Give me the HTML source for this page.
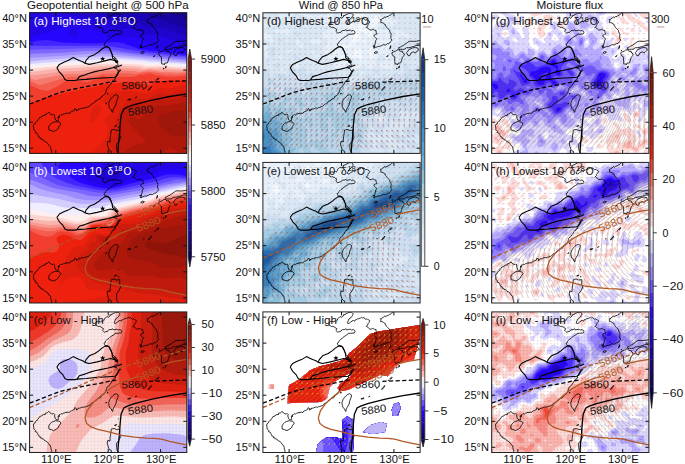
<!DOCTYPE html><html><head><meta charset="utf-8"><style>html,body{margin:0;padding:0;background:#fff;overflow:hidden}svg{display:block}text{font-family:"Liberation Sans",sans-serif}</style></head><body>
<svg width="685" height="464" viewBox="0 0 685 464">
<defs><clipPath id="cp"><rect x="0" y="0" width="157.2" height="140.6"/></clipPath>
<g id="geo" fill="none" stroke="#000" stroke-width="0.8" stroke-linejoin="round"><path d="M22.3 141.1 L22.2 139.9 L22 139.5 L22 138 L21.4 137.2 L21.2 135.4 L20.9 133.7 L20.4 133.3 L19.4 132.8 L18.9 131.7 L18.3 130.7 L17.3 129.9 L16.2 129.1 L15.5 129.1 L14.7 128.1 L13.8 127.1 L12.3 126.9 L12.1 126 L10.4 125.8 L10.5 124.5 L8.9 123.9 L8.5 122.9 L8.4 122.4 L7.9 121.4 L7.3 120.3 L5.5 119.7 L5.9 118.5 L5.2 117.7 L4 116.9 L4.2 115.6 L3.9 114 L3.7 113.1 L4.5 111.4 L5.6 111 L5.8 109.9 L6.8 108.7 L7.9 108.3 L8.2 107.3 L9.2 106.2 L10 104.7 L11.1 104.4 L12.1 104.1 L12.5 103.3 L14.1 102.6 L15.6 102.7 L15.7 101.3 L17.2 101 L17.8 100.8 L18.9 99.7 L19.3 99.4 L20.4 101 L22 101.8 L23.4 102.2 L24.1 101.5 L25.2 102.6 L24.9 104.1 L25.3 105.2 L25.7 106.8 L26.4 107.1 L27.2 108.1 L28.8 107.8 L28.7 106.4 L28.6 105.7 L29.6 104.7 L29.3 103.1 L30.5 102.7 L31.4 101.8 L32.7 102.1 L33.6 101.4 L35.1 101 L36.6 100.2 L36.6 100.9 L38.3 100.2 L39.9 100.7 L40.9 99.2 L41.7 98.9 L43 98.4 L44.5 97.7 L44.8 97.6 L45.1 95.8 L46.1 96.3 L47 97 L48.2 97.4 L48.9 96.1 L49.8 96.3 L50.9 96 L52.4 95.3 L53.6 95.2 L54.4 95.5 L55.5 94.8 L56.8 94.7 L58.5 93.9 L59.2 94 L60 93 L60.8 92.7 L61.7 91.4 L62.9 91.1 L63.9 90.1 L65 89.6 L65.4 88.6 L67.1 88 L67.1 88.2 L68.6 86.4 L69.8 86.3 L71.3 85.4 L72.1 83.3 L72.8 83.3 L73.5 82.8 L74.9 81.8 L75.6 80.7 L76 80.2 L76.2 79.2 L76.5 78.1 L77.1 76.8 L77 76 L77.3 75.3 L78.6 74.5 L79.4 73.9 L80.2 72.4 L80.8 71.9 L81.7 70.6 L81.7 69.8 L82.6 69 L83.3 67.7 L84.1 68.1 L84.5 66.5 L85.9 66.1 L85.5 64.4 L87 63.5 L86.7 61.9 L88 60.9 L88.2 59.3 L89.1 58.3 L88.4 58.3 L87.5 56.8 L87 55.6 L85.4 55.7 L84.6 55.1 L83.8 54.2 L84.8 54 L85.9 52.9 L87.8 53 L88.6 52.6 L88.3 51.9 L88 50.5 L86.9 50.2 L86.9 48.8 L85.4 47.9 L86.9 48.1 L87.2 48.4 L88.6 48.4 L87.6 47.6 L87 46.8 L86.5 45.8 L84.9 45.5 L85.5 44.8 L83.8 43.7 L82.8 42.5 L82.8 41.7 L82.9 41.3 L81.6 39.9 L81.2 38.5 L80 37.1 L80.5 36.4 L80.2 35.4 L78.8 34.4 L78.1 33.8 L76.8 33.6 L75.5 33.7 L74.9 32.8 L74.4 31.2 L75.8 30.4 L76 29.2 L76.8 28.5 L77.2 28 L78.1 27.1 L79.4 26.4 L80.2 25.5 L81.1 24.7 L82.3 24 L83.7 23.1 L84.2 23.2 L84.9 22.4 L85.5 21.4 L87.5 21.4 L89.2 21.4 L90.2 21 L91.2 21.4 L92.1 20.1 L92.2 19.8 L91.7 18.5 L90.4 17.7 L89 17.9 L88.6 18.2 L87.7 17.6 L87.3 17.2 L85.4 17.7 L83.6 18 L82.8 16.7 L81.9 17.7 L80.2 17.7 L79.3 17.8 L77.7 19.7 L77.6 19.3 L76.4 19.8 L74.9 20.3 L73.9 19.5 L73.1 18.7 L73.1 18.4 L73.9 16.7 L72.8 16.3 L71.8 15.1 L70.1 14.6 L69.9 14.4 L68.6 14.6 L68.1 14.1 L66.6 13.7 L66 12.5 L66.4 11.6 L66.5 9.9 L67.8 9.5 L68.6 9.4 L70.9 10 L71.3 9.4 L72.7 9.1 L73.4 9.4 L74.4 8.3 L74.7 6.9 L75.5 6.2 L76.3 5.8 L77.1 4.8 L78.1 4.9 L78.9 5.5 L79.5 5 L80.7 3.6 L80 3.2 L83.1 2.2 L83.3 1.6 L84.1 1.5 L85.9 0.5 L87.8 0.3 L88.6 0.3 L89.4 0.9 L90.1 1.6 L90.1 3.1 L89.4 3.8 L88.6 5.2 L88.1 5.8 L86.7 6.4 L86.5 7.3 L85.6 7.6 L85.4 8.9 L84.6 10.2 L84.9 11.5 L86.2 11.6 L87.5 10.4 L89.4 9.1 L89.4 8.8 L90.7 8.6 L91.7 9.4 L92.6 7.8 L93.4 7.9 L94.3 7 L95.2 6.9 L97 6.4 L97.5 6.2 L98.7 5.4 L99.6 6.1 L101.1 5.7 L101.1 5.8 L102.7 7.3 L104.2 7 L104.8 7.6 L106.2 8.2 L106.9 8.9 L106.5 10 L105.8 10.9 L105.2 11.7 L104.8 12.5 L105 13 L103.7 14.3 L103.2 14.8 L103.8 14.5 L105.2 15.7 L105.8 16.1 L107 17.2 L108.5 17.2 L109.5 16.6 L110.6 16.9 L111.7 17.4 L113.2 17.7 L113.2 19.3 L113.6 20.1 L114.2 21.1 L112.4 21.6 L112.1 21.9 L111.2 22.2 L111.1 23.4 L111.5 23.9 L112.7 25 L113.9 25.9 L113.7 26.6 L112.9 27.5 L112.7 28.6 L112.4 30.4 L112.1 31.2 L112.1 31.3 L111.6 33.3 L112.7 34.6 L113.6 34.3 L114.8 33.8 L115.3 33.6 L116.9 33.6 L118.4 32.8 L118.9 32.8 L120.5 31.8 L122.4 32.3 L123.1 32 L124.7 30.8 L125.2 31 L126.8 30.2 L127.5 29.2 L127.9 28.6 L129 27.4 L128.4 26 L127.9 25.6 L128.1 23.3 L127.9 22.9 L128.3 22.1 L127.9 20.3 L126.9 19.2 L126.8 17.7 L126.2 17.1 L125.5 16.2 L124.7 15.6 L123.9 14.8 L123.4 13.9 L122.6 13 L122.2 11.3 L121.5 11.3 L120.5 10.4 L118.9 9.7 L117.9 10 L117.9 8.9 L118 7.5 L117.4 6.8 L118.4 7.1 L119.5 5.7 L120.3 5.7 L121.9 3.9 L122.7 4.9 L123.7 4.2 L124 3.7 L125.3 3.7 L126.3 2.6 L127.4 2.5 L128.9 0.9 L129.4 0.8 L130 -0.5"/><path d="M135.7 37 L134.1 37 L132.6 38.5 L130.5 39.1 L128.9 40.1 L129.4 41.7 L130.2 43.2 L132 44.3 L131.8 46.3 L132 48.9 L132 51 L134.1 51.3 L134.7 52.1 L135.2 50.3 L136.5 50.3 L137.8 50 L138.6 47.9 L139.4 44.8 L141 42.7 L141.5 41.1 L139.9 40.1 L139.4 38.5 L137.3 38.5 L135.7 37"/><path d="M158.2 33.1 L155.1 32.5 L153 32.8 L150.9 33.6 L148.3 34.4 L145.7 34.9 L143.6 34.9 L141.5 36.5 L139.9 36.5 L137.8 36.5 L136.2 36.7 L135.7 34.9 L137.3 34.4 L138.9 33.3 L140.4 32.8 L142.5 31.2 L144.6 29.7 L146.2 28.6 L148.3 28.4 L150.9 28.6 L153.5 28.4 L156.2 27.9 L158.2 27.3"/><path d="M143.6 39.8 L145.1 42.7 L146.7 43 L148.3 40.1 L150.4 39.1 L152.7 40.1 L153.5 38.8 L155.6 37.5 L155.1 35.4 L152.5 34.6 L149.9 35.1 L147.2 36.2 L145.7 37 L145.1 38.3 L143.6 39.8"/><path d="M86.7 81.8 L88.6 83.1 L88.3 85.4 L87 88.5 L86.2 92.2 L84.4 95.3 L83.3 97.4 L83.1 99.5 L82.3 98.9 L81.7 96.9 L80.2 95.8 L79.4 93.7 L79.1 90.6 L80.2 87.5 L81.7 85.4 L83.3 83.8 L84.4 82.8 L86.7 81.8"/><path d="M27.8 109.1 L29.9 109.4 L31.4 111.2 L29.3 114 L28.8 115.6 L26.7 117.2 L24.1 118.7 L21.5 117.7 L19.4 117.2 L19.1 114 L20.4 112 L22 110.4 L23.6 109.6 L26.2 108.8 L27.8 109.1"/><path d="M81.7 141.1 L81.7 138.5 L80.2 138 L79.1 136.4 L78.3 133.8 L77.6 131.2 L78.1 128.6 L80.4 129.1 L80.4 126.5 L81 122.4 L81.7 117.2 L84.4 116.6 L87 117.7 L90.1 117.2 L90.1 122.4 L91.2 124.5 L89.1 128.6 L87 131.2 L87 135.4 L87.5 138.5 L89.1 140.1 L90.1 141.1"/><path d="M118.7 77.6 L120 75.5 L122.1 73.7 L121 75.5 L119.5 77.3 L118.7 77.6Z"/><path d="M126.8 67.2 L128.4 65.4 L129.4 65.6 L127.9 67.2 L126.8 67.2Z"/><path d="M133.4 56 L134.4 55.2 L134.1 56 L133.4 56Z"/><path d="M135.7 55.2 L136.5 53.1 L136.2 55.2 L135.7 55.2Z"/><path d="M111.1 40.1 L112.7 38.8 L114.8 39.3 L113.2 40.6 L111.1 40.1Z"/><path d="M126.8 35.9 L127.9 32.8 L127.6 35.4 L126.8 35.9Z"/><path d="M105.8 84.9 L107.2 84.1 L106.4 84.9 L105.8 84.9Z"/><path d="M98 87 L101.1 85.9 L100.6 87 L98 87Z"/><path d="M88.6 107.3 L89.1 106.8 L88.8 107.3 L88.6 107.3Z"/><path d="M89.1 57.8 L90.7 56.8 L91.2 57.8 L89.6 58.3 L89.1 57.8Z"/><path d="M85.4 48.9 L88.6 49.2 L88.3 49.7 L85.4 49.2 L85.4 48.9Z"/><path d="M110 33.3 L111.6 32.8 L111.1 33.8 L110 33.3Z"/><path d="M110.6 34.9 L112.1 34.6 L111.6 35.4 L110.6 34.9Z"/><path d="M123.7 43.7 L125.2 42.7 L124.7 43.7 L123.7 43.7Z"/><path d="M76 91.1 L77 90.1 L76.8 91.1 L76 91.1Z"/><path d="M84.9 113.5 L87 112.5 L86.5 113.5 L84.9 113.5Z"/><path d="M88.6 114.6 L89.1 114 L88.8 114.8 L88.6 114.6Z"/><path d="M46.4 97.9 L47.4 97.4 L47.2 97.9 L46.4 97.9Z"/><path d="M28.3 104.7 L29.3 103.6 L29.1 104.9 L28.3 104.7Z"/><path d="M77.6 81.2 L78.1 80.2 L78.3 81.2 L77.6 81.2Z"/><path d="M125.2 68.7 L125.8 68.2 L125.5 69 L125.2 68.7Z"/><path d="M113.7 76.5 L114.2 76 L114 76.8 L113.7 76.5Z"/><path d="M129.4 38 L130 37.2 L129.7 38 L129.4 38Z"/><path stroke-width="1.1" d="M27.3 55 L29.8 51.6 L34.2 49.4 L38.6 47.7 L43.6 44.7 L46.4 46.1 L49.7 47.7 L53.1 48.9 L55.3 50.5"/><path stroke-width="1.1" d="M55.3 50.5 L56.4 47.7 L59.7 43.9 L65.3 41.6 L69.5 38.7 L72.4 36.2 L74.7 34.7 L76.2 34 L79.2 34.7 L81.5 38.5 L82.6 42.3 L83 45.3 L85.3 46.8 L87.5 49.1"/><path stroke-width="1.1" d="M55.3 50.5 L59.7 51.6 L67.5 50 L74.1 48.3 L80.8 46.6 L85.2 47.7 L87.4 49.4"/><path stroke-width="1.1" d="M27.3 55 L29.8 59.4 L33.1 62.7 L35.3 66.6 L37.5 67.7 L45.3 67.7 L47.5 67.2 L56.4 66.6 L67.5 65.5 L78.6 64.9 L85.2 64.4 L87.5 62.7 L89.7 58.3"/><path stroke-width="1.1" d="M47.5 67.2 L49.7 63.8 L55.3 62.2 L59.7 60.5 L65.3 58.8 L70.8 57.7 L78.6 56.1 L83 55 L88.6 53.8 L92.4 52.2"/><path d="M73 43.6l0.8 1.7 1.8 0.1-1.4 1.1 0.5 1.8-1.7-1-1.6 1 0.5-1.8-1.4-1.1 1.8-0.1z" fill="#000" stroke="none"/></g>
<pattern id="grid" width="3.4" height="3.4" patternUnits="userSpaceOnUse"><path d="M0 0.5H3.4M0.5 0V3.4" stroke="#604040" stroke-width="0.7" stroke-opacity="0.08" fill="none"/></pattern><pattern id="dots" width="3.4" height="3.4" patternUnits="userSpaceOnUse"><rect x="1" y="1" width="0.9" height="0.9" fill="#503030" fill-opacity="0.35"/></pattern><clipPath id="fall"><path d="M24.6 91.4 L26.1 73.3 L36.7 67.3 L47.3 58.3 L56.3 54.5 L66.9 52.2 L77.4 49.2 L83.5 46.2 L86.3 41.4 L93.6 35.5 L100.9 28.3 L106.7 22.4 L115.5 19.5 L125.7 18 L134.5 16.6 L144.7 15.1 L157.3 13 L157.3 25 L155.6 30.6 L151 47.5 L137 50.5 L129.5 58.2 L125 64.3 L117.1 62.8 L107.6 67.3 L95.5 73.3 L85 77.9 L77.4 79.4 L74.4 76.4 L77.4 71.8 L88 64.3 L88 60.5 L80.4 64.3 L72.9 68.8 L66.9 74.9 L63.9 86.9 L57.8 90 L35.2 90.7ZM6 72.5 L11 72.5 L11 77 L6 77ZM52.8 141 L55 132 L62 126 L72 125 L79 127 L80 118 L79 108.7 L84 104 L90 108 L91 125 L90 141ZM100 120 L108 113 L118 110 L124 112 L122 120 L110 122ZM128.8 98 L131 92 L136 90.6 L137.8 96 L135 104 L130 104Z"/></clipPath>
</defs>
<g transform="translate(29.6,12.8)"><g clip-path="url(#cp)">
<rect x="-2" y="-2" width="161.2" height="144.6" fill="#0b024c"/>
<path fill="#0d0258" d="M-1 -1 158.2 -1 158.2 141.6 -1 141.6 -1 -1Z"/>
<path fill="#11026e" d="M-1 -1 158.2 -1 158.2 141.6 -1 141.6 -1 -1Z"/>
<path fill="#140387" d="M-1 -1 158.2 -1 158.2 141.6 -1 141.6 -1 -1Z"/>
<path fill="#18039e" d="M-1 -1 135.5 -1 136.8 0.3 139.5 0.3 140.8 1.6 146.2 1.6 147.1 2.9 152.8 2.9 154.2 4.2 156.9 4.2 158.2 5.5 158.2 141.6 -1 141.6 -1 -1Z"/>
<path fill="#1b04b7" d="M-1 -1 115.4 -1 115.6 0.3 124.8 4.5 142.1 10.3 156.9 15.9 158.2 16 158.2 141.6 -1 141.6 -1 -1Z"/>
<path fill="#1f04cd" d="M-1 -1 75.3 -1 76.1 0.3 100.7 7.6 118.1 13.4 126.1 15.1 130.1 14.5 131.4 14.8 158.2 23.9 158.2 141.6 -1 141.6 -1 -1Z"/>
<path fill="#2305e6" d="M-1 -1 15.1 -1 15.1 0.3 25.8 0.3 27.1 -1 33.8 -1 34.1 0.3 75.3 9.2 80.6 12.4 84.6 16.6 96.7 15.8 106 16.6 116.7 21.3 122.1 22.1 126.1 21.1 145.1 27.8 158.2 30.4 158.2 141.6 -1 141.6 -1 -1Z"/>
<path fill="#2706ff" d="M35.3 14.7 39.1 14.7 41.6 16 39.8 18.6 39.3 19.9 39.3 21.2 40.2 22.5 41.8 23.1 44.5 23.2 47.2 22.6 48.9 21.2 48.5 19.7 45.3 17.3 45.8 16.9 52.5 16.5 63.2 17.2 69.9 18.5 75.3 20.2 76.3 23.9 77.9 24.8 88.6 23.6 95.3 23.4 102 24.1 110 25.9 118.5 29.1 120.5 30.4 121.3 33 122.8 34.3 127.4 35.6 138.1 36.3 154.2 35.9 156.9 36.2 158.2 36.9 158.2 141.6 -1 141.6 -1 16 -0.2 17.3 0.3 25.2 15.1 20.2 35.3 14.7Z"/>
<path fill="#4225ff" d="M9.1 27.8 17.7 27.2 33.8 29.8 56.5 30.5 68.6 30.5 81.9 29.4 88.6 29.5 94.2 30.4 95.9 31.7 99.3 32.5 108 35.6 113.6 36.9 122.1 38.2 134.1 39.1 158.2 42.2 158.2 141.6 -1 141.6 -1 30.4 0.3 29.6 9.1 27.8Z"/>
<path fill="#6149ff" d="M-1 33 73.9 32.9 83.3 33.9 115.4 39.3 158.2 43.5 158.2 141.6 -1 141.6 -1 33Z"/>
<path fill="#7c68ff" d="M49.5 35.6 65.9 35.5 77.9 36 101.8 39.6 132.8 42.8 156.9 45 158.2 44.8 158.2 141.6 -1 141.6 -1 38.2 0.3 37 49.5 35.6Z"/>
<path fill="#9b8bff" d="M56.5 38.2 67.2 38.1 76.6 38.5 119.4 43.2 156.9 46.6 158.2 46.1 158.2 141.6 -1 141.6 -1 42.2 0.3 41 32.4 39.9 56.5 38.2Z"/>
<path fill="#b6abff" d="M44.2 42.2 63.2 41 77.9 41.1 156.9 48.1 158.2 48.7 158.2 141.6 -1 141.6 -1 46.1 0.3 45 44.2 42.2Z"/>
<path fill="#d4ceff" d="M49 44.8 67.2 43.6 81.9 43.7 158.2 50 158.2 141.6 -1 141.6 -1 48.7 16.4 47 49 44.8Z"/>
<path fill="#f0edff" d="M73.5 46.1 79.3 45.9 88.6 46.3 115.4 48.3 119.4 49 131.4 49.4 158.2 51.3 158.2 141.6 -1 141.6 -1 51.3 29.8 48.6 73.5 46.1Z"/>
<path fill="#feefee" d="M70.5 48.7 79.3 48.3 87.3 48.4 114.1 50.1 118.1 51.4 126.1 51 154.2 52.8 158.2 52.6 158.2 141.6 -1 141.6 -1 53.9 0.3 53.5 21.7 51.5 70.5 48.7Z"/>
<path fill="#fcd4d0" d="M62.5 51.3 87.3 50.7 111.4 51.9 112.7 52.1 115.4 53.4 116.7 53.5 123.4 53.5 127.4 52.9 152.8 54.4 156.9 54.3 158.2 53.9 158.2 141.6 -1 141.6 -1 56.6 0.3 56 15.1 54.5 62.5 51.3Z"/>
<path fill="#fab4ae" d="M64.1 53.9 76.6 52.9 88.6 53 110 53.9 114.1 55.5 120.7 55 126.1 55.3 128.8 54.8 152.8 56.1 156.9 55.8 158.2 55.3 158.2 141.6 -1 141.6 -1 59.2 5.7 58.7 15.1 57.2 24.4 56.2 64.1 53.9Z"/>
<path fill="#f89890" d="M77.9 55.3 107.4 56 108.7 56.1 111.4 57.4 120.7 56.3 127.4 57.1 134.1 56.8 150.2 57.8 156.9 57.3 158.2 57.9 158.2 141.6 -1 141.6 -1 63.1 0.3 62.1 3 62.5 7 62.1 32.4 58.6 47.2 58.2 77.9 55.3Z"/>
<path fill="#f6796e" d="M80 57.9 84.6 57.6 106 58.4 108.7 59.4 119.4 57.5 123.4 57.7 131.4 59.1 135.5 58.9 148.8 59.6 156.9 58.8 158.2 59.2 158.2 141.6 -1 141.6 -1 65.7 0.3 65.1 5.7 67.2 25.6 63.1 37.8 61.3 41.8 60.9 49.8 61.4 73.9 58.1 80 57.9Z"/>
<path fill="#f45d50" d="M114.8 59.2 120.7 59.1 124.8 59.7 126.1 59.6 127.4 60.1 128.8 60 132.8 61 146.2 61.6 158.2 60.5 158.2 141.6 -1 141.6 -1 68.3 0.3 68.2 7 71.1 11 72.4 25.8 67.7 39.1 64.1 44.5 64 51.2 64.9 53.9 64.9 67.2 62.6 73.9 60.5 77.9 61.1 90 60.5 103.3 61 106 61.5 114.8 59.2Z"/>
<path fill="#f23e2e" d="M109.8 61.8 111.4 62.2 120.7 60.5 124.8 62 136.8 63.6 144.8 63.9 156.9 62.6 158.2 63.1 158.2 141.6 -1 141.6 -1 72.3 0.3 72.2 9.7 76.5 16.4 77.9 19.1 77.4 23.1 75.9 27.1 73.9 33.8 69.4 36.5 68.3 39.1 67.7 44.5 67.5 53.9 69 57.9 69.1 63.2 67.7 71.2 63.5 73.9 62.9 75.3 63.1 79.3 64.8 94 64 102 64.2 104.7 63.9 106.6 63.1 108.7 62.8 109.8 61.8Z"/>
<path fill="#ee210f" d="M116.4 64.4 116.7 64.2 116.9 64.4 116.7 64.6 116.4 64.4ZM114.7 65.7 115.4 65.2 115.7 65.7 115.4 66 114.7 65.7ZM134.9 68.3 139.5 67.3 156.9 68 158.2 68.3 158.2 141.6 -1 141.6 -1 91.9 0.3 90.9 10.9 86.7 16.4 84.8 36.5 79.8 53.1 76.2 64.6 74.2 76.6 71.3 99.3 69.2 110 69.9 116.7 72.4 119.4 72.6 120.7 72.2 124.8 69.6 126.1 69.2 128.8 68.7 132.8 69 134.9 68.3Z"/>
<path fill="#df1f0e" d="M155.2 72.3 158.2 72.3 158.2 141.6 71.2 141.6 72.6 140.4 75.4 140.3 71.2 139.6 64 140.3 63.2 141.6 61.9 141.6 61.1 140.3 68.6 133.8 73.8 128.5 76.8 124.6 78.7 120.7 79.2 116.7 78.5 114.1 76.6 111.3 73.8 108.9 73.2 107.6 78.7 103.7 80.9 101 82.1 94.5 82 91.9 80.6 90 79.3 89.6 73.9 89.9 72.8 89.3 73 88 74.6 85.3 79.3 80.4 84.6 78.8 95.3 78 102 78.2 111.4 80 115.4 80.3 120.7 79.3 126.1 76.3 128.8 75.2 132.8 74.9 139.5 75.7 155.2 72.3ZM64.8 93.2 67.2 92.1 69.9 92.1 71.2 93.6 71.5 95.8 70.2 99.7 64.6 108.8 63.2 109.8 61.9 110 60.5 107.6 60.3 105 60.7 101 61.9 96.9 63.2 94.7 64.8 93.2Z"/>
<path fill="#ce1d0d" d="M148.8 78.8 152.8 78.3 158.2 78.8 158.2 141.6 84.6 141.6 83.9 140.3 83.6 137.7 82.6 135.1 81.7 133.8 79.3 131.6 79.1 129.8 83.3 123.3 85.1 119.4 85.8 116.7 87 106.3 89.1 99.7 91.4 95.8 96.4 90.6 99.3 86.6 102 85.9 111.4 86.3 116.7 85.9 120.7 84.7 127.4 80.8 131.4 80.3 136.8 81.7 139.5 81.7 143.5 80.8 148.8 78.8Z"/>
<path fill="#bf1a0c" d="M153.3 82.7 156.9 81.8 158.2 82.7 158.2 141.6 88.6 141.6 88.4 140.3 89 135.1 89.2 127.2 90.6 118.1 90.5 111.5 90.9 107.6 92.7 101 93.9 98.4 95.3 96.7 100.7 93.4 104.7 92.2 108.7 91.9 114.1 92.7 115.4 92.5 119.4 90.7 124.8 87.3 127.4 86.3 131.4 86 132.8 86.1 135.5 87.1 139.5 87.1 147.5 85.2 153.3 82.7Z"/>
<path fill="#ae180b" d="M156.7 88 158.2 88 158.2 141.6 148.8 141.6 147.5 140.3 147.5 139 144.8 136.4 143.5 136.4 142.1 135.1 139.5 135.1 136.8 137.7 135.5 137.7 132.8 140.3 131.4 140.3 130.1 141.6 106 141.6 104.7 140.8 94.4 140.3 96.7 137.4 99.3 135.4 103.3 133.3 111.4 130.8 116.8 129.8 108.3 119.4 100.7 111.9 99.1 108.9 98.9 107.6 99.3 106 100.7 105.2 102 104.9 106 105.2 108.7 105.9 110 105.7 124 94.5 127.4 92.6 132.8 92.5 135.5 93.1 138.1 92.8 150.2 90.3 156.7 88Z"/>
<path fill="#9f160a" d="M154.9 97.1 156.9 96.8 158.2 97.1 158.2 122 156.9 123.2 155.5 123.3 155.5 124.6 154.2 123.4 147.5 123.4 142.1 122.5 139.5 121.4 136.8 119.6 132.8 115.6 130.1 111.5 128.7 107.6 128.7 105 129.4 103.7 131.4 101.9 134.1 101 146.2 98.4 154.9 97.1Z"/>
<use href="#geo"/>
<path d="M0 91.2 L10 87.5 L20 83.5 L30.4 79.6 L40 77.2 L50 75.2 L60.8 73 L70 71.5 L80.4 69.2 L87 68.2" fill="none" stroke="#000" stroke-width="1.3" stroke-dasharray="4.2 2.4"/>
<path d="M119.5 69.4 L130 69 L145 68.5 L157.2 68" fill="none" stroke="#000" stroke-width="1.3" stroke-dasharray="4.2 2.4"/>
<path d="M88.2 141 L88.8 132 L89.7 124 L90.6 111 L91.5 102.3 L94.2 96.1 L97.7 94.3 L104.8 91.7 L122.5 87.3 L140.1 83.7 L157.2 81.1" fill="none" stroke="#000" stroke-width="1.3"/>
<text x="92.1" y="76.6" font-size="10.4" fill="#111" textLength="25.3" lengthAdjust="spacingAndGlyphs" transform="rotate(-2 92.1 76.6)">5860</text>
<text x="98.8" y="103.2" font-size="10.4" fill="#111" textLength="25.3" lengthAdjust="spacingAndGlyphs" transform="rotate(-8.5 98.8 103.2)">5880</text>
</g>
<rect x="0" y="0" width="157.2" height="140.6" fill="none" stroke="#222" stroke-width="1"/>
<path d="M0 5.2 h3.5 M157.2 5.2 h-3.5 M0 31.2 h3.5 M157.2 31.2 h-3.5 M0 57.3 h3.5 M157.2 57.3 h-3.5 M0 83.3 h3.5 M157.2 83.3 h-3.5 M0 109.4 h3.5 M157.2 109.4 h-3.5 M0 135.4 h3.5 M157.2 135.4 h-3.5 M26.2 0 v3.5 M26.2 140.6 v-3.5 M78.6 0 v3.5 M78.6 140.6 v-3.5 M131 0 v3.5 M131 140.6 v-3.5" stroke="#111" stroke-width="1" fill="none"/>
<text x="4.1" y="12.4" font-size="10.2" fill="#fff" textLength="73.3" lengthAdjust="spacingAndGlyphs">(a) Highest 10</text><text x="82.1" y="12.4" font-size="10.2" fill="#fff">δ</text><text x="88.6" y="9.1" font-size="7.6" fill="#fff">18</text><text x="98.1" y="12.4" font-size="10.2" fill="#fff">O</text>
</g>
<text x="26.9" y="21.7" font-size="10.2" text-anchor="end" fill="#111" textLength="24.7" lengthAdjust="spacingAndGlyphs">40°N</text>
<text x="26.9" y="47.7" font-size="10.2" text-anchor="end" fill="#111" textLength="24.7" lengthAdjust="spacingAndGlyphs">35°N</text>
<text x="26.9" y="73.8" font-size="10.2" text-anchor="end" fill="#111" textLength="24.7" lengthAdjust="spacingAndGlyphs">30°N</text>
<text x="26.9" y="99.8" font-size="10.2" text-anchor="end" fill="#111" textLength="24.7" lengthAdjust="spacingAndGlyphs">25°N</text>
<text x="26.9" y="125.9" font-size="10.2" text-anchor="end" fill="#111" textLength="24.7" lengthAdjust="spacingAndGlyphs">20°N</text>
<text x="26.9" y="151.9" font-size="10.2" text-anchor="end" fill="#111" textLength="24.7" lengthAdjust="spacingAndGlyphs">15°N</text>
<g transform="translate(262.9,12.8)"><g clip-path="url(#cp)">
<rect x="-2" y="-2" width="161.2" height="144.6" fill="#f8fbff"/>
<path fill="#f2f7fd" d="M-1 -1 158.2 -1 158.2 141.6 -1 141.6 -1 -1ZM92.3 21.2 91.3 23 91.4 24.6 92.3 25.5 93.9 25.4 94.6 24.6 94.9 23 93.9 21 92.3 21.2Z"/>
<path fill="#e5eff9" d="M-1 -1 77.7 -1 78.2 0.6 79.4 2.7 81.1 2.2 80.4 -1 90 -1 92.2 5.4 95.5 5.9 97.1 6.5 97.4 7 97 8.6 93.9 14.5 92.3 15.6 91.3 15 91.1 8.6 90.7 7.2 90.2 7 89.1 6.9 87.4 8.3 84.9 13.4 84.6 15 85.8 15.8 90.7 16.6 88.1 23 88.1 27.8 87.8 29.4 85.8 32 84.2 32.8 82.6 32.8 81 31.4 79.4 26.7 77.8 26.7 77.6 29.4 78 31 79.4 33.1 82.6 35.7 84.2 35.6 85.8 34.6 90.7 33.1 91.5 31 92.9 29.4 97.6 27.8 96.9 19.8 97.1 18.8 97.7 18.2 98.7 18 100.3 18.6 103.5 22 106.7 23.6 110 23.9 111.6 23.7 113.2 23 112.2 21.4 110 20.3 108.3 17.9 106.7 16.9 103.5 16.5 101.9 15.7 101.3 13.4 101.4 11.8 101.9 10.1 103.5 8.8 105.1 9.3 108.3 13.4 110 14.4 111.6 13.6 115.7 8.6 115.6 7 114.8 5.1 113.2 2.9 111.6 3.9 110 5.9 108.3 6.6 105.1 7 103.5 6.7 101.2 5.4 99.5 3.8 103.1 0.6 103.6 -1 158.2 -1 158.2 141.6 -1 141.6 -1 -1ZM3.8 22.9 3.8 24 5.4 24.6 5 23 3.8 22.9ZM74.6 51.8 74.5 51.9 74.6 52 74.8 51.9 74.6 51.8ZM77.8 40.6 77.2 42.3 77.8 44.1 79.4 45 81 44.3 81.4 42.3 81 41.6 79.4 40.6 77.8 40.6ZM93.9 34.8 92.7 35.9 91.5 39.1 90.7 40 87 42.3 86.8 43.9 89.1 44.7 93.9 44.3 95.5 44.9 97.1 46.5 98.7 47 99.5 43.9 99.1 40.7 98.1 37.5 97.1 35.4 95.5 34.7 93.9 34.8ZM101.9 27.5 100.6 27.8 99.2 29.4 100.3 29.7 102.4 29.4 103.6 27.8 101.9 27.5ZM108.3 33.7 106.7 35.7 106.2 39.1 106.7 41.7 108.3 45.1 110 44.5 110.5 43.9 111.6 42.3 111.7 40.7 110 35 108.3 33.7Z"/>
<path fill="#d9e6f4" d="M4.6 -1 14.9 -1 16.7 4.4 18.3 5.1 21.5 5.8 23.1 6.8 24.7 9.2 26 10.2 27.9 10.6 29 10.2 29.9 8.6 29.6 5.6 28.6 3.8 31.5 0.6 32 -1 34.5 -1 35.2 0.6 37.6 1.6 40.9 2.2 42.5 3.8 45.6 5.5 48.9 9.6 50.5 9.5 53.7 8.4 55.3 10 56.9 12.5 65.3 13.4 65.9 15 64.9 16.9 63.3 18.3 59.9 19.8 60.4 24.6 61.4 26.2 64.1 27.8 64.7 29.4 64.4 31 61.2 34.2 61.1 37.5 61.7 40.7 64.8 45.5 66.5 46.2 69.8 46.2 71.2 45.5 73 43.5 74.6 44.7 74.8 45.5 74.4 47.1 73 47.8 71.2 50.3 70.7 51.9 70.8 53.5 71.4 54.1 79.4 58.5 82.5 55.1 84.2 54.8 87.4 59.7 89.1 59.5 92.3 56.5 93.9 55.7 97.1 55 100.3 53.2 101.9 52.9 104.1 55.1 106.7 55.8 108.3 55.6 112.2 53.5 113.4 51.9 112.4 48.7 112.8 47.1 116.4 42.4 118 41.7 119.9 42.3 121.3 43.9 122.8 46.7 124.4 46.8 126 46.1 127.6 44.8 128.2 43.9 128.2 42.3 125.8 35.9 126 35 129.3 33.2 131.5 31 135.7 28.5 136.3 27.8 135.9 24.6 136.4 23 138.9 22.7 145.3 25.5 146.9 25.3 147.5 24.6 146.6 23 142.1 19.6 137.3 18 134.1 17.6 132.5 17.6 130.6 18.2 133.4 23 130.9 24.3 129.3 24.3 127.9 23 127.2 18.2 126 17.7 118.8 16.6 116.5 15 116.6 13.4 118 12.1 119.6 11.5 122.8 11.4 127.1 11.8 128.7 13.4 129.3 15.2 129.5 13.4 131.2 11.8 134 10.2 134.4 8.6 134.1 8 132.5 7.1 129.3 7.5 129 7 128.3 3.8 129.3 -0.1 129.7 0.6 132.5 1.2 134.1 0.7 134.9 -1 140.9 -1 141.5 0.6 143.7 1.4 145.3 1.2 146.4 0.6 147.2 -1 156.9 -1 158.2 -0 158.2 138.6 156.6 139.6 155.6 141.6 -1 141.6 -1 36.1 2.2 37.4 3.8 36.2 4.4 34.2 4.3 32.6 3.8 32.3 -1 31.4 -1 14.3 3.8 14 7 14.3 8.6 13.9 13.5 11.3 14.7 10.2 15.5 8.6 15.5 7 15.1 6.4 13.5 5.8 10.3 6 8.3 7 7 10.7 5.4 12.4 3.8 12.9 2.2 11.3 1.5 8.6 0.6 7.1 -1 6.5 -1 1.1 0.6 1.4 3.8 3 4.6 2.2 4.6 -1ZM19.9 16.6 18.3 18 15.1 17 13.5 16.8 11.9 17.5 11.3 18.2 12.4 19.8 13.5 20.2 18.3 20.4 19.9 21.5 26.3 22.7 27.9 22.5 28.3 21.4 28 19.8 27.3 18.2 25.9 16.6 24.7 15.8 23.1 15.4 21.5 15.6 19.9 16.6ZM29.6 35.6 27.9 35.9 24.7 38.2 23.9 39.1 24.7 40.2 27 39.1 28.8 37.5 29.6 35.6ZM32.8 27.5 32.5 29.4 33.3 31 35.6 32.6 37.6 35.2 39.2 35.4 40.2 34.2 40.4 32.6 39.6 31 36 27.3 34.4 26.8 32.8 27.5ZM39.2 18.2 39.1 18.2 39.2 18.3 39.3 18.2 39.2 18.2ZM42.4 12.5 41.8 13.4 42 15 42.4 15.4 44.5 15 45.3 13.4 44 12.1 42.4 12.5ZM48.9 26.1 47.1 27.8 47.5 29.4 48.9 31.1 50.5 31.6 56.2 31 56.9 30.9 58.3 29.4 57.7 27.8 55.3 26.8 52.1 26.1 48.9 26.1ZM55.3 15.8 54.9 16.6 55.3 17.3 56.9 16.6 55.3 15.8ZM60.1 49.7 58.5 50.4 57.5 51.9 57.3 53.5 58.5 54.4 60.1 54.4 61.7 53.5 62.1 51.9 61.7 50.3 60.1 49.7ZM98.7 58 97.2 61.5 97.7 63.1 98.7 63.4 100.3 61.6 100.6 59.9 100.3 58.2 98.7 58ZM132.5 45.4 130.9 45.7 127.6 48.8 124.7 48.7 122.8 47.7 118 49.7 115.2 51.9 116.2 53.5 118 54.5 127.6 57 129.3 55.9 130.9 51.4 134.1 49.6 135 48.7 135.4 47.1 134.4 45.5 132.5 45.4ZM3.8 38.7 2.2 39.3 1.7 42.3 2.2 44 3.8 44.5 5.1 43.9 5.6 42.3 3.8 38.7ZM0.6 20.4 -0.2 21.4 -0.2 23 0.5 24.6 2.2 26.9 8.6 29.5 10.3 28.3 10.4 27.8 8.9 23 8 21.4 7 20.7 3.8 19.8 2.2 19.8 0.6 20.4ZM16.7 43.5 15.9 43.9 15.7 45.5 16.7 46 18.3 46.1 19.2 45.5 18.3 43.9 16.7 43.5ZM23.1 26.4 22.5 27.8 23.1 29.5 24.7 28.8 25.1 27.8 24.7 26.6 23.1 26.4ZM32.8 50.2 31.7 51.9 32.1 53.5 32.8 54.3 34.4 54.9 36 54 36.4 53.5 36 51.5 34.4 50.3 32.8 50.2ZM48.9 37.1 48.4 39.1 50.9 42.3 52.8 43.9 53.7 44.1 55.8 43.9 55.8 42.3 52.1 39.6 50.5 37.8 48.9 37.1ZM116.4 104.7 115.8 106.4 116.8 108 118 108.4 119.8 108 120.1 106.4 119.6 105.6 118 104.6 116.4 104.7ZM18.3 56.4 18 56.7 18.2 58.3 19.9 58.5 20.9 58.3 21.7 56.7 19.9 55.6 18.3 56.4ZM42.7 -1 64.2 -1 64.2 0.6 63.8 2.2 63.3 2.7 61.7 3 58.5 2.2 50.5 3 48.9 2.8 47.2 1.9 44 1.4 43 0.6 42.7 -1ZM71.1 -1 75.5 -1 76 3.8 75.4 5.4 74.6 6.2 73 6.4 70.9 5.4 70.1 3.8 71.1 -1ZM116.2 -1 119.6 -1 120.9 3.8 119.6 4.6 118 4.2 117 2.2 116.2 -1ZM80.2 8.6 82.6 7.3 84.2 8.1 84.5 8.6 83.8 10.2 82.6 11.2 81 11.6 79.8 10.2 80.2 8.6ZM110.6 29.4 111.6 28.1 113.2 27.9 115 29.4 114.1 31 113.2 31.6 110.6 29.4ZM72.8 31 73 30.3 73 31.5 72.8 31ZM67.6 37.5 68.1 36.2 69.1 37.5 68.1 38 67.6 37.5ZM87.4 48.7 89.1 47.9 90.7 47.8 92.1 48.7 91 50.3 89.1 51.2 87.4 50.6 87.4 48.7Z"/>
<path fill="#ccdef0" d="M19.6 10.2 19.9 9.9 20.1 10.2 19.9 10.4 19.6 10.2ZM141.9 13.4 142.1 13.3 142.5 13.4 142.1 13.6 141.9 13.4ZM156.8 15 158.2 13.5 158.2 23.9 156.6 23.8 155.1 23 156 19.8 156.8 15ZM31.7 19.8 32.8 18.3 34.4 19.1 37 23 36 23.8 34.4 23.8 32.8 23 31.7 19.8ZM45.4 19.8 45.6 19.8 45.7 19.8 45.6 19.9 45.4 19.8ZM15.1 26.2 16.7 25.7 18.3 26.6 18.9 27.8 18.3 29.1 16.7 29 15.1 26.2ZM9.7 34.2 11.3 34.2 11.9 34.9 11.7 40.7 11.4 42.3 10.3 44.4 8.6 44.6 6.9 39.1 6.9 37.5 8.6 34.7 9.7 34.2ZM137.3 35.9 138.9 36.2 141.1 37.5 141.9 39.1 140.5 39.7 137.3 39.2 136.4 37.5 137.3 35.9ZM29.9 43.9 31.2 42.5 32.8 42.4 34.4 43.6 36 45.6 38.1 47.1 39.2 48.9 37.6 48.8 36 47.4 31.3 45.5 29.9 43.9ZM153.3 45.5 153.7 47.1 153.4 48.4 152 47.1 153.3 45.5ZM2.8 48.7 3.8 47.5 5.4 47.2 6.1 48.7 3.8 50.4 2.8 48.7ZM13.1 50.3 15.1 49.9 16.7 50.6 17.7 51.9 17.4 53.5 16.7 54.2 15.1 55.4 13.5 56 11.9 55.7 11.4 53.5 11.9 51.7 13.1 50.3ZM140 50.3 140.5 49.8 143.7 50.3 145.4 51.9 146 55.1 146.9 56.6 150.2 56.2 153.2 55.1 156.4 51.9 158.2 51.7 158.2 55.9 157.3 56.7 158.2 57.3 158.2 102.2 156.6 101.2 155 99.1 153.4 97.9 151.8 97.9 150.7 98.3 148.6 101 146.9 100.9 144.9 98.3 143.7 97.9 140.5 97.7 138.9 97.9 137.3 98.8 136.3 99.9 135.6 101.5 135.7 103.1 136.5 104.7 138.4 106.4 139.6 108 137.3 108.9 132.5 108.3 129.3 107.2 127.6 107.6 126.5 111.2 119.2 117.6 119.4 119.2 120.1 120.8 120.1 122.4 119.6 123 118 123.4 111.4 120.8 110.3 119.2 110.9 112.8 110 110.8 108.3 110.7 107 112.8 106.7 119.2 103.8 124 103.8 125.6 105.1 126.8 108.3 127 110 128.7 110.6 130.4 110.2 132 107.6 135.2 106.9 136.8 107.5 138.4 108.3 138.9 113.2 138.4 114.8 138.7 118 140.7 119.6 140.9 121.6 138.4 121.9 136.8 119.8 135.2 116.4 133.9 114.9 132 115.3 130.4 116.4 129.4 118 128.5 119.6 128.4 121.2 129 123 130.4 123.8 132 123.9 136.8 126.3 140 127 141.6 -1 141.6 -1 68.3 -0.3 67.9 -1 66.7 -1 59.3 3.8 58 6.6 58.3 6.5 61.5 6.8 63.1 8.6 64.5 10.3 64.7 11.9 63.2 12.5 61.5 13.5 60.5 15.1 60.2 19.9 61 23.1 63.3 24.7 63.8 25.4 63.1 26 61.5 25.9 53.5 26.3 52.7 27.9 51.9 31.2 56 32.8 57.2 34.4 57.5 37.6 56.1 40.8 53.5 41.7 55.1 42.1 59.9 42.4 60.8 44 62.1 45.6 61.6 47.2 60.1 48.9 59.4 50.5 60.5 53.7 63.6 55.3 63.9 61.7 62.6 63.3 62.7 68.1 63.7 73 66 74.6 65.3 76.2 64 77.8 63.6 79.4 63.7 84.2 65.2 86 66.3 87.4 68.6 89.1 69.6 90.7 69.4 93.1 67.9 93.9 67 97.1 66.9 99.7 66.3 103.5 62.9 105.1 62.5 110 64.6 113.2 65.2 116.4 65 122.8 63.4 127.6 64.4 130 61.5 134.1 58.8 135.6 61.5 137.1 63.1 137.8 63.1 138.9 62.7 140.5 60.4 142.1 59.1 143.8 58.3 141 55.1 140.3 53.5 140 50.3ZM32.8 60.8 31.2 63.1 31.7 64.7 32.8 65.6 34.4 66 36 65.7 36.9 64.7 36.9 63.1 36 61.7 34.4 60.6 32.8 60.8ZM113.2 101.2 111.8 103.1 112 104.7 113.2 108 114.7 109.6 116.4 110.3 119.6 110.8 121.2 110.5 122.8 109.6 123.9 108 123.7 106.4 121.2 103.4 119.6 102.3 116.4 101.1 113.2 101.2ZM130.9 91.9 129.8 93.5 130.9 94.6 132.5 94.4 133.8 93.5 133.1 91.9 132.5 91.7 130.9 91.9ZM134 53.5 134.9 55.1 134.1 57.8 133.1 55.1 134 53.5ZM113 56.7 114.8 56.9 116.3 58.3 115.6 59.9 114.8 60.4 113.2 60.7 111.6 59.9 111.1 58.3 113 56.7ZM70.3 58.3 71.4 57.5 73 57.5 74.5 58.3 74.8 59.9 74.6 60.4 73 61.1 71.4 60.6 70.6 59.9 70.3 58.3ZM92.1 61.5 92.5 61.5 92.9 63.1 92.3 64.1 90.8 63.1 92.1 61.5ZM147.7 104.7 148.6 104.3 151.9 106.4 153.6 108 154.6 111.2 156.6 115.5 158.2 117.6 158.2 123.7 156.6 123.2 155 121.9 153.4 121.4 151.8 121.9 148.6 125.5 146.9 125.8 143.7 125.3 143.5 125.6 143.4 127.2 143.7 128.5 144.2 128.8 145.3 129 148.6 128.5 151.8 128.9 154 130.4 154.9 132 154.4 133.6 153.4 134.9 150.3 136.8 149.5 138.4 150.1 140 150.1 141.6 135.3 141.6 134.9 140 133 136.8 133.4 135.2 134.1 134.7 137.3 134 140.5 134.4 141.4 135.2 143.7 139.4 145.3 139.6 147.3 138.4 148.6 137 149.4 136.8 148.6 136.7 144.3 133.6 142.1 131.2 137.3 129.8 134.1 127.4 130.9 125.6 129.3 124 129.1 122.4 132.5 117.7 134.1 117 135.8 117.6 136.5 122.4 137.3 123.4 138.9 124.1 142.1 124.6 142.7 124 142.6 122.4 140.4 117.6 140.6 116 142.1 114.7 145.3 113.7 146.4 112.8 146.7 111.2 146.3 108 146.5 106.4 146.9 105.3 147.7 104.7Z"/>
<path fill="#bad5ea" d="M154.5 61.5 158.2 62.2 158.2 65.3 155.9 64.7 153.7 63.1 154.5 61.5ZM15.7 63.1 16.7 62.7 18.3 62.9 18.7 63.1 19.5 64.7 18.3 65.5 16.7 64.9 15.7 63.1ZM143.6 63.1 150.2 68.5 158.2 70.2 158.2 74.5 156.6 75.6 153.4 80.2 150.2 81.3 148.6 81.4 146.9 80.8 145.3 79.3 143.7 75.3 142.1 75.4 141.5 75.9 140.7 77.5 141.8 80.7 141.9 82.3 139.6 87.1 139.3 88.7 140.1 90.3 144 91.9 143 93.5 142.1 93.9 140.1 93.5 138.1 90.3 130.9 87.2 129.3 87.2 126 89.7 124.4 90.4 122.8 90.3 121.2 86.9 119.9 85.5 118 85.2 116.4 85.5 115 87.1 114.9 88.7 115.4 90.3 116.4 91.2 118.8 91.9 119.6 92.7 119.9 93.5 118.9 95.1 115.8 96.7 111.6 97.9 110 98.7 109 99.9 107.9 103.1 106.7 105 100.3 104.2 98.7 104.2 97.8 104.7 97.2 106.4 97.7 108 98.7 109 101.9 110 103.5 110.9 104.1 112.8 103.8 116 101.6 119.2 100.9 127.2 101.1 128.8 101.9 129.9 105.1 132 103.5 134.2 100.3 131.8 98.7 131.1 97.1 130.8 96.1 132 97.6 138.4 100.3 141.6 -1 141.6 -1 74.1 2.2 74.1 3.8 74.6 7.7 77.5 16 80.7 18.3 82.9 19.9 82.9 20.8 82.3 21.1 80.7 20.3 79.1 20.2 77.5 21.5 76.3 24.7 75.5 34.4 75 37.2 75.9 38.1 77.5 38.2 79.1 39 80.7 40.8 81.8 42.4 82.2 44 80.5 44.6 77.5 44 76.3 40.5 74.3 40.3 72.7 42.4 69.6 45.6 67.7 47.2 67.3 48.9 67.7 50.5 69 52.1 69.2 53.7 68.9 58.5 66.6 61.7 66.5 68.1 67.6 73 71.1 74.6 71.4 77.8 66.9 79.4 66.2 80.8 66.3 83.8 67.9 84.4 69.5 84 71.1 81.7 72.7 81.1 74.3 82.5 80.7 82.6 81 84.2 81.1 85.1 79.1 85.8 74.2 86.6 72.7 87.4 72.4 90.7 72.3 93.9 72.7 95.5 72.4 103.5 67.8 105.1 67.1 106.7 66.9 110 67.6 114.8 69.2 116.4 69.2 121.2 67.1 122.8 67.1 127.6 70.1 129.3 70.5 130.9 70.1 131.5 69.5 132.5 67 134.1 66.1 137.3 68.4 138.9 68.9 140.5 68.7 141.7 67.9 142.2 64.7 143.6 63.1ZM37.6 101.3 37.6 101.8 39.2 103.2 40.7 101.5 39.2 100 37.6 101.3ZM53.7 77 53.2 77.5 53.7 79.2 54.7 77.5 53.7 77ZM103.5 82.1 103.3 82.3 103.5 82.8 104.3 82.3 103.5 82.1ZM4.9 67.9 5.4 66.6 7 66.5 8.6 67 10.3 67.9 11.8 71.1 7 70.9 5.4 69.9 4.9 67.9ZM11.6 72.7 11.9 71.2 15.1 71.8 16.8 72.7 16.8 74.3 15.1 75.3 13.5 75 11.6 72.7ZM146.2 85.5 146.9 84.6 148.6 84.3 150 85.5 150.7 87.1 150.9 90.3 150.2 90.9 148.6 91 145.7 90.3 145.4 88.7 146.2 85.5Z"/>
<path fill="#a5cce2" d="M105.8 71.1 108.3 70.4 110.2 71.1 111.4 72.7 110 74.1 106.7 75 103.5 77.6 101.9 77.9 100.3 77.5 100.7 75.9 101.9 74.3 105.8 71.1ZM151.4 74.3 153.4 72.9 153.4 74.6 150.4 77.5 149.3 77.5 149.8 75.9 151.4 74.3ZM75.6 77.5 76.2 76.7 77.8 76 79.1 77.5 79.5 80.7 78.8 82.3 77.8 83.3 76.1 83.9 75.5 87.1 74.6 88.6 73 88.9 69.8 88 68.8 88.7 69.8 89.3 70.3 90.3 70.4 95.1 70.9 96.7 76.2 99.8 79.4 100.3 81 100.1 83 96.7 88 93.5 88.2 91.9 87.4 90.3 84.5 88.7 83.4 87.1 86.4 83.9 87.5 79.1 89.1 76 90.7 77.6 92.3 79.9 93.9 80.9 97.1 81.1 98 82.3 98 83.9 97.2 85.5 94.4 87.1 93.9 88.7 94.7 91.9 94 93.5 90.7 96.6 90.3 98.3 90.7 101.5 91.6 103.1 94.4 106.4 95.2 109.6 95.1 111.2 93.9 111.4 89.1 108.9 87.4 108.8 85.8 110.1 84.2 112.8 81 114.6 75 119.2 74 120.8 73.9 124 73 125.6 71.5 124 68 122.4 68.8 120.8 71.9 119.2 72.5 117.6 72.2 116 70.2 112.8 69.8 111.2 70.8 108 70.4 106.4 68.1 104.8 64.9 104.4 63.3 105 62.4 106.4 62.3 108 62.9 109.6 65.3 112.8 65.5 114.4 64.9 118.9 63.3 119.8 61.7 119.5 58.8 117.6 57 114.4 56.6 111.2 57.1 106.4 54.5 101.5 55.3 99.9 61.7 98.6 65.5 96.7 65.7 95.1 64.8 91.9 62.6 88.7 60.1 83.1 58.9 82.3 60.1 81.8 63.3 82 68.1 79.8 69.8 79.9 74.6 82.7 75.6 77.5ZM79.4 106.3 78 108 79.4 109.6 81.1 108 81.1 106.4 79.4 106.3ZM117.9 79.1 119.6 79.5 120.7 80.7 120.7 82.3 119.6 83 118 83.1 116 82.3 115.9 80.7 116.4 79.9 117.9 79.1ZM3.9 80.7 5.4 80.2 7 80.5 10.7 82.3 13.5 84.2 14.1 85.5 14.2 87.1 13.5 87.7 10.3 84.5 8.6 84.4 3.8 85.7 3.1 83.9 3.2 82.3 3.9 80.7ZM49.7 83.9 50.5 83.7 52.1 84.1 54.1 85.5 54.3 87.1 53.8 88.7 52.1 89.9 50.5 90 48.7 88.7 48.5 85.5 48.9 84.5 49.7 83.9ZM21.9 85.5 23.1 84.6 24.7 84.1 26.3 84.4 27 85.5 26.9 87.1 26.1 88.7 24.7 89.6 21.8 90.3 20.7 91.9 20.8 93.5 21.6 95.1 23.1 96 24.7 95.7 27.9 93.5 29.6 92.9 31.2 94.6 32.8 99.2 34.9 103.1 37.6 105.7 39.2 106.3 40.8 106.2 44 103.3 45.6 103.2 49 106.4 50.6 111.2 50.4 112.8 48.9 115 47.2 115 46.5 114.4 45.2 111.2 44 109.7 42.4 109.3 40.8 110.2 40.2 111.2 40.3 112.8 43.9 116 44.8 117.6 44.5 122.4 42.8 127.2 43 128.8 44 130.4 45.6 130.7 46.8 128.8 48.9 127.6 50.5 127.5 55.3 128.3 58.5 128.2 59.9 127.2 61.7 124.2 63.3 123.2 64.9 123.2 65.5 124 65.4 127.2 64.1 128.8 61.7 129.9 61.2 132 61.7 133.8 65.4 136.8 68.3 141.6 58.7 141.6 58.4 140 56.9 138.4 53.7 136.6 50.5 132.7 47.2 131.9 46.4 133.6 46.7 136.8 49.7 141.6 41.5 141.6 40.8 138.4 39.2 135.4 37.6 135.5 35 140 34.5 141.6 -1 141.6 -1 88.3 3.8 87.5 10.3 91.3 11.9 93 13.5 93.4 15.1 92.4 16.7 90.2 19.9 88.6 21.9 85.5ZM26.3 103 26.3 103.3 28 103.1 27.9 103.1 26.3 103ZM27.9 107.3 27.1 109.6 27 111.2 27.6 112.8 29.6 113.9 31.2 113.9 31.9 112.8 31.2 109.7 29.6 107.5 27.9 107.3ZM31.8 85.5 32.8 84.6 36 84.7 37.8 85.5 39.1 87.1 41.4 91.9 41.2 93.5 39.2 95.6 37.6 94.8 36 91.9 32.8 90.1 31.9 88.7 31.8 85.5ZM101.8 98.3 103.5 97.1 104.5 98.3 103.5 100.2 101.8 99.9 101.8 98.3ZM82.7 119.2 84.2 118.5 85.8 118.4 95.5 119.6 97.1 120.1 98.7 121.4 99.1 122.4 98.9 124 98.7 124.6 97.1 125.6 90.7 123.5 89.9 124 89 125.6 88.7 127.2 89.1 127.6 89.5 130.4 89.2 132 88.5 132 87.4 131.7 87 130.4 87 127.2 82.3 124 81.7 122.4 81.7 120.8 82.7 119.2ZM52.4 120.8 53.7 119.8 55.3 120 55.9 120.8 55.7 122.4 53.7 124 52.1 122.9 52.4 120.8ZM67.7 132 68.1 131.3 69.8 131 70.7 132 69.8 133.4 68.1 132.9 67.7 132ZM91.5 135.2 92.3 134.3 93.9 134.9 94.4 136.8 93.9 137.6 92.3 137.4 91.8 136.8 91.5 135.2ZM74.4 136.8 81 135.4 82.6 136.2 82.8 136.8 81 137.6 76.2 138.7 74.6 138.5 74.4 136.8Z"/>
<path fill="#8cbedc" d="M1.5 93.5 3.8 92.5 5.4 92.8 6.4 93.5 7.6 98.3 8.6 100.7 10.3 102.5 11.9 102.8 13.3 101.5 13 98.3 13.5 97.6 15.1 96.8 16.7 97.3 19.9 100.9 21.3 104.7 23.7 108 24.9 112.8 25.7 114.4 28 116 29.5 117.6 29.2 119.2 27.2 120.8 26.2 122.4 27.3 124 29.6 125.6 29.8 127.2 26.3 130 25.9 132 27.9 134.4 32.8 136.2 33.1 136.8 29.5 140 28.9 141.6 -1 141.6 -1 95.2 0.6 94.4 1.5 93.5ZM56.6 132 57.2 132 57.5 133.6 56.9 133.8 56.5 133.6 56.6 132Z"/>
<path fill="#70aed6" d="M1.9 99.9 3.8 98.4 5.4 99.4 8.6 105.8 10.3 106.7 15.1 107.9 17 109.6 17.9 111.2 16.8 116 16.9 117.6 18.9 122.4 19.4 125.6 21.9 130.4 22.2 135.2 23 138.4 23 141.6 -1 141.6 -1 103.5 0.6 102.5 1.9 99.9Z"/>
<path fill="#5ba0cd" d="M-1 108 -1 107.2 2.2 107.8 3.8 108.6 6.1 111.2 7.2 114.4 8.6 117 10.3 117 11.9 116 13.5 115.6 15.1 119.1 15.8 122.4 15.3 125.6 13 130.4 13.1 133.6 13.8 135.2 15.3 136.8 19.5 140 20.2 141.6 -1 141.6 -1 108Z"/>
<path fill="#4790c5" d="M1.8 116 2.2 115.2 3.8 116.1 8 124 9.7 128.8 10.8 135.2 11.6 136.8 16 140 17.2 141.6 -1 141.6 -1 116.6 0.6 116.5 1.8 116Z"/>
<path fill="#377fbc" d="M-1 120.8 -1 120.1 0.6 120.5 2.3 122.4 1.8 125.6 0.6 128.4 -1 130.5 -1 120.8ZM2.3 133.6 5.4 133.1 7 133.8 9.4 141.6 -1 141.6 -1 134.8 2.3 133.6Z"/>
<path d="M5.2 5.2L6.2 5M10.5 5.2L11.5 5M15.7 5.2L16.7 5M21 5.2L21.9 5M26.2 5.2L27.2 5M31.4 5.2L32.4 5M36.7 5.2L37.7 5M41.9 5.2L42.9 5M47.2 5.2L48.1 5M52.4 5.2L53.4 5M57.6 5.2L58.6 5M62.9 5.2L63.9 5M68.1 5.2L69.1 5M73.4 5.2L74.3 5M78.6 5.2L79.6 5M83.8 5.2L84.8 5M89.1 5.2L90.1 5M94.3 5.2L95.3 5M99.6 5.2L100.5 5M104.8 5.2L105.8 5M110 5.2L111 5M115.3 5.2L116.3 5M120.5 5.2L121.5 5M125.8 5.2L126.7 5M131 5.2L132 5M136.2 5.2L137.2 5M141.5 5.2L142.5 5M146.7 5.2L147.7 5M152 5.2L152.9 5M5.2 10.4L6.2 10.2M10.5 10.4L11.5 10.2M15.7 10.4L16.7 10.2M21 10.4L21.9 10.2M26.2 10.4L27.2 10.2M31.4 10.4L32.4 10.2M36.7 10.4L37.7 10.2M41.9 10.4L42.9 10.2M47.2 10.4L48.1 10.2M52.4 10.4L53.4 10.2M57.6 10.4L58.6 10.2M62.9 10.4L63.9 10.2M68.1 10.4L69.1 10.2M73.4 10.4L74.3 10.2M78.6 10.4L79.6 10.2M83.8 10.4L84.8 10.2M89.1 10.4L90.1 10.2M94.3 10.4L95.3 10.2M99.6 10.4L100.5 10.2M104.8 10.4L105.8 10.2M110 10.4L111 10.2M115.3 10.4L116.3 10.2M120.5 10.4L121.5 10.2M125.8 10.4L126.7 10.2M131 10.4L132 10.2M136.2 10.4L137.2 10.2M141.5 10.4L142.5 10.2M146.7 10.4L147.7 10.2M152 10.4L152.9 10.2M5.2 15.6L6.2 15.4M10.5 15.6L11.5 15.4M15.7 15.6L16.7 15.4M21 15.6L21.9 15.4M26.2 15.6L27.2 15.4M31.4 15.6L32.4 15.4M36.7 15.6L37.7 15.4M41.9 15.6L42.9 15.4M47.2 15.6L48.1 15.4M52.4 15.6L53.4 15.4M57.6 15.6L58.6 15.4M62.9 15.6L63.9 15.4M68.1 15.6L69.1 15.4M73.4 15.6L74.3 15.4M78.6 15.6L79.6 15.4M83.8 15.6L84.8 15.4M89.1 15.6L90.1 15.4M94.3 15.6L95.3 15.4M99.6 15.6L100.5 15.4M104.8 15.6L105.8 15.4M110 15.6L111 15.4M115.3 15.6L116.3 15.4M120.5 15.6L121.5 15.4M125.8 15.6L126.7 15.4M131 15.6L132 15.4M136.2 15.6L137.2 15.4M141.5 15.6L142.5 15.4M146.7 15.6L147.7 15.4M152 15.6L152.9 15.4M5.2 20.8L6.2 20.6M10.5 20.8L11.5 20.6M15.7 20.8L16.7 20.6M21 20.8L21.9 20.6M26.2 20.8L27.2 20.6M31.4 20.8L32.4 20.6M36.7 20.8L37.7 20.6M41.9 20.8L42.9 20.6M47.2 20.8L48.1 20.6M52.4 20.8L53.4 20.6M57.6 20.8L58.6 20.6M62.9 20.8L63.9 20.6M68.1 20.8L69.1 20.6M73.4 20.8L74.3 20.6M78.6 20.8L79.6 20.6M83.8 20.8L84.8 20.6M89.1 20.8L90.1 20.6M94.3 20.8L95.3 20.6M99.6 20.8L100.5 20.6M104.8 20.8L105.8 20.6M110 20.8L111 20.6M115.3 20.8L116.3 20.6M120.5 20.8L121.5 20.6M125.8 20.8L126.7 20.6M131 20.8L132 20.6M136.2 20.8L137.2 20.6M141.5 20.8L142.5 20.6M146.7 20.8L147.7 20.6M152 20.8L152.9 20.6M5.2 26L6.2 25.8M10.5 26L11.5 25.8M15.7 26L16.7 25.8M21 26L21.9 25.8M26.2 26L27.2 25.8M31.4 26L32.4 25.8M36.7 26L37.7 25.8M41.9 26L42.9 25.8M47.2 26L48.1 25.8M52.4 26L53.4 25.8M57.6 26L58.6 25.8M62.9 26L63.9 25.8M68.1 26L69.1 25.8M73.4 26L74.3 25.8M78.6 26L79.6 25.8M83.8 26L84.8 25.8M89.1 26L90.1 25.8M94.3 26L95.3 25.8M99.6 26L100.5 25.8M104.8 26L105.8 25.8M110 26L111 25.8M115.3 26L116.3 25.8M120.5 26L121.5 25.8M125.8 26L126.7 25.8M131 26L132 25.8M136.2 26L137.2 25.8M141.5 26L142.5 25.8M146.7 26L147.7 25.8M152 26L152.9 25.8M5.2 31.2L6.2 31M10.5 31.2L11.5 31M15.7 31.2L16.7 31M21 31.2L21.9 31M26.2 31.2L27.2 31M31.4 31.2L32.4 31M36.7 31.2L37.7 31M41.9 31.2L42.9 31M47.2 31.2L48.1 31M52.4 31.2L53.4 31M57.6 31.2L58.6 31M62.9 31.2L63.9 31M68.1 31.2L69.1 31M73.4 31.2L74.3 31M78.6 31.2L79.6 31M83.8 31.2L84.8 31M89.1 31.2L90.1 31M94.3 31.2L95.3 31M99.6 31.2L100.5 31M104.8 31.2L105.8 31M110 31.2L111 31M115.3 31.2L116.3 31M120.5 31.2L121.5 31M125.8 31.2L126.7 31M131 31.2L132 31M136.2 31.2L137.2 31M141.5 31.2L142.5 31M146.7 31.2L147.7 31M152 31.2L152.9 31M5.2 36.5L6.2 36.2M10.5 36.5L11.5 36.2M15.7 36.5L16.7 36.2M21 36.5L21.9 36.2M26.2 36.5L27.2 36.2M31.4 36.5L32.4 36.2M36.7 36.5L37.7 36.2M41.9 36.5L42.9 36.2M47.2 36.5L48.1 36.2M52.4 36.5L53.4 36.2M57.6 36.5L58.6 36.2M62.9 36.5L63.9 36.2M68.1 36.5L69.1 36.2M73.4 36.5L74.3 36.2M78.6 36.5L79.6 36.2M83.8 36.5L84.8 36.2M89.1 36.5L90.1 36.2M94.3 36.5L95.3 36.2M99.6 36.5L100.5 36.2M104.8 36.5L105.8 36.2M110 36.5L111 36.2M115.3 36.5L116.3 36.2M120.5 36.5L121.5 36.2M125.8 36.5L126.7 36.2M131 36.5L132 36.2M136.2 36.5L137.2 36.2M141.5 36.5L142.5 36.2M146.7 36.5L147.7 36.2M152 36.5L152.9 36.2M5.2 41.7L6.2 41.4M10.5 41.7L11.5 41.4M15.7 41.7L16.7 41.4M21 41.7L21.9 41.4M26.2 41.7L27.2 41.4M31.4 41.7L32.4 41.4M36.7 41.7L37.7 41.4M41.9 41.7L42.9 41.4M47.2 41.7L48.1 41.4M52.4 41.7L53.4 41.4M57.6 41.7L58.6 41.4M62.9 41.7L63.9 41.4M68.1 41.7L69.1 41.4M73.4 41.7L74.3 41.4M78.6 41.7L79.6 41.4M83.8 41.7L84.8 41.4M89.1 41.7L90.1 41.4M94.3 41.7L95.3 41.4M99.6 41.7L100.5 41.4M104.8 41.7L105.8 41.4M110 41.7L111 41.4M115.3 41.7L116.3 41.4M120.5 41.7L121.5 41.4M125.8 41.7L126.7 41.4M131 41.7L132 41.4M136.2 41.7L137.2 41.4M141.5 41.7L142.5 41.4M146.7 41.7L147.7 41.4M152 41.7L152.9 41.4M5.2 46.9L6.2 46.6M10.5 46.9L11.5 46.6M15.7 46.9L16.7 46.6M21 46.9L21.9 46.6M26.2 46.9L27.2 46.6M31.4 46.9L32.4 46.6M36.7 46.9L37.7 46.6M41.9 46.9L42.9 46.6M47.2 46.9L48.1 46.6M52.4 46.9L53.4 46.6M57.6 46.9L58.6 46.6M62.9 46.9L63.9 46.6M68.1 46.9L69.1 46.6M73.4 46.9L74.3 46.6M78.6 46.9L79.6 46.6M83.8 46.9L84.8 46.6M89.1 46.9L90.1 46.6M94.3 46.9L95.3 46.6M99.6 46.9L100.5 46.6M104.8 46.9L105.8 46.6M110 46.9L111 46.6M115.3 46.9L116.3 46.6M120.5 46.9L121.5 46.6M125.8 46.9L126.7 46.6M131 46.9L132 46.6M136.2 46.9L137.2 46.6M141.5 46.9L142.5 46.6M146.7 46.9L147.7 46.6M152 46.9L152.9 46.6M5.2 52.1L6.2 51.8M10.5 52.1L11.5 51.8M15.7 52.1L16.7 51.8M21 52.1L21.9 51.8M26.2 52.1L27.2 51.8M31.4 52.1L32.4 51.8M36.7 52.1L37.7 51.8M41.9 52.1L42.9 51.8M47.2 52.1L48.1 51.8M52.4 52.1L53.4 51.8M57.6 52.1L58.6 51.8M62.9 52.1L63.9 51.8M68.1 52.1L69.1 51.8M73.4 52.1L74.3 51.8M78.6 52.1L79.6 51.8M83.8 52.1L84.8 51.8M89.1 52.1L90.1 51.8M94.3 52.1L95.3 51.8M99.6 52.1L100.5 51.8M104.8 52.1L105.8 51.8M110 52.1L111 51.8M115.3 52.1L116.3 51.8M120.5 52.1L121.5 51.8M125.8 52.1L126.7 51.8M131 52.1L132 51.8M136.2 52.1L137.2 51.8M141.5 52.1L142.5 51.8M146.7 52.1L147.7 51.8M152 52.1L152.9 51.8M5.2 57.3L6.2 57.1M10.5 57.3L11.5 57.1M15.7 57.3L16.7 57.1M21 57.3L21.9 57.1M26.2 57.3L27.2 57.1M31.4 57.3L32.4 57.1M36.7 57.3L37.7 57.1M41.9 57.3L42.9 57.1M47.2 57.3L48.1 57.1M52.4 57.3L53.4 57.1M57.6 57.3L58.6 57.1M62.9 57.3L63.9 57.1M68.1 57.3L69.1 57.1M73.4 57.3L74.3 57.1M78.6 57.3L79.6 57.1M83.8 57.3L84.8 57.1M89.1 57.3L90.1 57.1M94.3 57.3L95.3 57.1M99.6 57.3L100.5 57.1M104.8 57.3L105.8 57.1M110 57.3L111 57.1M115.3 57.3L116.3 57.1M120.5 57.3L121.5 57.1M125.8 57.3L126.7 57.1M131 57.3L132 57.1M136.2 57.3L137.2 57.1M141.5 57.3L142.5 57.1M146.7 57.3L147.7 57.1M152 57.3L152.9 57.1M5.2 62.5L6.4 61.6M10.5 62.5L11.6 61.6M15.7 62.5L16.9 61.6M21 62.5L22.1 61.6M26.2 62.5L27.3 61.6M31.4 62.5L32.6 61.6M36.7 62.5L37.8 61.6M41.9 62.5L43.1 61.6M47.2 62.5L48.3 61.6M52.4 62.5L53.5 61.6M57.6 62.5L58.8 61.6M62.9 62.5L64 61.6M68.1 62.5L69.3 61.6M73.4 62.5L74.5 61.6M78.6 62.5L79.7 61.6M83.8 62.5L85 61.6M89.1 62.5L90.2 61.6M94.3 62.5L95.5 61.6M99.6 62.5L100.7 61.6M104.8 62.5L105.9 61.6M110 62.5L111.2 61.6M115.3 62.5L116.4 61.6M120.5 62.5L121.7 61.6M125.8 62.5L126.9 61.6M131 62.5L132.1 61.6M136.2 62.5L137.4 61.6M141.5 62.5L142.6 61.6M146.7 62.5L147.9 61.6M152 62.5L153.1 61.6M5.2 67.7L6.6 66.1M6.6 66.1L6.5 66.8M6.6 66.1L5.9 66.3M10.5 67.7L11.8 66.1M11.8 66.1L11.7 66.8M11.8 66.1L11.1 66.3M15.7 67.7L17.1 66.1M17.1 66.1L17 66.8M17.1 66.1L16.4 66.3M21 67.7L22.3 66.1M22.3 66.1L22.2 66.8M22.3 66.1L21.6 66.3M26.2 67.7L27.5 66.1M27.5 66.1L27.4 66.8M27.5 66.1L26.8 66.3M31.4 67.7L32.8 66.1M32.8 66.1L32.7 66.8M32.8 66.1L32.1 66.3M36.7 67.7L38 66.1M38 66.1L37.9 66.8M38 66.1L37.3 66.3M41.9 67.7L43.3 66.1M43.3 66.1L43.2 66.8M43.3 66.1L42.6 66.3M47.2 67.7L48.5 66.1M48.5 66.1L48.4 66.8M48.5 66.1L47.8 66.3M52.4 67.7L53.7 66.1M53.7 66.1L53.6 66.8M53.7 66.1L53 66.3M57.6 67.7L59 66.1M59 66.1L58.9 66.8M59 66.1L58.3 66.3M62.9 67.7L64.2 66.1M64.2 66.1L64.1 66.8M64.2 66.1L63.5 66.3M68.1 67.7L69.5 66.1M69.5 66.1L69.4 66.8M69.5 66.1L68.8 66.3M73.4 67.7L74.7 66.1M74.7 66.1L74.6 66.8M74.7 66.1L74 66.3M78.6 67.7L79.9 66.1M79.9 66.1L79.8 66.8M79.9 66.1L79.2 66.3M83.8 67.7L85.2 66.1M85.2 66.1L85.1 66.8M85.2 66.1L84.5 66.3M89.1 67.7L90.4 66.1M90.4 66.1L90.3 66.8M90.4 66.1L89.7 66.3M94.3 67.7L95.7 66.1M95.7 66.1L95.6 66.8M95.7 66.1L95 66.3M99.6 67.7L100.9 66.1M100.9 66.1L100.8 66.8M100.9 66.1L100.2 66.3M104.8 67.7L106.1 66.1M106.1 66.1L106 66.8M106.1 66.1L105.4 66.3M110 67.7L111.4 66.1M111.4 66.1L111.3 66.8M111.4 66.1L110.7 66.3M115.3 67.7L116.6 66.1M116.6 66.1L116.5 66.8M116.6 66.1L115.9 66.3M120.5 67.7L121.9 66.1M121.9 66.1L121.8 66.8M121.9 66.1L121.2 66.3M125.8 67.7L127.1 66.1M127.1 66.1L127 66.8M127.1 66.1L126.4 66.3M131 67.7L132.3 66.1M132.3 66.1L132.2 66.8M132.3 66.1L131.6 66.3M136.2 67.7L137.6 66.1M137.6 66.1L137.5 66.8M137.6 66.1L136.9 66.3M141.5 67.7L142.8 66.1M142.8 66.1L142.7 66.8M142.8 66.1L142.1 66.3M146.7 67.7L148.1 66.1M148.1 66.1L148 66.8M148.1 66.1L147.4 66.3M152 67.7L153.3 66.1M153.3 66.1L153.2 66.8M153.3 66.1L152.6 66.3M5.2 72.9L6.8 70.5M6.8 70.5L6.7 71.5M6.8 70.5L5.9 70.9M10.5 72.9L12 70.5M12 70.5L12 71.5M12 70.5L11.1 70.9M15.7 72.9L17.3 70.5M17.3 70.5L17.2 71.5M17.3 70.5L16.4 70.9M21 72.9L22.5 70.5M22.5 70.5L22.5 71.5M22.5 70.5L21.6 70.9M26.2 72.9L27.7 70.5M27.7 70.5L27.7 71.5M27.7 70.5L26.8 70.9M31.4 72.9L33 70.5M33 70.5L32.9 71.5M33 70.5L32.1 70.9M36.7 72.9L38.2 70.5M38.2 70.5L38.2 71.5M38.2 70.5L37.3 70.9M41.9 72.9L43.5 70.5M43.5 70.5L43.4 71.5M43.5 70.5L42.6 70.9M47.2 72.9L48.7 70.5M48.7 70.5L48.7 71.5M48.7 70.5L47.8 70.9M52.4 72.9L53.9 70.5M53.9 70.5L53.9 71.5M53.9 70.5L53 70.9M57.6 72.9L59.2 70.5M59.2 70.5L59.1 71.5M59.2 70.5L58.3 70.9M62.9 72.9L64.4 70.5M64.4 70.5L64.4 71.5M64.4 70.5L63.5 70.9M68.1 72.9L69.7 70.5M69.7 70.5L69.6 71.5M69.7 70.5L68.8 70.9M73.4 72.9L74.9 70.5M74.9 70.5L74.9 71.5M74.9 70.5L74 70.9M78.6 72.9L80.1 70.5M80.1 70.5L80.1 71.5M80.1 70.5L79.2 70.9M83.8 72.9L85.4 70.5M85.4 70.5L85.3 71.5M85.4 70.5L84.5 70.9M89.1 72.9L90.6 70.5M90.6 70.5L90.6 71.5M90.6 70.5L89.7 70.9M94.3 72.9L95.9 70.5M95.9 70.5L95.8 71.5M95.9 70.5L95 70.9M99.6 72.9L101.1 70.5M101.1 70.5L101.1 71.5M101.1 70.5L100.2 70.9M104.8 72.9L106.3 70.5M106.3 70.5L106.3 71.5M106.3 70.5L105.4 70.9M110 72.9L111.6 70.5M111.6 70.5L111.5 71.5M111.6 70.5L110.7 70.9M115.3 72.9L116.8 70.5M116.8 70.5L116.8 71.5M116.8 70.5L115.9 70.9M120.5 72.9L122.1 70.5M122.1 70.5L122 71.5M122.1 70.5L121.2 70.9M125.8 72.9L127.3 70.5M127.3 70.5L127.3 71.5M127.3 70.5L126.4 70.9M131 72.9L132.5 70.5M132.5 70.5L132.5 71.5M132.5 70.5L131.6 70.9M136.2 72.9L137.8 70.5M137.8 70.5L137.7 71.5M137.8 70.5L136.9 70.9M141.5 72.9L143 70.5M143 70.5L143 71.5M143 70.5L142.1 70.9M146.7 72.9L148.3 70.5M148.3 70.5L148.2 71.5M148.3 70.5L147.4 70.9M152 72.9L153.5 70.5M153.5 70.5L153.5 71.5M153.5 70.5L152.6 70.9M5.2 78.1L7 75M7 75L7 76.2M7 75L5.9 75.6M10.5 78.1L12.2 75M12.2 75L12.3 76.2M12.2 75L11.1 75.6M15.7 78.1L17.4 75M17.4 75L17.5 76.2M17.4 75L16.4 75.6M21 78.1L22.7 75M22.7 75L22.7 76.2M22.7 75L21.6 75.6M26.2 78.1L27.9 75M27.9 75L28 76.2M27.9 75L26.8 75.6M31.4 78.1L33.2 75M33.2 75L33.2 76.2M33.2 75L32.1 75.6M36.7 78.1L38.4 75M38.4 75L38.5 76.2M38.4 75L37.3 75.6M41.9 78.1L43.6 75M43.6 75L43.7 76.2M43.6 75L42.6 75.6M47.2 78.1L48.9 75M48.9 75L48.9 76.2M48.9 75L47.8 75.6M52.4 78.1L54.1 75M54.1 75L54.2 76.2M54.1 75L53 75.6M57.6 78.1L59.4 75M59.4 75L59.4 76.2M59.4 75L58.3 75.6M62.9 78.1L64.6 75M64.6 75L64.7 76.2M64.6 75L63.5 75.6M68.1 78.1L69.8 75M69.8 75L69.9 76.2M69.8 75L68.8 75.6M73.4 78.1L75.1 75M75.1 75L75.1 76.2M75.1 75L74 75.6M78.6 78.1L80.3 75M80.3 75L80.4 76.2M80.3 75L79.2 75.6M83.8 78.1L85.6 75M85.6 75L85.6 76.2M85.6 75L84.5 75.6M89.1 78.1L90.8 75M90.8 75L90.9 76.2M90.8 75L89.7 75.6M94.3 78.1L96 75M96 75L96.1 76.2M96 75L95 75.6M99.6 78.1L101.3 75M101.3 75L101.3 76.2M101.3 75L100.2 75.6M104.8 78.1L106.5 75M106.5 75L106.6 76.2M106.5 75L105.4 75.6M110 78.1L111.8 75M111.8 75L111.8 76.2M111.8 75L110.7 75.6M115.3 78.1L117 75M117 75L117.1 76.2M117 75L115.9 75.6M120.5 78.1L122.2 75M122.2 75L122.3 76.2M122.2 75L121.2 75.6M125.8 78.1L127.5 75M127.5 75L127.5 76.2M127.5 75L126.4 75.6M131 78.1L132.7 75M132.7 75L132.8 76.2M132.7 75L131.6 75.6M136.2 78.1L138 75M138 75L138 76.2M138 75L136.9 75.6M141.5 78.1L143.2 75M143.2 75L143.3 76.2M143.2 75L142.1 75.6M146.7 78.1L148.4 75M148.4 75L148.5 76.2M148.4 75L147.4 75.6M152 78.1L153.7 75M153.7 75L153.7 76.2M153.7 75L152.6 75.6M5.2 83.3L7 80.2M7 80.2L7 81.4M7 80.2L5.9 80.8M10.5 83.3L12.2 80.2M12.2 80.2L12.3 81.4M12.2 80.2L11.1 80.8M15.7 83.3L17.4 80.2M17.4 80.2L17.5 81.4M17.4 80.2L16.4 80.8M21 83.3L22.7 80.2M22.7 80.2L22.7 81.4M22.7 80.2L21.6 80.8M26.2 83.3L27.9 80.2M27.9 80.2L28 81.4M27.9 80.2L26.8 80.8M31.4 83.3L33.2 80.2M33.2 80.2L33.2 81.4M33.2 80.2L32.1 80.8M36.7 83.3L38.4 80.2M38.4 80.2L38.5 81.4M38.4 80.2L37.3 80.8M41.9 83.3L43.6 80.2M43.6 80.2L43.7 81.4M43.6 80.2L42.6 80.8M47.2 83.3L48.9 80.2M48.9 80.2L48.9 81.4M48.9 80.2L47.8 80.8M52.4 83.3L54.1 80.2M54.1 80.2L54.2 81.4M54.1 80.2L53 80.8M57.6 83.3L59.4 80.2M59.4 80.2L59.4 81.4M59.4 80.2L58.3 80.8M62.9 83.3L64.6 80.2M64.6 80.2L64.7 81.4M64.6 80.2L63.5 80.8M68.1 83.3L69.8 80.2M69.8 80.2L69.9 81.4M69.8 80.2L68.8 80.8M73.4 83.3L75.1 80.2M75.1 80.2L75.1 81.4M75.1 80.2L74 80.8M78.6 83.3L80.3 80.2M80.3 80.2L80.4 81.4M80.3 80.2L79.2 80.8M83.8 83.3L85.6 80.2M85.6 80.2L85.6 81.4M85.6 80.2L84.5 80.8M89.1 83.3L90.8 80.2M90.8 80.2L90.9 81.4M90.8 80.2L89.7 80.8M94.3 83.3L96 80.2M96 80.2L96.1 81.4M96 80.2L95 80.8M99.6 83.3L101.3 80.2M101.3 80.2L101.3 81.4M101.3 80.2L100.2 80.8M104.8 83.3L106.5 80.2M106.5 80.2L106.6 81.4M106.5 80.2L105.4 80.8M110 83.3L111.8 80.2M111.8 80.2L111.8 81.4M111.8 80.2L110.7 80.8M115.3 83.3L117 80.2M117 80.2L117.1 81.4M117 80.2L115.9 80.8M120.5 83.3L122.2 80.2M122.2 80.2L122.3 81.4M122.2 80.2L121.2 80.8M125.8 83.3L127.5 80.2M127.5 80.2L127.5 81.4M127.5 80.2L126.4 80.8M131 83.3L132.7 80.2M132.7 80.2L132.8 81.4M132.7 80.2L131.6 80.8M136.2 83.3L138 80.2M138 80.2L138 81.4M138 80.2L136.9 80.8M141.5 83.3L143.2 80.2M143.2 80.2L143.3 81.4M143.2 80.2L142.1 80.8M146.7 83.3L148.4 80.2M148.4 80.2L148.5 81.4M148.4 80.2L147.4 80.8M152 83.3L153.7 80.2M153.7 80.2L153.7 81.4M153.7 80.2L152.6 80.8M5.2 88.5L7 85.4M7 85.4L7 86.6M7 85.4L5.9 86M10.5 88.5L12.2 85.4M12.2 85.4L12.3 86.6M12.2 85.4L11.1 86M15.7 88.5L17.4 85.4M17.4 85.4L17.5 86.6M17.4 85.4L16.4 86M21 88.5L22.7 85.4M22.7 85.4L22.7 86.6M22.7 85.4L21.6 86M26.2 88.5L27.9 85.4M27.9 85.4L28 86.6M27.9 85.4L26.8 86M31.4 88.5L33.2 85.4M33.2 85.4L33.2 86.6M33.2 85.4L32.1 86M36.7 88.5L38.4 85.4M38.4 85.4L38.5 86.6M38.4 85.4L37.3 86M41.9 88.5L43.6 85.4M43.6 85.4L43.7 86.6M43.6 85.4L42.6 86M47.2 88.5L48.9 85.4M48.9 85.4L48.9 86.6M48.9 85.4L47.8 86M52.4 88.5L54.1 85.4M54.1 85.4L54.2 86.6M54.1 85.4L53 86M57.6 88.5L59.4 85.4M59.4 85.4L59.4 86.6M59.4 85.4L58.3 86M62.9 88.5L64.6 85.4M64.6 85.4L64.7 86.6M64.6 85.4L63.5 86M68.1 88.5L69.8 85.4M69.8 85.4L69.9 86.6M69.8 85.4L68.8 86M73.4 88.5L75.1 85.4M75.1 85.4L75.1 86.6M75.1 85.4L74 86M78.6 88.5L80.3 85.4M80.3 85.4L80.4 86.6M80.3 85.4L79.2 86M83.8 88.5L85.6 85.4M85.6 85.4L85.6 86.6M85.6 85.4L84.5 86M89.1 88.5L90.8 85.4M90.8 85.4L90.9 86.6M90.8 85.4L89.7 86M94.3 88.5L96 85.4M96 85.4L96.1 86.6M96 85.4L95 86M99.6 88.5L100.9 85.7M100.9 85.7L101 86.8M100.9 85.7L100 86.3M104.8 88.5L106.1 85.7M106.1 85.7L106.3 86.8M106.1 85.7L105.2 86.3M110 88.5L111.4 85.7M111.4 85.7L111.5 86.8M111.4 85.7L110.5 86.3M115.3 88.5L116.6 85.7M116.6 85.7L116.7 86.8M116.6 85.7L115.7 86.3M120.5 88.5L121.9 85.7M121.9 85.7L122 86.8M121.9 85.7L121 86.3M125.8 88.5L127.1 85.7M127.1 85.7L127.2 86.8M127.1 85.7L126.2 86.3M131 88.5L132.3 85.7M132.3 85.7L132.5 86.8M132.3 85.7L131.4 86.3M136.2 88.5L137.6 85.7M137.6 85.7L137.7 86.8M137.6 85.7L136.7 86.3M141.5 88.5L142.8 85.7M142.8 85.7L142.9 86.8M142.8 85.7L141.9 86.3M146.7 88.5L148.1 85.7M148.1 85.7L148.2 86.8M148.1 85.7L147.2 86.3M152 88.5L153.3 85.7M153.3 85.7L153.4 86.8M153.3 85.7L152.4 86.3M5.2 93.7L7 90.6M7 90.6L7 91.8M7 90.6L5.9 91.2M10.5 93.7L12.2 90.6M12.2 90.6L12.3 91.8M12.2 90.6L11.1 91.2M15.7 93.7L17.4 90.6M17.4 90.6L17.5 91.8M17.4 90.6L16.4 91.2M21 93.7L22.7 90.6M22.7 90.6L22.7 91.8M22.7 90.6L21.6 91.2M26.2 93.7L27.9 90.6M27.9 90.6L28 91.8M27.9 90.6L26.8 91.2M31.4 93.7L33.2 90.6M33.2 90.6L33.2 91.8M33.2 90.6L32.1 91.2M36.7 93.7L38.4 90.6M38.4 90.6L38.5 91.8M38.4 90.6L37.3 91.2M41.9 93.7L43.6 90.6M43.6 90.6L43.7 91.8M43.6 90.6L42.6 91.2M47.2 93.7L48.9 90.6M48.9 90.6L48.9 91.8M48.9 90.6L47.8 91.2M52.4 93.7L54.1 90.6M54.1 90.6L54.2 91.8M54.1 90.6L53 91.2M57.6 93.7L59.4 90.6M59.4 90.6L59.4 91.8M59.4 90.6L58.3 91.2M62.9 93.7L64.6 90.6M64.6 90.6L64.7 91.8M64.6 90.6L63.5 91.2M68.1 93.7L69.8 90.6M69.8 90.6L69.9 91.8M69.8 90.6L68.8 91.2M73.4 93.7L75.1 90.6M75.1 90.6L75.1 91.8M75.1 90.6L74 91.2M78.6 93.7L80.3 90.6M80.3 90.6L80.4 91.8M80.3 90.6L79.2 91.2M83.8 93.7L85.6 90.6M85.6 90.6L85.6 91.8M85.6 90.6L84.5 91.2M89.1 93.7L90.8 90.6M90.8 90.6L90.9 91.8M90.8 90.6L89.7 91.2M94.3 93.7L96 90.6M96 90.6L96.1 91.8M96 90.6L95 91.2M99.6 93.7L100.9 90.9M100.9 90.9L101 92M100.9 90.9L100 91.5M104.8 93.7L106.1 90.9M106.1 90.9L106.3 92M106.1 90.9L105.2 91.5M110 93.7L111.4 90.9M111.4 90.9L111.5 92M111.4 90.9L110.5 91.5M115.3 93.7L116.6 90.9M116.6 90.9L116.7 92M116.6 90.9L115.7 91.5M120.5 93.7L121.9 90.9M121.9 90.9L122 92M121.9 90.9L121 91.5M125.8 93.7L127.1 90.9M127.1 90.9L127.2 92M127.1 90.9L126.2 91.5M131 93.7L132.3 90.9M132.3 90.9L132.5 92M132.3 90.9L131.4 91.5M136.2 93.7L137.6 90.9M137.6 90.9L137.7 92M137.6 90.9L136.7 91.5M141.5 93.7L142.8 90.9M142.8 90.9L142.9 92M142.8 90.9L141.9 91.5M146.7 93.7L148.1 90.9M148.1 90.9L148.2 92M148.1 90.9L147.2 91.5M152 93.7L153.3 90.9M153.3 90.9L153.4 92M153.3 90.9L152.4 91.5M5.2 98.9L7 95.8M7 95.8L7 97M7 95.8L5.9 96.4M10.5 98.9L12.2 95.8M12.2 95.8L12.3 97M12.2 95.8L11.1 96.4M15.7 98.9L17.4 95.8M17.4 95.8L17.5 97M17.4 95.8L16.4 96.4M21 98.9L22.7 95.8M22.7 95.8L22.7 97M22.7 95.8L21.6 96.4M26.2 98.9L27.9 95.8M27.9 95.8L28 97M27.9 95.8L26.8 96.4M31.4 98.9L33.2 95.8M33.2 95.8L33.2 97M33.2 95.8L32.1 96.4M36.7 98.9L38.4 95.8M38.4 95.8L38.5 97M38.4 95.8L37.3 96.4M41.9 98.9L43.6 95.8M43.6 95.8L43.7 97M43.6 95.8L42.6 96.4M47.2 98.9L48.9 95.8M48.9 95.8L48.9 97M48.9 95.8L47.8 96.4M52.4 98.9L54.1 95.8M54.1 95.8L54.2 97M54.1 95.8L53 96.4M57.6 98.9L59.4 95.8M59.4 95.8L59.4 97M59.4 95.8L58.3 96.4M62.9 98.9L64.6 95.8M64.6 95.8L64.7 97M64.6 95.8L63.5 96.4M68.1 98.9L69.8 95.8M69.8 95.8L69.9 97M69.8 95.8L68.8 96.4M73.4 98.9L75.1 95.8M75.1 95.8L75.1 97M75.1 95.8L74 96.4M78.6 98.9L80.3 95.8M80.3 95.8L80.4 97M80.3 95.8L79.2 96.4M83.8 98.9L85.6 95.8M85.6 95.8L85.6 97M85.6 95.8L84.5 96.4M89.1 98.9L90.8 95.8M90.8 95.8L90.9 97M90.8 95.8L89.7 96.4M94.3 98.9L96 95.8M96 95.8L96.1 97M96 95.8L95 96.4M99.6 98.9L100.9 96.1M100.9 96.1L101 97.2M100.9 96.1L100 96.7M104.8 98.9L106.1 96.1M106.1 96.1L106.3 97.2M106.1 96.1L105.2 96.7M110 98.9L111.4 96.1M111.4 96.1L111.5 97.2M111.4 96.1L110.5 96.7M115.3 98.9L116.6 96.1M116.6 96.1L116.7 97.2M116.6 96.1L115.7 96.7M120.5 98.9L121.9 96.1M121.9 96.1L122 97.2M121.9 96.1L121 96.7M125.8 98.9L127.1 96.1M127.1 96.1L127.2 97.2M127.1 96.1L126.2 96.7M131 98.9L132.3 96.1M132.3 96.1L132.5 97.2M132.3 96.1L131.4 96.7M136.2 98.9L137.6 96.1M137.6 96.1L137.7 97.2M137.6 96.1L136.7 96.7M141.5 98.9L142.8 96.1M142.8 96.1L142.9 97.2M142.8 96.1L141.9 96.7M146.7 98.9L148.1 96.1M148.1 96.1L148.2 97.2M148.1 96.1L147.2 96.7M152 98.9L153.3 96.1M153.3 96.1L153.4 97.2M153.3 96.1L152.4 96.7M5.2 104.1L8.2 100M8.2 100L8.1 101.6M8.2 100L6.8 100.6M10.5 104.1L13.5 100M13.5 100L13.3 101.6M13.5 100L12 100.6M15.7 104.1L18.7 100M18.7 100L18.6 101.6M18.7 100L17.2 100.6M21 104.1L24 100M24 100L23.8 101.6M24 100L22.5 100.6M26.2 104.1L29.2 100M29.2 100L29.1 101.6M29.2 100L27.7 100.6M31.4 104.1L34.4 100M34.4 100L34.3 101.6M34.4 100L33 100.6M36.7 104.1L38.4 101M38.4 101L38.5 102.3M38.4 101L37.3 101.6M41.9 104.1L43.6 101M43.6 101L43.7 102.3M43.6 101L42.6 101.6M47.2 104.1L48.9 101M48.9 101L48.9 102.3M48.9 101L47.8 101.6M52.4 104.1L54.1 101M54.1 101L54.2 102.3M54.1 101L53 101.6M57.6 104.1L59.4 101M59.4 101L59.4 102.3M59.4 101L58.3 101.6M62.9 104.1L64.6 101M64.6 101L64.7 102.3M64.6 101L63.5 101.6M68.1 104.1L69.8 101M69.8 101L69.9 102.3M69.8 101L68.8 101.6M73.4 104.1L75.1 101M75.1 101L75.1 102.3M75.1 101L74 101.6M78.6 104.1L80.3 101M80.3 101L80.4 102.3M80.3 101L79.2 101.6M83.8 104.1L85.6 101M85.6 101L85.6 102.3M85.6 101L84.5 101.6M89.1 104.1L90.8 101M90.8 101L90.9 102.3M90.8 101L89.7 101.6M94.3 104.1L96 101M96 101L96.1 102.3M96 101L95 101.6M99.6 104.1L100.9 101.3M100.9 101.3L101 102.4M100.9 101.3L100 101.9M104.8 104.1L106.1 101.3M106.1 101.3L106.3 102.4M106.1 101.3L105.2 101.9M110 104.1L111.4 101.3M111.4 101.3L111.5 102.4M111.4 101.3L110.5 101.9M115.3 104.1L116.6 101.3M116.6 101.3L116.7 102.4M116.6 101.3L115.7 101.9M120.5 104.1L121.9 101.3M121.9 101.3L122 102.4M121.9 101.3L121 101.9M125.8 104.1L127.1 101.3M127.1 101.3L127.2 102.4M127.1 101.3L126.2 101.9M131 104.1L132.3 101.3M132.3 101.3L132.5 102.4M132.3 101.3L131.4 101.9M136.2 104.1L137.6 101.3M137.6 101.3L137.7 102.4M137.6 101.3L136.7 101.9M141.5 104.1L142.8 101.3M142.8 101.3L142.9 102.4M142.8 101.3L141.9 101.9M146.7 104.1L148.1 101.3M148.1 101.3L148.2 102.4M148.1 101.3L147.2 101.9M152 104.1L153.3 101.3M153.3 101.3L153.4 102.4M153.3 101.3L152.4 101.9M5.2 109.4L8.2 105.2M8.2 105.2L8.1 106.8M8.2 105.2L6.8 105.9M10.5 109.4L13.5 105.2M13.5 105.2L13.3 106.8M13.5 105.2L12 105.9M15.7 109.4L18.7 105.2M18.7 105.2L18.6 106.8M18.7 105.2L17.2 105.9M21 109.4L24 105.2M24 105.2L23.8 106.8M24 105.2L22.5 105.9M26.2 109.4L29.2 105.2M29.2 105.2L29.1 106.8M29.2 105.2L27.7 105.9M31.4 109.4L34.4 105.2M34.4 105.2L34.3 106.8M34.4 105.2L33 105.9M36.7 109.4L38.4 106.2M38.4 106.2L38.5 107.5M38.4 106.2L37.3 106.8M41.9 109.4L43.6 106.2M43.6 106.2L43.7 107.5M43.6 106.2L42.6 106.8M47.2 109.4L48.9 106.2M48.9 106.2L48.9 107.5M48.9 106.2L47.8 106.8M52.4 109.4L54.1 106.2M54.1 106.2L54.2 107.5M54.1 106.2L53 106.8M57.6 109.4L59.4 106.2M59.4 106.2L59.4 107.5M59.4 106.2L58.3 106.8M62.9 109.4L64.6 106.2M64.6 106.2L64.7 107.5M64.6 106.2L63.5 106.8M68.1 109.4L69.8 106.2M69.8 106.2L69.9 107.5M69.8 106.2L68.8 106.8M73.4 109.4L75.1 106.2M75.1 106.2L75.1 107.5M75.1 106.2L74 106.8M78.6 109.4L80.3 106.2M80.3 106.2L80.4 107.5M80.3 106.2L79.2 106.8M83.8 109.4L85.6 106.2M85.6 106.2L85.6 107.5M85.6 106.2L84.5 106.8M89.1 109.4L90.8 106.2M90.8 106.2L90.9 107.5M90.8 106.2L89.7 106.8M94.3 109.4L96 106.2M96 106.2L96.1 107.5M96 106.2L95 106.8M99.6 109.4L99.3 106.5M99.3 106.5L99.9 107.3M99.3 106.5L98.9 107.4M104.8 109.4L104.6 106.5M104.6 106.5L105.2 107.3M104.6 106.5L104.1 107.4M110 109.4L109.8 106.5M109.8 106.5L110.4 107.3M109.8 106.5L109.4 107.4M115.3 109.4L115.1 106.5M115.1 106.5L115.6 107.3M115.1 106.5L114.6 107.4M120.5 109.4L120.3 106.5M120.3 106.5L120.9 107.3M120.3 106.5L119.8 107.4M125.8 109.4L125.5 106.5M125.5 106.5L126.1 107.3M125.5 106.5L125.1 107.4M131 109.4L130.8 106.5M130.8 106.5L131.4 107.3M130.8 106.5L130.3 107.4M136.2 109.4L136 106.5M136 106.5L136.6 107.3M136 106.5L135.6 107.4M141.5 109.4L141.3 106.5M141.3 106.5L141.8 107.3M141.3 106.5L140.8 107.4M146.7 109.4L146.5 106.5M146.5 106.5L147.1 107.3M146.5 106.5L146 107.4M152 109.4L151.7 106.5M151.7 106.5L152.3 107.3M151.7 106.5L151.3 107.4M5.2 114.6L8.2 110.4M8.2 110.4L8.1 112M8.2 110.4L6.8 111.1M10.5 114.6L13.5 110.4M13.5 110.4L13.3 112M13.5 110.4L12 111.1M15.7 114.6L18.7 110.4M18.7 110.4L18.6 112M18.7 110.4L17.2 111.1M21 114.6L24 110.4M24 110.4L23.8 112M24 110.4L22.5 111.1M26.2 114.6L29.2 110.4M29.2 110.4L29.1 112M29.2 110.4L27.7 111.1M31.4 114.6L34.4 110.4M34.4 110.4L34.3 112M34.4 110.4L33 111.1M36.7 114.6L38.4 111.4M38.4 111.4L38.5 112.7M38.4 111.4L37.3 112M41.9 114.6L43.6 111.4M43.6 111.4L43.7 112.7M43.6 111.4L42.6 112M47.2 114.6L48.9 111.4M48.9 111.4L48.9 112.7M48.9 111.4L47.8 112M52.4 114.6L54.1 111.4M54.1 111.4L54.2 112.7M54.1 111.4L53 112M57.6 114.6L59.4 111.4M59.4 111.4L59.4 112.7M59.4 111.4L58.3 112M62.9 114.6L64.6 111.4M64.6 111.4L64.7 112.7M64.6 111.4L63.5 112M68.1 114.6L69.8 111.4M69.8 111.4L69.9 112.7M69.8 111.4L68.8 112M73.4 114.6L75.1 111.4M75.1 111.4L75.1 112.7M75.1 111.4L74 112M78.6 114.6L80.3 111.4M80.3 111.4L80.4 112.7M80.3 111.4L79.2 112M83.8 114.6L85.6 111.4M85.6 111.4L85.6 112.7M85.6 111.4L84.5 112M89.1 114.6L90.8 111.4M90.8 111.4L90.9 112.7M90.8 111.4L89.7 112M94.3 114.6L96 111.4M96 111.4L96.1 112.7M96 111.4L95 112M99.6 114.6L99.3 111.7M99.3 111.7L99.9 112.5M99.3 111.7L98.9 112.6M104.8 114.6L104.6 111.7M104.6 111.7L105.2 112.5M104.6 111.7L104.1 112.6M110 114.6L109.8 111.7M109.8 111.7L110.4 112.5M109.8 111.7L109.4 112.6M115.3 114.6L115.1 111.7M115.1 111.7L115.6 112.5M115.1 111.7L114.6 112.6M120.5 114.6L120.3 111.7M120.3 111.7L120.9 112.5M120.3 111.7L119.8 112.6M125.8 114.6L125.5 111.7M125.5 111.7L126.1 112.5M125.5 111.7L125.1 112.6M131 114.6L130.8 111.7M130.8 111.7L131.4 112.5M130.8 111.7L130.3 112.6M136.2 114.6L136 111.7M136 111.7L136.6 112.5M136 111.7L135.6 112.6M141.5 114.6L141.3 111.7M141.3 111.7L141.8 112.5M141.3 111.7L140.8 112.6M146.7 114.6L146.5 111.7M146.5 111.7L147.1 112.5M146.5 111.7L146 112.6M152 114.6L151.7 111.7M151.7 111.7L152.3 112.5M151.7 111.7L151.3 112.6M5.2 119.8L8.2 115.6M8.2 115.6L8.1 117.2M8.2 115.6L6.8 116.3M10.5 119.8L13.5 115.6M13.5 115.6L13.3 117.2M13.5 115.6L12 116.3M15.7 119.8L18.7 115.6M18.7 115.6L18.6 117.2M18.7 115.6L17.2 116.3M21 119.8L24 115.6M24 115.6L23.8 117.2M24 115.6L22.5 116.3M26.2 119.8L29.2 115.6M29.2 115.6L29.1 117.2M29.2 115.6L27.7 116.3M31.4 119.8L34.4 115.6M34.4 115.6L34.3 117.2M34.4 115.6L33 116.3M36.7 119.8L38.4 116.6M38.4 116.6L38.5 117.9M38.4 116.6L37.3 117.3M41.9 119.8L43.6 116.6M43.6 116.6L43.7 117.9M43.6 116.6L42.6 117.3M47.2 119.8L48.9 116.6M48.9 116.6L48.9 117.9M48.9 116.6L47.8 117.3M52.4 119.8L54.1 116.6M54.1 116.6L54.2 117.9M54.1 116.6L53 117.3M57.6 119.8L59.4 116.6M59.4 116.6L59.4 117.9M59.4 116.6L58.3 117.3M62.9 119.8L64.6 116.6M64.6 116.6L64.7 117.9M64.6 116.6L63.5 117.3M68.1 119.8L69.8 116.6M69.8 116.6L69.9 117.9M69.8 116.6L68.8 117.3M73.4 119.8L75.1 116.6M75.1 116.6L75.1 117.9M75.1 116.6L74 117.3M78.6 119.8L80.3 116.6M80.3 116.6L80.4 117.9M80.3 116.6L79.2 117.3M83.8 119.8L85.6 116.6M85.6 116.6L85.6 117.9M85.6 116.6L84.5 117.3M89.1 119.8L90.8 116.6M90.8 116.6L90.9 117.9M90.8 116.6L89.7 117.3M94.3 119.8L96 116.6M96 116.6L96.1 117.9M96 116.6L95 117.3M99.6 119.8L97.6 117.5M97.6 117.5L98.6 117.8M97.6 117.5L97.8 118.5M104.8 119.8L102.8 117.5M102.8 117.5L103.8 117.8M102.8 117.5L103 118.5M110 119.8L108.1 117.5M108.1 117.5L109.1 117.8M108.1 117.5L108.3 118.5M115.3 119.8L113.3 117.5M113.3 117.5L114.3 117.8M113.3 117.5L113.5 118.5M120.5 119.8L118.6 117.5M118.6 117.5L119.6 117.8M118.6 117.5L118.7 118.5M125.8 119.8L123.8 117.5M123.8 117.5L124.8 117.8M123.8 117.5L124 118.5M131 119.8L129 117.5M129 117.5L130 117.8M129 117.5L129.2 118.5M136.2 119.8L134.3 117.5M134.3 117.5L135.3 117.8M134.3 117.5L134.5 118.5M141.5 119.8L139.5 117.5M139.5 117.5L140.5 117.8M139.5 117.5L139.7 118.5M146.7 119.8L144.8 117.5M144.8 117.5L145.8 117.8M144.8 117.5L144.9 118.5M152 119.8L150 117.5M150 117.5L151 117.8M150 117.5L150.2 118.5M5.2 125L8.2 120.9M8.2 120.9L8.1 122.4M8.2 120.9L6.8 121.5M10.5 125L13.5 120.9M13.5 120.9L13.3 122.4M13.5 120.9L12 121.5M15.7 125L18.7 120.9M18.7 120.9L18.6 122.4M18.7 120.9L17.2 121.5M21 125L24 120.9M24 120.9L23.8 122.4M24 120.9L22.5 121.5M26.2 125L29.2 120.9M29.2 120.9L29.1 122.4M29.2 120.9L27.7 121.5M31.4 125L34.4 120.9M34.4 120.9L34.3 122.4M34.4 120.9L33 121.5M36.7 125L38.4 121.8M38.4 121.8L38.5 123.1M38.4 121.8L37.3 122.5M41.9 125L43.6 121.8M43.6 121.8L43.7 123.1M43.6 121.8L42.6 122.5M47.2 125L48.9 121.8M48.9 121.8L48.9 123.1M48.9 121.8L47.8 122.5M52.4 125L54.1 121.8M54.1 121.8L54.2 123.1M54.1 121.8L53 122.5M57.6 125L59.4 121.8M59.4 121.8L59.4 123.1M59.4 121.8L58.3 122.5M62.9 125L64.6 121.8M64.6 121.8L64.7 123.1M64.6 121.8L63.5 122.5M68.1 125L69.8 121.8M69.8 121.8L69.9 123.1M69.8 121.8L68.8 122.5M73.4 125L75.1 121.8M75.1 121.8L75.1 123.1M75.1 121.8L74 122.5M78.6 125L80.3 121.8M80.3 121.8L80.4 123.1M80.3 121.8L79.2 122.5M83.8 125L85.6 121.8M85.6 121.8L85.6 123.1M85.6 121.8L84.5 122.5M89.1 125L90.8 121.8M90.8 121.8L90.9 123.1M90.8 121.8L89.7 122.5M94.3 125L96 121.8M96 121.8L96.1 123.1M96 121.8L95 122.5M99.6 125L97.6 122.7M97.6 122.7L98.6 123.1M97.6 122.7L97.8 123.8M104.8 125L102.8 122.7M102.8 122.7L103.8 123.1M102.8 122.7L103 123.8M110 125L108.1 122.7M108.1 122.7L109.1 123.1M108.1 122.7L108.3 123.8M115.3 125L113.3 122.7M113.3 122.7L114.3 123.1M113.3 122.7L113.5 123.8M120.5 125L118.6 122.7M118.6 122.7L119.6 123.1M118.6 122.7L118.7 123.8M125.8 125L123.8 122.7M123.8 122.7L124.8 123.1M123.8 122.7L124 123.8M131 125L129 122.7M129 122.7L130 123.1M129 122.7L129.2 123.8M136.2 125L134.3 122.7M134.3 122.7L135.3 123.1M134.3 122.7L134.5 123.8M141.5 125L139.5 122.7M139.5 122.7L140.5 123.1M139.5 122.7L139.7 123.8M146.7 125L144.8 122.7M144.8 122.7L145.8 123.1M144.8 122.7L144.9 123.8M152 125L150 122.7M150 122.7L151 123.1M150 122.7L150.2 123.8M5.2 130.2L8.2 126.1M8.2 126.1L8.1 127.7M8.2 126.1L6.8 126.7M10.5 130.2L13.5 126.1M13.5 126.1L13.3 127.7M13.5 126.1L12 126.7M15.7 130.2L18.7 126.1M18.7 126.1L18.6 127.7M18.7 126.1L17.2 126.7M21 130.2L24 126.1M24 126.1L23.8 127.7M24 126.1L22.5 126.7M26.2 130.2L29.2 126.1M29.2 126.1L29.1 127.7M29.2 126.1L27.7 126.7M31.4 130.2L34.4 126.1M34.4 126.1L34.3 127.7M34.4 126.1L33 126.7M36.7 130.2L38.4 127M38.4 127L38.5 128.3M38.4 127L37.3 127.7M41.9 130.2L43.6 127M43.6 127L43.7 128.3M43.6 127L42.6 127.7M47.2 130.2L48.9 127M48.9 127L48.9 128.3M48.9 127L47.8 127.7M52.4 130.2L54.1 127M54.1 127L54.2 128.3M54.1 127L53 127.7M57.6 130.2L59.4 127M59.4 127L59.4 128.3M59.4 127L58.3 127.7M62.9 130.2L64.6 127M64.6 127L64.7 128.3M64.6 127L63.5 127.7M68.1 130.2L69.8 127M69.8 127L69.9 128.3M69.8 127L68.8 127.7M73.4 130.2L75.1 127M75.1 127L75.1 128.3M75.1 127L74 127.7M78.6 130.2L80.3 127M80.3 127L80.4 128.3M80.3 127L79.2 127.7M83.8 130.2L85.6 127M85.6 127L85.6 128.3M85.6 127L84.5 127.7M89.1 130.2L90.8 127M90.8 127L90.9 128.3M90.8 127L89.7 127.7M94.3 130.2L96 127M96 127L96.1 128.3M96 127L95 127.7M99.6 130.2L97.6 127.9M97.6 127.9L98.6 128.3M97.6 127.9L97.8 129M104.8 130.2L102.8 127.9M102.8 127.9L103.8 128.3M102.8 127.9L103 129M110 130.2L108.1 127.9M108.1 127.9L109.1 128.3M108.1 127.9L108.3 129M115.3 130.2L113.3 127.9M113.3 127.9L114.3 128.3M113.3 127.9L113.5 129M120.5 130.2L118.6 127.9M118.6 127.9L119.6 128.3M118.6 127.9L118.7 129M125.8 130.2L123.8 127.9M123.8 127.9L124.8 128.3M123.8 127.9L124 129M131 130.2L129 127.9M129 127.9L130 128.3M129 127.9L129.2 129M136.2 130.2L134.3 127.9M134.3 127.9L135.3 128.3M134.3 127.9L134.5 129M141.5 130.2L139.5 127.9M139.5 127.9L140.5 128.3M139.5 127.9L139.7 129M146.7 130.2L144.8 127.9M144.8 127.9L145.8 128.3M144.8 127.9L144.9 129M152 130.2L150 127.9M150 127.9L151 128.3M150 127.9L150.2 129M5.2 135.4L8.2 131.3M8.2 131.3L8.1 132.9M8.2 131.3L6.8 131.9M10.5 135.4L13.5 131.3M13.5 131.3L13.3 132.9M13.5 131.3L12 131.9M15.7 135.4L18.7 131.3M18.7 131.3L18.6 132.9M18.7 131.3L17.2 131.9M21 135.4L24 131.3M24 131.3L23.8 132.9M24 131.3L22.5 131.9M26.2 135.4L29.2 131.3M29.2 131.3L29.1 132.9M29.2 131.3L27.7 131.9M31.4 135.4L34.4 131.3M34.4 131.3L34.3 132.9M34.4 131.3L33 131.9M36.7 135.4L38.4 132.2M38.4 132.2L38.5 133.5M38.4 132.2L37.3 132.9M41.9 135.4L43.6 132.2M43.6 132.2L43.7 133.5M43.6 132.2L42.6 132.9M47.2 135.4L48.9 132.2M48.9 132.2L48.9 133.5M48.9 132.2L47.8 132.9M52.4 135.4L54.1 132.2M54.1 132.2L54.2 133.5M54.1 132.2L53 132.9M57.6 135.4L59.4 132.2M59.4 132.2L59.4 133.5M59.4 132.2L58.3 132.9M62.9 135.4L64.6 132.2M64.6 132.2L64.7 133.5M64.6 132.2L63.5 132.9M68.1 135.4L69.8 132.2M69.8 132.2L69.9 133.5M69.8 132.2L68.8 132.9M73.4 135.4L75.1 132.2M75.1 132.2L75.1 133.5M75.1 132.2L74 132.9M78.6 135.4L80.3 132.2M80.3 132.2L80.4 133.5M80.3 132.2L79.2 132.9M83.8 135.4L85.6 132.2M85.6 132.2L85.6 133.5M85.6 132.2L84.5 132.9M89.1 135.4L90.8 132.2M90.8 132.2L90.9 133.5M90.8 132.2L89.7 132.9M94.3 135.4L96 132.2M96 132.2L96.1 133.5M96 132.2L95 132.9M99.6 135.4L97.6 133.1M97.6 133.1L98.6 133.5M97.6 133.1L97.8 134.2M104.8 135.4L102.8 133.1M102.8 133.1L103.8 133.5M102.8 133.1L103 134.2M110 135.4L108.1 133.1M108.1 133.1L109.1 133.5M108.1 133.1L108.3 134.2M115.3 135.4L113.3 133.1M113.3 133.1L114.3 133.5M113.3 133.1L113.5 134.2M120.5 135.4L118.6 133.1M118.6 133.1L119.6 133.5M118.6 133.1L118.7 134.2M125.8 135.4L123.8 133.1M123.8 133.1L124.8 133.5M123.8 133.1L124 134.2M131 135.4L129 133.1M129 133.1L130 133.5M129 133.1L129.2 134.2M136.2 135.4L134.3 133.1M134.3 133.1L135.3 133.5M134.3 133.1L134.5 134.2M141.5 135.4L139.5 133.1M139.5 133.1L140.5 133.5M139.5 133.1L139.7 134.2M146.7 135.4L144.8 133.1M144.8 133.1L145.8 133.5M144.8 133.1L144.9 134.2M152 135.4L150 133.1M150 133.1L151 133.5M150 133.1L150.2 134.2" stroke="#964c44" stroke-width="0.5" stroke-opacity="0.6" fill="none" stroke-linecap="round"/>
<use href="#geo"/>
<path d="M0 91.2 L10 87.5 L20 83.5 L30.4 79.6 L40 77.2 L50 75.2 L60.8 73 L70 71.5 L80.4 69.2 L87 68.2" fill="none" stroke="#000" stroke-width="1.3" stroke-dasharray="4.2 2.4"/>
<path d="M119.5 69.4 L130 69 L145 68.5 L157.2 68" fill="none" stroke="#000" stroke-width="1.3" stroke-dasharray="4.2 2.4"/>
<path d="M88.2 141 L88.8 132 L89.7 124 L90.6 111 L91.5 102.3 L94.2 96.1 L97.7 94.3 L104.8 91.7 L122.5 87.3 L140.1 83.7 L157.2 81.1" fill="none" stroke="#000" stroke-width="1.3"/>
<text x="92.1" y="76.6" font-size="10.4" fill="#111" textLength="25.3" lengthAdjust="spacingAndGlyphs" transform="rotate(-2 92.1 76.6)">5860</text>
<text x="98.8" y="103.2" font-size="10.4" fill="#111" textLength="25.3" lengthAdjust="spacingAndGlyphs" transform="rotate(-8.5 98.8 103.2)">5880</text>
</g>
<rect x="0" y="0" width="157.2" height="140.6" fill="none" stroke="#222" stroke-width="1"/>
<path d="M0 5.2 h3.5 M157.2 5.2 h-3.5 M0 31.2 h3.5 M157.2 31.2 h-3.5 M0 57.3 h3.5 M157.2 57.3 h-3.5 M0 83.3 h3.5 M157.2 83.3 h-3.5 M0 109.4 h3.5 M157.2 109.4 h-3.5 M0 135.4 h3.5 M157.2 135.4 h-3.5 M26.2 0 v3.5 M26.2 140.6 v-3.5 M78.6 0 v3.5 M78.6 140.6 v-3.5 M131 0 v3.5 M131 140.6 v-3.5" stroke="#111" stroke-width="1" fill="none"/>
<text x="4.1" y="12.4" font-size="10.2" fill="#111" textLength="73.3" lengthAdjust="spacingAndGlyphs">(d) Highest 10</text><text x="82.1" y="12.4" font-size="10.2" fill="#111">δ</text><text x="88.6" y="9.1" font-size="7.6" fill="#111">18</text><text x="98.1" y="12.4" font-size="10.2" fill="#111">O</text>
</g>
<text x="260.2" y="21.7" font-size="10.2" text-anchor="end" fill="#111" textLength="24.7" lengthAdjust="spacingAndGlyphs">40°N</text>
<text x="260.2" y="47.7" font-size="10.2" text-anchor="end" fill="#111" textLength="24.7" lengthAdjust="spacingAndGlyphs">35°N</text>
<text x="260.2" y="73.8" font-size="10.2" text-anchor="end" fill="#111" textLength="24.7" lengthAdjust="spacingAndGlyphs">30°N</text>
<text x="260.2" y="99.8" font-size="10.2" text-anchor="end" fill="#111" textLength="24.7" lengthAdjust="spacingAndGlyphs">25°N</text>
<text x="260.2" y="125.9" font-size="10.2" text-anchor="end" fill="#111" textLength="24.7" lengthAdjust="spacingAndGlyphs">20°N</text>
<text x="260.2" y="151.9" font-size="10.2" text-anchor="end" fill="#111" textLength="24.7" lengthAdjust="spacingAndGlyphs">15°N</text>
<g transform="translate(491.7,12.8)"><g clip-path="url(#cp)">
<rect x="-2" y="-2" width="161.2" height="144.6" fill="#0b024c"/>
<path fill="#100268" d="M-1 -1 158.2 -1 158.2 141.6 -1 141.6 -1 -1Z"/>
<path fill="#140387" d="M-1 -1 158.2 -1 158.2 141.6 -1 141.6 -1 -1Z"/>
<path fill="#1903a6" d="M-1 -1 158.2 -1 158.2 141.6 -1 141.6 -1 -1Z"/>
<path fill="#1d04c2" d="M-1 -1 158.2 -1 158.2 141.6 -1 141.6 -1 -1Z"/>
<path fill="#2204e1" d="M-1 -1 158.2 -1 158.2 141.6 -1 141.6 -1 -1Z"/>
<path fill="#2706ff" d="M-1 -1 158.2 -1 158.2 141.6 -1 141.6 -1 -1ZM108.5 62.3 108.5 65.3 107.8 66.7 107.1 67 105.2 69.6 105.2 71 105.6 71.4 107.1 71.3 108.8 69.6 109 68.1 108.7 65.3 110 64 110.5 62.4 110 62 108.5 62.3Z"/>
<path fill="#492dff" d="M-1 -1 158.2 -1 158.2 141.6 -1 141.6 -1 -1ZM0.5 70.6 -1 71 0.5 72.2 2.1 75.3 3.4 76.2 4.8 76.1 6.3 75.3 6.6 73.9 6.3 73 4.8 71.3 3.4 70.8 0.5 70.6ZM16.5 75.8 15.3 76.8 14.4 78.2 15.1 79.1 16.5 79.3 18 78.9 18.6 78.2 18 76.1 16.5 75.8ZM22.4 80.8 20.9 81.4 20.6 82.5 20.9 84.2 22.4 85.2 24.2 84 24.4 82.5 23.8 81.5 22.4 80.8ZM28.2 61.9 27.7 62.4 30.3 65.3 31.3 68.1 32.2 69.6 34.1 70.1 35.6 69.6 35.5 68.1 34.1 66.7 31.7 65.3 29.7 62.1 28.2 61.9ZM48.7 55.1 44.3 58.5 39.9 58.5 38.9 59.5 38.5 60.9 39 62.4 42.7 65.3 45.6 71 47.2 71.9 48.7 72.1 51.6 71.6 52.1 71 53 68.6 54.5 67.5 59.5 68.1 60.9 71 61.8 72 63.3 72.2 64.7 71.1 64.7 69.4 63.3 68.4 60.3 67.4 60 66.7 58.9 61.3 58 60.9 59.5 58.1 59.6 56.6 59 55.2 57.4 54.4 54.5 54 48.7 55.1ZM60.3 47.6 58.8 49.4 58.9 50.9 60.3 53.3 64.2 55.2 65.1 56.6 64.7 56.7 63.7 59.5 64.1 60.9 66.2 62.3 67.7 62.4 69 60.9 67.6 58.1 66.3 56.6 66.4 53.7 64.7 51.7 63.3 47.9 61.8 47.2 60.3 47.6ZM108.5 60.2 107.1 61.2 105.7 65.3 102.7 69.6 102.6 71 103.3 72.5 104.2 73.5 105.6 74 108.5 73.4 110 72.3 111.2 69.6 111.5 66.7 114 62.4 113.5 60.9 111.5 59.9 108.5 60.2ZM64.7 95.4 64.1 96.9 64.8 98.4 66.2 98.6 67.3 98.4 69.1 96.9 69.1 95 67.6 94.4 66.2 94.6 64.7 95.4ZM51.2 60.9 54.5 59.7 56 60.1 57.2 60.9 54.5 63.8 53 66.1 51.6 66.6 48.7 65.6 48.3 65.3 48.1 63.8 49 62.4 51.2 60.9Z"/>
<path fill="#6e58ff" d="M-1 -1 158.2 -1 158.2 141.6 -1 141.6 -1 82.9 0.5 82.4 3.4 78.8 4.8 78.6 6.5 79.7 6.8 84 7.8 85.7 9.2 86.1 12.1 84.4 15.1 81.8 16.5 81.4 18 81.7 18.7 82.5 19.4 86.2 19.9 86.9 22.4 87.1 23.8 86.7 25.6 85.4 27 81.1 28.2 79.6 29.7 79.1 31.1 79.1 31.9 79.7 35.5 80.6 37.6 79.7 37 78.4 32.6 77.7 29.7 75.4 28.2 75.3 25.3 77.5 23.8 77.9 22.4 77.5 21.8 76.8 21.6 75.3 24.7 72.5 25 71 24.5 69.6 22.5 68.1 18 66.5 17.5 66.7 17.1 68.1 17.3 69.6 16.5 71.2 15.1 71.2 13.2 69.6 10.7 68.3 9.6 66.7 9.2 65.3 7.8 64.9 7.3 66.7 6.3 68.1 4.8 68.7 -1 68 -1 -1ZM22.4 56.5 21.5 58.1 23.2 59.5 24.5 62.4 27.4 66.7 29.7 72.5 31.1 72.9 37.8 71 38.6 69.6 37.6 66.7 36.5 65.3 34 63.8 31.1 59.9 29.7 59.4 25.3 59.1 23.8 58.2 22.4 56.5ZM60.3 46.1 57.4 48 56 50.4 54.5 51.5 45.7 54.1 44.3 54.3 41.4 51.4 38.4 50 37 48.6 35.5 48.3 34.1 52 27.9 52.3 28.6 53.7 32.6 55.6 35.5 58.1 36.5 59.5 37.6 63.8 41.2 66.7 42.8 72.5 44.3 73.8 51.6 74.3 53 73.9 54.6 71 56 69.7 57.4 69.5 58.9 70.4 60.3 72.5 61.8 73.6 63.3 73.5 66.3 71 66.9 69.6 65.7 68.1 63 66.7 61.8 65.3 62 63.8 63.3 63.1 67.6 64 69.1 63.7 70.8 62.4 71 60.9 69.1 56.6 69.3 55.2 70.6 52.9 73.9 49.4 73.9 48 72 47.4 70.7 48 69.1 50.3 67.6 50.7 66.2 50 64.7 46.5 63.3 45.2 60.3 46.1ZM76.4 56 75.4 56.6 75.1 58.1 78.6 62.4 79.3 63 80.8 63.2 81.9 62.4 82.2 60.9 81.2 59.5 78.1 56.6 76.4 56ZM107.1 59.4 105.5 60.9 104.2 64.9 101.6 68.1 101 69.6 101.1 71 102.7 74.2 104.2 75.3 108.5 75.9 111.5 78.6 112.6 78.2 112.9 77.6 113 76.8 112.3 73.9 113.3 68.1 114 66.7 115.8 65 116.5 63.8 116.7 62.4 116.1 60.9 114.6 59.5 112.9 58.7 110 58.6 107.1 59.4ZM48.7 77.4 48.3 78.2 48.7 79.4 50.2 78.2 50.1 77.9 48.7 77.4ZM61.8 83.3 60.7 84 59.7 88.3 58.6 89.7 56.4 91.2 55.8 92.6 57.4 94.4 60.3 95.8 63.3 100.4 64.7 100.6 67.6 99.9 70 98.4 72 95 75.6 92.6 76.2 91.2 74.9 89.1 73.5 89.2 68 91.2 64.7 91.4 64.4 91.2 66.1 89.7 66.5 88.3 66.1 85.4 65.4 84 64.7 83.5 61.8 83.3ZM69.1 79.2 68.3 79.7 67.7 81.1 69.1 82.4 70.8 82.5 72 82.1 72.9 81.1 73.2 79.7 72 78.7 69.1 79.2ZM79.3 83.8 79.3 84.2 80.8 84.8 82.8 84 82.3 83.4 80.8 83 79.3 83.8ZM11.2 73.9 12.1 73.6 12.4 73.9 12.1 74.3 11.2 73.9ZM63.1 92.6 63.3 92.4 63.5 92.6 63.3 92.7 63.1 92.6Z"/>
<path fill="#9484ff" d="M-1 -1 158.2 -1 158.2 65.6 156.9 66.7 158.2 68.3 158.2 141.6 -1 141.6 -1 85.9 3.4 83.6 4.8 84.6 5.4 85.4 6.6 88.3 6.6 89.7 7.8 89.9 11.6 86.9 16.5 83.8 16.7 85.4 15.7 86.9 15.6 88.3 16.5 90.8 18 91.5 19.4 91.1 22.4 89.3 25.3 88.8 26.8 89.3 29.4 91.2 31.1 91.6 32 91.2 32.1 89.7 31.7 88.3 28.6 85.4 28.4 84 29.7 82 31.1 81.7 35.5 82.6 37 82.2 39.9 80.4 41.9 76.8 44.3 76.3 45.7 77.1 47.2 80.9 48.7 81.4 50.1 81.4 51.6 80.6 53 77.7 54.5 77.1 55.2 78.2 54.5 82.6 55.1 84 57.2 85.4 57.5 86.9 57 88.3 54 91.2 53.8 92.6 54.7 94.1 59.6 98.4 61.8 102.2 63.3 102.8 70.6 100.5 73.5 95.7 76.6 94.1 77.8 92.6 77.3 88.3 77.9 86.9 79.3 86.3 83.7 86 84.7 85.4 85.1 84 84.6 82.5 83.7 82 80.8 81.8 77.4 82.5 76.4 83.7 74.9 84.5 74.6 84 75.4 81.1 75.3 79.7 74.9 78.2 73.5 77.2 70.6 77.4 67.7 78.2 64.7 80.3 63.3 80.8 61.8 80.2 59.8 76.8 58.9 76.2 57.4 76.1 56.1 75.3 56 73.9 56.6 72.5 57.4 71.8 58.9 73 60.3 75.1 61.8 75.4 63.3 75 67.6 71.4 69.1 70.9 73.5 72 76.4 74 77.9 74.6 79.3 74.5 80.8 73.8 82.9 71 83.4 69.6 80.5 66.7 83.2 63.8 83.8 62.4 83.8 60.9 83.3 59.5 79.3 54.9 77.9 54.2 74.6 53.7 74.4 52.3 76.4 50.1 77.9 50.2 83.7 54.1 91 57.2 92.5 58.3 93.9 61.9 95.4 63 98.3 62.9 101.2 60.5 102.7 60.2 103 60.9 102.7 63.3 100.3 66.7 99.4 69.6 101.2 74.5 102.7 76.6 105.6 77.2 107.5 78.2 107.6 79.7 105.3 82.5 105.1 84 105.6 84.6 107.1 85.1 108.5 84.5 110.6 81.1 113.8 79.7 114.4 78.9 115 75.3 114.5 72.5 114.6 69.6 115.4 68.1 117.8 65.3 118.8 62.4 118.7 60.9 117.4 59.5 114.4 57.6 111.5 57.1 105.6 57.5 104.5 56.6 103.8 55.2 102.4 53.7 99.8 52.7 96.9 52.4 93.9 54.5 89.6 53.3 85.2 50.7 83.8 49.4 82.3 46.1 80.8 44.5 76.4 46.3 69.4 45.1 68.5 43.7 64.7 40.8 63.3 38.9 62.7 39.3 62.4 42.2 61.8 43.7 59.8 45.1 56.5 46.5 53 49.5 50.2 49.4 50.4 48 52.7 45.1 52.6 43.7 51.6 42.7 50.1 42.3 48.7 43.3 47.2 47.9 45.7 49.1 41.4 49.3 39.9 48.8 37 46.4 35.5 46.1 34.1 47.1 32.6 50.1 31.1 50.7 28.2 50.1 25.3 47.9 23.8 48.2 22.9 49.4 23.1 52.3 18.4 56.6 18 58.1 19.2 60.9 13.6 65.1 12.1 64.8 10.7 59.8 9.2 59.6 7.8 60.2 7.1 60.9 5.3 65.3 3.9 66.7 1.9 66.8 -1 65.6 -1 63.7 0.5 60.9 0 59.5 -1 58.9 -1 -1ZM12.1 53 11.3 53.7 11.1 55.2 11.5 58.1 12.1 58.6 13.8 58.1 14.7 56.6 13.6 53.6 12.1 53ZM18 46.2 16.5 46.7 16.1 48 16.5 49.2 18 49.7 19.4 49.3 20.5 48 18 46.2ZM80.8 40.4 80.8 41 82.3 40.8 82.3 40.2 80.8 40.4ZM89.6 27.3 88.3 29.2 88.8 30.7 89.6 31.1 90.4 29.2 90.1 27.8 89.6 27.3ZM3.4 90.9 2.8 91.2 2.4 92.6 3.4 93.1 5.3 92.6 6.4 91.2 6.3 90.3 3.4 90.9ZM20.9 93.9 19.4 94.2 18.7 95.5 19.3 96.9 20.9 97.4 21.9 96.9 22.4 95.5 20.9 93.9ZM44.3 95.4 43.3 96.9 43.6 98.4 45.7 98.9 48.3 98.4 48.7 96.8 46.3 95.5 44.3 95.4ZM89.6 66.4 88.6 66.7 89.6 67.1 89.8 66.7 89.6 66.4ZM98.3 78.2 97.8 79.7 98.3 80.3 99.8 80.3 100.3 79.7 100.2 78.2 98.3 78.2ZM89.6 73.6 89.6 74.1 91 75.4 92.3 73.9 91 72.8 89.6 73.6ZM71.8 56.6 72 55.9 72 57.2 71.8 56.6ZM19.9 62.4 20.9 62.4 21.3 63.8 20.8 63.8 19.9 62.4ZM74.5 63.8 74.9 63.3 75.4 63.8 74.9 64.3 74.5 63.8ZM34.8 73.9 37 73.5 38.4 73.8 38.7 75.3 37 75.9 35.5 75.9 34.2 75.3 34.8 73.9Z"/>
<path fill="#b6abff" d="M-1 -1 158.2 -1 158.2 54.5 155.3 53.9 153.8 54.1 152.8 55.2 152.7 56.6 153.8 58.5 155.3 58.7 158.2 57.8 158.2 63.6 156.5 63.8 154.2 65.3 154.7 66.7 156.5 69.6 156.6 71 156.1 72.5 155.3 73.3 152.4 73.6 150.3 72.5 148 68.3 146.5 67.6 145.1 67.6 141.6 69.6 140.9 71 145.1 75.3 146.5 75.9 149.4 76.1 152.4 78.3 153.8 78.4 156.7 75.8 158.2 75.5 158.2 141.6 -1 141.6 -1 93.5 1.9 94.7 3.4 94.7 10.7 92.2 12.1 93.6 13.6 98.7 16.5 98.2 20.9 99.1 22.4 98.9 23.2 98.4 25.3 93.7 26.8 93.2 29.3 94.1 30.6 95.5 31 96.9 28.2 101.3 28.4 102.7 29.9 105.6 30.1 107 29.8 109.9 31.1 111.4 32.6 110.9 33.9 109.9 35.5 107.8 37 107.1 39.9 106.7 41.4 105.8 42.2 102.7 43.7 101.3 48.7 100.4 50.1 101.2 51.6 104 54.5 104.7 55.7 105.6 55.2 109.9 56 110.6 57.4 110.8 58.9 110.5 62.4 105.6 66.2 103.7 67.6 103.6 68.5 104.1 69.1 105.4 70.4 109.9 72 110.7 73.5 109.9 75.8 105.6 75.6 104.1 73.4 99.8 73.5 98.4 74.3 96.9 76.4 95.8 77.9 96.1 80.8 98.4 82.3 98.2 83.7 94.7 86.6 93.1 87.4 91.2 87.6 88.3 88.4 85.4 88.3 84 87.3 82.5 86.3 81.1 85.2 80.3 79.3 80.7 77.9 80.4 77.2 79.7 77.1 78.2 77.9 76.8 81.1 75.3 83.7 72.7 85.2 71.7 86.6 72 88.2 75.3 89.6 76.6 93.9 76.9 95.2 78.2 96.9 81.8 98.3 82.8 101.2 83.1 102.2 84 102.2 86.9 101.2 89.7 101.6 92.6 102.7 94.4 105.6 95.5 107.1 95.5 107.4 94.1 106.9 92.6 104.3 88.3 105.6 86.9 108.5 86.1 109.4 85.4 111.5 82 112.9 81.4 115.8 80.8 117.5 73.9 116.3 71 116.6 69.6 118.6 66.7 120.2 63.3 121.7 61.6 123.1 60.9 123.1 59.5 121.7 57.9 120.2 57.3 110 54.9 109.4 53.7 109.2 50.9 108.2 48 110.2 45.1 109.4 43.7 108.5 42.9 107.9 43.7 108.1 46.5 104.2 47.9 101.2 49.8 99.8 50 98.3 49.5 96.9 47.3 95.9 46.5 93.9 46.1 92.5 46.1 91.1 46.5 89.6 49.6 88.1 49.6 86.6 49.1 85.3 48 84.7 46.5 84.7 43.7 85.2 42.8 86.6 42.1 88.1 43.5 89.6 44.2 89.9 42.2 89.6 40.9 88.1 40.3 86.6 37.9 85.2 36.5 79.3 38 78.3 39.3 77.9 42.8 76.4 44.1 74.9 44.3 72.4 43.7 72.1 42.2 74.1 39.3 74.4 37.9 73.6 36.5 72 36.5 70.6 37.2 69.1 40.1 67.6 40.5 66.2 39.7 64.7 37 63.3 36.4 61.8 36.9 61.1 37.9 60.6 42.2 59.7 43.7 57.4 44.6 56 44.5 53 41.5 51.6 40.7 50.1 40.5 48.7 41.1 47.6 42.2 46.4 45.1 45.1 46.5 42.8 47.5 41.4 47.4 39.9 46.7 38.4 45.3 34.1 43.8 32.6 41.8 31.1 40.7 29.7 40.9 28.3 42.2 26.9 45.1 22.4 45.6 20.9 45 18.6 43.7 17.7 42.2 18.1 40.8 18 39.1 16.5 38.4 12.1 39.2 10.7 38.5 9.2 36 7.8 34.6 3.4 36 1.9 35.3 0.5 33.9 -1 33.5 -1 -1ZM39.9 39.3 39.9 39.3 39.9 39.4 39.9 39.3 39.9 39.3ZM74.9 24.9 74.2 26.4 76.4 29.9 77.9 31.1 79.7 30.7 80.5 29.2 77.9 25.4 76.4 24.4 74.9 24.9ZM88.1 25.3 87 27.8 86.7 30.7 86.8 32.1 88.1 33.7 89.6 33.4 91 31.8 91.8 27.8 91.6 26.4 91 25.7 89.6 25.1 88.1 25.3ZM101.2 27.5 100.4 29.2 101.2 30.2 102.1 29.2 102.2 27.8 101.2 27.5ZM104.2 7.6 104.1 7.6 104.2 7.7 104.2 7.6 104.2 7.6ZM129 64.5 128.4 65.3 129.1 66.7 130.4 67.1 133 66.7 133.2 65.3 131.9 64.4 130.4 64.1 129 64.5ZM130.4 55.3 129.6 56.6 130.2 58.1 132 58.1 132.9 56.6 131.9 55.3 130.4 55.3ZM143.6 54.7 140.9 58.1 138.9 59.5 138 60.9 139.2 62.2 140.7 62.3 142.1 61.5 145 58.1 145.2 55.2 143.6 54.7ZM42.8 108.4 42.8 110.6 44.3 111.8 44.9 111.4 45.6 109.9 44.9 108.5 44.3 108 42.8 108.4ZM48.7 125.9 48.3 127.2 48.7 129.7 50.1 130.4 50.8 130.1 51.6 128.6 50.1 126.8 48.7 125.9ZM61.8 113.4 61.3 114.2 62.2 115.7 63.3 116.1 64.5 115.7 64.2 114.2 63.3 113.6 61.8 113.4ZM85.2 101 84.9 101.3 85.2 102.8 85.6 101.3 85.2 101ZM93.9 89.7 92.7 91.2 92.5 92.6 93.9 93.8 95.4 93.6 96.5 92.6 96.8 91.2 95.4 89.5 93.9 89.7ZM117.3 81.8 116.3 82.5 116.8 84 117.3 84.4 118 84 118 82.5 117.3 81.8ZM93.9 100.3 93.3 101.3 93.9 101.9 95.4 102.2 97 101.3 95.4 99.9 93.9 100.3ZM-1 42.2 -1 40.9 0.5 41.6 3.6 42.2 5.1 43.7 4.8 45.3 3.4 47.1 1.9 47.1 0.5 45.3 -1 44.2 -1 42.2ZM11.6 46.5 12.1 45.5 13.6 45.9 13.6 48 12.1 49 11.4 48 11.6 46.5ZM27.8 46.5 28.2 45.6 31.1 45.6 32.3 46.5 32.3 48 31.1 49.4 29.7 49.3 28.1 48 27.8 46.5ZM-1 49.4 -1 48.7 1.9 49.1 3.2 52.3 3.1 53.7 2.3 55.2 0.5 56.1 -1 56.2 -1 49.4ZM85.4 59.5 86.6 58.3 89.6 58.8 91 59.7 91.7 60.9 91.7 62.4 91 63.3 89.6 63.8 86.6 64.1 85.4 62.4 85.4 59.5ZM3 60.9 3.4 59.6 4.2 60.9 3.4 64 2.8 62.4 3 60.9ZM93.4 66.7 93.9 66.1 95.4 65.7 97.2 66.7 97.7 71 99.3 73.9 99.1 75.3 96.9 76.1 95.4 75.3 94 72.5 92.5 71 91.8 69.6 93.4 66.7ZM68.8 72.5 70.6 72.6 72.7 73.9 72.6 75.3 67.6 76.9 64.8 76.8 65.1 75.3 66.1 73.9 67.6 72.8 68.8 72.5ZM37 84 39.9 83 41.4 83.3 42.8 84.9 44.3 85.5 45.7 85.3 47.2 83.9 48.7 83.3 50.1 83.5 50.9 84 51.2 85.4 49.7 86.9 50 88.3 51.6 88.5 52.5 94.1 55.7 96.9 58.9 100.9 58.9 102.8 57.4 103.2 56 99.8 52.4 98.4 49.9 95.5 44.3 93.4 42.8 93.9 41.5 95.5 38.8 101.3 37 103.9 35.5 104.7 34.7 104.1 33.7 102.7 33.7 99.8 36.9 96.9 37.4 94.1 36.5 91.2 34.3 88.3 33.6 85.4 37 84ZM3.1 86.9 3.5 86.9 3.4 88.4 2.9 88.3 3.1 86.9ZM79.1 88.3 80.8 87.4 82.3 87.6 83.5 88.3 83.8 89.7 83.4 91.2 82.3 93.3 80.8 93.3 79.3 91.7 78.9 89.7 79.1 88.3Z"/>
<path fill="#dbd6ff" d="M-1 -1 106.4 -1 107.1 0.8 108.5 1.4 111.5 0.5 112.4 -1 158.2 -1 158.2 40.5 156.7 41.3 154.8 43.7 157.3 49.4 156.6 50.9 155.3 51.6 151.1 52.3 150.6 53.7 152.2 59.5 154 60.9 153.4 62.4 149.4 64.5 148 64.6 144.8 63.8 148 53.2 149.4 52.3 148 50.8 143.6 51.2 142.1 52.3 139.7 56.6 137.8 57.7 136.3 58 133.4 54.4 131.9 53.4 130.4 53.3 129 54.4 127.5 56.9 126.1 58.1 124.6 57.5 120.1 53.7 119.5 52.3 119.3 49.4 117.3 45.1 116 43.7 112.9 42.9 110.5 40.8 109.7 39.3 109.9 37.9 112.3 35 111.5 33.9 110 33.5 108.5 33.7 105.6 36.4 104.2 36.8 102.7 36.8 101.2 35.8 100.9 35 101.3 33.6 104.2 30.7 105.1 29.2 105.5 26.4 104.9 24.9 102.7 23.1 101.2 20.8 99.8 20.1 98.3 20.2 96.9 21.8 96.4 23.5 96.6 24.9 97.7 26.4 98.1 27.8 97.7 32.1 96.9 33.4 95.4 34.6 93.9 35.1 92.5 34.9 92.1 33.6 92.3 30.7 93.5 26.4 92.9 24.9 89.6 23.4 88.3 22 86.6 18.1 83.9 16.3 82.6 12 80.8 10.6 79.3 10.3 77.9 10.5 76.4 11.6 76.1 14.8 76.4 15.8 77.9 17.3 81.2 19.2 83 23.5 85.1 26.4 85.1 27.8 83.7 28.9 77.9 22.4 76.4 22.2 74.9 22.8 72.3 24.9 71.8 26.4 74.1 30.7 73.5 32.8 72 33.9 70.6 33.8 67.6 31.4 66.2 31.5 63.7 33.6 60.3 35.4 59.5 37.9 58.9 42.2 57.4 42.9 56 42.2 51.6 37.5 51.4 37.9 50.1 38.1 47.2 39.8 46.3 40.8 45.5 43.7 44.4 45.1 42.8 45.5 41.8 45.1 41.2 43.7 43 40.8 43.3 39.3 41.4 37.5 37 35.8 35.9 36.5 36.3 40.8 35.5 41.8 32.6 39 31.1 38.4 29.7 38.4 28.2 39.2 25.3 42.5 23.8 42.8 22.4 42.2 21.9 39.3 21.2 37.9 18 34.1 16.5 34.2 16.2 35 13.6 36.4 12.1 36.1 10.6 33.6 9.2 32.4 6.3 31.3 4.8 28.5 3.4 27.5 1.9 28.4 0.9 30.7 -1 31.2 -1 -1ZM6.3 20.4 6 22 6.3 23.5 7.8 24.4 8.2 23.5 7.9 20.6 7.8 20.2 6.3 20.4ZM12.1 27.6 11.8 29.2 12.4 30.7 16.5 33.1 18 32.6 18.6 30.7 18.2 29.2 16.5 27.1 15.1 26.8 12.1 27.6ZM18 4.1 17.4 4.8 18 6.2 19.4 8.1 20.9 8.6 22.8 7.6 22.5 6.2 21 4.8 19.4 4.2 18 4.1ZM35.5 33.8 35 35 35.5 35.8 35.9 35 35.5 33.8ZM44.3 28.3 44 29.2 45.4 30.7 47.2 30.7 46.6 29.2 45.7 28.6 44.3 28.3ZM58.9 20.5 57.4 20.8 57 22 57.4 23.1 58.9 22.9 59.4 22 58.9 20.5ZM60.3 11.9 60.6 13.4 61.8 15.6 63.3 17 64 16.3 64.1 14.8 63.3 12.2 61.8 11.4 60.3 11.9ZM67.6 20.2 66.5 20.6 67 22 67.6 22.5 68.1 22 68 20.6 67.6 20.2ZM85.2 1.8 84.5 3.3 84.8 4.8 85.2 5.4 86.6 5.3 87 3.3 86.6 2.5 85.2 1.8ZM92.5 7.5 89.1 9.1 88.2 10.5 87.9 12 88.1 13.4 89 14.8 91 15.7 92.5 15.9 93.9 15.4 95.4 14.1 97 13.4 99 12 95.8 10.5 93.9 7.4 92.5 7.5ZM96.9 2 95.7 3.3 96.4 4.8 99.8 5.4 100.6 6.2 101.6 9.1 102.7 10.3 105.6 10.1 106.5 9.1 106.6 7.6 106 6.2 104.4 4.8 99.8 2.5 96.9 2ZM115.8 30.6 115.7 30.7 115.8 32.2 117.1 30.7 115.8 30.6ZM120.2 37.7 119.2 39.3 120.2 40.5 121.7 40.2 122.5 39.3 122.7 37.9 121.7 37.3 120.2 37.7ZM140.7 47.7 140.2 48 140.7 49.8 141.6 49.4 141.3 48 140.7 47.7ZM20.9 16.2 19.4 17.7 19.6 19.2 20.3 20.6 22.4 21.5 23.8 21.3 24.1 20.6 23 17.7 22.4 16.8 20.9 16.2ZM57.4 30.7 57.4 32.6 58.9 32.7 59.3 32.1 59.3 30.7 58.9 30.3 57.4 30.7ZM79.7 33.6 82.3 32.6 83.2 33.6 82.5 35 80.8 35.6 79.2 35 79.7 33.6ZM93.5 42.2 93.9 41.4 95.4 41.5 95.7 42.2 95.4 43.1 93.9 43.7 93.5 42.2ZM112.9 50.9 113.7 52.3 112.9 52.8 112.4 52.3 112.9 50.9ZM-1 52.3 -1 52 -0.5 52.3 -1 53.1 -1 52.3ZM88.1 60.9 88.1 60.9 88.3 60.9 88.1 61 88.1 60.9ZM129.3 60.9 130.4 60.4 133.4 59.9 134.8 60.6 134.8 62.4 133.4 62.7 131 62.4 129.3 60.9ZM122.6 63.8 124.6 64 125.8 65.3 126.1 66.7 125.9 68.1 123.1 68.8 121.7 68.8 120.5 68.1 120.5 66.7 121 65.3 121.7 64.2 122.6 63.8ZM135.9 65.3 136.3 64.3 137.8 64 142.1 64.5 143.2 65.3 142.1 66.7 140.7 67.7 139.2 68.1 137.8 67.8 136.3 66.8 135.9 65.3ZM150.9 68.1 152.4 67.3 153.8 67.9 155.1 69.6 155.1 71 153.8 72.2 152.4 72 151.2 71 150.7 69.6 150.9 68.1ZM126.5 69.6 127.5 68.7 130.4 68.6 131.9 68.7 133.9 69.6 134.4 71 134.3 72.5 132.5 75.3 133.1 79.7 132.9 82.5 131.9 87.1 130.4 88 129 87 127.5 86.6 124.6 86.9 122.3 88.3 122.7 89.7 126.1 93 127.5 93.6 130.4 93.5 134.8 96 136.3 96.3 137 95.5 137.3 91.2 138.2 88.3 138.4 86.9 137.7 84 138.5 79.7 137 75.3 137.8 74.2 139.2 73.6 140.7 73.9 142 75.3 142.2 76.8 140.7 82.5 141 84 143.6 85.3 146.5 85.2 147.8 84 147.5 79.7 148 78.8 149.4 78.6 152.4 81.4 153.8 81.7 156.1 78.2 158.2 77 158.2 141.6 81 141.6 80.8 141 79.3 140.7 78.6 141.6 47.1 141.6 46.8 140.2 45.7 138.8 44.3 138.5 42.8 139.6 42.1 141.6 36.1 141.6 36.2 137.3 34.9 134.4 35 133 35.5 131.5 37.9 128.6 38.4 127.2 37 126.1 34.9 125.8 34.1 124.3 35.5 122.3 37 122.6 38.4 124 39.9 124.2 41.5 122.9 42.2 121.4 42.1 118.6 41.4 116.5 39.9 115.6 38.4 115.8 35.5 116.9 31.1 116.7 30.6 117.1 29.1 121.4 28.2 122.5 26.8 123.4 25.3 123.6 20.9 123.7 20.7 124.3 23.8 127.8 28.3 128.6 29.7 129.5 31.1 133.9 33.4 135.8 33.1 137.3 28.2 139.9 27.4 141.6 -1 141.6 -1 98.5 1.1 96.9 6.3 95.1 7.8 94.8 9.2 95 10.5 96.9 10.7 101.3 12.1 102.1 13.6 102.2 15.1 101.8 16.5 100.8 18 100.3 25.3 100.4 27.8 105.6 27.9 108.5 27.2 109.9 26.8 110.3 25.3 110.2 22.4 108.7 20.9 109 20.4 109.9 20.7 111.4 21.8 112.8 23.8 114.7 25.3 115.6 28.2 116 29.6 115.7 30.8 114.2 34.1 112.6 37 109.9 38.4 109.3 39.9 109.5 41.5 112.8 42.8 114 45.7 113.7 46.5 112.8 48 108.5 48.7 107.8 50.1 107.5 51.6 107.8 52 108.5 53 112 54.5 113.2 57.4 114.1 61.8 118.4 63.3 119.2 66.2 120 68.8 121.4 70.6 121.9 72 121.4 72.4 120 72.2 118.6 70.8 117.1 69.1 116.3 66.6 112.8 64.3 111.4 63.1 109.9 63.2 108.5 64.3 107 66.2 106.2 67.6 107.4 69.1 111.8 73.5 113.5 74.9 114.6 76.4 114.8 77.9 114.4 82.3 111.9 83.2 109.9 83.1 107 83.7 105.9 88.1 106.4 89.6 105.6 89.1 101.3 89.6 99.6 91.4 102.7 92.5 103.3 95.4 103.6 98.7 102.7 99.7 101.3 100.7 98.4 101.2 97.9 102.7 97.6 107.1 98.7 110.1 98.4 112.2 96.9 111.5 96.4 107.2 89.7 107.2 88.3 111 86.9 111.4 84 112.9 82.6 114.4 83.4 115.8 86.3 117.3 86.5 118.8 86.2 119.6 85.4 120 84 119.8 81.1 119.1 79.7 120.2 78.7 122.1 79.7 124.6 80.2 126.1 80.3 127.4 79.7 128.1 78.2 127.9 76.8 126.1 75.3 125.3 73.9 126.5 69.6ZM152.4 87.8 152.1 88.3 152.5 92.6 153 94.1 153.8 94.8 155.3 94.2 156.6 92.6 157.4 91.2 157.5 89.7 156.4 88.3 155.3 87.6 153.8 87.3 152.4 87.8ZM48.7 121 47.2 121.6 46.2 122.9 45.9 124.3 46.3 128.6 44.9 133 45.7 133.9 47.2 134.2 51.6 133.8 53 132.6 54.3 130.1 54.3 128.6 51.4 125.8 48.7 121ZM60.3 122.5 58.9 123.1 58.9 124.6 60.3 125 61.4 124.3 61.1 122.9 60.3 122.5ZM61.8 130 59.7 133 59.1 135.8 61.8 138.5 63.3 139.2 66.1 135.8 66.6 134.4 66.6 133 65.9 131.5 64.7 130.4 63.3 129.6 61.8 130ZM72 125.4 70.6 126 69.5 127.2 69.1 128.6 69.6 130.1 70.6 130.9 72 131 72.9 130.1 73.2 127.2 72.7 125.8 72 125.4ZM80.8 126.3 80 127.2 80.3 128.6 80.8 129.3 82.3 129.2 82.7 128.6 82.4 127.2 80.8 126.3ZM105.6 107 102.8 109.9 103.3 111.4 105.6 111.4 107.3 109.9 108.3 107 107.1 105.7 105.6 107ZM117.3 91.9 115.8 93.2 114.6 96.9 115.3 98.4 117.3 99.9 119.8 96.9 119.8 95.5 118.8 92.6 117.3 91.9ZM107.1 117.1 106 118.6 106.1 120 108.5 120.1 110.3 118.6 110.6 117.1 110 116.1 108.5 116.2 107.1 117.1ZM85.1 73.9 86.4 75.3 86.4 76.8 84.3 78.2 80.9 79.7 79.3 78.6 79.3 78.1 82.3 76.4 85.1 73.9ZM88.4 79.7 89.6 78.4 91 78.4 92.5 78.8 93.5 79.7 94.8 84 94.1 85.4 93.6 84 89.6 81.5 88.4 79.7ZM43.9 88.3 44.4 88.3 46.5 89.7 49.8 91.2 50.3 92.6 50.1 93 48.7 93.4 47.2 92.8 45.7 91.5 42.8 89.9 42.8 89.4 43.9 88.3ZM96.2 95.5 98.3 95.5 98.7 96.9 95.4 97.8 93.9 97.8 92.3 96.9 93.9 96 96.2 95.5ZM26.6 96.9 27.2 96.9 26.8 98.1 26.6 96.9ZM76.6 99.8 77.9 99.4 80.8 100.5 81.7 101.3 83.2 105.6 82.3 105.9 79.3 105.3 77.9 103.4 76.6 99.8Z"/>
<path fill="#fffdfd" d="M-1 -1 9.7 -1 9.8 0.4 10.7 1.6 12.9 3.3 15.4 7.6 15.3 9.1 13.6 10.7 12.1 10.8 9.2 8.5 7.8 8.5 3.4 11.8 0.1 17.7 0.7 19.2 2 20.6 1.9 21 0.5 21.6 -1 21.4 -1 9.1 0.5 8.6 1.9 7.2 3.4 6.5 6.3 5.8 7.2 4.8 7.2 3.3 5.8 1.9 3.4 1.4 1.5 1.9 -1 3.5 -1 -1ZM14.9 -1 25.2 -1 25.3 -0.6 25.4 -1 74.5 -1 74.3 3.3 74.9 6.1 76.4 6.4 79.3 2.7 80.8 2.4 82.3 4.2 82.6 6.2 82.3 7.7 80.8 8.2 76.4 8.1 75.4 9.1 73.6 16.3 73.6 17.7 74.3 19.2 74.4 20.6 73.5 21.7 72 22.5 71.2 22 70.2 19.2 66.6 16.3 65.4 10.5 64.7 8.9 63.3 8.3 58.9 10.2 57.7 12 58 13.4 60.2 16.3 60.3 17.7 58.9 18.6 56 19.5 55 23.5 52.2 26.4 52.2 27.8 53.6 29.2 53.7 30.7 53 31.1 51.8 30.7 50.7 29.2 47.2 27.1 44.3 24.5 42.2 24.9 40.6 26.4 40.9 27.8 42.2 30.7 46.6 33.6 47.4 35 47.2 36.5 45.7 37.5 44.3 37.4 40.1 35 38.7 33.6 37.9 32.1 36.8 27.8 37.3 24.9 37.4 19.2 37.2 17.7 36.3 16.3 35.5 14 34.1 13.1 31.1 14.8 30.4 16.3 30.5 17.7 32.1 20.6 32.8 23.5 32.9 24.9 31.1 25.9 29.7 24.8 28 20.6 25.3 17.9 23.8 15 20.7 13.4 20.3 12 22.4 11.1 23.8 11.2 25.3 12 27.1 12 27.5 10.5 24.9 4.8 23.8 3.2 22.4 2.2 16.5 1.2 15.5 0.4 14.9 -1ZM29.7 2.7 28.4 3.3 28.1 4.8 28.4 6.2 29.7 7.7 31.1 7.2 32.5 4.8 32.2 3.3 29.7 2.7ZM44.3 7.5 43.8 9.1 44.3 10.2 45.7 10.7 47.4 9.1 48.1 7.6 47.2 6.5 44.3 7.5ZM66.2 2.7 65.6 3.3 65.5 4.8 66.2 6.2 67.6 6.2 68.7 4.8 68.3 3.3 67.6 2.8 66.2 2.7ZM97.5 -1 104.6 -1 104.2 1.7 102.7 1.7 99.1 0.4 97.5 -1ZM114.9 -1 140.5 -1 142.7 1.9 143.3 3.3 145.1 4.4 146.6 3.3 145.1 1.7 143 0.4 142.7 -1 158.2 -1 158.2 5.3 154.7 7.6 154 9.1 155.3 10.4 158.2 10.4 158.2 20.8 156.6 22 158.2 23.1 158.2 30.2 155.2 32.1 149.4 34 148 34 146.5 33.1 146 33.6 146.6 37.9 146.4 39.3 145.7 40.8 145.1 41.4 142.8 42.2 141.7 43.7 136.8 46.5 136.6 48 136.9 49.4 138.4 52.3 138.5 53.7 137.8 54.7 136.3 54.5 133.8 52.3 132.9 50.9 133 49.4 134.5 46.5 134.7 45.1 134.3 43.7 131.9 41.3 130.4 41.1 129 42 124.6 46.2 123.1 46.7 121.7 46.2 120.6 45.1 120.4 43.7 123.9 40.8 125.5 37.9 128.4 35 128.5 33.6 127.5 32.8 126.1 32.8 121.7 35.1 119.1 35 118.8 33.6 120.1 29.2 121.8 27.8 122.7 26.4 122.1 24.9 119.8 24.9 118.8 26.6 117.3 27.6 114.4 27.6 113.1 26.4 112.9 24.6 111.5 21.1 112.1 17.7 111.9 16.3 110.6 12 107.4 4.8 108.2 3.3 112.8 1.9 114.4 0.7 114.9 -1ZM118.8 2.9 117.3 3.5 115.8 4.7 114.1 7.6 114.4 9.1 115.8 10 117.3 10.2 118.2 9.1 119.1 6.2 120.7 3.3 120.2 2.9 118.8 2.9ZM133.4 24.7 132.8 24.9 131.9 26.4 132.5 27.8 133.4 28.4 134.8 28 136.1 26.4 135.3 24.9 133.4 24.7ZM134.8 15.1 133.9 16.3 134.8 17.5 136.4 16.3 134.8 15.1ZM139.2 38.7 138.8 39.3 139.2 40.3 140.7 41.2 141.3 40.8 141.2 39.3 139.2 38.7ZM140.7 11.9 142.1 13.5 143.6 14.1 144.6 13.4 143.6 11.9 142.1 11.6 140.7 11.9ZM145.1 30.3 144.8 30.7 145.1 32.7 145.6 32.1 145.1 30.3ZM148 16.5 146.7 17.7 148 19.2 149.4 19.1 149.8 17.7 148 16.5ZM114.4 18.6 113.7 19.2 113.7 22 114.4 22.7 115.8 23.1 117.3 22.9 117.9 22 118 20.6 117.3 18.7 115.8 18.2 114.4 18.6ZM134.8 31.9 133.4 32.4 132.6 33.6 132.6 35 133.7 36.5 134.8 37 136.3 37 137.1 36.5 137.2 35 136.8 33.6 136.3 32.7 134.8 31.9ZM90.3 3.3 91 2.7 91.7 3.3 91 4.3 90.3 3.3ZM97.9 7.6 98.7 7.6 98.3 8.4 97.9 7.6ZM99.7 14.8 102.1 14.8 102.2 16.3 101.6 17.7 98.3 18.3 96.4 17.7 96.9 16.3 99.7 14.8ZM11.1 17.7 13.6 16.9 15.1 16.9 16.5 17.5 17.6 20.6 17.7 22 17 23.5 13.6 24.8 12.1 24.7 10.7 23.6 9.9 20.6 10.1 19.2 11.1 17.7ZM89.8 19.2 91 18.4 92.5 18.4 95.3 19.2 95.3 20.6 94.8 22 93.9 22.9 92.5 22.9 91 22.4 89.6 20.6 89.8 19.2ZM61.7 20.6 63.3 20.2 66.2 25.4 67.4 26.4 66.2 27.6 63.3 28 59.6 26.4 61 23.5 61.7 20.6ZM20.1 24.9 20.9 24.4 23.2 24.9 26.8 29.2 25.3 29.5 22.4 28.5 20.9 27.5 20.1 26.4 20.1 24.9ZM94.9 27.8 95.4 27.5 95.8 27.8 96.8 29.2 96.7 30.7 95.4 32.6 93.9 32.6 93.4 30.7 93.6 29.2 93.9 28.5 94.9 27.8ZM108.1 27.8 108.5 27 110 26.7 111.5 27.1 112.7 27.8 112.5 29.2 111.5 30.7 108.5 30.8 107.7 29.2 108.1 27.8ZM152.9 37.9 153.8 37.2 155.3 37.3 155.8 37.9 155.3 39.3 153.8 40.5 152.4 39.3 152.9 37.9ZM151.7 48 152.4 46.7 153.8 47.4 154.1 48 153.8 49 152.4 48.9 151.7 48ZM124.2 49.4 126.1 49.5 127.8 50.9 128.1 52.3 126.1 55.2 124.6 55 122.9 53.7 122.1 52.3 122.4 50.9 123.1 49.8 124.2 49.4ZM149.2 58.1 149.4 57.5 149.4 58.5 149.2 58.1ZM129.2 71 130.4 70.3 132 71 130.4 72.5 129.2 71ZM157 79.7 158.2 78.8 158.2 82.6 156.7 81.2 157 79.7ZM122 82.5 123.1 81.9 126.7 82.5 127.3 84 124.6 85.1 123.1 85.3 121.7 84.2 122 82.5ZM142.3 88.3 145.1 88.1 149.4 90.1 150.2 91.2 150.6 92.6 150.2 94.1 149.4 94.8 148 94.9 147.3 94.1 146.3 91.2 145.1 89.8 143.6 89.8 142.1 90.4 140.7 93.5 139.7 92.6 140.1 91.2 142.3 88.3ZM5.2 96.9 7.8 96.9 8.3 98.4 7.8 100.6 6.3 101.2 4.1 99.8 3.6 98.4 5.2 96.9ZM130.1 96.9 131.9 97.1 134.8 98.5 139.2 102.5 140.7 100.6 141.3 98.4 142.1 97 143.6 96.2 146.5 96.3 148.4 98.4 149.4 101.3 149.1 102.7 145.6 107 145.9 108.5 148 109.3 149.4 109 150 108.5 150.8 107 151.5 104.1 152.4 102.9 154.3 101.3 155.3 98.2 156.2 96.9 158.2 95.8 158.2 105.6 157 108.5 157.5 109.9 158.2 110.1 158.2 120.3 156.9 121.4 156.3 122.9 156.5 124.3 158.2 125.4 158.2 141.6 142.1 141.6 140.7 139.8 139.2 140 138.6 141.6 94.6 141.6 94.5 140.2 93.9 139.7 92.5 139.4 89.6 139.8 88.6 141.6 82.8 141.6 82.3 139.3 80.8 138.4 77 137.3 78.4 133 79.3 131.7 82.3 131.9 83.7 132.8 85.2 135.6 86.6 135.2 89.6 133.4 92.3 133 91 132.2 90.6 131.5 86.6 130.1 85.4 128.6 83.7 125.2 80.8 122.6 76.4 121.9 74.9 121.1 74.3 120 74.2 118.6 74.9 117.3 79.3 116.3 83.7 113.9 84.7 112.8 85.5 109.9 86.6 109.3 87.7 109.9 88.1 111.4 85.7 114.2 85.2 117.1 85.5 118.6 88.1 121.4 89.6 122.3 95.4 122.2 96.9 122.9 98.6 125.8 99.8 126.6 101.2 126.4 102.7 125.8 104.2 124.5 105.6 122.2 110 120.9 111.4 120 113.9 115.7 113.7 114.2 112.9 113.6 109.9 112.8 109.1 111.4 110.3 105.6 109.2 102.7 109.3 101.3 111.5 100.7 112.9 100.9 116.6 104.1 117.5 107 117.3 110.3 118.9 108.5 120.2 107.7 124.6 106.7 126.1 106.9 129 109 130.4 108.7 131 107 130.8 105.6 130.4 104.9 127.9 102.7 127.5 101.3 128.3 98.4 130.1 96.9ZM145.1 117.5 143.8 118.6 144 120 147.2 122.9 148 124.8 149.4 125.1 149.9 124.3 149.7 122.9 148 119.5 146.5 117.8 145.1 117.5ZM95.4 134.3 94.8 135.8 95 138.7 95.4 139.1 96.9 139.4 99.8 138.9 101.5 137.3 102.1 135.8 102.3 134.4 101.2 134.1 95.4 134.3ZM108.5 128.4 108.3 128.6 110 129.1 111 128.6 110 128.1 108.5 128.4ZM-1 102.7 -1 102.1 0.5 102.1 6.3 103.5 7.8 104.2 12.1 103.7 15.1 104.4 17.7 107 20 112.8 22.4 115.7 23.8 116.6 26.8 117.2 28.2 118.4 28.3 120 26.8 121.8 25.3 122.1 23.8 121.7 20.9 120.3 19.4 120.7 18 121.8 17.2 122.9 17 124.3 20.4 127.2 21.1 128.6 20.9 131.5 21.4 133 22.4 133.2 23.4 131.5 25.3 130.3 26.8 130.2 28.2 131.3 29 134.4 28.8 135.8 28.2 136.4 25.3 137.5 22.4 139.2 21.3 140.2 20.7 141.6 14.1 141.6 13.6 140.1 12.7 141.6 3.3 141.6 1.9 140.4 -1 141 -1 102.7ZM19.3 102.7 22.4 102.3 23.8 102.9 25.6 105.6 25.4 107 22.4 106.8 19.7 105.6 19 104.1 19.3 102.7ZM101.4 104.1 102.7 103.5 104.2 104.1 103.7 105.6 101.2 108.3 99.8 110.9 98.3 111.3 95.4 108.6 92.9 107 92.8 105.6 93.9 105 99.8 105.1 101.4 104.1ZM93.7 112.8 95.5 112.8 96.7 114.2 96.2 117.1 95.4 118 93.9 118.2 92.5 117.6 91.3 115.7 91.3 114.2 92.5 113.2 93.7 112.8ZM102.7 114.2 104.2 113.6 105.6 113.5 107.1 114.2 104.2 118 102.7 118.7 101.9 117.1 102.7 114.2ZM53 120 56 118.7 56.8 120 56.4 124.3 55.9 125.8 54.5 126.2 53 125.6 51.9 124.3 51.5 122.9 51.7 121.4 53 120ZM76 127.2 76.8 127.2 77.9 128.4 77.9 130.3 76.4 130.6 75.8 130.1 75.1 128.6 76 127.2ZM70.2 135.8 70.6 135.3 72 135.3 74.4 137.3 75.3 138.7 75.1 141.6 65.8 141.6 66.2 140.2 70.2 135.8ZM55.7 140.2 57.4 139 58.9 139.2 59.9 140.2 60.4 141.6 55.1 141.6 55.7 140.2Z"/>
<path fill="#fcdad8" d="M3.1 -1 3.4 -1 5.5 -1 4.8 -0.9 3.1 -1ZM31.1 -1 42.3 -1 42.8 -0.4 44.3 -0.6 44.5 -1 50.8 -1 50.8 0.4 50.1 1.7 47.2 2.2 44.3 3.6 42.8 3.8 40.6 3.3 37 -0.3 35.5 -0.9 32.6 -0.5 31.1 -1ZM124.4 -1 138.4 -1 139.2 1.4 142.3 4.8 143.6 5.8 148 7 149.4 7.9 150.9 9.5 153.8 14 158.2 13.3 158.2 18.4 153.8 19 152.4 15.4 148 13.9 144.9 10.5 139.2 8.7 137.8 7.7 136.1 4.8 134.5 3.3 132.3 1.9 130.4 0.1 129 0.1 128.5 3.3 129 4.2 131.9 5.2 133.4 6.2 136.3 10.2 136.3 11.4 134.8 12 133.4 11 130.4 9.9 129 8.8 127.5 5.2 126.1 4.5 125.3 3.3 124.4 -1ZM145.5 -1 158.2 -1 158.2 0.9 156.7 1.4 155.8 3.3 154.6 4.8 152.4 5.6 150.9 5.4 150.2 4.8 146.2 0.4 145.5 -1ZM54.6 1.9 57.4 1.5 60.3 2.2 61.8 3.3 61.9 4.8 61.1 6.2 57.4 9.2 56.5 10.5 55.6 13.4 52.8 14.8 51.6 16.3 51.7 17.7 54.1 20.6 54 22 53 23.3 50.1 25.1 48.7 25.3 47.5 23.5 45.6 19.2 45.2 16.3 46.6 13.4 51.6 7.6 51.9 6.2 51.6 3.2 53 2.1 54.6 1.9ZM35.1 6.2 37 4.8 38.4 4.8 39.5 6.2 41.2 10.5 41.4 12.4 39.8 13.4 35.1 9.1 34.5 7.6 35.1 6.2ZM121.5 7.6 121.7 7.4 123.3 7.6 121.7 8.8 121.5 7.6ZM68.5 10.5 69.1 10 70.6 9.7 72 10 72.6 10.5 73.1 12 72.9 13.4 72 14.7 70.6 15.5 69.1 15.3 68.6 14.8 68 13.4 68 12 68.5 10.5ZM-1 12 -1 11.5 -0 12 -0.3 13.4 -1 14 -1 12ZM126.9 14.8 127.5 14.6 130.4 15.9 132.6 19.2 136.9 20.6 136.8 22 134.8 22.5 132.8 22 130.6 19.2 126.6 16.3 126.9 14.8ZM138.7 16.3 139.2 15.4 140.7 15.2 142.6 16.3 143.2 17.7 142.2 19.2 140.2 19.2 139.2 18.8 138.7 17.7 138.7 16.3ZM120.2 17.7 121.7 17.1 123.1 17.2 124.1 17.7 124.6 19.2 124.8 22 126.1 23.2 129 24.1 129.7 24.9 129.8 27.8 129 29.4 123.1 32.2 121.7 32.3 121.6 30.7 123.7 27.8 124.3 24.9 123.5 23.5 121.7 23.1 119.9 22 119.6 19.2 120.2 17.7ZM13.1 19.2 13.6 19 15.1 19.7 15.6 20.6 15.3 22 13.6 23.1 12.1 22.7 11.7 22 11.6 20.6 12.1 19.6 13.1 19.2ZM139.1 24.9 140.7 24.4 141.9 24.9 142.2 26.4 140.1 29.2 140.2 30.7 142.4 33.6 142.6 35 142.1 36 140.7 36.1 139.1 35 138.4 30.7 139.1 24.9ZM149.3 26.4 151.2 27.8 151.8 29.2 150.9 29.9 149.3 29.2 149 27.8 149.3 26.4ZM143.3 98.4 145.1 97.9 146.5 98.6 147.5 99.8 147.9 101.3 147.4 102.7 146.5 103.8 145.1 105 143.6 105.3 142.2 104.1 141.8 102.7 142.2 99.8 143.3 98.4ZM131.6 101.3 131.9 100.8 133.4 100.3 134.8 100.8 136.3 102 138.7 105.6 139.9 108.5 139.7 109.9 136.3 109.3 134.7 108.5 133.4 106.8 131.6 101.3ZM-0.4 105.6 1.9 105.4 3.4 105.8 4.8 107.1 6.6 109.9 9.2 111.9 10.7 115.7 12.1 117.1 13.6 117.4 15.1 116.9 16.1 115.7 16.2 114.2 14.8 112.8 10.7 111.1 10 109.9 9.9 108.5 10.1 107 11.2 105.6 12.1 105.3 13.6 105.5 16.5 108.6 18.7 114.2 19.7 115.7 19.9 117.1 16.5 120.8 14.8 124.3 13.6 125.8 10.7 126.8 10.1 130.1 9.2 132.4 7.8 132.5 3.4 130.4 1.9 130.5 -1 131.5 -1 123.4 3.8 120 3.4 118.1 1.9 117.4 -1 117.3 -1 113.1 0.5 112.2 1.3 109.9 1 108.5 -0.4 105.6ZM112.4 105.6 112.9 104.6 114.4 105.3 114.9 107 114.4 109.3 112.9 110.9 111.3 109.9 111.5 108.2 112.4 105.6ZM153.3 105.6 153.8 105 154.7 105.6 154.7 107 153.8 108.5 152.9 107 153.3 105.6ZM121.3 109.9 123.1 109.4 124.2 109.9 127.5 113.5 128.4 115.7 130.4 116.8 133.4 116.5 134.8 114.9 136.3 114 141.3 117.1 142.5 121.4 145.5 124.3 145.6 125.8 145.1 127.1 143.2 130.1 143.1 131.5 143.6 132 145.1 131.9 146.5 130 150.9 126.4 152.2 124.3 151.8 122.9 149.9 120 149.3 117.1 148 115.8 145.1 115.2 143.6 114.4 143.2 112.8 143.6 112.2 145.1 111.7 148 112.2 148.7 112.8 149.6 115.7 150.9 116 154.2 115.7 156.7 113.1 158.2 112.7 158.2 118.2 156.7 119.1 154.7 122.9 154.6 124.3 156.7 126.6 158.2 127.2 158.2 131 156.7 131.4 153.9 133 152.4 134.9 149.4 136.4 148 138 146.4 141.6 144 141.6 142.1 139.3 140.7 138.3 139.2 138 137.8 138.8 137.3 141.6 133.2 141.6 132.9 138.7 131.9 137.8 130.4 137.7 129.5 138.7 129 141.6 118.8 141.6 117.9 140.2 115.8 138.3 114.4 128.6 115.2 125.8 117.2 122.9 121.7 119.1 124.6 118.2 125 117.1 124.3 114.2 123.4 112.8 121.1 111.4 121.3 109.9ZM130.4 122.5 129.1 124.3 127.8 128.6 129 130.1 130.4 130.2 133.1 128.6 134.4 127.2 135 125.8 135.1 124.3 134.6 122.9 133.4 122.1 130.4 122.5ZM121.7 129.6 120.8 131.5 120.7 133 121.7 135.3 123.1 135.6 124.9 134.4 125.3 131.5 124.6 129.9 123.1 129.2 121.7 129.6ZM24.6 118.6 25.8 118.6 26.6 120 25.3 120.4 24.5 120 24.6 118.6ZM107.1 122.9 108.5 122.5 110 122.6 110.5 122.9 110.8 124.3 109.2 125.8 107.1 126 106.6 125.8 106.1 124.3 107.1 122.9ZM91.1 125.8 93.9 125 95.4 125.7 96.4 128.6 95.4 129.9 90.8 128.6 89.7 127.2 91.1 125.8ZM16.1 127.2 18 127.4 19.2 128.6 19.3 130.1 18.6 137.3 18.2 138.7 18.2 141.6 17.2 141.6 17.7 138.7 17.5 137.3 13.6 135.9 12.1 136.3 11.3 138.7 11 141.6 4.9 141.6 4.5 140.2 3.4 138.4 1.9 138.1 -1 138.4 -1 131.5 -0.6 133 3.4 134.9 6.3 134.4 7.8 133.5 9.2 133.3 10.7 133.5 12.1 133 13.6 131.2 15.1 128 16.1 127.2ZM106.5 131.5 108.5 131.3 110.1 133 109.6 134.4 108.5 135.5 107.1 136 106.5 135.8 105.7 134.4 105.8 133 106.5 131.5ZM26.2 133 26.8 132.9 26.8 133 26.8 133.1 26.2 133ZM155.3 135.8 158.2 135.2 158.2 141.6 150.5 141.6 150.7 140.2 152.4 137.4 153.8 136.2 155.3 135.8ZM88.9 137.3 89.6 136.4 91 136.1 91.4 137.3 89.6 137.6 88.9 137.3ZM85 140.2 85.2 139.8 86.2 140.2 86.7 141.6 84.7 141.6 85 140.2ZM101.1 140.2 104.2 138.8 104.6 141.6 99.1 141.6 101.1 140.2Z"/>
<path fill="#fab4ae" d="M133.1 -1 136.7 -1 136.5 0.4 134.8 0.9 134 0.4 133.1 -1ZM147.9 -1 148 -1 150.7 -1 149.4 0.5 147.9 -1ZM52.2 10.5 53 10 54 10.5 53.9 12 51.6 13.1 50.9 12 52.2 10.5ZM48.6 14.8 49.3 16.3 49.2 17.7 48.7 18.6 48.1 17.7 47.9 16.3 48.6 14.8ZM121.4 20.6 121.7 19.8 122.5 20.6 121.7 21.1 121.4 20.6ZM125.8 26.4 126.1 25.8 127.5 25.7 128 26.4 127.6 27.8 126.1 28.2 125.8 26.4ZM143.8 99.8 145.1 99.4 146.5 101 145.9 102.7 145.1 103.4 143.6 103.2 143.3 102.7 143.1 101.3 143.8 99.8ZM4.3 112.8 4.8 112.5 7.8 114 10.7 118.2 13.9 120 13.6 122.2 12.1 123.2 9.2 120.7 7.8 119.9 6.3 118.3 4 114.2 4.3 112.8ZM151.5 118.6 152.4 117.8 153.8 117.6 155 118.6 154.7 120 153.8 121.4 152.4 121.2 151.5 120 151.5 118.6ZM123.7 122.9 124.6 122.3 126.1 122.2 126.9 122.9 127 124.3 126.1 125.8 124.6 125.7 123.5 124.3 123.7 122.9ZM2.8 124.3 3.4 124 3.9 124.3 6.6 127.2 6.5 128.6 3.3 127.2 2.3 125.8 2.8 124.3ZM152.5 127.2 153.8 126.6 154.8 127.2 155.7 128.6 154.2 130.1 152.4 131.1 150.6 133 149.4 133.7 148 133.8 147.7 133 148.4 131.5 150.9 129.2 152.5 127.2ZM136.8 128.6 137.8 128.2 139.2 128.2 139.9 128.6 140.3 133 141 134.4 142.1 134.8 145.1 134.8 146.5 135.6 146.2 137.3 145.1 139 143.6 138.8 140.7 136 139.2 135.4 134.8 135.5 132.5 134.4 132 133 132.7 131.5 134.8 129.7 136.8 128.6ZM7 137.3 7.8 137 9.2 138 9.7 141.6 6.1 141.6 6 138.7 6.3 137.8 7 137.3ZM123.1 138.7 124.6 138.1 126.1 138.1 127.5 139.5 127.8 141.6 121.9 141.6 122 140.2 123.1 138.7ZM152.8 140.2 153.8 139.2 155.3 139.7 155.7 141.6 152.2 141.6 152.8 140.2Z"/>
<path fill="#f78e85" d="M124.2 141.6 124.6 140.9 126.1 141 126.3 141.6 124.2 141.6Z"/>
<path d="M5.2 5.2L6.2 5M10.5 5.2L11.4 5M15.7 5.2L16.7 5M21 5.2L21.9 5M26.2 5.2L27.1 5M31.4 5.2L32.4 5M36.7 5.2L37.6 5M41.9 5.2L42.9 5M47.2 5.2L48.1 5M52.4 5.2L53.4 5M57.6 5.2L58.6 5M62.9 5.2L63.8 5M68.1 5.2L69.1 5M73.4 5.2L74.3 5M78.6 5.2L79.5 5M83.8 5.2L84.8 5M89.1 5.2L90 5M94.3 5.2L95.3 5M99.6 5.2L100.5 5M104.8 5.2L105.8 5M110 5.2L111 5M115.3 5.2L116.2 5M120.5 5.2L121.5 5M125.8 5.2L126.7 5M131 5.2L131.9 5M136.2 5.2L137.2 5M141.5 5.2L142.4 5M146.7 5.2L147.7 5M152 5.2L152.9 5M5.2 10.4L6.2 10.2M10.5 10.4L11.4 10.2M15.7 10.4L16.7 10.2M21 10.4L21.9 10.2M26.2 10.4L27.1 10.2M31.4 10.4L32.4 10.2M36.7 10.4L37.6 10.2M41.9 10.4L42.9 10.2M47.2 10.4L48.1 10.2M52.4 10.4L53.4 10.2M57.6 10.4L58.6 10.2M62.9 10.4L63.8 10.2M68.1 10.4L69.1 10.2M73.4 10.4L74.3 10.2M78.6 10.4L79.5 10.2M83.8 10.4L84.8 10.2M89.1 10.4L90 10.2M94.3 10.4L95.3 10.2M99.6 10.4L100.5 10.2M104.8 10.4L105.8 10.2M110 10.4L111 10.2M115.3 10.4L116.2 10.2M120.5 10.4L121.5 10.2M125.8 10.4L126.7 10.2M131 10.4L131.9 10.2M136.2 10.4L137.2 10.2M141.5 10.4L142.4 10.2M146.7 10.4L147.7 10.2M152 10.4L152.9 10.2M5.2 15.6L6.2 15.4M10.5 15.6L11.4 15.4M15.7 15.6L16.7 15.4M21 15.6L21.9 15.4M26.2 15.6L27.1 15.4M31.4 15.6L32.4 15.4M36.7 15.6L37.6 15.4M41.9 15.6L42.9 15.4M47.2 15.6L48.1 15.4M52.4 15.6L53.4 15.4M57.6 15.6L58.6 15.4M62.9 15.6L63.8 15.4M68.1 15.6L69.1 15.4M73.4 15.6L74.3 15.4M78.6 15.6L79.5 15.4M83.8 15.6L84.8 15.4M89.1 15.6L90 15.4M94.3 15.6L95.3 15.4M99.6 15.6L100.5 15.4M104.8 15.6L105.8 15.4M110 15.6L111 15.4M115.3 15.6L116.2 15.4M120.5 15.6L121.5 15.4M125.8 15.6L126.7 15.4M131 15.6L131.9 15.4M136.2 15.6L137.2 15.4M141.5 15.6L142.4 15.4M146.7 15.6L147.7 15.4M152 15.6L152.9 15.4M5.2 20.8L6.2 20.6M10.5 20.8L11.4 20.6M15.7 20.8L16.7 20.6M21 20.8L21.9 20.6M26.2 20.8L27.1 20.6M31.4 20.8L32.4 20.6M36.7 20.8L37.6 20.6M41.9 20.8L42.9 20.6M47.2 20.8L48.1 20.6M52.4 20.8L53.4 20.6M57.6 20.8L58.6 20.6M62.9 20.8L63.8 20.6M68.1 20.8L69.1 20.6M73.4 20.8L74.3 20.6M78.6 20.8L79.5 20.6M83.8 20.8L84.8 20.6M89.1 20.8L90 20.6M94.3 20.8L95.3 20.6M99.6 20.8L100.5 20.6M104.8 20.8L105.8 20.6M110 20.8L111 20.6M115.3 20.8L116.2 20.6M120.5 20.8L121.5 20.6M125.8 20.8L126.7 20.6M131 20.8L131.9 20.6M136.2 20.8L137.2 20.6M141.5 20.8L142.4 20.6M146.7 20.8L147.7 20.6M152 20.8L152.9 20.6M5.2 26L6.2 25.8M10.5 26L11.4 25.8M15.7 26L16.7 25.8M21 26L21.9 25.8M26.2 26L27.1 25.8M31.4 26L32.4 25.8M36.7 26L37.6 25.8M41.9 26L42.9 25.8M47.2 26L48.1 25.8M52.4 26L53.4 25.8M57.6 26L58.6 25.8M62.9 26L63.8 25.8M68.1 26L69.1 25.8M73.4 26L74.3 25.8M78.6 26L79.5 25.8M83.8 26L84.8 25.8M89.1 26L90 25.8M94.3 26L95.3 25.8M99.6 26L100.5 25.8M104.8 26L105.8 25.8M110 26L111 25.8M115.3 26L116.2 25.8M120.5 26L121.5 25.8M125.8 26L126.7 25.8M131 26L131.9 25.8M136.2 26L137.2 25.8M141.5 26L142.4 25.8M146.7 26L147.7 25.8M152 26L152.9 25.8M5.2 31.2L6.2 31.1M10.5 31.2L11.4 31.1M15.7 31.2L16.7 31.1M21 31.2L21.9 31.1M26.2 31.2L27.1 31.1M31.4 31.2L32.4 31.1M36.7 31.2L37.6 31.1M41.9 31.2L42.9 31.1M47.2 31.2L48.1 31.1M52.4 31.2L53.4 31.1M57.6 31.2L58.6 31.1M62.9 31.2L63.8 31.1M68.1 31.2L69.1 31.1M73.4 31.2L74.3 31.1M78.6 31.2L79.5 31.1M83.8 31.2L84.8 31.1M89.1 31.2L90 31.1M94.3 31.2L95.3 31.1M99.6 31.2L100.5 31.1M104.8 31.2L105.8 31.1M110 31.2L111 31.1M115.3 31.2L116.2 31.1M120.5 31.2L121.5 31.1M125.8 31.2L126.7 31.1M131 31.2L131.9 31.1M136.2 31.2L137.2 31.1M141.5 31.2L142.4 31.1M146.7 31.2L147.7 31.1M152 31.2L152.9 31.1M5.2 36.5L6.2 36.3M10.5 36.5L11.4 36.3M15.7 36.5L16.7 36.3M21 36.5L21.9 36.3M26.2 36.5L27.1 36.3M31.4 36.5L32.4 36.3M36.7 36.5L37.6 36.3M41.9 36.5L42.9 36.3M47.2 36.5L48.1 36.3M52.4 36.5L53.4 36.3M57.6 36.5L58.6 36.3M62.9 36.5L63.8 36.3M68.1 36.5L69.1 36.3M73.4 36.5L74.3 36.3M78.6 36.5L79.5 36.3M83.8 36.5L84.8 36.3M89.1 36.5L90 36.3M94.3 36.5L95.3 36.3M99.6 36.5L100.5 36.3M104.8 36.5L105.8 36.3M110 36.5L111 36.3M115.3 36.5L116.2 36.3M120.5 36.5L121.5 36.3M125.8 36.5L126.7 36.3M131 36.5L131.9 36.3M136.2 36.5L137.2 36.3M141.5 36.5L142.4 36.3M146.7 36.5L147.7 36.3M152 36.5L152.9 36.3M5.2 41.7L6.2 41.5M10.5 41.7L11.4 41.5M15.7 41.7L16.7 41.5M21 41.7L21.9 41.5M26.2 41.7L27.1 41.5M31.4 41.7L32.4 41.5M36.7 41.7L37.6 41.5M41.9 41.7L42.9 41.5M47.2 41.7L48.1 41.5M52.4 41.7L53.4 41.5M57.6 41.7L58.6 41.5M62.9 41.7L63.8 41.5M68.1 41.7L69.1 41.5M73.4 41.7L74.3 41.5M78.6 41.7L79.5 41.5M83.8 41.7L84.8 41.5M89.1 41.7L90 41.5M94.3 41.7L95.3 41.5M99.6 41.7L100.5 41.5M104.8 41.7L105.8 41.5M110 41.7L111 41.5M115.3 41.7L116.2 41.5M120.5 41.7L121.5 41.5M125.8 41.7L126.7 41.5M131 41.7L131.9 41.5M136.2 41.7L137.2 41.5M141.5 41.7L142.4 41.5M146.7 41.7L147.7 41.5M152 41.7L152.9 41.5M5.2 46.9L6.2 46.7M10.5 46.9L11.4 46.7M15.7 46.9L16.7 46.7M21 46.9L21.9 46.7M26.2 46.9L27.1 46.7M31.4 46.9L32.4 46.7M36.7 46.9L37.6 46.7M41.9 46.9L42.9 46.7M47.2 46.9L48.1 46.7M52.4 46.9L53.4 46.7M57.6 46.9L58.6 46.7M62.9 46.9L63.8 46.7M68.1 46.9L69.1 46.7M73.4 46.9L74.3 46.7M78.6 46.9L79.5 46.7M83.8 46.9L84.8 46.7M89.1 46.9L90 46.7M94.3 46.9L95.3 46.7M99.6 46.9L100.5 46.7M104.8 46.9L105.8 46.7M110 46.9L111 46.7M115.3 46.9L116.2 46.7M120.5 46.9L121.5 46.7M125.8 46.9L126.7 46.7M131 46.9L131.9 46.7M136.2 46.9L137.2 46.7M141.5 46.9L142.4 46.7M146.7 46.9L147.7 46.7M152 46.9L152.9 46.7M5.2 52.1L6.2 51.9M10.5 52.1L11.4 51.9M15.7 52.1L16.7 51.9M21 52.1L21.9 51.9M26.2 52.1L27.1 51.9M31.4 52.1L32.4 51.9M36.7 52.1L37.6 51.9M41.9 52.1L42.9 51.9M47.2 52.1L48.1 51.9M52.4 52.1L53.4 51.9M57.6 52.1L58.6 51.9M62.9 52.1L63.8 51.9M68.1 52.1L69.1 51.9M73.4 52.1L74.3 51.9M78.6 52.1L79.5 51.9M83.8 52.1L84.8 51.9M89.1 52.1L90 51.9M94.3 52.1L95.3 51.9M99.6 52.1L100.5 51.9M104.8 52.1L105.8 51.9M110 52.1L111 51.9M115.3 52.1L116.2 51.9M120.5 52.1L121.5 51.9M125.8 52.1L126.7 51.9M131 52.1L131.9 51.9M136.2 52.1L137.2 51.9M141.5 52.1L142.4 51.9M146.7 52.1L147.7 51.9M152 52.1L152.9 51.9M5.2 57.3L6.9 56.3M10.5 57.3L12.2 56.3M15.7 57.3L17.4 56.3M21 57.3L22.7 56.3M26.2 57.3L27.9 56.3M31.4 57.3L33.1 56.3M36.7 57.3L38.4 56.3M41.9 57.3L43.6 56.3M47.2 57.3L48.9 56.3M52.4 57.3L54.1 56.3M57.6 57.3L59.3 56.3M62.9 57.3L64.6 56.3M68.1 57.3L69.8 56.3M73.4 57.3L75.1 56.3M78.6 57.3L80.3 56.3M83.8 57.3L85.5 56.3M89.1 57.3L90.8 56.3M94.3 57.3L96 56.3M99.6 57.3L101.3 56.3M104.8 57.3L106.5 56.3M110 57.3L111.7 56.3M115.3 57.3L117 56.3M120.5 57.3L122.2 56.3M125.8 57.3L127.5 56.3M131 57.3L132.7 56.3M136.2 57.3L137.9 56.3M141.5 57.3L143.2 56.3M146.7 57.3L148.4 56.3M152 57.3L153.7 56.3M5.2 62.5L8.7 59.7M10.5 62.5L13.9 59.7M15.7 62.5L19.2 59.7M21 62.5L24.4 59.7M26.2 62.5L29.6 59.7M31.4 62.5L34.9 59.7M36.7 62.5L40.1 59.7M41.9 62.5L45.4 59.7M47.2 62.5L50.6 59.7M52.4 62.5L55.8 59.7M57.6 62.5L61.1 59.7M62.9 62.5L66.3 59.7M68.1 62.5L71.6 59.7M73.4 62.5L76.8 59.7M78.6 62.5L82 59.7M83.8 62.5L87.3 59.7M89.1 62.5L92.5 59.7M94.3 62.5L97.8 59.7M99.6 62.5L103 59.7M104.8 62.5L108.2 59.7M110 62.5L113.5 59.7M115.3 62.5L118.7 59.7M120.5 62.5L124 59.7M125.8 62.5L129.2 59.7M131 62.5L134.4 59.7M136.2 62.5L139.7 59.7M141.5 62.5L144.9 59.7M146.7 62.5L150.2 59.7M152 62.5L155.4 59.7M5.2 67.7L10.4 63M10.5 67.7L15.7 63M15.7 67.7L20.9 63M21 67.7L26.1 63M26.2 67.7L31.4 63M31.4 67.7L36.6 63M36.7 67.7L41.9 63M41.9 67.7L47.1 63M47.2 67.7L52.3 63M52.4 67.7L57.6 63M57.6 67.7L62.8 63M62.9 67.7L68.1 63M68.1 67.7L73.3 63M73.4 67.7L78.5 63M78.6 67.7L83.8 63M83.8 67.7L89 63M89.1 67.7L94.3 63M94.3 67.7L99.5 63M99.6 67.7L104.7 63M104.8 67.7L110 63M110 67.7L115.2 63M115.3 67.7L120.5 63M120.5 67.7L125.7 63M125.8 67.7L130.9 63M131 67.7L136.2 63M136.2 67.7L141.4 63M141.5 67.7L146.7 63M146.7 67.7L151.9 63M152 67.7L157.1 63M5.2 72.9L12.1 66.4M10.5 72.9L17.4 66.4M15.7 72.9L22.6 66.4M21 72.9L27.9 66.4M26.2 72.9L33.1 66.4M31.4 72.9L38.3 66.4M36.7 72.9L43.6 66.4M41.9 72.9L48.8 66.4M47.2 72.9L54.1 66.4M52.4 72.9L59.3 66.4M57.6 72.9L64.5 66.4M62.9 72.9L69.8 66.4M68.1 72.9L75 66.4M73.4 72.9L80.3 66.4M78.6 72.9L85.5 66.4M83.8 72.9L90.7 66.4M89.1 72.9L96 66.4M94.3 72.9L101.2 66.4M99.6 72.9L106.5 66.4M104.8 72.9L111.7 66.4M110 72.9L116.9 66.4M115.3 72.9L122.2 66.4M120.5 72.9L127.4 66.4M125.8 72.9L132.7 66.4M131 72.9L137.9 66.4M136.2 72.9L143.1 66.4M141.5 72.9L148.4 66.4M146.7 72.9L153.6 66.4M152 72.9L158.9 66.4M5.2 78.1L10.9 70.1M10.5 78.1L16.2 70.1M15.7 78.1L21.4 70.1M21 78.1L26.7 70.1M26.2 78.1L31.9 70.1M31.4 78.1L37.1 70.1M36.7 78.1L42.4 70.1M41.9 78.1L47.6 70.1M47.2 78.1L52.9 70.1M52.4 78.1L58.1 70.1M57.6 78.1L63.3 70.1M62.9 78.1L68.6 70.1M68.1 78.1L73.8 70.1M73.4 78.1L79.1 70.1M78.6 78.1L84.3 70.1M83.8 78.1L89.5 70.1M89.1 78.1L94.8 70.1M94.3 78.1L100 70.1M99.6 78.1L105.3 70.1M104.8 78.1L110.5 70.1M110 78.1L115.7 70.1M115.3 78.1L121 70.1M120.5 78.1L126.2 70.1M125.8 78.1L131.5 70.1M131 78.1L136.7 70.1M136.2 78.1L141.9 70.1M141.5 78.1L147.2 70.1M146.7 78.1L152.4 70.1M152 78.1L157.7 70.1M5.2 83.3L10.9 75.3M10.5 83.3L16.2 75.3M15.7 83.3L21.4 75.3M21 83.3L26.7 75.3M26.2 83.3L31.9 75.3M31.4 83.3L37.1 75.3M36.7 83.3L42.4 75.3M41.9 83.3L47.6 75.3M47.2 83.3L52.9 75.3M52.4 83.3L58.1 75.3M57.6 83.3L63.3 75.3M62.9 83.3L68.6 75.3M68.1 83.3L73.8 75.3M73.4 83.3L79.1 75.3M78.6 83.3L84.3 75.3M83.8 83.3L89.5 75.3M89.1 83.3L94.8 75.3M94.3 83.3L100 75.3M99.6 83.3L105.3 75.3M104.8 83.3L110.5 75.3M110 83.3L115.7 75.3M115.3 83.3L121 75.3M120.5 83.3L126.2 75.3M125.8 83.3L131.5 75.3M131 83.3L136.7 75.3M136.2 83.3L141.9 75.3M141.5 83.3L147.2 75.3M146.7 83.3L152.4 75.3M152 83.3L157.7 75.3M5.2 88.5L10.9 80.5M10.5 88.5L16.2 80.5M15.7 88.5L21.4 80.5M21 88.5L26.7 80.5M26.2 88.5L31.9 80.5M31.4 88.5L37.1 80.5M36.7 88.5L42.4 80.5M41.9 88.5L47.6 80.5M47.2 88.5L52.9 80.5M52.4 88.5L58.1 80.5M57.6 88.5L63.3 80.5M62.9 88.5L68.6 80.5M68.1 88.5L73.8 80.5M73.4 88.5L79.1 80.5M78.6 88.5L84.3 80.5M83.8 88.5L89.5 80.5M89.1 88.5L94.8 80.5M94.3 88.5L100 80.5M99.6 88.5L105.3 80.5M104.8 88.5L110.5 80.5M110 88.5L115.7 80.5M115.3 88.5L121 80.5M120.5 88.5L126.2 80.5M125.8 88.5L131.5 80.5M131 88.5L136.7 80.5M136.2 88.5L141.9 80.5M141.5 88.5L147.2 80.5M146.7 88.5L152.4 80.5M152 88.5L157.7 80.5M5.2 93.7L10.9 85.8M10.5 93.7L16.2 85.8M15.7 93.7L21.4 85.8M21 93.7L26.7 85.8M26.2 93.7L31.9 85.8M31.4 93.7L37.1 85.8M36.7 93.7L42.4 85.8M41.9 93.7L47.6 85.8M47.2 93.7L52.9 85.8M52.4 93.7L58.1 85.8M57.6 93.7L63.3 85.8M62.9 93.7L68.6 85.8M68.1 93.7L73.8 85.8M73.4 93.7L79.1 85.8M78.6 93.7L84.3 85.8M83.8 93.7L89.5 85.8M89.1 93.7L94.8 85.8M94.3 93.7L101.1 85M99.6 93.7L105.9 85M104.8 93.7L110.6 85M110 93.7L115.4 85M115.3 93.7L120.1 85M120.5 93.7L124.8 85M125.8 93.7L129.6 85M131 93.7L134.3 85M136.2 93.7L139.1 85M141.5 93.7L143.8 85M146.7 93.7L148.6 85M152 93.7L153.3 85M5.2 98.9L10.9 91M10.5 98.9L16.2 91M15.7 98.9L21.4 91M21 98.9L26.7 91M26.2 98.9L31.9 91M31.4 98.9L37.1 91M36.7 98.9L42.4 91M41.9 98.9L47.6 91M47.2 98.9L52.9 91M52.4 98.9L58.1 91M57.6 98.9L63.3 91M62.9 98.9L68.6 91M68.1 98.9L73.8 91M73.4 98.9L79.1 91M78.6 98.9L84.3 91M83.8 98.9L89.5 91M89.1 98.9L94.8 91M94.3 98.9L101.1 90.2M99.6 98.9L105.9 90.2M104.8 98.9L110.6 90.2M110 98.9L115.4 90.2M115.3 98.9L120.1 90.2M120.5 98.9L124.8 90.2M125.8 98.9L129.6 90.2M131 98.9L134.3 90.2M136.2 98.9L139.1 90.2M141.5 98.9L143.8 90.2M146.7 98.9L148.6 90.2M152 98.9L153.3 90.2M5.2 104.1L10.9 96.2M10.5 104.1L16.2 96.2M15.7 104.1L21.4 96.2M21 104.1L26.7 96.2M26.2 104.1L31.9 96.2M31.4 104.1L37.1 96.2M36.7 104.1L42.4 96.2M41.9 104.1L47.6 96.2M47.2 104.1L52.9 96.2M52.4 104.1L58.1 96.2M57.6 104.1L63.3 96.2M62.9 104.1L68.6 96.2M68.1 104.1L73.8 96.2M73.4 104.1L79.1 96.2M78.6 104.1L84.3 96.2M83.8 104.1L89.5 96.2M89.1 104.1L94.8 96.2M94.3 104.1L101.1 95.4M99.6 104.1L105.9 95.4M104.8 104.1L110.6 95.4M110 104.1L115.4 95.4M115.3 104.1L120.1 95.4M120.5 104.1L124.8 95.4M125.8 104.1L129.6 95.4M131 104.1L134.3 95.4M136.2 104.1L139.1 95.4M141.5 104.1L143.8 95.4M146.7 104.1L148.6 95.4M152 104.1L153.3 95.4M5.2 109.4L10.9 101.4M10.5 109.4L16.2 101.4M15.7 109.4L21.4 101.4M21 109.4L26.7 101.4M26.2 109.4L31.9 101.4M31.4 109.4L37.1 101.4M36.7 109.4L42.4 101.4M41.9 109.4L47.6 101.4M47.2 109.4L52.9 101.4M52.4 109.4L58.1 101.4M57.6 109.4L63.3 101.4M62.9 109.4L68.6 101.4M68.1 109.4L73.8 101.4M73.4 109.4L79.1 101.4M78.6 109.4L84.3 101.4M83.8 109.4L89.5 101.4M89.1 109.4L94.8 101.4M94.3 109.4L101.1 100.6M99.6 109.4L105.9 100.6M104.8 109.4L110.6 100.6M110 109.4L115.4 100.6M115.3 109.4L120.1 100.6M120.5 109.4L124.8 100.6M125.8 109.4L129.6 100.6M131 109.4L134.3 100.6M136.2 109.4L139.1 100.6M141.5 109.4L143.8 100.6M146.7 109.4L148.6 100.6M152 109.4L153.3 100.6M5.2 114.6L10.9 106.6M10.5 114.6L16.2 106.6M15.7 114.6L21.4 106.6M21 114.6L26.7 106.6M26.2 114.6L31.9 106.6M31.4 114.6L37.1 106.6M36.7 114.6L42.4 106.6M41.9 114.6L47.6 106.6M47.2 114.6L52.9 106.6M52.4 114.6L58.1 106.6M57.6 114.6L63.3 106.6M62.9 114.6L68.6 106.6M68.1 114.6L73.8 106.6M73.4 114.6L79.1 106.6M78.6 114.6L84.3 106.6M83.8 114.6L89.5 106.6M89.1 114.6L94.8 106.6M94.3 114.6L101.1 105.8M99.6 114.6L105.9 105.8M104.8 114.6L110.6 105.8M110 114.6L115.4 105.8M115.3 114.6L120.1 105.8M120.5 114.6L124.8 105.8M125.8 114.6L129.6 105.8M131 114.6L134.3 105.8M136.2 114.6L139.1 105.8M141.5 114.6L143.8 105.8M146.7 114.6L148.6 105.8M152 114.6L153.3 105.8M5.2 119.8L10.9 111.8M10.5 119.8L16.2 111.8M15.7 119.8L21.4 111.8M21 119.8L26.7 111.8M26.2 119.8L31.9 111.8M31.4 119.8L37.1 111.8M36.7 119.8L42.4 111.8M41.9 119.8L47.6 111.8M47.2 119.8L52.9 111.8M52.4 119.8L58.1 111.8M57.6 119.8L63.3 111.8M62.9 119.8L68.6 111.8M68.1 119.8L73.8 111.8M73.4 119.8L79.1 111.8M78.6 119.8L84.3 111.8M83.8 119.8L89.5 111.8M89.1 119.8L94.8 111.8M94.3 119.8L101.1 111M99.6 119.8L105.9 111M104.8 119.8L110.6 111M110 119.8L115.4 111M115.3 119.8L120.1 111M120.5 119.8L124.8 111M125.8 119.8L129.6 111M131 119.8L134.3 111M136.2 119.8L139.1 111M141.5 119.8L143.8 111M146.7 119.8L148.6 111M152 119.8L153.3 111M5.2 125L10.9 117M10.5 125L16.2 117M15.7 125L21.4 117M21 125L26.7 117M26.2 125L31.9 117M31.4 125L37.1 117M36.7 125L42.4 117M41.9 125L47.6 117M47.2 125L52.9 117M52.4 125L58.1 117M57.6 125L63.3 117M62.9 125L68.6 117M68.1 125L73.8 117M73.4 125L79.1 117M78.6 125L84.3 117M83.8 125L89.5 117M89.1 125L94.8 117M94.3 125L101.1 116.2M99.6 125L105.9 116.2M104.8 125L110.6 116.2M110 125L115.4 116.2M115.3 125L120.1 116.2M120.5 125L124.8 116.2M125.8 125L129.6 116.2M131 125L134.3 116.2M136.2 125L139.1 116.2M141.5 125L143.8 116.2M146.7 125L148.6 116.2M152 125L153.3 116.2M5.2 130.2L10.9 122.2M10.5 130.2L16.2 122.2M15.7 130.2L21.4 122.2M21 130.2L26.7 122.2M26.2 130.2L31.9 122.2M31.4 130.2L37.1 122.2M36.7 130.2L42.4 122.2M41.9 130.2L47.6 122.2M47.2 130.2L52.9 122.2M52.4 130.2L58.1 122.2M57.6 130.2L63.3 122.2M62.9 130.2L68.6 122.2M68.1 130.2L73.8 122.2M73.4 130.2L79.1 122.2M78.6 130.2L84.3 122.2M83.8 130.2L89.5 122.2M89.1 130.2L94.8 122.2M94.3 130.2L101.1 121.4M99.6 130.2L105.9 121.4M104.8 130.2L110.6 121.4M110 130.2L115.4 121.4M115.3 130.2L120.1 121.4M120.5 130.2L124.8 121.4M125.8 130.2L129.6 121.4M131 130.2L134.3 121.4M136.2 130.2L139.1 121.4M141.5 130.2L143.8 121.4M146.7 130.2L148.6 121.4M152 130.2L153.3 121.4M5.2 135.4L10.9 127.4M10.5 135.4L16.2 127.4M15.7 135.4L21.4 127.4M21 135.4L26.7 127.4M26.2 135.4L31.9 127.4M31.4 135.4L37.1 127.4M36.7 135.4L42.4 127.4M41.9 135.4L47.6 127.4M47.2 135.4L52.9 127.4M52.4 135.4L58.1 127.4M57.6 135.4L63.3 127.4M62.9 135.4L68.6 127.4M68.1 135.4L73.8 127.4M73.4 135.4L79.1 127.4M78.6 135.4L84.3 127.4M83.8 135.4L89.5 127.4M89.1 135.4L94.8 127.4M94.3 135.4L101.1 126.7M99.6 135.4L105.9 126.7M104.8 135.4L110.6 126.7M110 135.4L115.4 126.7M115.3 135.4L120.1 126.7M120.5 135.4L124.8 126.7M125.8 135.4L129.6 126.7M131 135.4L134.3 126.7M136.2 135.4L139.1 126.7M141.5 135.4L143.8 126.7M146.7 135.4L148.6 126.7M152 135.4L153.3 126.7" stroke="#7e4c46" stroke-width="0.5" stroke-opacity="0.55" fill="none" stroke-linecap="round"/>
<use href="#geo"/>
<path d="M0 91.2 L10 87.5 L20 83.5 L30.4 79.6 L40 77.2 L50 75.2 L60.8 73 L70 71.5 L80.4 69.2 L87 68.2" fill="none" stroke="#000" stroke-width="1.3" stroke-dasharray="4.2 2.4"/>
<path d="M119.5 69.4 L130 69 L145 68.5 L157.2 68" fill="none" stroke="#000" stroke-width="1.3" stroke-dasharray="4.2 2.4"/>
<path d="M88.2 141 L88.8 132 L89.7 124 L90.6 111 L91.5 102.3 L94.2 96.1 L97.7 94.3 L104.8 91.7 L122.5 87.3 L140.1 83.7 L157.2 81.1" fill="none" stroke="#000" stroke-width="1.3"/>
<text x="92.1" y="76.6" font-size="10.4" fill="#111" textLength="25.3" lengthAdjust="spacingAndGlyphs" transform="rotate(-2 92.1 76.6)">5860</text>
<text x="98.8" y="103.2" font-size="10.4" fill="#111" textLength="25.3" lengthAdjust="spacingAndGlyphs" transform="rotate(-8.5 98.8 103.2)">5880</text>
</g>
<rect x="0" y="0" width="157.2" height="140.6" fill="none" stroke="#222" stroke-width="1"/>
<path d="M0 5.2 h3.5 M157.2 5.2 h-3.5 M0 31.2 h3.5 M157.2 31.2 h-3.5 M0 57.3 h3.5 M157.2 57.3 h-3.5 M0 83.3 h3.5 M157.2 83.3 h-3.5 M0 109.4 h3.5 M157.2 109.4 h-3.5 M0 135.4 h3.5 M157.2 135.4 h-3.5 M26.2 0 v3.5 M26.2 140.6 v-3.5 M78.6 0 v3.5 M78.6 140.6 v-3.5 M131 0 v3.5 M131 140.6 v-3.5" stroke="#111" stroke-width="1" fill="none"/>
<text x="4.1" y="12.4" font-size="10.2" fill="#111" textLength="73.3" lengthAdjust="spacingAndGlyphs">(g) Highest 10</text><text x="82.1" y="12.4" font-size="10.2" fill="#111">δ</text><text x="88.6" y="9.1" font-size="7.6" fill="#111">18</text><text x="98.1" y="12.4" font-size="10.2" fill="#111">O</text>
</g>
<text x="489" y="21.7" font-size="10.2" text-anchor="end" fill="#111" textLength="24.7" lengthAdjust="spacingAndGlyphs">40°N</text>
<text x="489" y="47.7" font-size="10.2" text-anchor="end" fill="#111" textLength="24.7" lengthAdjust="spacingAndGlyphs">35°N</text>
<text x="489" y="73.8" font-size="10.2" text-anchor="end" fill="#111" textLength="24.7" lengthAdjust="spacingAndGlyphs">30°N</text>
<text x="489" y="99.8" font-size="10.2" text-anchor="end" fill="#111" textLength="24.7" lengthAdjust="spacingAndGlyphs">25°N</text>
<text x="489" y="125.9" font-size="10.2" text-anchor="end" fill="#111" textLength="24.7" lengthAdjust="spacingAndGlyphs">20°N</text>
<text x="489" y="151.9" font-size="10.2" text-anchor="end" fill="#111" textLength="24.7" lengthAdjust="spacingAndGlyphs">15°N</text>
<g transform="translate(29.6,162.4)"><g clip-path="url(#cp)">
<rect x="-2" y="-2" width="161.2" height="144.6" fill="#0b024c"/>
<path fill="#0d0258" d="M-1 -1 158.2 -1 158.2 141.6 -1 141.6 -1 -1Z"/>
<path fill="#11026e" d="M-1 -1 158.2 -1 158.2 141.6 -1 141.6 -1 -1Z"/>
<path fill="#140387" d="M-1 -1 158.2 -1 158.2 141.6 -1 141.6 -1 -1Z"/>
<path fill="#18039e" d="M-1 -1 158.2 -1 158.2 141.6 -1 141.6 -1 -1Z"/>
<path fill="#1b04b7" d="M-1 -1 158.2 -1 158.2 141.6 -1 141.6 -1 -1Z"/>
<path fill="#1f04cd" d="M-1 -1 158.2 -1 158.2 141.6 -1 141.6 -1 -1Z"/>
<path fill="#2305e6" d="M-1 -1 158.2 -1 158.2 141.6 -1 141.6 -1 -1ZM77.9 8.1 74 9.5 71.6 12.1 71.1 13.4 71.3 14.7 72.2 16 74.2 17.3 77.9 18.6 81.9 18.6 84.6 17.8 87.3 16.4 89.3 14.7 90.2 13.4 90.7 10.8 89.8 9.5 88.6 8.9 84.6 8.2 77.9 8.1Z"/>
<path fill="#2706ff" d="M-1 -1 114.4 -1 114.1 -0.4 108.7 0.2 102 1.7 73.9 2.1 61.9 3.4 52 5.5 49.8 6.8 49 8.2 49.2 10.8 50.7 13.4 53.4 16 55.5 17.3 68.6 21.9 76.6 23.2 81.9 23 87.3 21.9 102 16.5 111.4 13.8 120.7 12 134.1 7.2 136.8 7 140.8 7.2 142.1 6.8 148.8 7.3 152.8 6.3 156.9 6.3 157.3 5.5 158.2 5.2 158.2 141.6 -1 141.6 -1 -1Z"/>
<path fill="#4225ff" d="M-1 -1 32.4 -1 33.1 0.3 29.9 1.6 28.1 2.9 28.1 4.2 31.1 7 35.1 8.8 40.8 14.7 44.2 17.3 49.5 19.9 53.9 21.4 67.2 24.8 73.9 25.8 79.3 26 86.4 25.2 106 19.9 122.1 16.5 134.1 12.9 138.1 12.1 143.5 11.8 151.5 12.5 156.9 13.9 158.2 14.7 158.2 141.6 -1 141.6 -1 -1Z"/>
<path fill="#6149ff" d="M-1 -1 8 -1 8.4 -0.3 11.7 0.3 12.9 2.9 15.9 6.8 21.3 12.1 27.1 16 36.5 20.1 45.8 23 64.6 26.9 71.2 27.9 79.3 28.2 88.6 27 114.1 21.3 128.2 18.6 134.1 16.6 140.8 15.2 148.8 14.8 156.9 15.8 158.2 15.4 158.2 141.6 -1 141.6 -1 -1Z"/>
<path fill="#7c68ff" d="M-1 8.2 -1 7.4 0.1 8.2 0.3 10.3 1.3 10.8 8.4 13.1 21.9 19.9 28.4 22.5 37.8 24.8 64.6 29.7 69.9 30.3 79.3 30.5 91.3 28.8 139.5 19.3 145.7 17.3 151.5 17.1 156.9 17.5 158.2 18.6 158.2 141.6 -1 141.6 -1 8.2Z"/>
<path fill="#9b8bff" d="M0.3 17.3 5.7 18.8 18.2 23.9 27.1 26.4 48.8 30.4 57.9 33.2 67.2 34.1 75.3 33.7 83.3 32.7 111.4 27.8 138.1 21.8 152.8 19.5 158.2 19.3 158.2 141.6 -1 141.6 -1 17.7 0.3 17.3Z"/>
<path fill="#b6abff" d="M154.9 21.2 158.2 21.2 158.2 141.6 -1 141.6 -1 22.5 0.3 22.2 9.7 26.1 16.4 28.4 37.8 33 45.8 35.8 55.2 37.5 64.6 37.9 72.6 37.5 80.6 36.5 96.7 33.1 110 31 139.5 23.7 154.9 21.2Z"/>
<path fill="#d4ceff" d="M156.9 22.5 158.2 22.1 158.2 141.6 -1 141.6 -1 31.7 0.3 31.1 8.4 33.1 28.4 36.4 46.7 40.9 53.9 41.5 63.2 41.4 79.3 39.5 99.3 35.5 114.1 33.2 122.1 30.2 134.1 27 148.8 23.9 156.9 22.5Z"/>
<path fill="#f0edff" d="M152.1 25.2 158.2 24.2 158.2 141.6 -1 141.6 -1 40.9 0.3 40 15.2 40.9 23.1 42.1 33 44.8 37.8 45.4 65.9 45.9 72.6 44.9 80.4 42.2 84.6 41.2 113.8 35.6 118.1 34.5 122.1 32.4 126.1 31.1 140.8 27.5 152.1 25.2Z"/>
<path fill="#feefee" d="M154.4 26.5 156.9 26 158.2 26.5 158.2 141.6 -1 141.6 -1 48.7 0.3 47.5 23.3 51.3 36.5 52.6 52.5 52.4 60.5 51.2 69.9 50.7 72.3 50 73.5 48.7 76 47.4 86.7 43.5 116.7 36.9 120.7 35.7 123.4 33.9 127.4 32.7 140.8 29.3 154.4 26.5Z"/>
<path fill="#fcd4d0" d="M155.9 27.8 158.2 27.1 158.2 141.6 -1 141.6 -1 52.6 0.3 52 28.4 55 32.4 55.7 44.5 59.1 48.5 59.4 51.2 59.1 55.4 57.9 60.5 54.4 61.8 53.9 71.2 54.1 76.6 53.3 78.1 52.6 78.5 50 79.9 48.7 88.6 45.4 119.4 38 122.1 37.1 124.8 35.3 134.1 32.7 155.9 27.8Z"/>
<path fill="#fab4ae" d="M156.6 29.1 158.2 29.1 158.2 141.6 -1 141.6 -1 56.6 0.3 56 11.6 57.9 19.1 58.6 31.1 58.1 44.5 61.4 48.5 61.7 52.5 61.2 55.2 62.2 59.2 58.3 63.2 55.8 72.6 55.2 79.3 53.9 81 52.6 82.3 50 87.3 47.8 95.3 45.5 116.7 40.5 123.4 38.3 126.1 36.7 134.1 34.4 156.6 29.1Z"/>
<path fill="#f89890" d="M151.7 31.7 156.9 30.6 158.2 31.1 158.2 141.6 -1 141.6 -1 58.5 0.3 59.3 7 60.8 19.1 62.7 25.8 62.5 29.8 61.8 32.4 60.8 33.8 61 43.1 63.4 49.8 64.2 49.5 65.7 51.2 66 55.2 64.4 57.9 62.1 59.2 60.1 61.9 59.2 64.6 57.5 73.9 56.2 81.9 54 84.6 50.9 88.6 49.2 98 46.5 117.2 42.2 130.1 37.2 151.7 31.7Z"/>
<path fill="#f6796e" d="M153 33 156.9 32 158.2 33 158.2 141.6 -1 141.6 -1 63.1 0.3 62.1 11 64.7 19.1 65.6 27.1 65.2 35.1 63.6 45.8 66 47.2 67.5 51.2 67.8 55.2 66.2 57.9 63.8 59.2 61.6 60.5 60.8 64.6 59.7 67.2 58.5 73.9 57.5 83.3 54.6 84.6 53.9 86 52.3 91.3 50 100.7 47.3 118.3 43.5 132.8 38.1 153 33ZM81.9 59.2 79.5 60.5 79.3 62 80.6 62 82.2 60.5 81.9 59.2Z"/>
<path fill="#f45d50" d="M153 34.3 156.9 33.2 158.2 33.7 158.2 141.6 -1 141.6 -1 65.1 0.3 64.9 8.4 67.4 17.7 68.9 23.1 68.7 25.8 68.3 29.1 67 36.5 66.4 43.1 68 47.2 70.3 49.8 70.8 52.5 70 55.3 68.3 57.9 65.7 59.5 63.1 61.9 61.5 73.9 59.2 77.9 57.6 79 56.6 80.6 55.8 85.2 55.3 89.1 52.6 95.3 50.3 102 48.4 120.7 44.3 133.7 39.6 153 34.3ZM80.6 58.9 78.5 60.5 77.8 61.8 79.3 63.4 80.6 63.1 84.7 59.2 84.6 58.7 83.3 58.4 80.6 58.9Z"/>
<path fill="#f23e2e" d="M152.9 35.6 158.2 34.3 158.2 141.6 -1 141.6 -1 68.3 0.3 68.2 9.7 72.5 15.1 74 19.1 74 23.1 73.2 27.1 70 31.1 68.9 39.1 69.6 41.8 70.5 47.2 73.1 48.5 73 52.5 71.5 56.5 69.2 58.6 67 60.5 63.6 61.9 62.6 64.6 62 73.9 61.2 76.6 60.3 76.9 60.5 76.6 61.8 77.3 63.1 79.3 64.3 80.6 63.9 86.8 57.9 86 56.7 84.6 56.6 87.3 56 90 54.2 93.2 52.6 98 51.4 101.5 50 120.7 45.8 134.1 41.2 152.9 35.6ZM80.3 56.6 81.9 56.4 84.6 56.6 83.3 56.8 82 57.9 77.9 59.8 77.5 59.2 80.3 56.6Z"/>
<path fill="#ee210f" d="M151.5 38.2 156.9 37.1 158.2 38.2 158.2 141.6 -1 141.6 -1 95.8 1.7 95.2 11 90.6 13.7 89.8 16.4 89.5 23.1 90.3 25.8 89.7 27.1 88.8 28.9 86.7 29.7 84 29.2 81.4 27.1 77.5 27.1 75.6 28.4 74 32.1 72.3 35.8 72.3 40.2 73.6 47.2 77.1 49.8 77.7 51.2 77.5 53.9 75.7 59.2 69.9 60.3 68.3 60.5 65.7 61.3 64.4 63.2 63.2 65.9 62.7 71.2 62.8 76.6 63.7 79.3 65.1 80.6 64.7 88.6 57.4 92.6 55 104.3 52.6 110 50.3 119.4 48.3 136.8 42.2 151.5 38.2ZM41.8 124.2 41.5 124.6 41.8 124.9 42.2 124.6 41.8 124.2ZM43.1 123 42.7 123.3 43.1 123.7 43.5 123.3 43.1 123ZM71.2 69.5 70.8 69.6 73.9 69.9 75.1 69.6 71.2 69.5Z"/>
<path fill="#df1f0e" d="M153.9 42.2 158.2 42.2 158.2 141.6 32.4 141.6 31.6 140.3 60.5 136.9 75.3 134.3 80.9 132.4 81.8 131.1 79.9 129.8 73.9 128.5 56.5 126.4 56 125.9 55.4 122 53.8 118.1 52 115.4 49.8 114.5 44.5 114.2 40.5 114.9 34.5 118.1 32.6 119.4 31.1 121.3 30.1 120.7 31.8 110.2 34.1 102.4 38.8 91.9 41.3 88 43.7 85.3 45.8 84 47.2 83.7 48.5 83.6 52.5 84.3 53.9 83.9 55.2 82.8 56.5 80.7 59.2 75.4 60.5 73.9 61.9 73.4 63.2 70.9 65.9 70.6 75.3 72.1 79.3 72.3 80.6 71 78.2 68.3 77.1 65.7 77.9 65.4 79.3 66 80.6 65.6 86 60.8 88.6 60.1 92.5 57.9 103.3 57 112.1 53.9 121.9 51.3 123.4 50 134.1 45.5 143.5 43.3 153.9 42.2ZM57.9 140.1 56.6 140.3 57.9 140.3 57.9 140.1ZM94 137.6 81.9 138.1 72.5 139 112.7 139.2 114.3 139 114.1 137.7 94 137.6ZM63.2 64.4 67.2 63.7 69.5 64.4 68.6 65 64.6 66.1 63 65.7 63.2 64.4Z"/>
<path fill="#ce1d0d" d="M146.7 46.1 156.9 45 158.2 46.1 158.2 137.7 156.9 139 155.5 139 155.4 137.7 142.1 135 131.4 133.3 108.7 130.5 80.6 123.2 67.2 120.3 61.9 117.3 52.6 110.2 48.8 106.3 48.2 105 47.7 102.4 48.7 93.2 51.2 90.5 57.9 87.3 58.5 86.7 60.3 81.4 61.1 80.1 61.9 79.5 65.9 79.3 66.4 78.8 66.2 73.6 67.2 72.4 69.9 72.3 81.9 74.2 83 73.6 83.8 72.3 83.9 71 80.4 68.3 80 67 83.3 64.3 84.6 63.9 88.6 64 91.3 62 94 61 98 61.3 106 60.9 108.7 59.8 116.7 55.3 120.7 53.8 126.3 52.6 128.3 51.3 133.8 48.7 138.6 47.4 146.7 46.1ZM130.1 139 131.4 138.3 147.5 138 148.8 139 148.8 140.3 147.5 141.6 130.1 141.6 130.1 139Z"/>
<path fill="#bf1a0c" d="M151.3 48.7 156.9 47.5 158.2 48.7 158.2 132.4 156.9 133.5 150.2 131.4 131.4 126.7 126.1 126.4 115.4 126.8 108.5 125.9 91.2 120.7 79.3 116.3 69.9 115.8 67.2 115.3 62.3 112.8 57.9 109.2 55.2 107.6 54.1 106.3 53.4 103.7 53.7 102.4 58.4 95.8 63.2 91.5 69.9 88.3 71.6 86.7 72.1 85.3 69.7 77.5 69.5 76.2 69.9 74.9 71.2 74.3 75.3 74.5 81.9 75.9 83.3 76.7 86 77 87.3 76.5 88.5 74.9 90.5 69.6 91.5 68.3 94 66.6 98 65.6 106 65.2 108.7 64.7 111.6 63.1 117.7 57.9 120.3 56.6 130.1 54.3 143.5 50.3 151.3 48.7Z"/>
<path fill="#ae180b" d="M154.6 52.6 156.9 52.1 158.2 52.6 158.2 116.7 156.9 117.9 154.2 116.1 150.2 115.2 146.2 115.2 134.1 116.4 131.4 116 124.8 113.7 120.7 113 107.4 113.8 102 113.7 99.1 112.8 92.6 108.1 88.6 106.4 83.3 106.1 71.2 108.6 68.3 107.6 65.9 106 64.6 104.5 64 102.4 64.2 101 65.5 98.4 68.6 94.8 75.2 89.3 78.1 85.3 80.2 84 91.3 81.4 92.6 80.1 96.7 73.3 99.3 70.7 102 69.6 107.4 68.8 110 68 120.7 61.6 123.4 60.6 131.4 59 154.6 52.6ZM73.3 77.5 75.3 76.5 76.6 76.5 80.7 77.5 80.1 78.8 77.9 80.8 76.6 81.9 75.3 82.3 74 81.4 73.4 80.1 73.1 78.8 73.3 77.5Z"/>
<path fill="#9f160a" d="M149.2 63.1 156.9 62 158.2 63.1 158.2 103.7 140.8 105.4 134.1 105.5 131.4 104.7 126.1 101.5 120.7 99.4 116.7 98.3 107.4 97.1 102 96 99.3 94.8 97.6 93.2 97 91.9 96.9 89.3 99.4 82.7 102.1 77.5 104.5 74.9 106 73.9 126.1 66.8 149.2 63.1Z"/>
<path fill="#8e1409" d="M156.3 72.3 158.2 72.3 158.2 95.8 156.9 95.9 148.8 93.7 136.8 91.5 124.5 88 117.7 85.3 116 84 115.2 82.7 115.3 81.4 116.5 80.1 119.4 79.4 124.8 79.7 132.8 81 135.5 80.9 156.3 72.3Z"/>
<use href="#geo"/>
<path d="M0 95.7 L14.5 89.6 L29.6 82.9 L44.6 76 L59.7 69.3 L74.8 63.2 L89.9 56.5 L100 53 L106.5 51.2" fill="none" stroke="#b25824" stroke-width="1.3" stroke-dasharray="4.2 2.4"/>
<path d="M134 44.5 L145 41 L157.2 37.5" fill="none" stroke="#b25824" stroke-width="1.3" stroke-dasharray="4.2 2.4"/>
<path d="M157.2 47.5 L145 49.5 L134 52.3" fill="none" stroke="#b25824" stroke-width="1.3"/>
<path d="M108 64.8 L99 67.8 L89.7 71.5 L80 77 L70.5 84.5 L62.5 92 L57.5 99 L55.4 106 L57 111.5 L61.5 115 L68 117.5 L76.1 119.3 L84 121.3 L92.3 123.5 L105 125.3 L116.7 126.2 L124.6 126.5 L131.8 127.3 L140 129.5 L147 131 L157.2 133" fill="none" stroke="#b25824" stroke-width="1.3"/>
<text x="108.5" y="55.5" font-size="10.4" fill="#b25824" textLength="25.3" lengthAdjust="spacingAndGlyphs" transform="rotate(-21 108.5 55.5)">5860</text>
<text x="108.5" y="69.5" font-size="10.4" fill="#b25824" textLength="25.3" lengthAdjust="spacingAndGlyphs" transform="rotate(-21 108.5 69.5)">5880</text>
</g>
<rect x="0" y="0" width="157.2" height="140.6" fill="none" stroke="#222" stroke-width="1"/>
<path d="M0 5.2 h3.5 M157.2 5.2 h-3.5 M0 31.2 h3.5 M157.2 31.2 h-3.5 M0 57.3 h3.5 M157.2 57.3 h-3.5 M0 83.3 h3.5 M157.2 83.3 h-3.5 M0 109.4 h3.5 M157.2 109.4 h-3.5 M0 135.4 h3.5 M157.2 135.4 h-3.5 M26.2 0 v3.5 M26.2 140.6 v-3.5 M78.6 0 v3.5 M78.6 140.6 v-3.5 M131 0 v3.5 M131 140.6 v-3.5" stroke="#111" stroke-width="1" fill="none"/>
<text x="4.1" y="12.4" font-size="10.2" fill="#fff" textLength="68.2" lengthAdjust="spacingAndGlyphs">(b) Lowest 10</text><text x="78.0" y="12.4" font-size="10.2" fill="#fff">δ</text><text x="84.5" y="9.1" font-size="7.6" fill="#fff">18</text><text x="94.0" y="12.4" font-size="10.2" fill="#fff">O</text>
</g>
<text x="26.9" y="171.3" font-size="10.2" text-anchor="end" fill="#111" textLength="24.7" lengthAdjust="spacingAndGlyphs">40°N</text>
<text x="26.9" y="197.3" font-size="10.2" text-anchor="end" fill="#111" textLength="24.7" lengthAdjust="spacingAndGlyphs">35°N</text>
<text x="26.9" y="223.4" font-size="10.2" text-anchor="end" fill="#111" textLength="24.7" lengthAdjust="spacingAndGlyphs">30°N</text>
<text x="26.9" y="249.4" font-size="10.2" text-anchor="end" fill="#111" textLength="24.7" lengthAdjust="spacingAndGlyphs">25°N</text>
<text x="26.9" y="275.5" font-size="10.2" text-anchor="end" fill="#111" textLength="24.7" lengthAdjust="spacingAndGlyphs">20°N</text>
<text x="26.9" y="301.5" font-size="10.2" text-anchor="end" fill="#111" textLength="24.7" lengthAdjust="spacingAndGlyphs">15°N</text>
<g transform="translate(262.9,162.4)"><g clip-path="url(#cp)">
<rect x="-2" y="-2" width="161.2" height="144.6" fill="#f8fbff"/>
<path fill="#f2f7fd" d="M-1 -1 158.2 -1 158.2 141.6 -1 141.6 -1 -1Z"/>
<path fill="#e5eff9" d="M-1 -1 0.9 -1 1.7 2.2 2.9 3.8 3.8 4.4 5.8 3.8 6.7 2.2 6.3 -1 52 -1 52.7 3.8 52 5.4 50.5 6.8 48.9 7 46.3 3.8 44 2.7 42.4 2.9 41.3 3.8 41.1 5.4 42.6 8.6 44 9.6 47.2 10.1 48.9 10.9 51 13.4 52.1 14 53.7 14.1 54.7 13.4 55.3 11.9 55 8.6 55.7 5.4 58.5 1.4 59.1 -1 70.4 -1 69.8 0.6 65.3 3.8 64.4 5.4 64.3 7 64.9 8.8 66.5 10.2 66.9 11.8 68.1 13.3 69.8 13.4 73 13 74.6 12.3 74.9 11.8 74.6 9.3 72.2 5.4 72.2 3.8 73 2.4 75.8 0.6 76.2 -1 83.4 -1 84.2 -0.7 85.4 -1 158.2 -1 158.2 141.6 -1 141.6 -1 -1ZM11.9 22.4 10.3 23 9.3 24.6 9.7 27.8 9.6 31 10.3 32 15.1 30.8 17.5 29.4 17.3 27.8 15.1 23.3 13.5 22.4 11.9 22.4ZM13.5 3.4 12.9 3.8 13 5.4 15.1 7.5 16.7 7.6 18.3 7.2 20.3 5.4 20.2 3.8 18.3 2.8 15.1 2.8 13.5 3.4ZM27.9 2.7 27.6 3.8 27.9 5 29.6 5.6 29.6 3 27.9 2.7ZM32.8 8.5 32.6 8.6 32.8 8.7 32.9 8.6 32.8 8.5ZM36 13.4 33.9 18.2 34.4 18.8 37.7 18.2 39.2 17.1 40 15 40 13.4 39.2 12.3 37.6 11.9 36 13.4ZM42.4 21.3 41.7 23 42.4 24.9 44 25.7 45.6 25.8 47.2 25 47.4 23 46.4 21.4 44 20.7 42.4 21.3ZM61.7 16.6 60.3 18.2 60.4 19.8 61.7 21.2 63.3 21.7 64.1 21.4 64.9 19.8 64.9 18.2 64.2 16.6 63.3 16.1 61.7 16.6ZM77.8 14.6 77.3 15 77.3 16.6 77.8 17.3 78.9 16.6 78.5 15 77.8 14.6ZM87.4 6.1 85.8 8.1 85.2 8.6 85.8 9 87.5 8.6 88.2 7 87.4 6.1ZM16.7 36.7 16.2 37.5 16.5 39.1 18.3 38.7 19 37.5 18.3 36.1 16.7 36.7ZM29.6 23 28 23 29.6 23.1 29.6 23Z"/>
<path fill="#d9e6f4" d="M18 -1 18.3 -1 19 -1 18.3 -0.9 18 -1ZM39.6 -1 40.8 -1 46.4 -1 45.6 -0.2 42.4 0.4 40.8 0.2 39.6 -1ZM62.8 -1 63.3 -1 66.4 -1 64.9 0.4 63.3 0.4 62.8 -1ZM102.4 -1 103.5 -1 107.6 -1 106.4 0.6 103.5 1.9 102.6 0.6 102.4 -1ZM111.9 0.6 114.9 -1 158.2 -1 158.2 141.6 124.7 141.6 122.8 140 121.2 140.3 120.5 141.6 -1 141.6 -1 47.7 2.2 48.2 3.8 48.1 5.8 47.1 6.5 45.5 6.5 43.9 5.4 41.1 3.7 39.1 3.6 37.5 7 36.9 10.7 37.5 11.7 39.1 11.9 43.9 12.4 45.5 13.5 46.2 16.7 42.6 20.4 40.7 21.5 39.4 22.7 34.2 24.7 32.6 25.8 31 26.3 28.9 27.9 27.6 29.6 28.2 30.1 29.4 29.6 32.2 28.1 34.2 28.6 35.9 29.6 36.6 29.9 35.9 31.2 34.9 32.8 34.6 34.4 34.9 35.4 35.9 36.5 39.1 37.6 39.8 39.2 39.4 43 34.2 43.7 32.6 40.6 31 39.2 29.5 38.5 27.8 34.3 24.6 34.3 23 36 21.9 37.6 21.5 39.2 22.9 40.2 26.2 40.8 26.8 47.2 30.2 48.9 30.5 52.1 30.6 53.7 30 56.9 25.7 58.5 24.2 60.1 24.1 69.8 26.7 71.4 26.9 73 26.6 76.2 21.9 79.4 20.4 81 19 84.2 14 91.1 10.2 91.8 8.6 92.3 4.4 93.9 2.9 95.1 3.8 95.5 4.8 96 10.2 97.1 11.1 100.3 10.2 103.5 8.6 105.1 7.3 108.3 6 109.7 3.8 110.2 2.2 111.9 0.6ZM122.8 86.9 122.7 87.1 122.8 88.1 123.3 87.1 122.8 86.9ZM134.1 96.7 133 98.3 134.1 99.5 135.7 99.6 137.3 99 142.1 98.4 143.5 96.7 142.1 95.4 140.5 95.4 137.3 96.4 134.1 96.7ZM23.1 50.1 21.5 50.4 19 51.9 19.9 53 21.5 53.5 23.1 52.7 23.7 51.9 23.1 50.1ZM68.1 32.5 67.8 32.6 68.1 33 69.8 33.1 70.4 32.6 69.8 32.3 68.1 32.5ZM93.9 13.8 92.3 15.1 90.7 17.3 89.4 19.8 89.5 21.4 90.7 23.1 92.3 22.6 96.1 18.2 96.5 16.6 95.5 14.3 93.9 13.8ZM33.7 3.8 34.4 2.9 36 2.3 37.6 2.8 38.4 7 37.6 7.6 34.6 5.4 33.7 3.8ZM82.2 3.8 82.6 3.5 84 3.8 82.6 5.1 82.2 3.8ZM27.3 11.8 27.9 11.3 29.6 11.4 32.5 13.4 32.1 15 29.6 17.4 27.9 17.6 27 16.6 26.5 15 26.5 13.4 27.3 11.8ZM43 13.4 44 12.5 45.6 12.7 46.8 13.4 47.7 15 47.6 16.6 45.6 18.1 44 18.2 42.3 16.6 43 13.4ZM12.3 16.6 13.5 16 15.1 16.3 18.3 19.8 22.6 21.4 23.5 23 23.1 24.8 21.5 25.9 19.9 25.9 18.3 24.8 16.7 20.9 15.1 20.2 13.1 19.8 11.2 18.2 12.3 16.6ZM68.8 16.6 71.4 16.2 72.6 16.6 73.9 18.2 74 19.8 73 21 71.4 21.4 69.8 21.4 68.1 20.6 67.7 19.8 67.5 18.2 68.8 16.6ZM51.5 18.2 53.7 17.5 55.3 17.8 55.8 18.2 55.7 19.8 53.7 20.6 52.1 20.3 51.4 19.8 51.5 18.2ZM3.2 27.8 3.8 27.3 5.4 27.2 6.2 27.8 5.9 29.4 3.8 30.6 2.8 29.4 3.2 27.8ZM-1 32.6 -1 32.3 0.7 32.6 1.3 34.2 0.6 35.9 -1 36.3 -1 32.6Z"/>
<path fill="#ccdef0" d="M120.9 -1 123.4 -1 126 1.4 127.6 2.3 129.3 2.6 130.9 1.8 134 -1 137.3 0 138.9 0.2 140.7 -1 145.9 -1 146.9 0.4 148.6 0.3 150.1 -1 158.2 -1 158.2 118.2 156.4 117.6 154.7 116 154.2 111.2 153.4 108.8 151.8 106.6 150.2 105.6 146.2 106.4 143.7 107.8 142.1 107.7 140.5 106.9 138.9 107 138.1 108 132.1 111.2 131.3 116 131.6 117.6 132.5 118.6 134.1 118.5 138.1 114.4 140.5 109.8 142.1 108.1 143.7 108 145.3 109 146.9 112.3 147.7 116 148.6 118.1 148.8 120.8 150 122.4 153.4 124.1 158.2 123.7 158.2 141.6 150.4 141.6 148.6 138.4 146.9 137.6 142.1 139.1 137.3 141.3 127.2 141.6 127.6 139 132.5 137.9 134.1 136.1 138.9 134.1 140 132 139.8 130.4 138.9 129.6 132.5 127.7 124.4 128 122.8 127.2 123.6 124 125.5 120.8 126 119.2 123 111.2 121.7 109.6 121.2 108 122.8 106.3 124.4 107.3 126 108.9 127.6 109.4 129.3 109.3 130.7 108 130.9 104.7 132.5 103.4 137.3 103.9 140.2 101.5 143.7 99.9 145.3 98.7 146.1 96.7 145.9 95.1 144.7 93.5 143.7 92.9 138.9 91.9 137.6 90.3 137.6 88.7 137 87.1 134.4 85.5 132.5 85.2 131 85.5 130.9 87.1 132.5 90.8 133.4 91.9 132.1 93.5 129.3 95.2 127.6 95.6 126 95.1 124.3 93.5 124.6 91.9 126.6 88.7 127.6 86.1 128.4 85.5 128.7 83.9 122.8 83.3 121.2 82.7 118 79 117.1 80.7 117.4 82.3 119.2 85.5 119.3 87.1 118.9 88.7 116.6 91.9 116.2 93.5 116.4 95.5 118.3 98.3 118.8 101.5 118 103.8 114.8 106.4 114.3 108 115.4 109.6 119.6 111.6 122.5 114.4 123.2 116 123.3 117.6 122.8 119.2 122.1 120.8 121.2 121.4 116.4 123.1 113.2 125.2 108.3 125 106.7 124 105.1 121.8 103.5 120.5 101.9 121 101.7 122.4 102.8 124 105 125.6 108.3 129.1 109.2 130.4 110.1 133.6 111.6 134.9 114.8 135 115.7 133.6 116.4 130.1 118 128.5 121.2 128 122.7 128.8 123.5 132 125.6 135.2 126 136.8 124.4 137.8 121.2 137.3 118 135.6 116.4 135.4 115.8 136.8 116.2 141.6 -1 141.6 -1 56.4 0.6 56.2 2.1 55.1 3.8 52.7 5.4 52.7 8.6 53.9 10.3 53.7 13.5 51.6 15.1 54 16.7 54.6 23.1 55.3 24.7 55.1 25.9 53.5 27.3 50.3 29.9 47.1 32.6 45.5 36 44.7 37.6 43.9 40.8 41.4 44 36.8 48.9 34.5 50 35.9 49.2 39.1 50.5 40.6 52.1 39.6 58.5 38.6 63.3 37.2 69.8 37 74.6 35.9 76 34.2 77 31 79.2 27.8 78.3 26.2 78.4 24.6 79.6 23 84.2 20.1 85.4 21.4 85.7 24.6 84.2 26.1 79.6 27.8 79.6 29.4 82.6 31.5 84.2 31.6 85.9 31 87.7 27.8 89.1 27.5 92.3 27.7 93.9 25.7 95.5 21.9 97.1 20.4 98.7 19.8 100.3 20.1 102.3 21.4 103.5 23 105.1 23.2 105.5 21.4 104.2 18.2 103.5 17.3 100.3 15.1 100.1 13.4 101.9 12 103.5 11.7 106.7 15.5 110 15.9 111.6 15.7 112.4 15 113.2 13.4 114.8 12.4 119.6 12.7 120 11.8 119.3 8.6 119.1 5.4 120.9 -1ZM135.7 8.4 134.7 8.6 137.7 8.6 137.3 8.4 135.7 8.4ZM151.8 73.7 150.5 75.9 150.7 77.5 151.8 78.7 153.4 79 155 76.3 155.2 74.3 153.4 73 151.8 73.7ZM142.1 118.8 140.1 120.8 139.8 122.4 142.1 126.7 143.7 127.1 145.7 125.6 148 120.8 147.9 119.2 145.3 118 143.7 118.1 142.1 118.8ZM151.8 129.1 150.2 130.4 149.6 132 150.2 133.9 151.8 134.3 153.4 133.8 154.6 132 154.4 130.4 153.4 129.1 151.8 129.1ZM106.7 135.9 105.9 136.8 106.7 137.9 108.8 136.8 108.3 136 106.7 135.9ZM81 111 80.5 112.8 82.6 113.4 85.2 112.8 86.1 111.2 84.2 110 82.6 110.2 81 111ZM105.1 110.8 104.7 111.2 105.7 111.2 105.1 110.8ZM108.3 91.7 106.7 92.3 105.6 93.5 106.7 95.3 108.3 95.6 109.6 95.1 110 94.5 110.2 93.5 110 92.9 109.2 91.9 108.3 91.7ZM137.3 69.3 136.5 69.5 136 71.1 136.3 72.7 137.3 73.8 139.2 72.7 138.9 70.6 137.3 69.3ZM151.8 96.2 151.2 96.7 150.7 98.3 150.8 99.9 151.8 102.7 153.4 103.5 156.6 103.1 157 101.5 155.9 99.9 155 96.5 153.4 95.5 151.8 96.2ZM113.7 3.8 114.8 3.6 115.1 3.8 114.8 4.4 113.7 3.8ZM19.4 43.9 20.2 43.9 21.2 45.5 21 47.1 19.9 48.1 18.3 48.7 17 47.1 18.3 44.3 19.4 43.9Z"/>
<path fill="#bad5ea" d="M151 2.2 153.4 1.1 155 1.2 158.2 3.6 158.2 49.8 157.3 51.9 157.3 53.5 158.2 55.8 158.2 70.2 151.8 71.1 150.2 71.7 146.9 74.9 145.3 75.7 143.7 75 143 71.1 142.4 69.5 141.2 67.9 137.3 64.9 135.7 64.4 134.1 64.6 132.5 66.2 130.9 69.9 124.4 72.2 122.8 72.5 121.2 72 119.6 72.1 114.8 76.3 110 77.8 108.3 79.1 104.2 80.7 102.2 82.3 102.7 83.9 109.1 85.5 109.9 87.1 108.7 88.7 98.7 93.9 97.1 95.3 93.3 103.1 93.9 104 97.1 105.7 97.5 106.4 97.1 107.6 95.5 107.8 90.7 105.6 89.1 105.8 79.4 108.3 77.1 109.6 76.2 111.2 76.5 116 75 122.4 75.2 124 76.2 125.1 81 126.5 81.9 127.2 82.3 133.6 82.6 134.3 83.9 135.2 85.8 135.1 89.1 133.9 92.3 130.9 95.6 128.8 95.6 127.2 93.9 125.6 91.3 124 89.1 120.8 87.4 120.6 84.2 121.7 82.6 121.2 81.1 119.2 80.6 117.6 81 117 82.6 115.7 87.4 114.8 89.1 115.1 92.3 117.1 95.5 117.9 97.6 119.2 99.2 124 101 127.2 100.6 128.8 99.3 130.4 99.5 132 101.5 135.2 101.7 136.8 101.2 138.4 99.3 141.6 97.1 141.6 95.7 140 93.9 139.1 92.3 139.9 91.9 141.6 -1 141.6 -1 61.4 2.2 63.7 5.4 63.9 7 63.6 7.8 63.1 8.6 61 9.8 59.9 13.5 60 15.1 59.6 16.7 57.5 18.3 56.4 21.5 56.5 26.3 58.7 27.9 58.7 28.6 58.3 29.5 56.7 29.1 53.5 29.6 52 32.8 48 34.4 47.6 37.6 49.7 39.2 49.7 40.8 49 44 46 48.9 45.7 50.5 45.1 54.4 42.3 56.9 41.2 61.7 41.1 63.7 42.3 64.9 44.1 66.5 44.1 73 41.7 77.8 41.4 79.4 40.4 81 36.6 82.6 35.1 84.2 34.9 90.7 35.2 93.5 34.2 95.5 32.6 98 29.4 97.7 27.8 96.5 26.2 96.3 24.6 97.1 22.6 98.7 21.8 100.3 22.6 101.4 24.6 101.9 26.8 103.5 26.8 111.6 22.3 116.4 20.9 119.6 18.8 127.9 16.6 132 13.4 134.1 12.4 140.5 11 141.6 10.2 143.7 7.6 146.9 6.6 149.1 3.8 151 2.2ZM42.4 125 40.9 125.6 39.1 127.2 38.3 128.8 39.2 130.1 42.4 129.7 44.8 128.8 45.5 127.2 44.9 125.6 44 125 42.4 125ZM50.5 122.1 50.2 122.4 51 124 53.7 126.2 55.3 126.5 56.8 125.6 57 124 56.7 122.4 55.3 121.2 52.1 121.1 50.5 122.1ZM60.1 115.4 58.5 116.1 58.4 119.2 61.1 122.4 63.3 123.2 64.9 123.4 66.5 123.2 67.8 122.4 67.3 120.8 66.5 120.3 61.7 118.5 60.9 117.6 60.1 115.4ZM68.1 89.6 67.1 90.3 66.3 91.9 66.5 95.4 67.9 96.7 66.8 99.9 66.8 101.5 68.1 104.5 71.4 107.3 73 107.8 74.6 107.7 76.2 107.1 79.4 105.4 82.8 101.5 84.2 100.8 87.4 100.3 89.1 98.7 89 96.7 87.4 95.3 85.8 95.2 84.2 96.1 81 99.9 74.6 100.9 73 100.4 69.9 98.3 68.6 96.7 69.8 96.4 73 93.5 72.7 91.9 69.8 89.7 68.1 89.6ZM82.6 87 84.2 88.7 85 87.1 84.2 85.6 82.6 87ZM90.7 80 89.5 80.7 89.6 82.3 90.7 83.9 93.9 86 95.5 86.2 96.2 85.5 96.2 83.9 95.6 82.3 94.1 80.7 90.7 80ZM105.1 72.1 104.3 72.7 106.1 74.3 108.3 75.5 109.3 74.3 109.1 72.7 108.3 71.5 106.7 71.2 105.1 72.1ZM146.9 55.5 145.5 56.7 145.7 58.3 146.9 62.4 148.6 64.7 150.2 64.8 151.8 64.4 154.1 63.1 153.9 61.5 148.6 56.1 146.9 55.5ZM63.3 134.2 62 135.2 61.4 136.8 62.1 138.4 63.3 139.8 64.9 139.3 65.3 136.8 64.9 134.5 63.3 134.2ZM71.4 128.3 69.8 128.9 69.4 130.4 69.8 131 71.4 130.5 71.4 128.3ZM122.6 5.4 122.8 4.7 124.4 3.9 125.4 5.4 124.4 7.2 122.8 6.6 122.6 5.4ZM108.3 19.8 108.3 19.1 109.2 19.8 108.3 20 108.3 19.8ZM123.4 74.3 124.4 73.6 125.1 74.3 129 75.9 129.9 77.5 129.4 79.1 127.6 80 124.4 80.3 122.9 79.1 122.5 77.5 122.8 74.9 123.4 74.3ZM158 80.7 158.2 79.7 158.2 89.1 156.6 89.6 153.4 92.5 151.8 92.8 150.2 92.3 149.1 90.3 147.6 85.5 147.5 82.3 148.6 81.2 153.4 83.1 155 83 156.6 82.3 158 80.7ZM107.2 101.5 108.3 100.7 110 100.6 112 101.5 112 103.1 110 105.9 108.3 106.4 107.2 104.7 106.9 103.1 107.2 101.5ZM157.3 108 158.2 107.4 158.2 113.4 156.8 111.2 156.6 109.6 157.3 108ZM115.5 114.4 118 114.4 119.7 116 119.9 117.6 118.4 119.2 115.9 119.2 114.3 117.6 114.2 116 115.5 114.4ZM105.5 117.6 106.7 116.6 108.3 116.6 110 117.2 110.5 117.6 111.2 119.2 110.5 120.8 110 121 108.3 120.5 105.5 117.6ZM158.1 128.8 158.2 128.7 158.2 135.2 157.3 133.6 157.5 130.4 158.1 128.8Z"/>
<path fill="#a5cce2" d="M152.3 8.6 153.4 7.4 158.2 8.2 158.2 42.2 155.7 43.9 153.4 47.1 153 48.7 154.1 55.1 153.8 56.7 153.4 57.1 148.6 52.6 146.9 51.6 143.7 51 141.9 51.9 140.1 55.1 138.9 56 134.1 57.9 129.3 57.6 127.5 58.3 126.4 59.9 126 61.5 126.4 63.1 129.2 66.3 128.4 67.9 127.6 68.2 125.9 67.9 121 63.1 119.6 62.5 118 62.7 117.4 63.1 116.6 64.7 117.5 67.9 116.2 71.1 114.8 73.3 113.2 73.9 112 72.7 111 69.5 110 68.4 108.3 68.3 98.6 71.1 97.5 72.7 97.6 74.3 98.6 75.9 103.5 76 104.9 77.5 100.3 80.2 98.7 80.9 95.5 78.8 89.1 76.2 87.4 76 85.8 77 83.7 80.7 80.6 83.9 80 85.5 80.1 88.7 81.7 91.9 81.7 93.5 79.5 96.7 77.8 97.3 76.1 96.7 76.5 93.5 76.2 91.9 72.3 87.1 73.4 85.5 76.3 83.9 77 82.3 76.1 80.7 74.6 80.4 73 81.3 72.3 82.3 71.9 83.9 71.9 85.5 65.6 87.1 63.9 88.7 63.1 93.5 61.7 95.5 60.1 96.3 55.3 97.2 53.7 98 51.9 99.9 49.6 104.7 47.2 106.8 44 107.9 40.7 108 39.2 108.9 38.8 111.2 39.3 114.4 40.3 116 43.7 119.2 44.3 120.8 44 121 42.3 122.4 37.6 124.1 34.4 124.4 31.2 123.7 29.6 123.8 27.9 124.3 26.2 125.6 25.7 127.2 26.3 128 27.9 128.6 31.2 129 32.8 129.7 34.4 132.1 36 133.6 39.2 134.4 42.4 133.5 44 133.9 44.7 141.6 -1 141.6 -1 69.7 0.6 69 2.2 66.7 3.8 65.9 5.4 65.9 8.6 66.9 10.3 66.7 11.4 63.1 13.5 62.3 15.1 62.9 16.7 65 18.3 65.5 19.9 65.1 22.4 63.1 23.5 61.5 24.7 61 29.6 60.4 30.4 59.9 32.8 55.9 39.2 52.7 45.6 51.5 52.1 47.9 56.9 43.7 58.5 43.4 59.9 43.9 60.7 47.1 61.7 48.4 63.3 48.7 64.9 48.3 69.8 45.8 77.8 44.5 79.5 43.9 81.6 42.3 83 39.1 84.2 37.9 89.1 38.2 93.9 36.2 98.7 32.6 101.9 31.3 103.5 30.1 105.2 27.8 106.7 26.6 108.3 25.9 113.2 25.4 119.6 22.1 124.4 20.3 132.5 18.7 135.7 14.8 138.9 13.8 143.9 13.4 152.3 8.6ZM27.9 136.7 28 138.4 29.6 138.9 30.5 138.4 29.9 136.8 27.9 136.7ZM52.1 91.5 51.1 93.5 52.1 94.6 52.5 93.5 52.5 91.9 52.1 91.5ZM19.8 58.3 19.9 58.2 20.1 58.3 19.9 58.5 19.8 58.3ZM141.9 59.9 142.1 59.7 143.7 60.8 144.2 63.1 143.7 64.5 142.1 64.5 140.8 63.1 140.8 61.5 141.9 59.9ZM151.6 67.9 153.4 67.4 153.9 67.9 153.4 68.2 151.6 67.9ZM102.6 87.1 103.5 86.9 104.9 87.1 103.5 88.8 103 88.7 102.6 87.1ZM88.9 88.7 89.1 88.1 90.7 88.4 91 88.7 90.7 90 89.1 89.5 88.9 88.7ZM59.4 103.1 61.7 101.7 63.3 102 64.9 104.1 65.8 106.4 65.2 108 61.7 108.8 60.1 108.7 58.5 108 58.7 104.7 59.4 103.1ZM52.1 111.2 55.3 110.6 55.9 111.2 56.4 112.8 56 117.6 55.3 118.5 53.7 119.3 50.5 118.8 48.6 117.6 48.1 116 48.2 114.4 49 112.8 50.5 111.6 52.1 111.2ZM60.9 125.6 63.3 125.1 65.5 125.6 66.8 127.2 66.4 128.8 64.9 130.5 60.1 132.6 58.5 135.1 56.9 136.3 53.7 134.8 52.8 133.6 52.3 130.4 53.7 129.7 58.5 129.6 60.9 125.6Z"/>
<path fill="#8cbedc" d="M151.7 11.8 155 10.8 158.2 10.5 158.2 39.7 153.4 41.7 148.6 42.4 146.9 43.9 145.6 47.1 143.7 48.1 140.5 48.7 138.9 49.8 136.9 53.5 127.6 55.9 122.8 59.6 118 60.2 113.2 62.9 110 62.5 108.3 62.8 106 66.3 105.1 67 103.3 67.9 98.7 68.6 96 69.5 95.2 71.1 94.8 74.3 93.9 75.5 92.3 75.3 87.4 73.2 84.2 73.2 81.6 74.3 76.2 77.4 73 78.7 71.4 80 69.8 82.4 68.1 83.7 66.5 83.9 64.3 82.3 64.7 79.1 63.3 78.2 61.7 78.4 60.7 79.1 61.1 82.3 58.5 83.8 53.7 85.1 50.4 87.1 48.6 88.7 46.9 93.5 45.6 94.8 41.1 96.7 39.2 98.3 35 106.4 34.8 108 35.1 112.8 34.4 114.1 32.8 114.2 29.6 113 27.9 113.3 26.8 114.4 26.2 116 26.1 117.6 27 120.8 22.6 125.6 21.9 127.2 21.5 132.6 21 133.6 18.3 136.2 16.7 139.5 15.1 141.1 14.3 141.6 -1 141.6 -1 77.6 0.6 76.4 5.4 75 6.4 74.3 8.6 71.2 15.1 70.3 16.7 69.6 18.4 67.9 25.7 63.1 27.9 62.6 32.8 63.1 34 61.5 33.8 59.9 33.9 58.3 34.4 57.8 36 57.3 39.2 58 40.8 57.8 49.5 55.1 53.7 53.3 56.9 53.5 58.5 53.1 61.7 50.9 66.5 49.6 69.8 47.9 73 47.3 77.8 47.1 79.4 46.4 87.4 41.9 90.7 40.6 97.1 36.3 103.5 34.1 105.2 32.6 106.7 28.6 108.3 27.4 110 27.4 113.2 28.7 114.8 28 118 25.3 124.4 22.5 127.6 21.7 130.9 21.9 133.2 21.4 138.9 17 145.8 15 151.7 11.8ZM8.6 134.8 6.6 136.8 7 137.4 8.6 138 10 136.8 10.3 135.2 8.6 134.8ZM57.5 90.3 58.5 89.9 60.4 90.3 61.2 91.9 60.7 93.5 60.1 94 58.5 94.5 56.4 93.5 56.2 91.9 57.5 90.3ZM41.6 101.5 42.4 100.7 44 100.1 45.6 100.5 46.8 101.5 46.7 103.1 45.6 104.3 43.5 104.7 42.4 104.2 41.6 103.1 41.6 101.5ZM51.5 116 52.1 115.1 53.7 115 54.1 116 53.7 116.9 52.1 116.9 51.5 116ZM27.1 132 27.9 131.3 29.6 131.2 30.7 132 29.6 133.3 27.9 133 27.1 132Z"/>
<path fill="#70aed6" d="M153.7 13.4 158.2 12.5 158.2 37.4 147.2 40.7 145.2 42.3 143.7 44.4 142.4 45.5 137.3 47.1 128.3 53.5 122.8 56.5 113.2 60.1 108.3 60.2 106.4 61.5 103.5 65.1 101.9 65.7 97.1 66.1 93.9 67.1 92.4 67.9 90.7 70.1 89.1 70.6 84.2 70.1 82.6 70.6 73 76 69.8 76.3 68.1 75.8 64.9 75.9 61.7 76.4 58.6 77.5 56.4 80.7 55.3 81.5 44 86.1 43.1 87.1 43.6 88.7 44.8 90.3 45.1 91.9 43.9 93.5 37.6 95.4 34.4 102.1 32.8 102.6 29.6 97.5 28.6 96.7 27.9 96.5 24.7 97.1 23.1 98.3 23.3 99.9 24.7 102.5 26.3 104.3 30.8 106.4 31 108 29.7 109.6 26.3 110.3 24.8 111.2 23 114.4 19.5 117.6 17.2 120.8 18.7 125.6 18.7 128.8 18.3 130.4 16.7 130.9 13.5 130.4 10.3 130.4 5.2 135.2 3.9 136.8 3.7 138.4 6.9 141.6 3.2 141.6 2.2 140.3 1.4 140 -1 139.9 -1 80.3 2.2 80.3 3.8 79.5 5.4 77.9 8.6 75.9 10.3 73.9 11.9 73.1 18.3 73.2 20.5 72.7 21.5 71.1 21.4 69.5 22.1 67.9 24.7 65.9 27.9 65.1 31.2 65.5 34.4 64.9 37.6 62.1 39 61.5 42.4 60.6 47.2 58 58.5 55 63.3 51.8 68.1 51 73 49.1 78.1 48.7 84.2 46 90.7 43.9 92.3 43 95.5 39.5 97.1 38.5 98.7 38.2 101.9 38.6 103.5 37.9 105.3 35.9 110 32.1 114.8 30.3 119.6 26.4 124.4 24.8 133.8 23 140.5 18.6 148.6 16 153.7 13.4ZM34.4 90.3 31.4 91.9 30.3 93.5 31.2 94.9 34.4 94.3 35.6 93.5 35.8 91.9 34.4 90.3ZM13.4 136.8 13.5 136.6 14 136.8 13.5 137 13.4 136.8Z"/>
<path fill="#5ba0cd" d="M157.1 15 158.2 14.7 158.2 34.7 155 36.3 146.5 39.1 144 40.7 140.4 43.9 129.9 48.7 124.4 53.2 122.8 53.7 119.6 53.9 114.8 57.6 113.2 58.1 108.3 58.3 106.7 58.8 101.9 62.7 98.7 63.2 89.1 67.7 84.2 67.9 79.4 70.4 74.6 72.3 68.7 72.7 64.9 74.3 58.5 75.9 53.7 79.7 42.4 84.1 37.6 86.9 34.4 87.5 28.9 91.9 26.3 94.7 21.1 96.7 20.5 98.3 20.7 101.5 19.9 103.1 17.2 104.7 16.3 106.4 16.4 108 19.1 111.2 19.2 112.8 15.9 117.6 12.7 120.8 12.4 122.4 16 125.6 16.3 127.2 15.1 128.5 13.5 128.7 8.6 127.1 7 127.2 7 130.4 6.5 132 2.3 135.2 0.6 137.5 -1 138.1 -1 133.3 0.6 132.6 0.8 132 0.5 130.4 -1 129.8 -1 82.6 3.8 83.2 5.4 82.6 8.6 79.8 10.3 79 12.2 75.9 13.5 75.2 18.3 74.9 21.6 74.3 24.4 72.7 26.3 70.8 29.6 68.6 34.4 66.6 39.2 63.6 42.9 63.1 47.3 59.9 53.7 58.1 58.5 56.3 63.3 53.3 68.1 52.8 73 50.7 79.4 49.7 84.2 47.7 90.7 46.2 92.3 45.5 93.9 44.1 97.1 40.6 98.7 40.1 101.9 40.7 103.5 40.4 106.7 36.5 114.8 32.1 119.6 28.3 121.2 27.5 127.6 26.5 134.1 24.4 138.9 21.3 143.7 19.1 153.4 17 157.1 15Z"/>
<path fill="#4790c5" d="M157.3 18.2 158.2 17.7 158.2 31.3 154.1 34.2 148.6 36.3 142.8 39.1 135.7 44.7 127.6 47.7 122.8 50.6 118.2 51.9 115.5 55.1 113.2 56.4 106.7 56.7 105.1 57.5 101.9 60.2 89.1 65.7 82.6 66.4 77.8 69.2 74.6 69.6 68.9 71.1 63.3 73.6 56.9 75.3 52.1 78.4 45.6 81.3 39.2 83 34.4 85.2 24.7 94 23.1 94.3 19.9 93.7 18.3 94.4 16.7 98 13.3 101.5 13.1 106.4 12.7 108 11.9 108.8 8.6 110.3 8 111.2 7.6 112.8 8.6 114.7 10.3 115.2 13.5 115.3 13.7 116 8.6 123.7 -1 127.2 -1 86 0.6 85.3 5.4 84.4 8.6 83 11.9 83.8 13.5 83.6 14.9 82.3 15.1 80.7 14.7 79.1 15.1 77.3 21.5 75.8 24.7 74.4 27.8 72.7 31.8 69.5 39.2 65.8 44 65.4 47.2 61.8 48.9 60.8 55.3 59.1 64.9 54.4 69.8 53.9 74.6 51.8 79.4 51 84.2 49.1 90.7 48 93.9 46.2 97.1 42.6 98.7 41.8 103.5 42.2 105.1 41.1 106.7 38.4 108.3 36.9 113.2 35 121.2 29.5 127.6 28.4 132.2 26.2 135.7 25.5 139.5 23 146.8 19.8 153.4 19.4 157.3 18.2Z"/>
<path fill="#377fbc" d="M146.9 21.4 150.2 20.9 158.2 21.2 158.2 27.2 156.6 27.8 155 27.7 153.4 28.4 151.2 32.6 145.3 36.1 139.2 39.1 136.7 42.3 134.6 43.9 127.6 46.1 117.4 50.3 116.4 51 114.7 53.5 113.2 54.6 111.6 54.9 108.3 54.5 105.1 55.2 100.3 59.2 92.3 63 87.4 64.2 81.7 64.7 77.8 67.1 73 68.1 62.2 72.7 55.7 74.3 44 80.2 37.6 81.3 36 81.9 32.8 83.9 30.4 87.1 26.3 90.1 24.7 92.1 23.1 92.5 19.9 91.2 18.3 91.5 10.4 99.9 9.4 101.5 9.1 103.1 9.8 106.4 6.3 109.6 5.8 111.2 5.7 114.4 6 116 7.5 117.6 8.2 119.2 7.8 120.8 6.5 122.4 5.4 122.8 -1 123.9 -1 88.3 3.8 86.2 10.3 85.8 13.5 85.2 15.4 83.9 16.4 82.3 17.1 79.1 18.3 78.1 24.7 75.9 29.6 73.4 32.8 71 34.4 70.5 36 70.7 37.6 72.4 39.2 71.7 39.8 69.5 40.8 68.7 45.6 66.9 48.9 62.6 55.3 60.7 64.9 56.1 69.8 55.2 74.6 53.2 79.4 52.3 85.8 50.1 92.3 49.1 93.9 48.2 97.1 44.6 98.7 43.5 103.5 43.7 105.1 43.2 106.2 42.3 108.3 38.5 110 37.6 114.8 36 121.2 31.7 127.6 29.8 132.5 27.4 134.1 27.1 137.3 27.9 138.9 27.9 142.2 24.6 146.9 21.4Z"/>
<path fill="#286eb1" d="M147.4 23 148.6 22.6 151.8 22.8 152.6 23 153.4 24.6 151.8 26.8 149.5 31 145.5 34.2 142.8 35.9 138.9 37.5 137.3 38.7 134.1 42.5 127.6 44.5 121.2 47.2 116.4 48.7 114 50.3 113 51.9 111.6 52.5 108.3 52.5 104.4 53.5 101.9 55.1 99 58.3 93.9 60.6 90.5 61.5 81 62.4 79.4 63 76.2 65.6 61.7 71.4 53.7 73.4 44 78.5 40.8 78.9 39.2 78.5 37.7 77.5 40.8 73.9 42.4 70.9 47.2 68.2 49.3 64.7 50.5 63.7 55.3 62.2 60.1 59.6 64.9 57.7 71.4 56 76.2 54.3 82.6 53 85.8 51.6 92.3 50.8 93.9 50.3 98.7 45.4 100.3 45 105.1 44.9 106.7 44.1 108.5 40.7 110 39.1 115.5 37.5 119.6 34.7 129.3 30.5 132.5 28.8 134.1 28.6 137.3 29.6 139.8 29.4 147.4 23ZM28 75.9 32.8 74.7 33.7 75.9 32.7 79.1 31.4 80.7 29 82.3 27.9 83.6 24.7 84.3 23.1 85.3 20.4 88.7 16.7 90.8 10.3 97.2 3.8 104.7 2.2 109.6 0.6 110.5 -1 110.7 -1 90 3.8 88 5.4 88 8.6 88.7 13.5 86.7 15.1 85.8 16.7 84.3 18.5 80.7 19.9 79.3 23.1 78.4 28 75.9Z"/>
<path fill="#1b5da4" d="M146.4 26.2 148.6 25.2 149.2 26.2 148.6 28.6 146.9 30.6 142.5 34.2 136.2 37.5 134.1 39.9 132.5 41.1 129.3 41.4 125.3 43.9 121.2 45.6 118 46.8 111.6 48.2 107.7 50.3 100.3 52.7 99 53.5 97.3 56.7 95.5 57.5 92.3 58 89.1 57.8 85.8 58 79.4 60.3 74.4 64.7 58.5 70.7 50.5 72.1 45.6 75.5 43.7 75.9 43.1 74.3 43.7 72.7 45.6 71.3 48.9 70.3 50.6 66.3 52.2 64.7 56.9 63.3 60.1 61.1 63.3 59.6 76.2 56.2 82.6 55.6 87.4 53.1 95.5 53.2 97.1 52.1 98.5 48.7 100.2 47.1 106.7 46.4 108.3 45.5 110 41.5 111.6 40.1 116.4 38.7 121.2 35.9 132.5 30.6 134.1 30.4 138.9 31.2 140.5 30.9 142.1 30.3 146.4 26.2ZM19.7 83.9 19.9 83.5 20.2 83.9 19.9 85.1 19.7 83.9ZM18.2 85.5 19.5 85.5 18.3 87.3 16.7 87.4 16.5 87.1 18.2 85.5ZM14.2 88.7 15.1 88.5 15.6 88.7 15.1 89.1 14.2 88.7ZM11.6 90.3 13.5 89.2 14 90.3 8.9 95.1 7 98.3 5.4 100.1 1.5 103.1 0.2 106.4 -1 107.8 -1 91.7 0.6 91.6 5.4 93.1 8.6 92.3 11.6 90.3Z"/>
<path fill="#134b91" d="M134.1 34.2 135.7 33.9 137.4 34.2 135.7 34.5 134.1 34.2ZM119.9 39.1 122.8 37.9 124.4 38.5 124.9 40.7 123.9 42.3 117.1 45.5 113.2 45.9 111.6 45.2 111 43.9 111.6 42 113.2 41 118 40 119.9 39.1ZM70.2 59.9 73 59.3 74.6 59.5 75.2 59.9 75.1 61.5 73 63.4 69.8 63.9 65.3 66.3 60.1 67.2 55.6 69.5 53.7 69.4 52.6 67.9 53.7 66.2 58.5 65.2 60.1 63.1 62.4 61.5 64.9 60.9 68.1 60.8 70.2 59.9Z"/>
<path d="M5.2 5.2L6 5M10.5 5.2L11.2 5M15.7 5.2L16.5 5M21 5.2L21.7 5M26.2 5.2L26.9 5M31.4 5.2L32.2 5M36.7 5.2L37.4 5M41.9 5.2L42.7 5M47.2 5.2L47.9 5M52.4 5.2L53.1 5M57.6 5.2L58.4 5M62.9 5.2L63.6 5M68.1 5.2L68.9 5M73.4 5.2L74.1 5M78.6 5.2L79.3 5M83.8 5.2L84.6 5M89.1 5.2L89.8 5M94.3 5.2L95.1 5M99.6 5.2L100.3 5M104.8 5.2L105.5 5M110 5.2L110.8 5M115.3 5.2L116 5M120.5 5.2L121.3 5M125.8 5.2L126.5 5M131 5.2L131.7 5M136.2 5.2L137 5M141.5 5.2L142.2 5M146.7 5.2L147.5 5M152 5.2L152.7 5M5.2 10.4L6 10.2M10.5 10.4L11.2 10.2M15.7 10.4L16.5 10.2M21 10.4L21.7 10.2M26.2 10.4L26.9 10.2M31.4 10.4L32.2 10.2M36.7 10.4L37.4 10.2M41.9 10.4L42.7 10.2M47.2 10.4L47.9 10.2M52.4 10.4L53.1 10.2M57.6 10.4L58.4 10.2M62.9 10.4L63.6 10.2M68.1 10.4L68.9 10.2M73.4 10.4L74.1 10.2M78.6 10.4L79.3 10.2M83.8 10.4L84.6 10.2M89.1 10.4L89.8 10.2M94.3 10.4L95.1 10.2M99.6 10.4L100.3 10.2M104.8 10.4L105.5 10.2M110 10.4L110.8 10.2M115.3 10.4L116 10.2M120.5 10.4L121.3 10.2M125.8 10.4L126.5 10.2M131 10.4L131.7 10.2M136.2 10.4L137 10.2M141.5 10.4L142.2 10.2M146.7 10.4L150.8 9.1M150.8 9.1L149.8 10.2M150.8 9.1L149.3 8.7M152 10.4L156.4 8.9M156.4 8.9L155.4 10.1M156.4 8.9L154.8 8.6M5.2 15.6L6 15.4M10.5 15.6L11.2 15.4M15.7 15.6L16.5 15.4M21 15.6L21.7 15.4M26.2 15.6L26.9 15.4M31.4 15.6L32.2 15.4M36.7 15.6L37.4 15.4M41.9 15.6L42.7 15.4M47.2 15.6L47.9 15.4M52.4 15.6L53.1 15.4M57.6 15.6L58.4 15.4M62.9 15.6L63.6 15.4M68.1 15.6L68.9 15.4M73.4 15.6L74.1 15.4M78.6 15.6L79.3 15.4M83.8 15.6L84.6 15.4M89.1 15.6L89.8 15.4M94.3 15.6L95.1 15.4M99.6 15.6L100.3 15.4M104.8 15.6L105.5 15.4M110 15.6L110.8 15.4M115.3 15.6L116 15.4M120.5 15.6L121.3 15.4M125.8 15.6L126.5 15.4M131 15.6L131.7 15.4M136.2 15.6L140.3 13.9M140.3 13.9L139.4 15.2M140.3 13.9L138.8 13.7M141.5 15.6L145.9 13.8M145.9 13.8L145 15.1M145.9 13.8L144.4 13.6M146.7 15.6L151.5 13.7M151.5 13.7L150.6 15M151.5 13.7L150 13.4M152 15.6L157.1 13.5M157.1 13.5L156.2 14.8M157.1 13.5L155.6 13.3M5.2 20.8L6 20.6M10.5 20.8L11.2 20.6M15.7 20.8L16.5 20.6M21 20.8L21.7 20.6M26.2 20.8L26.9 20.6M31.4 20.8L32.2 20.6M36.7 20.8L37.4 20.6M41.9 20.8L42.7 20.6M47.2 20.8L47.9 20.6M52.4 20.8L53.1 20.6M57.6 20.8L58.4 20.6M62.9 20.8L63.6 20.6M68.1 20.8L68.9 20.6M73.4 20.8L74.1 20.6M78.6 20.8L79.3 20.6M83.8 20.8L84.6 20.6M89.1 20.8L89.8 20.6M94.3 20.8L95.1 20.6M99.6 20.8L100.3 20.6M104.8 20.8L105.5 20.6M110 20.8L110.8 20.6M115.3 20.8L116 20.6M120.5 20.8L121.3 20.6M125.8 20.8L129.8 18.8M129.8 18.8L129 20.1M129.8 18.8L128.2 18.7M131 20.8L135.4 18.7M135.4 18.7L134.6 20M135.4 18.7L133.8 18.5M136.2 20.8L141.1 18.6M141.1 18.6L140.2 19.9M141.1 18.6L139.5 18.4M141.5 20.8L146.7 18.5M146.7 18.5L145.8 19.8M146.7 18.5L145.1 18.3M146.7 20.8L152.3 18.3M152.3 18.3L151.4 19.6M152.3 18.3L150.7 18.1M152 20.8L157.9 18.1M157.9 18.1L157 19.4M157.9 18.1L156.3 17.9M5.2 26L6 25.8M10.5 26L11.2 25.8M15.7 26L16.5 25.8M21 26L21.7 25.8M26.2 26L26.9 25.8M31.4 26L32.2 25.8M36.7 26L37.4 25.8M41.9 26L42.7 25.8M47.2 26L47.9 25.8M52.4 26L53.1 25.8M57.6 26L58.4 25.8M62.9 26L63.6 25.8M68.1 26L68.9 25.8M73.4 26L74.1 25.8M78.6 26L79.3 25.8M83.8 26L84.6 25.8M89.1 26L89.8 25.8M94.3 26L95.1 25.8M99.6 26L100.3 25.8M104.8 26L105.5 25.8M110 26L110.8 25.8M115.3 26L119.2 23.7M119.2 23.7L118.5 25.1M119.2 23.7L117.6 23.7M120.5 26L124.9 23.6M124.9 23.6L124.1 25M124.9 23.6L123.3 23.6M125.8 26L130.6 23.5M130.6 23.5L129.7 24.9M130.6 23.5L129 23.4M131 26L136.2 23.4M136.2 23.4L135.4 24.8M136.2 23.4L134.6 23.3M136.2 26L141.8 23.3M141.8 23.3L141 24.7M141.8 23.3L140.3 23.2M141.5 26L147.5 23.2M147.5 23.2L146.6 24.5M147.5 23.2L145.9 23M146.7 26L153 23M153 23L152.2 24.3M153 23L151.5 22.8M152 26L158.6 22.7M158.6 22.7L157.8 24.1M158.6 22.7L157 22.6M5.2 31.2L6 31M10.5 31.2L11.2 31M15.7 31.2L16.5 31M21 31.2L21.7 31M26.2 31.2L26.9 31M31.4 31.2L32.2 31M36.7 31.2L37.4 31M41.9 31.2L42.7 31M47.2 31.2L47.9 31M52.4 31.2L53.1 31M57.6 31.2L58.4 31M62.9 31.2L63.6 31M68.1 31.2L68.9 31M73.4 31.2L74.1 31M78.6 31.2L79.3 31M83.8 31.2L84.6 31M89.1 31.2L89.8 31M94.3 31.2L95.1 31M99.6 31.2L102.8 28.7M102.8 28.7L102.3 30.1M102.8 28.7L101.4 28.9M104.8 31.2L108.6 28.7M108.6 28.7L107.9 30.1M108.6 28.7L107 28.8M110 31.2L114.3 28.6M114.3 28.6L113.6 30M114.3 28.6L112.7 28.6M115.3 31.2L120 28.5M120 28.5L119.3 29.9M120 28.5L118.4 28.5M120.5 31.2L125.7 28.4M125.7 28.4L124.9 29.8M125.7 28.4L124.1 28.4M125.8 31.2L131.4 28.3M131.4 28.3L130.5 29.7M131.4 28.3L129.8 28.2M131 31.2L137 28.2M137 28.2L136.2 29.6M137 28.2L135.4 28.1M136.2 31.2L142.6 28.1M142.6 28.1L141.8 29.4M142.6 28.1L141 27.9M141.5 31.2L148.2 27.9M148.2 27.9L147.4 29.2M148.2 27.9L146.6 27.7M146.7 31.2L153.1 28.1M153.1 28.1L152.3 29.4M153.1 28.1L151.5 28M152 31.2L158 28.4M158 28.4L157.2 29.7M158 28.4L156.4 28.2M5.2 36.5L6 36.2M10.5 36.5L11.2 36.2M15.7 36.5L16.5 36.2M21 36.5L21.7 36.2M26.2 36.5L26.9 36.2M31.4 36.5L32.2 36.2M36.7 36.5L37.4 36.2M41.9 36.5L42.7 36.2M47.2 36.5L47.9 36.2M52.4 36.5L53.1 36.2M57.6 36.5L58.4 36.2M62.9 36.5L63.6 36.2M68.1 36.5L68.9 36.2M73.4 36.5L74.1 36.2M78.6 36.5L79.3 36.2M83.8 36.5L84.6 36.2M89.1 36.5L92.2 33.7M92.2 33.7L91.7 35.1M92.2 33.7L90.7 34M94.3 36.5L97.9 33.7M97.9 33.7L97.3 35.2M97.9 33.7L96.3 33.9M99.6 36.5L103.7 33.6M103.7 33.6L103 35.1M103.7 33.6L102.1 33.7M104.8 36.5L109.4 33.6M109.4 33.6L108.7 35M109.4 33.6L107.8 33.6M110 36.5L115.2 33.5M115.2 33.5L114.4 34.9M115.2 33.5L113.6 33.5M115.3 36.5L120.9 33.4M120.9 33.4L120.1 34.8M120.9 33.4L119.3 33.4M120.5 36.5L126.6 33.3M126.6 33.3L125.7 34.7M126.6 33.3L125 33.2M125.8 36.5L132.2 33.2M132.2 33.2L131.4 34.5M132.2 33.2L130.6 33.1M131 36.5L137.7 33.1M137.7 33.1L136.8 34.5M137.7 33.1L136.1 33M136.2 36.5L142.6 33.3M142.6 33.3L141.7 34.7M142.6 33.3L141 33.2M141.5 36.5L147.5 33.5M147.5 33.5L146.6 34.9M147.5 33.5L145.9 33.4M146.7 36.5L152.4 33.8M152.4 33.8L151.5 35.1M152.4 33.8L150.8 33.7M152 36.5L157.3 34.2M157.3 34.2L156.4 35.5M157.3 34.2L155.7 33.9M5.2 41.7L6 41.4M10.5 41.7L11.2 41.4M15.7 41.7L16.5 41.4M21 41.7L21.7 41.4M26.2 41.7L26.9 41.4M31.4 41.7L32.2 41.4M36.7 41.7L37.4 41.4M41.9 41.7L42.7 41.4M47.2 41.7L47.9 41.4M52.4 41.7L53.1 41.4M57.6 41.7L58.4 41.4M62.9 41.7L63.6 41.4M68.1 41.7L68.9 41.4M73.4 41.7L74.1 41.4M78.6 41.7L81.7 38.8M81.7 38.8L81.3 40.2M81.7 38.8L80.2 39.1M83.8 41.7L87.3 38.8M87.3 38.8L86.8 40.3M87.3 38.8L85.8 39M89.1 41.7L93.1 38.7M93.1 38.7L92.5 40.2M93.1 38.7L91.5 38.9M94.3 41.7L98.8 38.7M98.8 38.7L98.1 40.1M98.8 38.7L97.2 38.7M99.6 41.7L104.6 38.6M104.6 38.6L103.8 40M104.6 38.6L103 38.6M104.8 41.7L110.3 38.5M110.3 38.5L109.5 39.9M110.3 38.5L108.7 38.5M110 41.7L116.1 38.5M116.1 38.5L115.2 39.8M116.1 38.5L114.5 38.4M115.3 41.7L121.8 38.4M121.8 38.4L120.9 39.7M121.8 38.4L120.2 38.2M120.5 41.7L127.1 38.3M127.1 38.3L126.3 39.7M127.1 38.3L125.5 38.2M125.8 41.7L132 38.5M132 38.5L131.1 39.8M132 38.5L130.4 38.4M131 41.7L136.8 38.7M136.8 38.7L136 40M136.8 38.7L135.2 38.6M136.2 41.7L141.7 38.9M141.7 38.9L140.9 40.2M141.7 38.9L140.1 38.8M141.5 41.7L146.7 39.2M146.7 39.2L145.8 40.5M146.7 39.2L145.1 39M146.7 41.7L151.6 39.5M151.6 39.5L150.7 40.8M151.6 39.5L150 39.3M152 41.7L156.5 39.9M156.5 39.9L155.5 41.2M156.5 39.9L155 39.6M5.2 46.9L6 46.6M10.5 46.9L11.2 46.6M15.7 46.9L16.5 46.6M21 46.9L21.7 46.6M26.2 46.9L26.9 46.6M31.4 46.9L32.2 46.6M36.7 46.9L37.4 46.6M41.9 46.9L42.7 46.6M47.2 46.9L47.9 46.6M52.4 46.9L53.1 46.6M57.6 46.9L58.4 46.6M62.9 46.9L63.6 46.6M68.1 46.9L71.4 43.9M71.4 43.9L71 45.4M71.4 43.9L69.9 44.2M73.4 46.9L77.1 43.8M77.1 43.8L76.5 45.4M77.1 43.8L75.5 44.1M78.6 46.9L82.7 43.8M82.7 43.8L82.1 45.3M82.7 43.8L81.1 44M83.8 46.9L88.4 43.8M88.4 43.8L87.7 45.2M88.4 43.8L86.8 43.9M89.1 46.9L94 43.7M94 43.7L93.3 45.2M94 43.7L92.4 43.8M94.3 46.9L99.8 43.7M99.8 43.7L99 45.1M99.8 43.7L98.2 43.7M99.6 46.9L105.5 43.6M105.5 43.6L104.7 45M105.5 43.6L103.9 43.5M104.8 46.9L111.3 43.5M111.3 43.5L110.4 44.9M111.3 43.5L109.7 43.4M110 46.9L116.6 43.5M116.6 43.5L115.7 44.9M116.6 43.5L115 43.4M115.3 46.9L121.4 43.6M121.4 43.6L120.6 45M121.4 43.6L119.8 43.6M120.5 46.9L126.2 43.8M126.2 43.8L125.4 45.2M126.2 43.8L124.6 43.7M125.8 46.9L131 43.9M131 43.9L130.2 45.3M131 43.9L129.5 43.9M131 46.9L136 44.1M136 44.1L135.1 45.5M136 44.1L134.4 44.1M136.2 46.9L140.9 44.4M140.9 44.4L140.1 45.8M140.9 44.4L139.3 44.3M141.5 46.9L145.8 44.7M145.8 44.7L145 46.1M145.8 44.7L144.2 44.6M146.7 46.9L150.8 45.1M150.8 45.1L149.9 46.4M150.8 45.1L149.3 44.9M152 46.9L155.8 45.6M155.8 45.6L154.9 46.7M155.8 45.6L154.4 45.3M5.2 52.1L6 51.8M10.5 52.1L11.2 51.8M15.7 52.1L16.5 51.8M21 52.1L21.7 51.8M26.2 52.1L26.9 51.8M31.4 52.1L32.2 51.8M36.7 52.1L37.4 51.8M41.9 52.1L42.7 51.8M47.2 52.1L47.9 51.8M52.4 52.1L53.1 51.8M57.6 52.1L61.2 49M61.2 49L60.7 50.5M61.2 49L59.6 49.3M62.9 52.1L66.8 49M66.8 49L66.3 50.5M66.8 49L65.2 49.2M68.1 52.1L72.5 48.9M72.5 48.9L71.9 50.4M72.5 48.9L70.9 49.1M73.4 52.1L78.1 48.9M78.1 48.9L77.5 50.3M78.1 48.9L76.5 49M78.6 52.1L83.8 48.9M83.8 48.9L83.1 50.3M83.8 48.9L82.2 48.9M83.8 52.1L89.4 48.8M89.4 48.8L88.7 50.2M89.4 48.8L87.8 48.8M89.1 52.1L95.1 48.8M95.1 48.8L94.3 50.2M95.1 48.8L93.5 48.7M94.3 52.1L100.8 48.7M100.8 48.7L100 50.1M100.8 48.7L99.2 48.6M99.6 52.1L106.1 48.7M106.1 48.7L105.2 50.1M106.1 48.7L104.5 48.6M104.8 52.1L110.8 48.8M110.8 48.8L110 50.2M110.8 48.8L109.2 48.7M110 52.1L115.6 48.9M115.6 48.9L114.8 50.3M115.6 48.9L114 48.9M115.3 52.1L120.4 49M120.4 49L119.6 50.4M120.4 49L118.8 49M120.5 52.1L125.2 49.2M125.2 49.2L124.5 50.6M125.2 49.2L123.6 49.2M125.8 52.1L130.1 49.3M130.1 49.3L129.4 50.8M130.1 49.3L128.5 49.4M131 52.1L135 49.6M135 49.6L134.3 51M135 49.6L133.4 49.6M136.2 52.1L140 49.9M140 49.9L139.3 51.2M140 49.9L138.5 49.8M141.5 52.1L145 50.2M145 50.2L144.3 51.4M145 50.2L143.6 50.2M146.7 52.1L150 50.7M150 50.7L149.3 51.7M150 50.7L148.8 50.5M152 52.1L155 51.3M155 51.3L154.2 52.1M155 51.3L153.9 51M5.2 57.3L6 57.1M10.5 57.3L11.2 57.1M15.7 57.3L16.5 57.1M21 57.3L21.7 57.1M26.2 57.3L26.9 57.1M31.4 57.3L32.2 57.1M36.7 57.3L37.4 57.1M41.9 57.3L44.9 54.2M44.9 54.2L44.6 55.7M44.9 54.2L43.5 54.6M47.2 57.3L50.7 54.2M50.7 54.2L50.2 55.7M50.7 54.2L49.1 54.4M52.4 57.3L56.5 54.1M56.5 54.1L55.9 55.6M56.5 54.1L54.9 54.3M57.6 57.3L62.3 54.1M62.3 54.1L61.6 55.5M62.3 54.1L60.7 54.2M62.9 57.3L68 54M68 54L67.3 55.5M68 54L66.4 54.1M68.1 57.3L73.6 54M73.6 54L72.9 55.4M73.6 54L72 54M73.4 57.3L79.3 54M79.3 54L78.5 55.4M79.3 54L77.7 53.9M78.6 57.3L84.9 53.9M84.9 53.9L84.1 55.3M84.9 53.9L83.3 53.9M83.8 57.3L90.6 53.9M90.6 53.9L89.7 55.3M90.6 53.9L89 53.8M89.1 57.3L95.5 53.9M95.5 53.9L94.6 55.3M95.5 53.9L93.9 53.8M94.3 57.3L100.3 54M100.3 54L99.5 55.4M100.3 54L98.7 53.9M99.6 57.3L105 54.1M105 54.1L104.2 55.5M105 54.1L103.4 54.1M104.8 57.3L109.7 54.1M109.7 54.1L109 55.6M109.7 54.1L108.1 54.2M110 57.3L114.5 54.2M114.5 54.2L113.9 55.7M114.5 54.2L112.9 54.3M115.3 57.3L119.3 54.4M119.3 54.4L118.7 55.8M119.3 54.4L117.7 54.5M120.5 57.3L124.2 54.5M124.2 54.5L123.6 56M124.2 54.5L122.6 54.7M125.8 57.3L129.1 54.7M129.1 54.7L128.5 56.1M129.1 54.7L127.6 54.9M131 57.3L134 54.9M134 54.9L133.5 56.2M134 54.9L132.7 55.1M136.2 57.3L139 55.2M139 55.2L138.5 56.3M139 55.2L137.8 55.3M141.5 57.3L144 55.7M144 55.7L143.5 56.6M144 55.7L142.9 55.7M146.7 57.3L149.2 56.1M149.2 56.1L148.6 56.9M149.2 56.1L148.2 56M152 57.3L154.4 56.6M154.4 56.6L153.8 57.2M154.4 56.6L153.6 56.4M5.2 62.5L6 62.3M10.5 62.5L11.2 62.3M15.7 62.5L16.5 62.3M21 62.5L21.7 62.3M26.2 62.5L26.9 62.3M31.4 62.5L34.4 59.4M34.4 59.4L34.1 60.8M34.4 59.4L33 59.8M36.7 62.5L40.3 59.3M40.3 59.3L39.8 60.9M40.3 59.3L38.7 59.6M41.9 62.5L46.1 59.3M46.1 59.3L45.5 60.8M46.1 59.3L44.5 59.5M47.2 62.5L51.9 59.3M51.9 59.3L51.2 60.7M51.9 59.3L50.3 59.4M52.4 62.5L57.7 59.2M57.7 59.2L56.9 60.6M57.7 59.2L56.1 59.2M57.6 62.5L63.5 59.2M63.5 59.2L62.7 60.6M63.5 59.2L61.9 59.1M62.9 62.5L69.2 59.1M69.2 59.1L68.4 60.5M69.2 59.1L67.6 59.1M68.1 62.5L74.8 59.1M74.8 59.1L74 60.5M74.8 59.1L73.2 59M73.4 62.5L79.7 59.1M79.7 59.1L78.9 60.5M79.7 59.1L78.1 59.1M78.6 62.5L84.6 59.2M84.6 59.2L83.8 60.6M84.6 59.2L83 59.1M83.8 62.5L89.4 59.2M89.4 59.2L88.6 60.6M89.4 59.2L87.8 59.2M89.1 62.5L94.3 59.3M94.3 59.3L93.5 60.7M94.3 59.3L92.7 59.3M94.3 62.5L99.1 59.3M99.1 59.3L98.4 60.7M99.1 59.3L97.5 59.4M99.6 62.5L103.8 59.4M103.8 59.4L103.2 60.8M103.8 59.4L102.2 59.5M104.8 62.5L108.6 59.4M108.6 59.4L108 60.9M108.6 59.4L107 59.7M110 62.5L113.4 59.5M113.4 59.5L112.9 61M113.4 59.5L111.8 59.8M115.3 62.5L118.2 59.6M118.2 59.6L117.8 61M118.2 59.6L116.8 60M120.5 62.5L123 59.8M123 59.8L122.8 61M123 59.8L121.8 60.1M125.8 62.5L127.9 59.9M127.9 59.9L127.7 61.1M127.9 59.9L126.8 60.3M131 62.5L132.9 60.2M132.9 60.2L132.7 61.2M132.9 60.2L131.9 60.5M136.2 62.5L138.3 60.5M138.3 60.5L138 61.4M138.3 60.5L137.3 60.7M141.5 62.5L143.5 60.9M143.5 60.9L143.2 61.7M143.5 60.9L142.6 61M146.7 62.5L148.7 61.4M148.7 61.4L148.3 62.1M148.7 61.4L147.9 61.3M152 62.5L154 61.8M154 61.8L153.5 62.4M154 61.8L153.2 61.6M5.2 67.7L6 67.5M10.5 67.7L11.2 67.5M15.7 67.7L16.5 67.5M21 67.7L23.9 64.6M23.9 64.6L23.6 66M23.9 64.6L22.5 65M26.2 67.7L29.8 64.5M29.8 64.5L29.3 66M29.8 64.5L28.2 64.8M31.4 67.7L35.6 64.5M35.6 64.5L35 66M35.6 64.5L34 64.7M36.7 67.7L41.4 64.4M41.4 64.4L40.8 65.9M41.4 64.4L39.8 64.5M41.9 67.7L47.3 64.4M47.3 64.4L46.5 65.8M47.3 64.4L45.7 64.4M47.2 67.7L53.1 64.4M53.1 64.4L52.3 65.8M53.1 64.4L51.5 64.3M52.4 67.7L58.9 64.3M58.9 64.3L58 65.7M58.9 64.3L57.3 64.2M57.6 67.7L64.1 64.3M64.1 64.3L63.3 65.7M64.1 64.3L62.5 64.2M62.9 67.7L68.8 64.4M68.8 64.4L68 65.8M68.8 64.4L67.2 64.3M68.1 67.7L73.6 64.4M73.6 64.4L72.9 65.8M73.6 64.4L72 64.4M73.4 67.7L78.5 64.4M78.5 64.4L77.7 65.9M78.5 64.4L76.9 64.5M78.6 67.7L83.3 64.5M83.3 64.5L82.6 65.9M83.3 64.5L81.7 64.6M83.8 67.7L88.1 64.5M88.1 64.5L87.5 66M88.1 64.5L86.5 64.7M89.1 67.7L93 64.5M93 64.5L92.4 66M93 64.5L91.4 64.8M94.3 67.7L97.8 64.6M97.8 64.6L97.3 66.1M97.8 64.6L96.3 64.9M99.6 67.7L102.6 64.6M102.6 64.6L102.2 66.1M102.6 64.6L101.1 65M104.8 67.7L107.3 64.7M107.3 64.7L107.1 66.1M107.3 64.7L106 65.1M110 67.7L112.1 64.8M112.1 64.8L112 66M112.1 64.8L110.9 65.3M115.3 67.7L116.9 64.9M116.9 64.9L116.9 66M116.9 64.9L115.9 65.4M120.5 67.7L121.8 65M121.8 65L121.9 66M121.8 65L120.9 65.6M125.8 67.7L127.2 65.1M127.2 65.1L127.2 66.1M127.2 65.1L126.3 65.6M131 67.7L132.6 65.2M132.6 65.2L132.5 66.2M132.6 65.2L131.6 65.7M136.2 67.7L137.8 65.7M137.8 65.7L137.7 66.6M137.8 65.7L137 66M141.5 67.7L143 66.1M143 66.1L142.9 66.9M143 66.1L142.3 66.3M146.7 67.7L148.3 66.6M152 67.7L153.5 67M5.2 72.9L6 72.7M10.5 72.9L13.3 69.8M13.3 69.8L13 71.2M13.3 69.8L11.9 70.2M15.7 72.9L19.2 69.7M19.2 69.7L18.7 71.3M19.2 69.7L17.6 70M21 72.9L25.1 69.7M25.1 69.7L24.5 71.2M25.1 69.7L23.5 69.9M26.2 72.9L31 69.6M31 69.6L30.3 71.1M31 69.6L29.4 69.7M31.4 72.9L36.9 69.6M36.9 69.6L36.1 71M36.9 69.6L35.3 69.6M36.7 72.9L42.7 69.6M42.7 69.6L41.9 71M42.7 69.6L41.1 69.5M41.9 72.9L48.5 69.5M48.5 69.5L47.7 70.9M48.5 69.5L46.9 69.4M47.2 72.9L53.5 69.6M53.5 69.6L52.7 70.9M53.5 69.6L51.9 69.5M52.4 72.9L58.2 69.6M58.2 69.6L57.4 71M58.2 69.6L56.6 69.6M57.6 72.9L62.8 69.6M62.8 69.6L62.1 71.1M62.8 69.6L61.2 69.7M62.9 72.9L67.5 69.7M67.5 69.7L66.9 71.1M67.5 69.7L65.9 69.8M68.1 72.9L72.3 69.7M72.3 69.7L71.7 71.2M72.3 69.7L70.7 69.9M73.4 72.9L77.1 69.7M77.1 69.7L76.6 71.2M77.1 69.7L75.5 70M78.6 72.9L81.9 69.8M81.9 69.8L81.5 71.3M81.9 69.8L80.4 70.1M83.8 72.9L86.8 69.8M86.8 69.8L86.4 71.2M86.8 69.8L85.3 70.2M89.1 72.9L91.6 69.8M91.6 69.8L91.4 71.2M91.6 69.8L90.3 70.3M94.3 72.9L96.4 69.9M96.4 69.9L96.4 71.2M96.4 69.9L95.3 70.4M99.6 72.9L101.3 69.9M101.3 69.9L101.3 71.1M101.3 69.9L100.2 70.5M104.8 72.9L106 69.9M106 69.9L106.1 71M106 69.9L105.1 70.6M110 72.9L110.8 70M110.8 70L111.1 71M110.8 70L110 70.7M115.3 72.9L116.1 70M116.1 70L116.4 71M116.1 70L115.4 70.7M120.5 72.9L121.5 70.1M121.5 70.1L121.7 71.1M121.5 70.1L120.7 70.7M125.8 72.9L126.8 70.1M126.8 70.1L127 71.1M126.8 70.1L126 70.7M131 72.9L132.1 70.4M132.1 70.4L132.2 71.4M132.1 70.4L131.3 71M136.2 72.9L137.4 70.9M137.4 70.9L137.4 71.7M137.4 70.9L136.7 71.3M141.5 72.9L142.6 71.3M146.7 72.9L147.8 71.8M152 72.9L153.1 72.2M5.2 78.1L8.5 74.9M8.5 74.9L8.1 76.5M8.5 74.9L7 75.3M10.5 78.1L14.5 74.9M14.5 74.9L13.9 76.4M14.5 74.9L12.9 75.1M15.7 78.1L20.4 74.9M20.4 74.9L19.7 76.3M20.4 74.9L18.8 75M21 78.1L26.3 74.8M26.3 74.8L25.6 76.2M26.3 74.8L24.7 74.8M26.2 78.1L32.2 74.8M32.2 74.8L31.4 76.2M32.2 74.8L30.6 74.7M31.4 78.1L38.1 74.7M38.1 74.7L37.3 76.1M38.1 74.7L36.5 74.6M36.7 78.1L42.9 74.8M42.9 74.8L42.1 76.1M42.9 74.8L41.3 74.7M41.9 78.1L47.6 74.8M47.6 74.8L46.8 76.2M47.6 74.8L46 74.8M47.2 78.1L52.2 74.8M52.2 74.8L51.5 76.3M52.2 74.8L50.6 74.9M52.4 78.1L56.9 74.9M56.9 74.9L56.2 76.3M56.9 74.9L55.3 75M57.6 78.1L61.5 74.9M61.5 74.9L61 76.4M61.5 74.9L59.9 75.1M62.9 78.1L66.2 74.9M66.2 74.9L65.8 76.5M66.2 74.9L64.6 75.3M68.1 78.1L70.9 75M70.9 75L70.6 76.4M70.9 75L69.5 75.4M73.4 78.1L75.7 75M75.7 75L75.6 76.4M75.7 75L74.4 75.5M78.6 78.1L80.5 75M80.5 75L80.5 76.3M80.5 75L79.4 75.6M83.8 78.1L85.3 75.1M85.3 75.1L85.4 76.2M85.3 75.1L84.3 75.7M89.1 78.1L90.1 75.1M90.1 75.1L90.4 76.2M90.1 75.1L89.3 75.8M94.3 78.1L95 75.1M95 75.1L95.3 76.1M95 75.1L94.2 75.9M99.6 78.1L99.9 75.1M99.9 75.1L100.4 76.1M99.9 75.1L99.3 76M104.8 78.1L105.2 75.1M105.2 75.1L105.6 76.1M105.2 75.1L104.6 76M110 78.1L110.5 75.1M110.5 75.1L110.9 76.1M110.5 75.1L109.8 76M115.3 78.1L115.8 75.2M115.8 75.2L116.2 76.1M115.8 75.2L115.1 75.9M120.5 78.1L121.1 75.2M121.1 75.2L121.5 76.2M121.1 75.2L120.4 75.9M125.8 78.1L126.4 75.2M126.4 75.2L126.8 76.2M126.4 75.2L125.7 75.9M131 78.1L131.7 75.6M131.7 75.6L131.9 76.5M131.7 75.6L131 76.2M136.2 78.1L136.9 76.1M136.9 76.1L137.1 76.8M136.9 76.1L136.3 76.6M141.5 78.1L142.2 76.5M146.7 78.1L147.4 77M152 78.1L152.6 77.4M5.2 83.3L9.8 80.1M9.8 80.1L9.1 81.5M9.8 80.1L8.2 80.2M10.5 83.3L15.7 80M15.7 80L15 81.5M15.7 80L14.1 80.1M15.7 83.3L21.6 80M21.6 80L20.8 81.4M21.6 80L20 79.9M21 83.3L27.6 80M27.6 80L26.7 81.3M27.6 80L26 79.8M26.2 83.3L32.4 80M32.4 80L31.6 81.4M32.4 80L30.8 79.9M31.4 83.3L36.9 80M36.9 80L36.2 81.4M36.9 80L35.3 80M36.7 83.3L41.6 80M41.6 80L40.9 81.5M41.6 80L40 80.1M41.9 83.3L46.2 80.1M46.2 80.1L45.6 81.6M46.2 80.1L44.6 80.2M47.2 83.3L50.8 80.1M50.8 80.1L50.4 81.6M50.8 80.1L49.3 80.4M52.4 83.3L55.5 80.1M55.5 80.1L55.1 81.7M55.5 80.1L54 80.5M57.6 83.3L60.1 80.2M60.1 80.2L60 81.6M60.1 80.2L58.8 80.7M62.9 83.3L64.8 80.2M64.8 80.2L64.8 81.5M64.8 80.2L63.6 80.8M68.1 83.3L69.4 80.3M69.4 80.3L69.6 81.4M69.4 80.3L68.5 80.9M73.4 83.3L74.2 80.3M74.2 80.3L74.5 81.3M74.2 80.3L73.4 81M78.6 83.3L79 80.3M79 80.3L79.4 81.3M79 80.3L78.3 81.1M83.8 83.3L83.9 80.3M83.9 80.3L84.5 81.2M83.9 80.3L83.4 81.2M89.1 83.3L89.2 80.3M89.2 80.3L89.7 81.2M89.2 80.3L88.6 81.2M94.3 83.3L94.4 80.3M94.4 80.3L94.9 81.2M94.4 80.3L93.9 81.2M99.6 83.3L99.7 80.3M99.7 80.3L100.2 81.2M99.7 80.3L99.1 81.2M104.8 83.3L104.9 80.3M104.9 80.3L105.4 81.2M104.9 80.3L104.4 81.2M110 83.3L110.2 80.3M110.2 80.3L110.7 81.3M110.2 80.3L109.6 81.2M115.3 83.3L115.5 80.3M115.5 80.3L115.9 81.3M115.5 80.3L114.9 81.2M120.5 83.3L120.7 80.3M120.7 80.3L121.2 81.3M120.7 80.3L120.1 81.2M125.8 83.3L126 80.4M126 80.4L126.5 81.3M126 80.4L125.4 81.2M131 83.3L131.2 80.8M131.2 80.8L131.6 81.6M131.2 80.8L130.7 81.5M136.2 83.3L136.5 81.3M136.5 81.3L136.8 81.9M136.5 81.3L136 81.9M141.5 83.3L141.7 81.7M146.7 83.3L146.9 82.2M152 83.3L152.2 82.6M5.2 88.5L11 85.2M11 85.2L10.2 86.6M11 85.2L9.4 85.2M10.5 88.5L17 85.2M17 85.2L16.1 86.5M17 85.2L15.4 85.1M15.7 88.5L22 85.2M22 85.2L21.2 86.5M22 85.2L20.4 85.1M21 88.5L26.6 85.2M26.6 85.2L25.8 86.6M26.6 85.2L25 85.2M26.2 88.5L31.1 85.3M31.1 85.3L30.4 86.7M31.1 85.3L29.5 85.3M31.4 88.5L35.6 85.3M35.6 85.3L35 86.8M35.6 85.3L34 85.5M36.7 88.5L40.2 85.3M40.2 85.3L39.7 86.9M40.2 85.3L38.6 85.6M41.9 88.5L44.8 85.4M44.8 85.4L44.5 86.8M44.8 85.4L43.4 85.8M47.2 88.5L49.4 85.4M49.4 85.4L49.3 86.7M49.4 85.4L48.2 85.9M52.4 88.5L54.1 85.4M54.1 85.4L54.1 86.7M54.1 85.4L53 86.1M57.6 88.5L58.7 85.5M58.7 85.5L58.9 86.6M58.7 85.5L57.8 86.2M62.9 88.5L63.3 85.5M63.3 85.5L63.7 86.5M63.3 85.5L62.6 86.3M68.1 88.5L68 85.5M68 85.5L68.6 86.4M68 85.5L67.5 86.4M73.4 88.5L73.3 85.5M73.3 85.5L73.8 86.4M73.3 85.5L72.8 86.4M78.6 88.5L78.5 85.5M78.5 85.5L79.1 86.4M78.5 85.5L78 86.4M83.8 88.5L83.7 85.5M83.7 85.5L84.3 86.4M83.7 85.5L83.2 86.4M89.1 88.5L89 85.5M89 85.5L89.5 86.4M89 85.5L88.5 86.4M94.3 88.5L94.2 85.5M94.2 85.5L94.8 86.4M94.2 85.5L93.7 86.4M99.6 88.5L99.4 85.5M99.4 85.5L100 86.4M99.4 85.5L98.9 86.5M104.8 88.5L104.7 85.5M104.7 85.5L105.2 86.4M104.7 85.5L104.2 86.5M110 88.5L109.9 85.5M109.9 85.5L110.5 86.4M109.9 85.5L109.4 86.5M115.3 88.5L115.1 85.5M115.1 85.5L115.7 86.4M115.1 85.5L114.6 86.5M120.5 88.5L120.3 85.5M120.3 85.5L120.9 86.4M120.3 85.5L119.8 86.5M125.8 88.5L125.5 85.6M125.5 85.6L126.1 86.4M125.5 85.6L125.1 86.5M131 88.5L130.8 86M130.8 86L131.3 86.7M130.8 86L130.4 86.8M136.2 88.5L136 86.5M136 86.5L136.5 87.1M136 86.5L135.7 87.1M141.5 88.5L141.3 86.9M146.7 88.5L146.5 87.4M152 88.5L151.7 87.8M5.2 93.7L11.7 90.4M11.7 90.4L10.8 91.7M11.7 90.4L10.1 90.3M10.5 93.7L16.2 90.4M16.2 90.4L15.4 91.8M16.2 90.4L14.6 90.4M15.7 93.7L20.7 90.5M20.7 90.5L20 91.9M20.7 90.5L19.1 90.5M21 93.7L25.2 90.5M25.2 90.5L24.6 92M25.2 90.5L23.6 90.7M26.2 93.7L29.7 90.5M29.7 90.5L29.3 92.1M29.7 90.5L28.2 90.8M31.4 93.7L34.3 90.6M34.3 90.6L34 92M34.3 90.6L32.8 91M36.7 93.7L38.8 90.6M38.8 90.6L38.7 91.9M38.8 90.6L37.6 91.2M41.9 93.7L43.4 90.6M43.4 90.6L43.5 91.8M43.4 90.6L42.4 91.3M47.2 93.7L48 90.7M48 90.7L48.3 91.7M48 90.7L47.2 91.5M52.4 93.7L52.6 90.7M52.6 90.7L53.1 91.7M52.6 90.7L52 91.6M57.6 93.7L57.4 90.7M57.4 90.7L58 91.6M57.4 90.7L56.9 91.7M62.9 93.7L62.6 90.7M62.6 90.7L63.3 91.6M62.6 90.7L62.2 91.7M68.1 93.7L67.9 90.7M67.9 90.7L68.5 91.6M67.9 90.7L67.4 91.7M73.4 93.7L73.1 90.7M73.1 90.7L73.7 91.6M73.1 90.7L72.6 91.7M78.6 93.7L78.3 90.7M78.3 90.7L78.9 91.6M78.3 90.7L77.9 91.7M83.8 93.7L83.5 90.7M83.5 90.7L84.2 91.6M83.5 90.7L83.1 91.7M89.1 93.7L88.8 90.8M88.8 90.8L89.4 91.6M88.8 90.8L88.3 91.7M94.3 93.7L94 90.8M94 90.8L94.6 91.6M94 90.8L93.5 91.7M99.6 93.7L99.2 90.8M99.2 90.8L99.8 91.6M99.2 90.8L98.8 91.7M104.8 93.7L104.4 90.8M104.4 90.8L105 91.6M104.4 90.8L104 91.7M110 93.7L109.6 90.8M109.6 90.8L110.3 91.6M109.6 90.8L109.2 91.7M115.3 93.7L114.8 90.8M114.8 90.8L115.5 91.6M114.8 90.8L114.4 91.8M120.5 93.7L119.9 90.8M119.9 90.8L120.6 91.6M119.9 90.8L119.6 91.8M125.8 93.7L125.1 90.8M125.1 90.8L125.8 91.6M125.1 90.8L124.8 91.8M131 93.7L130.3 91.2M130.3 91.2L131 91.9M130.3 91.2L130.1 92.1M136.2 93.7L135.6 91.7M135.6 91.7L136.1 92.2M135.6 91.7L135.4 92.4M141.5 93.7L140.8 92.1M146.7 93.7L146.1 92.6M152 93.7L151.3 93M5.2 98.9L10.3 95.7M10.3 95.7L9.6 97.1M10.3 95.7L8.7 95.7M10.5 98.9L14.8 95.7M14.8 95.7L14.2 97.2M14.8 95.7L13.2 95.9M15.7 98.9L19.3 95.7M19.3 95.7L18.9 97.3M19.3 95.7L17.8 96M21 98.9L23.8 95.8M23.8 95.8L23.5 97.2M23.8 95.8L22.4 96.2M26.2 98.9L28.3 95.8M28.3 95.8L28.3 97.1M28.3 95.8L27.1 96.4M31.4 98.9L32.8 95.9M32.8 95.9L33 97M32.8 95.9L31.9 96.5M36.7 98.9L37.3 95.9M37.3 95.9L37.7 96.9M37.3 95.9L36.6 96.7M41.9 98.9L41.9 95.9M41.9 95.9L42.4 96.8M41.9 95.9L41.3 96.9M47.2 98.9L46.8 96M46.8 96L47.5 96.8M46.8 96L46.4 96.9M52.4 98.9L52 96M52 96L52.7 96.8M52 96L51.6 96.9M57.6 98.9L57.3 96M57.3 96L57.9 96.8M57.3 96L56.8 96.9M62.9 98.9L62.5 96M62.5 96L63.1 96.8M62.5 96L62.1 96.9M68.1 98.9L67.7 96M67.7 96L68.4 96.8M67.7 96L67.3 96.9M73.4 98.9L72.9 96M72.9 96L73.6 96.8M72.9 96L72.5 96.9M78.6 98.9L78.1 96M78.1 96L78.8 96.8M78.1 96L77.7 97M83.8 98.9L83.3 96M83.3 96L84 96.8M83.3 96L83 97M89.1 98.9L88.5 96M88.5 96L89.2 96.8M88.5 96L88.2 97M94.3 98.9L93.7 96M93.7 96L94.4 96.8M93.7 96L93.4 97M99.6 98.9L98.9 96M98.9 96L99.6 96.8M98.9 96L98.6 97M104.8 98.9L104.1 96M104.1 96L104.8 96.8M104.1 96L103.8 97M110 98.9L109.3 96M109.3 96L110 96.8M109.3 96L109 97M115.3 98.9L114.4 96.1M114.4 96.1L115.2 96.8M114.4 96.1L114.2 97.1M120.5 98.9L119.6 96.1M119.6 96.1L120.4 96.8M119.6 96.1L119.4 97.1M125.8 98.9L124.7 96.1M124.7 96.1L125.5 96.8M124.7 96.1L124.5 97.2M131 98.9L129.9 96.5M129.9 96.5L130.7 97M129.9 96.5L129.8 97.4M136.2 98.9L135.1 96.9M135.1 96.9L135.8 97.3M135.1 96.9L135.1 97.7M141.5 98.9L140.4 97.4M146.7 98.9L145.6 97.8M152 98.9L150.9 98.3M5.2 104.1L8.9 100.9M8.9 100.9L8.4 102.5M8.9 100.9L7.4 101.2M10.5 104.1L13.4 101M13.4 101L13.1 102.5M13.4 101L12 101.4M15.7 104.1L17.9 101M17.9 101L17.8 102.4M17.9 101L16.7 101.6M21 104.1L22.4 101.1M22.4 101.1L22.5 102.3M22.4 101.1L21.4 101.7M26.2 104.1L26.9 101.1M26.9 101.1L27.2 102.2M26.9 101.1L26.1 101.9M31.4 104.1L31.4 101.2M31.4 101.2L31.9 102M31.4 101.2L30.9 102.1M36.7 104.1L36.2 101.2M36.2 101.2L36.9 102M36.2 101.2L35.8 102.1M41.9 104.1L41.5 101.2M41.5 101.2L42.1 102M41.5 101.2L41.1 102.2M47.2 104.1L46.7 101.2M46.7 101.2L47.4 102M46.7 101.2L46.3 102.2M52.4 104.1L51.9 101.2M51.9 101.2L52.6 102M51.9 101.2L51.5 102.2M57.6 104.1L57.1 101.2M57.1 101.2L57.8 102M57.1 101.2L56.7 102.2M62.9 104.1L62.3 101.2M62.3 101.2L63 102M62.3 101.2L62 102.2M68.1 104.1L67.5 101.2M67.5 101.2L68.2 102M67.5 101.2L67.2 102.2M73.4 104.1L72.7 101.2M72.7 101.2L73.5 102M72.7 101.2L72.4 102.2M78.6 104.1L77.9 101.2M77.9 101.2L78.7 102M77.9 101.2L77.6 102.2M83.8 104.1L83.1 101.2M83.1 101.2L83.9 102M83.1 101.2L82.8 102.2M89.1 104.1L88.3 101.2M88.3 101.2L89.1 102M88.3 101.2L88 102.2M94.3 104.1L93.5 101.3M93.5 101.3L94.3 102M93.5 101.3L93.2 102.3M99.6 104.1L98.7 101.3M98.7 101.3L99.5 102M98.7 101.3L98.4 102.3M104.8 104.1L103.9 101.3M103.9 101.3L104.7 102M103.9 101.3L103.6 102.3M110 104.1L109 101.3M109 101.3L109.8 102M109 101.3L108.8 102.4M115.3 104.1L114.2 101.4M114.2 101.4L115 102M114.2 101.4L114 102.4M120.5 104.1L119.3 101.4M119.3 101.4L120.1 102M119.3 101.4L119.2 102.5M125.8 104.1L124.4 101.5M124.4 101.5L125.3 102M124.4 101.5L124.3 102.5M131 104.1L129.4 101.7M129.4 101.7L130.4 102.1M129.4 101.7L129.5 102.7M136.2 104.1L134.7 102.1M134.7 102.1L135.5 102.4M134.7 102.1L134.8 103M141.5 104.1L139.9 102.6M139.9 102.6L140.7 102.8M139.9 102.6L140.1 103.3M146.7 104.1L145.2 103M152 104.1L150.4 103.5M5.2 109.4L7.5 106.2M7.5 106.2L7.4 107.6M7.5 106.2L6.3 106.8M10.5 109.4L12 106.3M12 106.3L12.1 107.5M12 106.3L11 106.9M15.7 109.4L16.5 106.3M16.5 106.3L16.8 107.4M16.5 106.3L15.7 107.1M21 109.4L21 106.4M21 106.4L21.5 107.3M21 106.4L20.4 107.3M26.2 109.4L25.7 106.4M25.7 106.4L26.4 107.2M25.7 106.4L25.3 107.4M31.4 109.4L30.9 106.4M30.9 106.4L31.6 107.2M30.9 106.4L30.5 107.4M36.7 109.4L36.1 106.4M36.1 106.4L36.8 107.2M36.1 106.4L35.8 107.4M41.9 109.4L41.3 106.4M41.3 106.4L42 107.2M41.3 106.4L41 107.4M47.2 109.4L46.6 106.4M46.6 106.4L47.3 107.2M46.6 106.4L46.2 107.4M52.4 109.4L51.8 106.4M51.8 106.4L52.5 107.2M51.8 106.4L51.4 107.4M57.6 109.4L57 106.4M57 106.4L57.7 107.2M57 106.4L56.6 107.4M62.9 109.4L62.2 106.4M62.2 106.4L62.9 107.2M62.2 106.4L61.9 107.4M68.1 109.4L67.4 106.4M67.4 106.4L68.1 107.2M67.4 106.4L67.1 107.5M73.4 109.4L72.6 106.5M72.6 106.5L73.3 107.2M72.6 106.5L72.3 107.5M78.6 109.4L77.8 106.5M77.8 106.5L78.5 107.2M77.8 106.5L77.5 107.5M83.8 109.4L83 106.5M83 106.5L83.7 107.2M83 106.5L82.7 107.5M89.1 109.4L88.1 106.5M88.1 106.5L88.9 107.2M88.1 106.5L87.9 107.5M94.3 109.4L93.3 106.5M93.3 106.5L94.1 107.2M93.3 106.5L93.1 107.6M99.6 109.4L98.5 106.6M98.5 106.6L99.3 107.2M98.5 106.6L98.3 107.6M104.8 109.4L103.6 106.6M103.6 106.6L104.5 107.2M103.6 106.6L103.5 107.6M110 109.4L108.8 106.6M108.8 106.6L109.6 107.2M108.8 106.6L108.7 107.7M115.3 109.4L113.9 106.7M113.9 106.7L114.8 107.2M113.9 106.7L113.8 107.7M120.5 109.4L119 106.8M119 106.8L119.9 107.3M119 106.8L119 107.8M125.8 109.4L124.1 106.9M124.1 106.9L125 107.3M124.1 106.9L124.1 107.9M131 109.4L129.1 107M129.1 107L130.1 107.4M129.1 107L129.3 108.1M136.2 109.4L134.2 107.3M134.2 107.3L135.2 107.6M134.2 107.3L134.5 108.3M141.5 109.4L139.5 107.8M139.5 107.8L140.4 107.9M139.5 107.8L139.8 108.6M146.7 109.4L144.7 108.2M144.7 108.2L145.5 108.2M144.7 108.2L145.1 108.9M152 109.4L150 108.7M150 108.7L150.7 108.5M150 108.7L150.4 109.2M5.2 114.6L4.7 111.6M4.7 111.6L5.4 112.4M4.7 111.6L4.3 112.6M10.5 114.6L9.9 111.6M9.9 111.6L10.6 112.4M9.9 111.6L9.6 112.6M15.7 114.6L15.1 111.6M15.1 111.6L15.8 112.4M15.1 111.6L14.8 112.6M21 114.6L20.4 111.6M20.4 111.6L21.1 112.4M20.4 111.6L20 112.6M26.2 114.6L25.6 111.6M25.6 111.6L26.3 112.4M25.6 111.6L25.2 112.6M31.4 114.6L30.8 111.6M30.8 111.6L31.5 112.4M30.8 111.6L30.5 112.6M36.7 114.6L36 111.6M36 111.6L36.7 112.4M36 111.6L35.7 112.6M41.9 114.6L41.2 111.6M41.2 111.6L42 112.4M41.2 111.6L40.9 112.6M47.2 114.6L46.4 111.7M46.4 111.7L47.2 112.4M46.4 111.7L46.1 112.7M52.4 114.6L51.6 111.7M51.6 111.7L52.4 112.4M51.6 111.7L51.3 112.7M57.6 114.6L56.8 111.7M56.8 111.7L57.6 112.4M56.8 111.7L56.6 112.7M62.9 114.6L62 111.7M62 111.7L62.8 112.4M62 111.7L61.8 112.7M68.1 114.6L67.2 111.7M67.2 111.7L68 112.4M67.2 111.7L67 112.7M73.4 114.6L72.4 111.7M72.4 111.7L73.2 112.4M72.4 111.7L72.2 112.7M78.6 114.6L77.6 111.7M77.6 111.7L78.4 112.4M77.6 111.7L77.4 112.8M83.8 114.6L82.8 111.8M82.8 111.8L83.6 112.4M82.8 111.8L82.6 112.8M89.1 114.6L88 111.8M88 111.8L88.8 112.4M88 111.8L87.8 112.8M94.3 114.6L93.1 111.8M93.1 111.8L94 112.4M93.1 111.8L93 112.9M99.6 114.6L98.3 111.9M98.3 111.9L99.2 112.4M98.3 111.9L98.2 112.9M104.8 114.6L103.4 111.9M103.4 111.9L104.3 112.4M103.4 111.9L103.4 112.9M110 114.6L108.6 112M108.6 112L109.5 112.5M108.6 112L108.5 113M115.3 114.6L113.7 112M113.7 112L114.6 112.5M113.7 112L113.7 113.1M120.5 114.6L118.8 112.1M118.8 112.1L119.7 112.5M118.8 112.1L118.9 113.2M125.8 114.6L123.8 112.3M123.8 112.3L124.8 112.6M123.8 112.3L124 113.3M131 114.6L128.9 112.4M128.9 112.4L129.9 112.7M128.9 112.4L129.1 113.4M136.2 114.6L133.9 112.6M133.9 112.6L135 112.8M133.9 112.6L134.3 113.6M141.5 114.6L139 113M139 113L140.1 113M139 113L139.5 113.9M146.7 114.6L144.3 113.4M144.3 113.4L145.2 113.3M144.3 113.4L144.8 114.2M152 114.6L149.5 113.9M149.5 113.9L150.4 113.6M149.5 113.9L150.1 114.5M5.2 119.8L4.6 116.8M4.6 116.8L5.3 117.6M4.6 116.8L4.3 117.8M10.5 119.8L9.8 116.8M9.8 116.8L10.5 117.6M9.8 116.8L9.5 117.8M15.7 119.8L15 116.8M15 116.8L15.8 117.6M15 116.8L14.7 117.8M21 119.8L20.3 116.9M20.3 116.9L21 117.6M20.3 116.9L19.9 117.9M26.2 119.8L25.5 116.9M25.5 116.9L26.2 117.6M25.5 116.9L25.2 117.9M31.4 119.8L30.7 116.9M30.7 116.9L31.4 117.6M30.7 116.9L30.4 117.9M36.7 119.8L35.9 116.9M35.9 116.9L36.6 117.6M35.9 116.9L35.6 117.9M41.9 119.8L41.1 116.9M41.1 116.9L41.9 117.6M41.1 116.9L40.8 117.9M47.2 119.8L46.3 116.9M46.3 116.9L47.1 117.6M46.3 116.9L46 117.9M52.4 119.8L51.5 116.9M51.5 116.9L52.3 117.6M51.5 116.9L51.3 117.9M57.6 119.8L56.7 116.9M56.7 116.9L57.5 117.6M56.7 116.9L56.5 117.9M62.9 119.8L61.9 116.9M61.9 116.9L62.7 117.6M61.9 116.9L61.7 118M68.1 119.8L67.1 117M67.1 117L67.9 117.6M67.1 117L66.9 118M73.4 119.8L72.3 117M72.3 117L73.1 117.6M72.3 117L72.1 118M78.6 119.8L77.5 117M77.5 117L78.3 117.6M77.5 117L77.3 118M83.8 119.8L82.6 117M82.6 117L83.5 117.6M82.6 117L82.5 118.1M89.1 119.8L87.8 117.1M87.8 117.1L88.7 117.6M87.8 117.1L87.7 118.1M94.3 119.8L92.9 117.1M92.9 117.1L93.8 117.7M92.9 117.1L92.9 118.2M99.6 119.8L98.1 117.2M98.1 117.2L99 117.7M98.1 117.2L98.1 118.2M104.8 119.8L103.2 117.2M103.2 117.2L104.2 117.7M103.2 117.2L103.2 118.3M110 119.8L108.4 117.3M108.4 117.3L109.3 117.7M108.4 117.3L108.4 118.3M115.3 119.8L113.5 117.4M113.5 117.4L114.4 117.8M113.5 117.4L113.6 118.4M120.5 119.8L118.6 117.5M118.6 117.5L119.6 117.8M118.6 117.5L118.7 118.5M125.8 119.8L123.7 117.6M123.7 117.6L124.7 117.9M123.7 117.6L123.9 118.7M131 119.8L128.7 117.8M128.7 117.8L129.8 118M128.7 117.8L129.1 118.8M136.2 119.8L133.8 118M133.8 118L134.8 118.1M133.8 118L134.2 119M141.5 119.8L138.8 118.3M138.8 118.3L139.9 118.3M138.8 118.3L139.4 119.2M146.7 119.8L143.9 118.7M143.9 118.7L145 118.5M143.9 118.7L144.6 119.5M152 119.8L149.1 119.1M149.1 119.1L150.1 118.8M149.1 119.1L149.8 119.8M5.2 125L4.5 122.1M4.5 122.1L5.3 122.8M4.5 122.1L4.2 123.1M10.5 125L9.7 122.1M9.7 122.1L10.5 122.8M9.7 122.1L9.4 123.1M15.7 125L14.9 122.1M14.9 122.1L15.7 122.8M14.9 122.1L14.6 123.1M21 125L20.2 122.1M20.2 122.1L20.9 122.8M20.2 122.1L19.9 123.1M26.2 125L25.4 122.1M25.4 122.1L26.1 122.8M25.4 122.1L25.1 123.1M31.4 125L30.6 122.1M30.6 122.1L31.3 122.8M30.6 122.1L30.3 123.1M36.7 125L35.8 122.1M35.8 122.1L36.6 122.8M35.8 122.1L35.5 123.1M41.9 125L41 122.1M41 122.1L41.8 122.8M41 122.1L40.7 123.2M47.2 125L46.2 122.1M46.2 122.1L47 122.8M46.2 122.1L46 123.2M52.4 125L51.4 122.2M51.4 122.2L52.2 122.8M51.4 122.2L51.2 123.2M57.6 125L56.6 122.2M56.6 122.2L57.4 122.8M56.6 122.2L56.4 123.2M62.9 125L61.8 122.2M61.8 122.2L62.6 122.8M61.8 122.2L61.6 123.2M68.1 125L66.9 122.2M66.9 122.2L67.8 122.8M66.9 122.2L66.8 123.3M73.4 125L72.1 122.2M72.1 122.2L73 122.8M72.1 122.2L72 123.3M78.6 125L77.3 122.3M77.3 122.3L78.2 122.8M77.3 122.3L77.2 123.3M83.8 125L82.5 122.3M82.5 122.3L83.4 122.9M82.5 122.3L82.4 123.4M89.1 125L87.6 122.3M87.6 122.3L88.5 122.9M87.6 122.3L87.6 123.4M94.3 125L92.8 122.4M92.8 122.4L93.7 122.9M92.8 122.4L92.8 123.4M99.6 125L97.9 122.5M97.9 122.5L98.9 122.9M97.9 122.5L98 123.5M104.8 125L103.1 122.5M103.1 122.5L104 122.9M103.1 122.5L103.1 123.6M110 125L108.2 122.6M108.2 122.6L109.2 123M108.2 122.6L108.3 123.7M115.3 125L113.3 122.7M113.3 122.7L114.3 123M113.3 122.7L113.5 123.8M120.5 125L118.4 122.8M118.4 122.8L119.4 123.1M118.4 122.8L118.7 123.9M125.8 125L123.5 123M123.5 123L124.5 123.2M123.5 123L123.8 124M131 125L128.6 123.2M128.6 123.2L129.6 123.3M128.6 123.2L129 124.2M136.2 125L133.7 123.4M133.7 123.4L134.7 123.4M133.7 123.4L134.2 124.3M141.5 125L138.8 123.7M138.8 123.7L139.8 123.6M138.8 123.7L139.4 124.6M146.7 125L143.9 124M143.9 124L144.9 123.8M143.9 124L144.6 124.8M152 125L149 124.4M149 124.4L150 124M149 124.4L149.8 125.1M5.2 130.2L4.4 127.3M4.4 127.3L5.2 128M4.4 127.3L4.1 128.3M10.5 130.2L9.6 127.3M9.6 127.3L10.4 128M9.6 127.3L9.4 128.3M15.7 130.2L14.8 127.3M14.8 127.3L15.6 128M14.8 127.3L14.6 128.3M21 130.2L20.1 127.3M20.1 127.3L20.8 128M20.1 127.3L19.8 128.3M26.2 130.2L25.3 127.3M25.3 127.3L26.1 128M25.3 127.3L25 128.4M31.4 130.2L30.5 127.3M30.5 127.3L31.3 128M30.5 127.3L30.2 128.4M36.7 130.2L35.7 127.4M35.7 127.4L36.5 128M35.7 127.4L35.5 128.4M41.9 130.2L40.9 127.4M40.9 127.4L41.7 128M40.9 127.4L40.7 128.4M47.2 130.2L46.1 127.4M46.1 127.4L46.9 128M46.1 127.4L45.9 128.4M52.4 130.2L51.3 127.4M51.3 127.4L52.1 128M51.3 127.4L51.1 128.4M57.6 130.2L56.5 127.4M56.5 127.4L57.3 128M56.5 127.4L56.3 128.5M62.9 130.2L61.6 127.5M61.6 127.5L62.5 128M61.6 127.5L61.5 128.5M68.1 130.2L66.8 127.5M66.8 127.5L67.7 128.1M66.8 127.5L66.7 128.5M73.4 130.2L72 127.5M72 127.5L72.9 128.1M72 127.5L71.9 128.6M78.6 130.2L77.2 127.5M77.2 127.5L78.1 128.1M77.2 127.5L77.1 128.6M83.8 130.2L82.3 127.6M82.3 127.6L83.3 128.1M82.3 127.6L82.3 128.6M89.1 130.2L87.5 127.6M87.5 127.6L88.4 128.1M87.5 127.6L87.5 128.7M94.3 130.2L92.6 127.7M92.6 127.7L93.6 128.1M92.6 127.7L92.7 128.7M99.6 130.2L97.8 127.8M97.8 127.8L98.8 128.2M97.8 127.8L97.9 128.8M104.8 130.2L102.9 127.8M102.9 127.8L103.9 128.2M102.9 127.8L103.1 128.9M110 130.2L108.1 127.9M108.1 127.9L109.1 128.3M108.1 127.9L108.2 129M115.3 130.2L113.2 128.1M113.2 128.1L114.2 128.3M113.2 128.1L113.4 129.1M120.5 130.2L118.3 128.2M118.3 128.2L119.3 128.4M118.3 128.2L118.6 129.2M125.8 130.2L123.4 128.3M123.4 128.3L124.4 128.5M123.4 128.3L123.8 129.3M131 130.2L128.5 128.5M128.5 128.5L129.5 128.6M128.5 128.5L128.9 129.5M136.2 130.2L133.6 128.8M133.6 128.8L134.6 128.7M133.6 128.8L134.1 129.7M141.5 130.2L138.7 129M138.7 129L139.8 128.9M138.7 129L139.3 129.9M146.7 130.2L143.8 129.3M143.8 129.3L144.9 129.1M143.8 129.3L144.6 130.1M152 130.2L149 129.6M149 129.6L150 129.3M149 129.6L149.8 130.3M5.2 135.4L4.3 132.5M4.3 132.5L5.1 133.2M4.3 132.5L4.1 133.6M10.5 135.4L9.5 132.5M9.5 132.5L10.3 133.2M9.5 132.5L9.3 133.6M15.7 135.4L14.7 132.6M14.7 132.6L15.6 133.2M14.7 132.6L14.5 133.6M21 135.4L20 132.6M20 132.6L20.8 133.2M20 132.6L19.7 133.6M26.2 135.4L25.2 132.6M25.2 132.6L26 133.2M25.2 132.6L25 133.6M31.4 135.4L30.4 132.6M30.4 132.6L31.2 133.2M30.4 132.6L30.2 133.6M36.7 135.4L35.6 132.6M35.6 132.6L36.4 133.2M35.6 132.6L35.4 133.6M41.9 135.4L40.8 132.6M40.8 132.6L41.6 133.2M40.8 132.6L40.6 133.7M47.2 135.4L46 132.6M46 132.6L46.8 133.3M46 132.6L45.8 133.7M52.4 135.4L51.1 132.7M51.1 132.7L52 133.3M51.1 132.7L51 133.7M57.6 135.4L56.3 132.7M56.3 132.7L57.2 133.3M56.3 132.7L56.2 133.7M62.9 135.4L61.5 132.7M61.5 132.7L62.4 133.3M61.5 132.7L61.4 133.8M68.1 135.4L66.7 132.8M66.7 132.8L67.6 133.3M66.7 132.8L66.6 133.8M73.4 135.4L71.9 132.8M71.9 132.8L72.8 133.3M71.9 132.8L71.8 133.8M78.6 135.4L77 132.8M77 132.8L78 133.3M77 132.8L77 133.9M83.8 135.4L82.2 132.9M82.2 132.9L83.2 133.3M82.2 132.9L82.2 133.9M89.1 135.4L87.4 132.9M87.4 132.9L88.3 133.4M87.4 132.9L87.4 134M94.3 135.4L92.5 133M92.5 133L93.5 133.4M92.5 133L92.6 134M99.6 135.4L97.7 133.1M97.7 133.1L98.7 133.4M97.7 133.1L97.8 134.1M104.8 135.4L102.8 133.2M102.8 133.2L103.8 133.5M102.8 133.2L103 134.2M110 135.4L107.9 133.3M107.9 133.3L108.9 133.5M107.9 133.3L108.2 134.3M115.3 135.4L113.1 133.4M113.1 133.4L114.1 133.6M113.1 133.4L113.4 134.4M120.5 135.4L118.2 133.5M118.2 133.5L119.2 133.7M118.2 133.5L118.5 134.5M125.8 135.4L123.3 133.7M123.3 133.7L124.3 133.8M123.3 133.7L123.7 134.6M131 135.4L128.4 133.9M128.4 133.9L129.5 133.9M128.4 133.9L128.9 134.8M136.2 135.4L133.5 134.1M133.5 134.1L134.6 134M133.5 134.1L134.1 135M141.5 135.4L138.7 134.3M138.7 134.3L139.7 134.1M138.7 134.3L139.3 135.2M146.7 135.4L143.8 134.6M143.8 134.6L144.8 134.3M143.8 134.6L144.6 135.4M152 135.4L149 134.9M149 134.9L150 134.5M149 134.9L149.8 135.6" stroke="#964c44" stroke-width="0.5" stroke-opacity="0.6" fill="none" stroke-linecap="round"/>
<use href="#geo"/>
<path d="M0 95.7 L14.5 89.6 L29.6 82.9 L44.6 76 L59.7 69.3 L74.8 63.2 L89.9 56.5 L100 53 L106.5 51.2" fill="none" stroke="#b25824" stroke-width="1.3" stroke-dasharray="4.2 2.4"/>
<path d="M134 44.5 L145 41 L157.2 37.5" fill="none" stroke="#b25824" stroke-width="1.3" stroke-dasharray="4.2 2.4"/>
<path d="M157.2 47.5 L145 49.5 L134 52.3" fill="none" stroke="#b25824" stroke-width="1.3"/>
<path d="M108 64.8 L99 67.8 L89.7 71.5 L80 77 L70.5 84.5 L62.5 92 L57.5 99 L55.4 106 L57 111.5 L61.5 115 L68 117.5 L76.1 119.3 L84 121.3 L92.3 123.5 L105 125.3 L116.7 126.2 L124.6 126.5 L131.8 127.3 L140 129.5 L147 131 L157.2 133" fill="none" stroke="#b25824" stroke-width="1.3"/>
<text x="108.5" y="55.5" font-size="10.4" fill="#b25824" textLength="25.3" lengthAdjust="spacingAndGlyphs" transform="rotate(-21 108.5 55.5)">5860</text>
<text x="108.5" y="69.5" font-size="10.4" fill="#b25824" textLength="25.3" lengthAdjust="spacingAndGlyphs" transform="rotate(-21 108.5 69.5)">5880</text>
</g>
<rect x="0" y="0" width="157.2" height="140.6" fill="none" stroke="#222" stroke-width="1"/>
<path d="M0 5.2 h3.5 M157.2 5.2 h-3.5 M0 31.2 h3.5 M157.2 31.2 h-3.5 M0 57.3 h3.5 M157.2 57.3 h-3.5 M0 83.3 h3.5 M157.2 83.3 h-3.5 M0 109.4 h3.5 M157.2 109.4 h-3.5 M0 135.4 h3.5 M157.2 135.4 h-3.5 M26.2 0 v3.5 M26.2 140.6 v-3.5 M78.6 0 v3.5 M78.6 140.6 v-3.5 M131 0 v3.5 M131 140.6 v-3.5" stroke="#111" stroke-width="1" fill="none"/>
<text x="4.1" y="12.4" font-size="10.2" fill="#111" textLength="68.2" lengthAdjust="spacingAndGlyphs">(e) Lowest 10</text><text x="78.0" y="12.4" font-size="10.2" fill="#111">δ</text><text x="84.5" y="9.1" font-size="7.6" fill="#111">18</text><text x="94.0" y="12.4" font-size="10.2" fill="#111">O</text>
</g>
<text x="260.2" y="171.3" font-size="10.2" text-anchor="end" fill="#111" textLength="24.7" lengthAdjust="spacingAndGlyphs">40°N</text>
<text x="260.2" y="197.3" font-size="10.2" text-anchor="end" fill="#111" textLength="24.7" lengthAdjust="spacingAndGlyphs">35°N</text>
<text x="260.2" y="223.4" font-size="10.2" text-anchor="end" fill="#111" textLength="24.7" lengthAdjust="spacingAndGlyphs">30°N</text>
<text x="260.2" y="249.4" font-size="10.2" text-anchor="end" fill="#111" textLength="24.7" lengthAdjust="spacingAndGlyphs">25°N</text>
<text x="260.2" y="275.5" font-size="10.2" text-anchor="end" fill="#111" textLength="24.7" lengthAdjust="spacingAndGlyphs">20°N</text>
<text x="260.2" y="301.5" font-size="10.2" text-anchor="end" fill="#111" textLength="24.7" lengthAdjust="spacingAndGlyphs">15°N</text>
<g transform="translate(491.7,162.4)"><g clip-path="url(#cp)">
<rect x="-2" y="-2" width="161.2" height="144.6" fill="#0b024c"/>
<path fill="#100268" d="M-1 -1 158.2 -1 158.2 141.6 -1 141.6 -1 -1Z"/>
<path fill="#140387" d="M-1 -1 158.2 -1 158.2 141.6 -1 141.6 -1 -1Z"/>
<path fill="#1903a6" d="M-1 -1 158.2 -1 158.2 141.6 -1 141.6 -1 -1Z"/>
<path fill="#1d04c2" d="M-1 -1 158.2 -1 158.2 141.6 -1 141.6 -1 -1ZM118.8 21.4 118.3 22 118.8 22.5 120.5 22 118.8 21.4Z"/>
<path fill="#2204e1" d="M-1 -1 158.2 -1 158.2 141.6 -1 141.6 -1 -1ZM117.3 18.7 115.8 20.2 115.3 22 115.6 23.5 116.6 24.9 118.8 25.4 120.2 25.1 122.5 23.5 123.5 22 123.2 20.6 120.2 19 118.8 18.6 117.3 18.7Z"/>
<path fill="#2706ff" d="M-1 -1 158.2 -1 158.2 141.6 -1 141.6 -1 -1ZM69.1 52.3 70.6 52.6 72.2 52.3 70.6 52 69.1 52.3ZM115.8 17.7 113.9 20.6 113.5 24.9 113 26.4 111.5 26.8 110.5 27.8 111.5 30.1 112.9 31 115.8 28 121.7 26.1 124.5 23.5 125.5 22 125.7 20.6 124.2 19.2 118.8 17 117.3 17 115.8 17.7Z"/>
<path fill="#492dff" d="M-1 -1 158.2 -1 158.2 141.6 -1 141.6 -1 -1ZM45.7 66.5 44.3 67.3 43.7 68.1 45.2 69.6 47.2 69.9 48.1 69.6 48.3 68.1 47.2 66.6 45.7 66.5ZM50.1 59.4 48 60.9 47.3 62.4 48.7 63.6 53 63.5 55.5 62.4 56.1 60.9 56 59 54.5 58.2 53 58.3 50.1 59.4ZM83.7 38.6 82.6 39.3 82.2 40.8 82.5 43.7 82.3 45.3 80.8 46.8 77.9 45.8 76.4 45.9 72 48.9 67.6 50.1 66.2 49.7 63.6 48 62.9 48 61.8 48.9 61.3 50.9 60.3 52.2 57.4 52.7 55.2 53.7 56 56.3 57.4 57.5 61.8 58 64.7 56.2 72 55.1 77.9 53.2 79.6 52.3 82.3 48.2 88.1 47.6 93.9 43.5 95.4 42 95.9 40.8 95.8 39.3 95.4 38.9 93.9 39.1 92.5 41.9 91 43 89.6 42.6 86.6 38.7 85.2 38.2 83.7 38.6ZM104.2 31.9 102.7 32.6 101.2 35 102.7 35.3 103.9 35 105.5 33.6 104.2 31.9ZM115.8 16 114.1 17.7 111.5 23 110 23.9 106.4 24.9 105.3 26.4 105.6 28.2 108.5 30.2 109.3 32.1 110 32.8 111.5 33.3 114.4 32.9 118.2 29.2 123.1 27.6 126.9 23.5 128 20.6 128.3 19.2 127.5 18.2 123.1 17.3 118.8 15.5 115.8 16Z"/>
<path fill="#6e58ff" d="M-1 -1 158.2 -1 158.2 141.6 -1 141.6 -1 -1ZM6.3 82.3 5.6 84 6.3 85 7.8 85.2 8.5 84 8.5 82.5 7.8 81.8 6.3 82.3ZM115.8 14.4 114.4 15 113.3 16.3 110 22.2 108.5 22.9 105.2 23.5 103.3 24.9 101.2 27.7 100.3 30.7 96.6 35 95.4 35.7 93.9 35.7 91 33.9 89.6 33.7 86.6 36 82.3 37.1 76.4 41.6 72.1 46.5 69.1 48.2 67.6 48.2 64.7 46.5 63.3 46.2 61.8 46.5 58.9 50.4 54.5 51.2 52.3 52.3 51.8 55.2 50.7 56.6 45.5 58.1 44.3 59.1 42.5 62.4 41.4 63.3 39.9 63.6 35.5 63.2 34.8 63.8 32.9 68.1 29.7 69.8 27.2 73.9 25.3 74.8 22.4 75 19.4 73.7 18 73.6 16.5 74.6 16.2 75.3 16.5 76.2 18.6 78.2 19.4 80.7 23.8 80.4 26.2 79.7 28.1 78.2 31.6 73.9 34.1 72 35.5 72.3 36.2 75.3 37 76.3 38.4 76.8 39.9 76.4 40.9 75.3 42.8 72 44.3 71.6 48.7 71.9 50.1 71.2 51 69.6 51.1 66.7 52.7 65.3 56 64.9 57.4 65.5 58.9 66.7 61.8 67.2 63.3 66.4 66.2 63.3 69.9 60.9 71.3 58.1 74.7 56.6 80.8 54.8 83.7 50.4 85.2 49.9 86.6 50.1 89.6 52 91 51.5 95.9 45.1 99.8 40.8 102.7 40.7 105.2 37.9 108.5 36 111.5 35.2 117.4 35 121.7 33.1 125.2 32.1 126.8 30.7 128.4 27.8 136.9 24.9 137.8 23.5 137.8 22 134.2 19.2 133.8 16.3 132.7 14.8 131.9 14.4 130.4 14.5 127.5 16 126.1 16.3 124.6 16.2 123.1 15.6 121.7 14.2 120.2 13.6 115.8 14.4ZM140.7 12.7 139.8 13.4 139.9 14.8 141.2 17.7 142.3 19.2 143.6 19.6 145.1 19.3 146.6 17.7 147.4 14.8 146.3 13.4 145.1 12.9 142.1 12.4 140.7 12.7ZM18 81.2 16.9 82.5 18 83.2 18.7 82.5 18 81.2ZM131.6 20.6 131.9 20.4 133.5 20.6 131.9 21.3 131.6 20.6Z"/>
<path fill="#9484ff" d="M-1 -1 158.2 -1 158.2 7.3 155.3 8.3 150.9 11.4 148 11.6 144.4 10.5 142.1 10.5 137.8 11.9 136.3 13 134.8 13.1 131.9 12.3 130.4 12.7 127.5 14.6 126.1 15 124.6 14.5 121.7 10.6 120.2 10.9 117.3 12.4 114.4 12.3 112.9 12.9 109.4 20.6 108.5 21.3 107.1 21.7 104.2 21.8 100.3 24.9 98.8 26.4 97.5 30.7 95.4 32.8 93.9 33 91 32 89.6 31.9 88.1 32.3 85.2 34.5 80.8 35.7 76 39.3 73.5 42.3 72 43.7 70.6 44.5 61.2 45.1 60.3 45.4 58.9 48.2 57.4 49.5 51.6 50 50.1 50.8 48.7 53.5 44.3 56 42.4 58.1 40.7 60.9 39.9 61.4 35.5 60.8 34.1 61.2 32.9 62.4 31.1 65.4 29.7 65.4 26.8 64.4 25.3 65 20.9 70.3 15.1 72.7 13.6 75.5 12.3 76.8 6.3 79.5 4 81.1 2.6 84 2.2 86.9 6.3 88.3 9.2 88.3 10.5 86.9 10.7 83.8 11.2 82.5 12.1 81.6 13.6 81.8 15.1 84 16.5 84.9 19.4 85.7 20.9 87.3 22.4 88 22.9 86.9 21.5 84 22.8 82.5 26.8 81.7 31.1 80.1 35.5 79.7 39.9 77.9 41.5 76.8 43.3 73.9 44.3 73.1 45.7 73 48.7 73.5 50.1 73.2 52.3 71 53.7 68.1 54.5 67.5 60.3 68.9 61.8 69 63.3 68.4 67.6 64.9 76.4 61.9 77.6 60.9 79.6 58.1 85 56.6 85 55.2 84.4 53.7 84.7 52.3 85.2 52 86.3 52.3 88.1 54.1 89.6 54.4 91 54.1 92.5 53 96.8 46.5 98.3 45.1 99.8 44.7 102.7 46 104.2 46.1 107 43.7 107.3 42.2 107.1 39.3 108.6 37.9 111.5 37 117.3 37.7 118.8 37.3 127.5 33.2 129.8 29.2 133.4 27.6 136.3 27.5 139.2 29.4 140.7 29.4 141.5 27.8 142.4 23.5 143.6 22.3 146.5 20.4 149.4 17.8 152.4 18.5 153.8 18.4 155.3 16.7 156.7 12.7 158.2 11.6 158.2 141.6 -1 141.6 -1 93.3 1.3 91.2 2.1 88.3 1.9 87.6 0.5 87.3 -1 87.6 -1 -1Z"/>
<path fill="#b6abff" d="M-1 -1 158.2 -1 158.2 4 153.8 6.7 150.9 9.3 149.4 10 148 9.9 145.1 8.5 143.6 8.3 136.3 10.2 130.4 9.9 129 10.7 128.5 12 127.5 12.8 126.1 13.3 125.2 12 125.9 10.5 128.8 9.1 127.5 7.5 126.1 7.2 117.3 8.1 112.9 9.5 111.5 11.1 110 14.8 107.3 19.2 104.2 19.9 102.7 20.7 99.8 23.5 97.4 24.9 95.4 28.2 93.9 29.2 93 27.8 92.5 26 91 24.9 89.6 25.3 89 26.4 88.8 29.2 80.8 33.1 72 41.3 70.6 41.7 67.6 41.2 63.3 43.5 58.9 42.9 57.5 43.7 57.4 47 56.9 48 56 48.3 53 48.3 50.1 47.7 48.3 48 46.9 49.4 43 55.2 38.4 59 32.6 59.2 29.7 61.8 25.3 63.1 18 69 16.5 69.7 13.6 70 12.2 71 11.5 73.9 9.4 75.3 3.4 77.2 0.5 76.4 0.1 76.8 0.6 78.2 0.4 81.1 -1 83.3 -1 -1ZM139.2 3.2 138.9 3.3 138.9 4.8 139.2 4.8 139.5 3.3 139.2 3.2ZM157.6 16.3 158.2 15.5 158.2 141.6 -1 141.6 -1 98.7 3.4 96.9 8.9 92.6 12.1 89.7 13.6 86.5 15.1 86 18 86.6 20.9 89.5 22.4 89.7 24.5 88.3 25.6 85.4 27.1 84 31.1 82.3 35.5 81.9 42.1 78.2 44.3 74.9 45.7 74.5 48.7 75.2 50.1 75 54.5 70.7 56 70 57.4 69.9 61.8 70.8 63.3 70.6 66.2 67.8 67.6 67 70.6 67.1 72 66.6 72.9 65.3 78.7 62.4 81.3 59.5 86.6 58.7 88.1 58.1 89.8 56.6 93.2 55.2 96.3 52.3 97.2 50.9 98.3 47.6 99.8 47.2 102.7 50.5 104.2 49.8 106.6 46.5 109.9 43.7 110.4 40.8 111.5 39.4 117.4 39.3 120.2 38.3 124.6 35.9 127.5 35.3 130.4 35.3 130.8 35 130.8 30.7 131.9 29.5 133.4 28.9 134.8 28.8 136.3 29.2 139.2 30.9 141.8 30.7 142.9 29.2 144.9 24.9 146 23.5 149.4 20.9 153.8 20.3 155.3 19.8 157.6 16.3Z"/>
<path fill="#dbd6ff" d="M-1 -1 122.6 -1 123.1 -0.2 124.6 -1 158.2 -1 158.2 1.1 156.7 1.8 153.8 4.6 151.5 4.8 150.2 3.3 149.4 3 148.9 3.3 148.6 4.8 149.9 6.2 149.4 7.7 148 7.7 146.5 6.6 143.6 5.7 140.9 1.9 139.2 1.5 134.8 3 132.2 3.3 130.7 4.8 129 5.4 123.1 5.6 118.8 4.5 114.4 4.6 110 8.1 109.5 9.1 109.5 12 109 13.4 105.6 17.1 102.7 18.6 99.8 21.7 98.3 22.5 95.4 22.2 89.1 23.5 88.1 24 86.6 27.8 85.2 28.7 80.8 28.8 76.8 30.7 77.4 33.6 76.8 35 72 39.1 70.6 39.3 67.6 37.8 66.2 38.1 63.3 41.4 61.8 41.6 57.4 40.8 56 41.1 55.3 42.2 55.2 45.1 54.5 46.4 53 46.6 48.7 45.7 46.7 46.5 45 48 42.6 53.7 39.9 56 37 56.6 34.1 56.3 31.1 57.1 28.2 59.9 25.3 61.2 22.4 63.4 20.9 64 18 63 16.5 63.5 15.1 66 14.2 66.7 9.9 68.1 7.8 69.6 4.8 68.7 3.4 69.1 0.5 72.2 -1 72.8 -1 -1ZM156.6 22 158.2 21.4 158.2 128.4 155.1 128.6 158.2 128.9 158.2 141.6 122.4 141.6 121.7 133.3 121.4 137.3 120 138.7 116.4 140.2 114.5 141.6 95.1 141.6 93.9 141 93.5 141.6 -1 141.6 -1 101.2 7.8 95.8 9.2 95.9 12.1 98.6 13.6 98.5 14.5 96.9 15.2 94.1 14.3 92.6 14.3 91.2 15.1 88.3 16.5 87.7 18 88.3 19.4 90.6 20.9 91 23.8 90.3 26.8 88.2 28.2 87.7 31.1 87.9 32.9 85.4 37 83.7 39.9 81.4 42.8 80.6 47.2 80.6 47.4 79.7 51.6 77.6 53.4 73.9 56 71.7 58.9 71.5 61 72.5 63.3 74.2 64.7 74.8 66.2 74.7 67 73.9 66.5 71 67.6 69.6 70.6 71 73.5 71.3 75.2 71 76.2 69.6 75.1 66.7 76.3 65.3 80.8 64.2 81.5 62.4 82.7 60.9 85.2 60.6 86.4 60.9 88.1 62.1 89.6 62.2 92.5 58.3 96.9 55.5 99.8 54.4 105.6 53.1 106.4 52.3 106.9 49.4 107.5 48 111.2 45.1 113.3 42.2 114.4 41.4 120.2 40 123.5 37.9 126.1 36.9 127.5 37.1 130.4 38.4 131.9 37.7 133.7 35 133.8 33.6 133.3 32.1 133.9 30.7 134.8 30.6 137.8 31.7 143.6 32.6 144.3 32.1 145.1 28.7 148 25 150.9 23.4 156.6 22ZM37 92.4 36.9 92.6 37 92.6 37 92.6 37 92.4ZM131.9 76.5 130.4 77.1 129.8 78.2 129.6 79.7 130.4 81.3 131.9 82 136.3 81.9 139.2 82.9 140.7 82.9 143.6 82 148 82.4 149.6 81.1 149.4 79 148 77.7 146.5 77.3 145.1 77.5 142.1 80.6 139.2 80.9 134.8 77.5 131.9 76.5ZM152.4 27.9 151.9 29.2 152.4 29.7 153.8 30 154.4 29.2 153.8 28.1 152.4 27.9ZM130.4 118.4 129 120 128.6 121.4 129.1 122.9 130.4 124.2 131.9 122 132.6 120 131.9 118.3 130.4 118.4Z"/>
<path fill="#fffdfd" d="M-1 -1 10.2 -1 10.7 0.8 12.1 1.1 13 0.4 13.7 -1 106.6 -1 107.1 0.6 110 1.2 110.8 0.4 110.8 -1 119.9 -1 119.6 0.4 118.3 1.9 115.8 2.3 111.5 2 110 4.5 108.5 5.4 105.6 5.6 104.2 3.3 102.6 3.3 102.2 4.8 104.2 6.2 107.1 11.4 107.1 12.3 106.1 13.4 103.8 14.8 102.7 15 99.8 13.8 96.9 14.5 95.4 16 92.6 20.6 91 21.6 89.6 21.7 88.2 20.6 86.6 15.3 85.2 14.9 83.7 15.3 83 16.3 83.1 17.7 83.7 21.2 85.5 24.9 85.2 26.1 83.7 26.3 82.3 25.5 80.8 25.3 79.3 25.8 76.4 28 66.2 29.7 64.6 30.7 63.6 36.5 61.8 38.8 60.3 39.2 54.5 38.1 53 38.3 51.5 39.3 51.6 43.1 44.3 44.7 40.5 42.2 35.5 41.2 34.5 42.2 34.4 43.7 35 45.1 41.4 48.6 41.9 49.4 42.2 50.9 42 52.3 40.9 53.7 39.9 54.3 38.4 54.1 35.8 50.9 34.1 50.7 32.6 53.7 29.7 55.6 26.8 58.5 25.3 58.6 24.6 58.1 24.5 56.6 25 55.2 27.1 53.7 27.5 52.3 26.8 51.2 25.3 52 23.8 54.2 22.4 55.3 20.9 58 20.7 59.5 19.4 60.4 16.5 60.8 15.1 61.4 13.3 63.8 12.1 64.7 10.7 64.7 6.1 63.8 4.8 64.6 0.2 69.6 -1 70.4 -1 -1ZM1.9 46.4 -0.6 48 1.9 50.1 3.4 49.7 3.9 48 3.4 46.4 1.9 46.4ZM12.1 26.3 10.7 28.2 10.3 29.2 10.7 29.8 12.1 29.9 12.8 29.2 13 27.8 12.1 26.3ZM16.5 47.6 16.3 48 16.5 48.4 16.8 48 16.5 47.6ZM20.9 11.8 21.2 13.4 22.6 13.4 22.6 12 20.9 11.8ZM29.7 24.6 28.5 26.4 28.5 27.8 29.7 28.5 31.1 28 31.7 26.4 31.1 24.5 29.7 24.6ZM38.4 18.7 38.2 19.2 38.4 20.8 39.9 22.3 41.4 22 41.8 20.6 41.3 19.2 39.9 18.4 38.4 18.7ZM47.2 25.2 46.4 26.4 47 27.8 48.7 29.7 50.1 29.7 50.6 29.2 50.1 26.4 48.7 25 47.2 25.2ZM73.5 17.4 72.6 17.7 73.5 19.8 74.9 21.1 76.2 20.6 75.9 19.2 74.9 17.9 73.5 17.4ZM89.6 11.3 89.1 12 89.6 12.5 91 12.6 92.3 12 91 11.1 89.6 11.3ZM1.9 54.8 0.9 56.6 1.5 58.1 3.4 60.3 4.2 59.5 4.1 56.6 3.4 55.1 1.9 54.8ZM31.1 37.8 30.6 37.9 29.3 39.3 31.1 39.7 32.8 39.3 31.8 37.9 31.1 37.8ZM39.9 30.4 38.4 30.8 37.1 32.1 36.5 33.6 37.4 35 41.7 35 42.3 33.6 41.4 31.6 39.9 30.4ZM132.6 -1 133.4 -1 151.9 -1 148 0.8 145.1 3.1 142.1 0.6 140.7 -0.1 134.8 1 133.6 0.4 132.6 -1ZM124.7 3.3 126.1 2.5 127.1 3.3 126.1 3.6 124.7 3.3ZM158 24.9 158.2 24.8 158.2 27.9 157.3 26.4 158 24.9ZM136.5 33.6 137.8 33.1 140.7 33.2 142.1 34.1 143.6 36.1 145.1 36.9 147 36.5 148.3 33.6 149.4 32.3 155.3 33.3 158.2 35 158.2 80.7 157.2 81.1 157 82.5 158.2 83.2 158.2 125.8 156.7 125.5 153.8 123.8 152.4 123.5 150.9 125.6 149.7 130.1 150.9 131.2 152.4 131.8 158.2 132.2 158.2 137.9 155.3 137.2 153.7 137.3 155.1 140.2 155.3 141.6 148.6 141.6 147.2 137.3 147.3 135.8 149.2 131.5 149.1 130.1 145 127.2 143.9 125.8 142.9 122.9 140.7 121.5 139.2 121.5 137.5 122.9 137.6 124.3 138.2 125.8 139.2 126.8 142.1 128.1 142.8 128.6 143.1 130.1 143 134.4 141.9 137.3 140.8 138.7 139.2 139.4 134.8 139.1 133.4 138.5 131.9 136.7 130.4 136.1 130 138.7 129 141.1 127.5 141.4 126.1 140.8 124.6 139.3 124 137.3 124.6 135.4 126.1 134.1 128.9 133 129.4 131.5 133.4 131.2 134.3 130.1 133.4 124.3 135.8 120 135.5 118.6 131.9 114.6 130.4 114.9 128.9 117.1 125.7 120 125 121.4 125.3 122.9 127.5 124.9 128.9 127.2 129.5 130.1 129 131.4 126.1 130.8 124.6 130 123.4 128.6 121.7 125.7 118.8 129.1 117.3 130 115.8 129.8 111.5 128 110 128.1 105.6 134.9 104.2 135.7 102.7 135.6 101.3 134.4 100.4 133 101.7 130.1 101.9 128.6 101.2 127.5 99.8 126.7 98.3 126.6 95.7 127.2 95 128.6 98.3 132.5 99.1 133 99.6 135.8 101.2 136.5 102.7 136.3 104.2 137.5 105.6 139.3 106.2 141.6 97.2 141.6 96.9 139.7 95.8 138.7 93.9 138.5 92.5 138.7 91 140.2 90.8 141.6 87.6 141.6 87.9 140.2 88.9 138.7 89.2 137.3 87.2 133 86.9 130.1 87.5 128.6 91 127.1 92.4 125.8 92.2 124.3 91 122.3 89.6 121.2 88.1 121 86.3 121.4 84.3 122.9 82.7 125.8 81.4 127.2 80.8 128.6 82.7 131.5 82.9 133 82.3 134.6 81.2 135.8 81.4 137.3 82.8 138.7 84 141.6 52.2 141.6 51.6 140.2 50.1 139.6 48.7 139.7 47.7 140.2 47.2 141.6 -1 141.6 -1 138.8 0.5 138.7 2.3 137.3 1.9 135.3 0.5 134.7 -1 134.6 -1 116.9 1 115.7 4.2 111.4 4.8 109.9 3.4 109.6 0.5 111 -1 111.2 -1 103 0.5 102.5 6.3 97.9 7.8 97.4 9.2 97.8 12.1 100.7 13.6 100.8 15.1 99.3 16.5 97 19.4 94.7 21.2 92.6 26.8 90.3 28.2 90.1 31.1 91 32.5 92.6 34.1 96 35.5 96.5 37 96.1 39.9 94.2 41.1 92.6 43 86.9 44.1 85.4 48.7 86.4 51.6 86.4 52.3 85.4 53 83.2 53.9 82.5 57.4 82.3 58.9 81.7 59.5 79.7 59.1 78.2 56 76.4 55.1 75.3 56 73.5 57.4 73 58.9 73.2 61.8 75.7 64.7 76.6 67.6 76.9 69.1 75.7 70.6 73.4 72 73 77.9 73.2 79.4 72.5 80.7 69.6 82.3 68 85.2 66.9 89.6 66.5 91.8 63.8 93 60.9 94.1 59.5 96.9 57.7 99.8 56.4 102.9 56.6 103.9 58.1 103.3 60.9 104.2 62 105.6 61.1 108.5 58.2 110.3 55.2 113.3 52.3 114.4 50.2 118.8 48 117.3 46.9 115.8 46.4 114.7 45.1 115 43.7 115.8 42.8 117.3 42.2 121.7 42 124.2 39.3 126.1 38.7 127.5 39.2 130.4 41.4 131.9 40.5 136.5 33.6ZM7.8 105.4 6 107 6.3 108.3 7.8 108 9.1 107 8.6 105.6 7.8 105.4ZM25.3 95.3 23.8 95.6 22.1 96.9 23.1 98.4 25.3 99.3 26.8 99.4 28.2 98.9 28.6 98.4 28.4 96.9 26.8 95.6 25.3 95.3ZM34.1 122.5 33.9 124.3 35.5 124.7 36.3 124.3 36.1 122.9 35.5 122.3 34.1 122.5ZM44.3 105.2 43 105.6 42.6 107 44.3 107 44.8 105.6 44.3 105.2ZM48.7 116.2 48 117.1 44 120 43 122.9 44.3 123.8 47.2 123.9 49.2 122.9 49.4 121.4 49.1 117.1 48.7 116.2ZM50.1 101.2 49.9 101.3 49.2 102.7 50.7 102.7 50.1 101.2ZM58.9 113 57.1 115.7 56.9 117.1 57.4 118.8 58.9 118.7 59.6 117.1 59.8 114.2 58.9 113ZM63.3 106.8 61.8 107.6 61.5 109.9 61.8 110.5 63.3 108.7 63.3 106.8ZM64.7 86 64 86.9 64.2 88.3 64.7 88.9 66.2 89.7 67.6 89.4 68.5 88.3 68.6 86.9 67.6 85.8 66.2 85.5 64.7 86ZM72 79.2 71.5 79.7 71.6 81.1 72 81.6 73.5 81.1 74.9 79.7 73.5 78.7 72 79.2ZM76.4 95 75.5 95.5 75 96.9 76.4 98 77.8 96.9 76.4 95ZM79.3 112.7 77.9 113.5 77.4 114.2 77.6 115.7 79.3 117.2 80.8 117.5 81.5 115.7 81.3 112.8 79.3 112.7ZM86.6 82.3 85.2 82.6 84 84 84.6 85.4 85.2 85.7 86.6 85.4 87.7 84 87.1 82.5 86.6 82.3ZM89.6 67.6 89.6 69.6 91 71 92.5 71.3 93.6 71 94.3 68.1 93.9 67.3 91 66.9 89.6 67.6ZM98.3 63.6 95.7 65.3 95.1 66.7 101.2 67.2 102.4 66.7 102.3 63.8 101.2 63 98.3 63.6ZM102.7 67.1 102.3 68.1 102.7 71.9 104.2 73.1 105.6 73.2 106 72.5 105.5 69.6 104.2 67.6 102.7 67.1ZM111.5 77.5 111 79.7 111.5 81.5 112.9 82.4 115.8 83.2 117.3 83.1 117.8 82.5 117.9 81.1 117.1 78.2 115.8 77.4 114.4 77.1 112.9 77 111.5 77.5ZM120.2 72.8 119 73.9 118.8 75.6 120.2 76.8 121.7 76.8 123.3 75.3 121.7 73.2 120.2 72.8ZM126.1 46.5 124.8 48 125.4 49.4 126.1 49.8 127.5 49.4 129 48 128.1 46.5 126.1 46.5ZM131.9 68.6 130.5 69.6 129.4 73.9 127.2 76.8 127 78.2 127.5 81.1 130.1 85.4 130 86.9 128.8 88.3 126.1 89.5 124.4 91.2 124 92.6 124.1 94.1 124.6 94.7 126.1 95.2 129 94.5 131.9 93.1 134.8 92.9 135.9 91.2 136.3 86.9 145.1 84.5 150.9 85.1 151.7 84 153.1 79.7 153 78.2 150.6 73.9 150.3 71 149.4 69.5 146.5 68.6 145.1 69 144.3 69.6 143.6 72.5 142.1 75.3 140.7 76.9 139.2 77.1 135.8 75.3 134.6 73.9 135 71 134 69.6 131.9 68.6ZM134.8 55.1 133.6 56.6 133.9 58.1 134.8 59.2 135.7 59.5 136.3 59.6 137.8 59 139.9 56.6 139.4 55.2 137.8 54.5 134.8 55.1ZM25.3 114.1 24.7 115.7 25.3 116.5 26.8 117.2 28.2 115.7 27.6 114.2 26.8 113.8 25.3 114.1ZM42.8 136.9 42.5 137.3 42.8 137.6 44.3 138.2 45.8 137.3 44.3 136.2 42.8 136.9ZM48.7 131.2 48.2 133 48.7 133.8 50.1 134.3 51.6 133.8 52 133 51.6 131 50.1 130.2 48.7 131.2ZM67.6 124.1 66.2 124.5 62 128.6 66.2 129.4 68.6 128.6 69.4 127.2 69.2 125.8 67.6 124.1ZM76.4 131.4 75 133 75.1 134.4 76.4 136.2 77.9 136.3 78.6 135.8 78.1 133 77.9 132.4 76.4 131.4ZM86.6 92.4 86.2 92.6 86 94.1 86.6 94.8 88.1 94.3 88.8 92.6 88.1 92.1 86.6 92.4ZM96.9 74.7 96.5 75.3 98.3 78.2 98.2 79.7 95.4 83.7 91.7 86.9 91.1 88.3 92 89.7 93.9 89.7 95.4 88.9 96.9 86.5 99.8 85.2 101.2 84 101.5 79.7 100.7 75.3 98.3 74.5 96.9 74.7ZM104.2 86.3 102.9 86.9 102.6 88.3 104.2 89.4 106.2 88.3 106.5 86.9 105.6 86.3 104.2 86.3ZM112.9 100.7 112.5 102.7 112.9 103.4 114.4 104 115.8 103.9 116.6 102.7 116.5 101.3 115.8 100.4 114.4 100 112.9 100.7ZM120.2 111 119.5 115.7 115.6 118.6 115.8 120.3 117.3 121.7 118.8 122.1 120.2 121.8 121.6 120 122.8 117.1 124.2 111.4 123.1 110.6 121.7 110.5 120.2 111ZM126.1 59.5 124.6 59.8 124.1 60.9 124.6 62.9 126.1 63.2 126.9 62.4 127 60.9 126.1 59.5ZM136.3 101 136 101.3 136.3 101.7 136.4 101.3 136.3 101ZM143.6 92.4 142.6 94.1 142.4 96.9 143.6 98.8 145.1 98.8 148 95 149.1 94.1 149.1 92.6 146.5 91.7 145.1 91.7 143.6 92.4ZM150.9 93.6 150.2 94.1 151.2 98.4 152.4 100.1 153.8 100.5 155.3 98.4 155.4 96.9 154.9 95.5 153.8 94.1 152.4 93.3 150.9 93.6ZM26.8 135.3 25.4 135.8 25 137.3 25.3 137.8 26.8 138.7 28.2 138 28.7 137.3 28.2 135.8 26.8 135.3ZM93.9 99.7 92.3 101.3 92.5 102.7 93.9 104.4 95.4 104.4 96.1 102.7 95.9 101.3 95.4 100.4 93.9 99.7ZM99.8 92.2 98.5 92.6 99.8 93.3 100.1 92.6 99.8 92.2ZM104.2 105.5 104.2 107 105.5 108.5 107.1 109.3 108.5 109.2 110 107 109.7 105.6 108.5 105.1 105.6 105 104.2 105.5ZM143.6 102.5 141.9 105.6 142.1 108.5 139.2 109.8 138.2 111.4 138.6 114.2 139.6 115.7 144.8 118.6 148 121.2 149.4 121.8 150.7 121.4 152.3 117.1 152.4 115.7 149.4 115.1 146.5 112.9 143.5 111.4 142.2 109.9 143.6 108.8 146.5 107.7 146.9 107 147.1 105.6 146.5 103.6 145.1 102 143.6 102.5ZM99.8 114.1 100 117.1 101.1 118.6 103.4 120 105.6 124.2 107 125.8 108.5 126.4 109.2 125.8 109.7 124.3 109.5 121.4 108.5 119.2 104.8 117.1 102.7 114 101.2 113.3 99.8 114.1ZM71 35 72 34.2 73.5 34.2 74 35 72 36.5 71 35ZM116.6 134.4 117.3 134.2 118.4 135.8 118.1 137.3 117.3 137.9 115.8 138.1 114.5 137.3 114.7 135.8 115.8 134.6 116.6 134.4Z"/>
<path fill="#fcdad8" d="M-1 -1 -0.9 -1 -1 0.6 -1 0.4 -1 -1ZM15.3 -1 24.8 -1 25.3 4.4 26.8 7.4 28.2 7.6 31.1 7 33.4 7.6 32.7 9.1 31 10.5 29.7 14.7 25.9 13.4 23.8 10.4 19 9.1 18 5.4 16.5 3.8 15.4 3.3 15.1 1.9 15.3 -1ZM27.8 -1 28.2 -1 35.9 -1 35.3 0.4 32.6 1.1 29.2 0.4 27.8 -1ZM41.9 -1 47.9 -1 48.7 -0 50.1 0.9 50.7 1.9 50.9 3.3 50.2 6.2 48.6 7.6 48.1 9.1 48.6 12 45.7 13.9 44.3 15.6 42.8 16.3 39.9 15.9 38.4 15.1 37.5 13.4 37.4 12 38.3 10.5 41.3 9.1 42.8 6.7 45.2 4.8 45.4 3.3 44.3 1.9 42.8 2.3 42 4.8 41.4 5.3 39.9 5.5 37.8 4.8 37.1 3.3 37.4 1.9 41.4 0.7 41.9 -1ZM60.3 -1 73.8 -1 74.7 0.4 79.3 1.7 80.8 3.6 82.3 3.8 87.3 0.4 88.3 -1 94.1 -1 94.7 1.9 94.5 3.3 93.7 4.8 92.5 6.5 91 7.5 89.6 7.7 85.2 6 84.7 6.2 83.8 7.6 82.9 10.5 82.3 11 80.8 11 79.3 9.9 77.9 7.1 76.4 6.2 74.9 6.5 73.9 7.6 74.1 12 73.5 13 72 13.7 67.4 14.8 66.3 16.3 67 17.7 76.2 24.9 74.9 26.5 69.1 27.8 66.2 27.9 64.2 26.4 61.8 21.2 60.3 19.7 58.9 19 52.9 17.7 53.1 16.3 57.4 13 58.9 12.6 63.3 13.1 64.7 11.6 66.9 7.6 71 4.8 71.5 3.3 71.2 1.9 67.6 -0.9 66.2 -0.4 63.9 4.8 63.3 5.6 60.3 7.1 58.9 7.5 57.4 7.4 56.7 6.2 56.6 4.8 57.1 1.9 60.3 -1ZM101 -1 101.2 -1 101.4 -1 101.2 -0.9 101 -1ZM114.2 -1 114.4 -1 117.8 -1 117.3 -0.1 115.8 0.2 114.2 -1ZM0.1 1.9 1.9 1.3 4.8 1.9 6.4 6.2 7.3 7.6 9.2 9.2 11 13.4 12.1 13.9 13.6 13.8 15.1 13.1 16.5 11.4 17.9 12 18 13.4 17.6 14.8 16.5 15.8 15.1 19.4 13.6 21.1 12.1 21.2 10.7 19.9 9.2 15.2 7.8 14.7 6.3 13.4 5.9 10.5 4.8 9.2 2.2 7.6 0.1 1.9ZM-1 10.5 -1 9.2 0.5 9.4 1.5 10.5 1.6 13.4 0.5 14.5 -1 14.6 -1 10.5ZM2.3 16.3 3.4 15 4.8 15.2 5.5 16.3 4.5 17.7 3.4 18.3 2.6 17.7 2.3 16.3ZM18.9 16.3 20.9 15.6 23.1 16.3 25.3 19.2 27.5 20.6 27.8 22 26.8 23.8 23.2 26.4 22.9 27.8 23.7 30.7 26.5 35 25.6 37.9 23.2 40.8 23 42.2 23.3 43.7 25.3 46.5 25.8 48 25 49.4 20.9 54 19 58.1 18 58.9 16.5 59.2 15.1 58.9 14.2 58.1 14 56.6 15.1 53.5 16.1 52.3 18.4 50.9 19.5 49.4 19.8 48 19.5 46.5 17.3 43.7 16.7 42.2 17.4 39.3 19.4 36.9 19.4 34.8 18 33.3 16.5 33.7 15.1 37.1 10.7 39.2 9.2 41.2 7.8 41.8 6.4 39.3 5.6 36.5 4.8 35.6 3.1 35 3.4 33.6 6.3 35.3 7.8 34.9 10.7 32.3 13.6 31.4 14.5 30.7 15.1 23.8 16.5 22.3 18 21.6 18.7 20.6 18.9 16.3ZM30.2 16.3 31.1 15.3 32.6 16.7 35.5 20.1 37.9 23.5 40.7 24.9 42.4 26.4 43 27.8 42.8 28.3 41.4 27.6 39.9 27.7 35.5 29.5 34.9 29.2 33.7 23.5 32.6 21.5 30.3 19.2 30.2 16.3ZM79.3 17.7 80.8 17.8 82 20.6 81.9 22 80.8 22.9 79.3 22.6 78.9 22 78.7 19.2 79.3 17.7ZM89.6 17.7 91 17 91.4 17.7 91 19.2 89.6 17.7ZM44.3 19.2 45.7 17.8 50.1 18.4 51.6 19 52.7 22 54.5 22.9 56 24.1 56.5 24.9 56.4 26.4 54.5 28 53 27.5 51.1 23.5 50.1 22.9 45.7 22.8 44.5 22 44.3 19.2ZM-1 20.6 -1 20.1 0.7 20.6 1.1 22 0.5 23.5 -1 23.6 -1 20.6ZM4.8 23.5 7.8 23 9.4 23.5 9.8 24.9 9.4 26.4 7.8 28.6 6.3 29.1 4.8 29 2.9 27.8 2.1 26.4 1.9 24.9 3.4 23.8 4.8 23.5ZM43.2 29.2 44.3 28.5 45.9 30.7 45.7 31.4 44.3 31.3 43.2 29.2ZM30.8 32.1 32.5 32.1 32.6 33.6 31.1 35 29.1 35 28.5 33.6 30.8 32.1ZM52.4 32.1 54.5 32.2 56.3 33.6 56.8 35 54.5 36.1 48.7 37 47.8 35 48.3 33.6 52.4 32.1ZM137.5 35 139.2 34.3 140.7 34.7 142.4 37.9 146.5 39.7 148 42.6 151.1 45.1 152 46.5 152.8 49.4 153.8 50.7 156.7 50.5 158.2 49.8 158.2 52.6 155.3 53.6 153.8 53.4 152.4 51.5 147.6 50.9 146.5 50.1 145.1 45.9 143.6 45.3 140.7 45 139.8 46.5 139.2 49.9 133.4 53.3 131.9 54.6 131 56.6 131.4 58.1 134.8 61.5 136.3 61.9 137.8 61.5 142.1 58.7 143.6 58.3 145.1 58.4 146 59.5 146.7 62.4 148 63.3 152.4 62.5 158.2 60.3 158.2 62.7 156.7 62.9 155.8 63.8 155.4 65.3 156.7 71.1 158.2 72.3 158.2 75.2 153.8 72.7 150.9 68.4 148.5 66.7 147 65.3 146.5 64.2 145.1 63.9 142.1 64.4 140.7 64.9 137.8 67.1 136.3 67.5 134.8 67.3 130.3 65.3 129.5 63.8 129.2 59.5 127.7 55.2 128.4 53.7 129.8 52.3 131.9 50.9 136.3 49.5 137.1 48 136.7 46.5 134.8 45 133.9 43.7 133.7 42.2 134.8 39.4 137.5 35ZM150.8 36.5 152.4 35.1 153.9 36.5 153.2 37.9 152.4 38.1 150.8 36.5ZM37.6 37.9 39.9 37.5 41.2 37.9 42.1 39.3 41.4 39.9 39.9 40 38.4 39.7 37.5 39.3 37.6 37.9ZM31 42.2 32.3 43.7 31.1 45.2 29.7 44.5 29.3 43.7 29.7 42.9 31 42.2ZM9.2 45.1 10.7 45 12.1 45.5 13 46.5 13.1 48 12.6 49.4 9.9 52.3 9.7 55.2 10.4 59.5 9.2 60.6 7.8 59.8 7 58.1 6 52.3 7.4 46.5 7.8 45.9 9.2 45.1ZM117 52.3 118.8 52 119.4 52.3 118.8 53.1 117.3 53.6 117 52.3ZM143.3 53.7 143.6 52.4 144.4 53.7 143.6 54.1 143.3 53.7ZM-1 60.9 -1 60 0.3 60.9 0.7 62.4 0.2 63.8 -1 64.5 -1 60.9ZM96.1 60.9 96.9 60.5 98.3 60.6 98.4 60.9 96.9 61.4 96.1 60.9ZM110.2 65.3 111.5 64.3 112.9 63.9 114.4 64.1 115.2 65.3 115.1 66.7 114.5 68.1 111.5 71.5 110 71.5 108.5 71 107.9 69.6 108 68.1 110.2 65.3ZM123.9 66.7 126.1 65.9 127.5 66 128.5 66.7 128.4 71 127.5 72.8 126.1 73.5 124.6 72.9 122.9 71 122.5 69.6 122.8 68.1 123.9 66.7ZM83.5 69.6 85.2 68.9 86.6 69.3 87.3 71 86.6 71.9 83.7 71.3 83.4 71 83.5 69.6ZM96.6 69.6 98.3 68.7 99.8 69 100.3 69.6 100.6 71 99.8 72.3 98.3 72.4 96.4 71 96.6 69.6ZM87.7 73.9 88.1 72.6 89.6 72.6 92.5 73.9 95.7 78.2 95.9 79.7 95.4 80.7 93.9 82.3 92.5 83.1 91 82.9 91.2 79.7 89.6 78.8 85.2 81.1 83.1 82.5 80.8 85.8 76.3 86.9 75.4 88.3 75.2 91.2 73.4 94.1 73 98.4 73.5 99.4 77.9 100.5 80.5 102.7 84 104.1 84.5 105.6 82.3 108.5 80.8 109.4 79.3 109.8 77.9 109.6 76.4 106.1 74.9 106.1 72 108 70 109.9 69.9 111.4 74 112.8 74.9 114.2 75.2 117.1 78.5 120 79.1 121.4 79.1 122.9 75.1 127.2 73.5 127.9 72.7 127.2 71.9 125.8 71.9 124.3 74.6 121.4 74.8 118.6 73.5 117.9 70.6 117.9 69.1 118.4 66.8 121.4 61.8 125 60.3 125 58.4 124.3 58.1 122.9 61.6 120 63.3 115.6 64.7 115.2 66.2 115.5 66.8 114.2 65.2 111.4 64.9 105.6 63.3 103.8 61.6 104.1 59.6 108.5 57.3 111.4 54.5 116.1 53 116.7 50.1 112.8 48.7 111.8 47.2 112.8 45.7 115.7 42.8 118.1 41.4 120.3 39.9 121.4 38.4 120.8 37.2 118.6 37.5 117.1 39.9 114.2 41.5 111.4 42.8 110.5 45.7 109.4 48.7 106 53 106.2 56 103.3 58.9 101.7 60.3 98.7 63.3 98.7 64.7 99.3 67.6 101.5 70.6 101.7 71.5 101.3 71.2 99.8 69.1 98.6 64.8 94.1 64.1 92.6 69.1 90.6 69.9 89.7 70.9 86.9 77.9 79.7 79.3 77.4 80.8 76.6 85.2 77 86.6 76.7 87.5 75.3 87.7 73.9ZM62.6 78.2 64.9 78.2 67.6 79.6 68.3 81.1 68.1 82.5 66.2 83.3 63.3 82.4 62 81.1 61.7 79.7 62.6 78.2ZM106.1 78.2 107.3 78.2 108.5 79.7 107.6 81.1 105.6 82.9 104.2 83.3 103.7 82.5 104.2 80.5 105.6 78.3 106.1 78.2ZM123 84 123.1 83.7 124.6 85.5 123.1 87.9 121.7 91.8 120.2 93.4 117.3 93.7 114.4 95.9 112.9 95.9 110 92.6 108.5 92.8 104.2 95.7 102.7 95.9 102.5 94.1 102.9 92.6 104.2 91.7 108.5 90.8 111.5 91.8 112.9 91.4 114.4 89.8 114.9 88.3 115.8 87.2 120.2 86 123 84ZM143.5 86.9 146.2 86.9 147.3 88.3 142.1 90.2 140.5 91.2 140.1 89.7 140.7 88.8 143.5 86.9ZM85 88.3 86.6 88.1 87.1 88.3 86.6 88.7 85.2 88.8 85 88.3ZM98 88.3 98.3 87.8 99.8 87.5 100.2 88.3 99.8 89.1 98.3 89.1 98 88.3ZM157.2 88.3 158.2 87.6 158.2 96.4 156.3 92.6 156.4 89.7 157.2 88.3ZM50.6 91.2 51.6 90.3 53 89.8 56 90.2 57.1 91.2 57.7 92.6 58.2 95.5 57.4 96.6 54.5 96.6 53.1 96.9 50.1 98.8 46.2 99.8 43.3 102.7 38.2 105.6 37.8 107 38.3 109.9 38.2 111.4 37.4 112.8 34.2 115.7 31.1 119.5 29.7 120.2 29.2 120 30.5 117.1 30.7 115.7 30.3 112.8 29.7 112.2 25.3 112.3 23.8 112.9 22.8 114.2 22.8 115.7 23.5 117.1 25.3 119.2 26.6 120 27.5 121.4 24.6 124.3 29.1 130.1 29.4 131.5 28.2 132.2 23.6 133 22.6 134.4 22.4 138.6 20.9 139.2 19.4 138.7 17.1 137.3 15.1 134.3 13.6 133.1 12.1 133.1 10.8 134.4 9.2 138.4 7.8 139 6.3 138.7 5 137.3 5.9 133 4.8 131.5 0.8 130.1 0.7 128.6 -1 127.9 -1 118.8 0.5 118.4 3.4 115.7 4.8 114.9 6.3 115 7.8 115.9 11.7 114.2 12.4 112.8 12.1 112.2 10.7 112.1 9.2 112.6 8.1 111.4 11 108.5 11.4 107 11.4 104.1 15.1 102.4 18 98.6 19.4 98.9 21.7 101.3 21 102.7 19.1 104.1 18 105.6 18.3 107 20.9 108.4 26.8 107.5 29.7 107.5 31.1 106.6 33.3 104.1 34.5 101.3 35.6 99.8 39.9 97.3 43.2 96.9 44.3 96.2 45.7 94.2 48.7 93.5 49.8 92.6 50.6 91.2ZM4.8 121.1 3.4 122 2.9 122.9 2.7 124.3 3.4 125.7 6.3 125.7 9.1 124.3 6.9 121.4 6.3 121 4.8 121.1ZM12.1 125.2 11.8 125.8 13.5 127.2 15.1 129.6 16.5 130.3 18 129.5 18.3 128.6 18 126.3 16.5 124.6 13.6 124.5 12.1 125.2ZM16.5 118.4 16.1 121.4 16.5 123.7 18 123.8 19.7 122.9 19.6 120 18.9 118.6 18 117.9 16.5 118.4ZM79 92.6 80.8 92.1 82.3 93 83.1 96.9 82.3 98.1 80.8 98.1 79.1 94.1 79 92.6ZM92 92.6 93.9 91.5 95.4 91.7 97 95.5 98.3 96.4 101.2 96.4 102.3 96.9 102.9 99.8 102.3 101.3 99.8 102.2 96.9 97.8 95.4 97 92.5 96.6 91.3 95.5 92 92.6ZM127.8 98.4 129 97.4 130.4 97 131.9 97.5 132.5 98.4 132.6 99.8 131.9 102.1 129 104.1 128.1 105.6 126.1 107 124.6 107.1 123.1 106.5 121.2 104.1 120.6 102.7 120.9 101.3 121.7 100.6 123.1 101.1 125 102.7 126.1 103.1 127.5 102.9 128.1 101.3 127.8 98.4ZM5.4 99.8 7.8 98.7 9.2 99.3 10.6 101.3 11.1 102.7 10.7 103.3 6.3 104.2 2.7 107 -1 108.5 -1 105.2 0.5 104.7 1.9 103.6 5.4 99.8ZM105.6 99.8 107.1 99.5 108.5 99.7 109.3 101.3 108.5 102.3 107.1 102.6 104.4 101.3 105.6 99.8ZM87.6 104.1 88.1 103.7 89.6 104 91 105.2 93.6 108.5 96.2 112.8 96.9 114.2 97.8 120 99.4 122.9 98.3 123.6 96.9 124.2 95.4 124.1 93.9 123 91.7 120 91.3 118.6 92.3 115.7 92.3 114.2 91.3 112.8 88.6 111.4 88.1 110.4 87.2 105.6 87.6 104.1ZM150.9 108.5 152.4 107.7 153.8 107.8 155.3 108.5 156.7 110.9 158.2 112.2 158.2 115 155.3 113.1 152.4 112.3 151 111.4 150.6 109.9 150.9 108.5ZM106.8 112.8 108.5 112.5 109.2 112.8 110.1 114.2 109.7 115.7 108.5 116.1 107.1 115.4 106.4 114.2 106.8 112.8ZM85.1 114.2 86.6 115.1 86.6 117.3 85.2 117.6 84.8 117.1 84.4 115.7 85.1 114.2ZM115.4 114.2 115.8 113 117.3 113.5 117.5 114.2 117.3 114.6 115.8 114.8 115.4 114.2ZM125.6 114.2 126.1 113.7 127.5 113.8 127.9 114.2 127.7 115.7 126.1 116.6 125.4 115.7 125.6 114.2ZM111.8 120 112.9 119.1 114 121.4 117.4 124.3 117.3 126.1 115.8 126.5 114.4 125.9 112.9 124.5 111.8 120ZM41 127.2 42.8 126.2 44.3 126.1 45.7 126.2 48 127.2 48.1 128.6 45.7 133.8 44.3 134.3 42.8 134.1 41.4 133 40.4 128.6 41 127.2ZM-1 131.5 -1 130.9 0.2 131.5 -1 131.8 -1 131.5ZM65.7 131.5 70.6 130.8 71.4 131.5 71.6 133 70.6 134.8 69.1 135 63.3 134.4 62.4 135.8 61.9 138.7 66 141.6 61.8 141.6 61.8 140.2 60.8 138.7 58.9 138.2 57.4 137.2 55.6 134.4 55.2 133 56 131.7 57.4 131.7 61.7 133 63.3 134 63.3 133 65.7 131.5ZM90.1 131.5 91 130.6 92.5 130.7 93.9 131.5 95.4 133.1 95.8 134.4 95.4 135.8 93.9 136.3 92.4 135.8 91 134.5 90.2 133 90.1 131.5ZM135.9 134.4 137.8 134 138.6 134.4 139.2 135.8 138.4 137.3 136.3 137.7 134.9 137.3 134.5 135.8 135.9 134.4ZM125.9 137.3 126.1 136.9 127.6 137.3 126.1 137.6 125.9 137.3ZM99.6 140.2 101.2 139.9 102.1 140.2 103.1 141.6 99.1 141.6 99.6 140.2ZM-1 141.6 -1 140.6 0.5 141 1.2 141.6 -1 141.6ZM42.7 141.6 44.3 141.1 44.7 141.6 44.3 141.6 42.7 141.6ZM69.7 141.6 70.6 141.3 71.1 141.6 70.6 141.6 69.7 141.6Z"/>
<path fill="#fab4ae" d="M16.9 -1 21 -1 21.2 1.9 22.4 3.2 23.5 6.2 23.2 7.6 22.4 8 20.9 7.6 20.3 6.2 20.2 3.3 18 1.4 17.3 0.4 16.9 -1ZM59.2 3.3 60.3 2.8 61.4 3.3 60.3 4.2 59.2 3.3ZM87.5 3.3 89.6 1.9 91 2.7 91.3 3.3 90.6 4.8 89.6 5.2 88.3 4.8 87.5 3.3ZM65.6 22 66.2 21.4 67.6 21.3 69.1 21.8 71.2 23.5 71.8 24.9 69.6 26.4 66.9 26.4 65.6 24.9 65.3 23.5 65.6 22ZM17.3 24.9 18 24.5 19.4 25.1 20.1 27.8 19.4 30.2 18 30.6 16.5 29.3 16.3 26.4 17.3 24.9ZM6.1 26.4 6.3 26.2 6.4 26.4 6.3 26.4 6.1 26.4ZM11.8 33.6 13.6 33.5 14 35 12.1 36.5 10.7 35.8 10.5 35 11.8 33.6ZM147.5 46.5 148 45.9 149.4 45.9 150.2 46.5 150.9 48 149.8 49.4 148 48.8 147.5 48 147.5 46.5ZM16.3 55.2 18 54.1 18.3 55.2 18 56.7 16.5 57.1 16.1 56.6 16.3 55.2ZM125.3 69.6 126.1 68.9 126.5 69.6 126.1 70.7 125.3 69.6ZM80.6 79.7 82.3 78.9 83.9 79.7 79.6 84 77.9 84 78 82.5 80.6 79.7ZM52.7 92.6 53 92.3 54.7 92.6 54.5 93.3 53 94 52.7 92.6ZM6.2 101.3 7.8 100.6 8.4 101.3 7.8 101.9 6.2 101.3ZM67.6 104.1 69.8 104.1 70.6 104.5 71.5 105.6 70.6 107 67.6 109.2 66.6 107 66.6 105.6 67.6 104.1ZM56.5 105.6 57.4 104.8 58.9 105.3 58.7 107 56 109.9 54.5 112.5 53 113 51.6 111.4 51.2 109.9 51.6 109.4 54.5 108.2 56.5 105.6ZM17.5 111.4 19.4 111.5 20.2 112.8 19.4 114.9 18 115 16.4 114.2 16.5 112.3 17.5 111.4ZM71.4 114.2 72.2 114.2 72 115.8 71.4 115.7 71.4 114.2ZM10.8 117.1 12.1 116.5 13.6 116.4 14.4 117.1 14.5 120 13.6 121.6 12.1 122 10.7 121.6 9.4 120 9.5 118.6 10.8 117.1ZM-1 121.4 -1 121 0.3 121.4 0.7 122.9 0 124.3 -1 124.9 -1 121.4ZM43.2 128.6 44.3 128.1 45.7 128.9 45.7 130.6 44.3 132.4 42.8 131.5 42.6 130.1 43.2 128.6Z"/>
<path d="M5.2 5.2L7.1 4.6M10.5 5.2L12.4 4.6M15.7 5.2L17.6 4.6M21 5.2L22.9 4.6M26.2 5.2L28.1 4.6M31.4 5.2L33.3 4.6M36.7 5.2L38.6 4.6M41.9 5.2L43.8 4.6M47.2 5.2L49.1 4.6M52.4 5.2L54.3 4.6M57.6 5.2L59.5 4.6M62.9 5.2L64.8 4.6M68.1 5.2L70 4.6M73.4 5.2L75.3 4.6M78.6 5.2L80.5 4.6M83.8 5.2L85.7 4.6M89.1 5.2L91 4.6M94.3 5.2L96.2 4.6M99.6 5.2L101.5 4.6M104.8 5.2L106.7 4.6M110 5.2L111.9 4.6M115.3 5.2L117.2 4.6M120.5 5.2L122.4 4.6M125.8 5.2L127.7 4.6M131 5.2L132.9 4.6M136.2 5.2L138.1 4.6M141.5 5.2L143.4 4.6M146.7 5.2L148.6 4.6M152 5.2L153.9 4.6M5.2 10.4L7.1 9.8M10.5 10.4L12.4 9.8M15.7 10.4L17.6 9.8M21 10.4L22.9 9.8M26.2 10.4L28.1 9.8M31.4 10.4L33.3 9.8M36.7 10.4L38.6 9.8M41.9 10.4L43.8 9.8M47.2 10.4L49.1 9.8M52.4 10.4L54.3 9.8M57.6 10.4L59.5 9.8M62.9 10.4L64.8 9.8M68.1 10.4L70 9.8M73.4 10.4L75.3 9.8M78.6 10.4L80.5 9.8M83.8 10.4L85.7 9.8M89.1 10.4L91 9.8M94.3 10.4L96.2 9.8M99.6 10.4L101.5 9.8M104.8 10.4L106.7 9.8M110 10.4L111.9 9.8M115.3 10.4L117.2 9.8M120.5 10.4L122.4 9.8M125.8 10.4L127.7 9.8M131 10.4L132.9 9.8M136.2 10.4L138.1 9.8M141.5 10.4L143.4 9.8M146.7 10.4L157 7M152 10.4L163.2 6.6M5.2 15.6L7.1 15.1M10.5 15.6L12.4 15.1M15.7 15.6L17.6 15.1M21 15.6L22.9 15.1M26.2 15.6L28.1 15.1M31.4 15.6L33.3 15.1M36.7 15.6L38.6 15.1M41.9 15.6L43.8 15.1M47.2 15.6L49.1 15.1M52.4 15.6L54.3 15.1M57.6 15.6L59.5 15.1M62.9 15.6L64.8 15.1M68.1 15.6L70 15.1M73.4 15.6L75.3 15.1M78.6 15.6L80.5 15.1M83.8 15.6L85.7 15.1M89.1 15.6L91 15.1M94.3 15.6L96.2 15.1M99.6 15.6L101.5 15.1M104.8 15.6L106.7 15.1M110 15.6L111.9 15.1M115.3 15.6L117.2 15.1M120.5 15.6L122.4 15.1M125.8 15.6L127.7 15.1M131 15.6L132.9 15.1M136.2 15.6L146.6 11.3M141.5 15.6L152.8 11M146.7 15.6L158.9 10.7M152 15.6L165.1 10.3M5.2 20.8L7.1 20.3M10.5 20.8L12.4 20.3M15.7 20.8L17.6 20.3M21 20.8L22.9 20.3M26.2 20.8L28.1 20.3M31.4 20.8L33.3 20.3M36.7 20.8L38.6 20.3M41.9 20.8L43.8 20.3M47.2 20.8L49.1 20.3M52.4 20.8L54.3 20.3M57.6 20.8L59.5 20.3M62.9 20.8L64.8 20.3M68.1 20.8L70 20.3M73.4 20.8L75.3 20.3M78.6 20.8L80.5 20.3M83.8 20.8L85.7 20.3M89.1 20.8L91 20.3M94.3 20.8L96.2 20.3M99.6 20.8L101.5 20.3M104.8 20.8L106.7 20.3M110 20.8L111.9 20.3M115.3 20.8L117.2 20.3M120.5 20.8L122.4 20.3M125.8 20.8L136 15.6M131 20.8L142.2 15.4M136.2 20.8L148.5 15.2M141.5 20.8L154.7 14.9M146.7 20.8L160.8 14.4M152 20.8L167 14M5.2 26L7.1 25.5M10.5 26L12.4 25.5M15.7 26L17.6 25.5M21 26L22.9 25.5M26.2 26L28.1 25.5M31.4 26L33.3 25.5M36.7 26L38.6 25.5M41.9 26L43.8 25.5M47.2 26L49.1 25.5M52.4 26L54.3 25.5M57.6 26L59.5 25.5M62.9 26L64.8 25.5M68.1 26L70 25.5M73.4 26L75.3 25.5M78.6 26L80.5 25.5M83.8 26L85.7 25.5M89.1 26L91 25.5M94.3 26L96.2 25.5M99.6 26L101.5 25.5M104.8 26L106.7 25.5M110 26L111.9 25.5M115.3 26L125.3 20.1M120.5 26L131.6 19.9M125.8 26L138 19.7M131 26L144.2 19.5M136.2 26L150.4 19.1M141.5 26L156.6 18.7M146.7 26L162.8 18.2M152 26L168.9 17.6M5.2 31.2L7.1 30.7M10.5 31.2L12.4 30.7M15.7 31.2L17.6 30.7M21 31.2L22.9 30.7M26.2 31.2L28.1 30.7M31.4 31.2L33.3 30.7M36.7 31.2L38.6 30.7M41.9 31.2L43.8 30.7M47.2 31.2L49.1 30.7M52.4 31.2L54.3 30.7M57.6 31.2L59.5 30.7M62.9 31.2L64.8 30.7M68.1 31.2L70 30.7M73.4 31.2L75.3 30.7M78.6 31.2L80.5 30.7M83.8 31.2L85.7 30.7M89.1 31.2L91 30.7M94.3 31.2L96.2 30.7M99.6 31.2L107.8 24.8M104.8 31.2L114.4 24.7M110 31.2L120.9 24.6M115.3 31.2L127.3 24.4M120.5 31.2L133.7 24.2M125.8 31.2L140 23.9M131 31.2L146.2 23.6M136.2 31.2L152.4 23.2M141.5 31.2L158.6 22.7M146.7 31.2L163 23.3M152 31.2L167.4 24M5.2 36.5L7.1 35.9M10.5 36.5L12.4 35.9M15.7 36.5L17.6 35.9M21 36.5L22.9 35.9M26.2 36.5L28.1 35.9M31.4 36.5L33.3 35.9M36.7 36.5L38.6 35.9M41.9 36.5L43.8 35.9M47.2 36.5L49.1 35.9M52.4 36.5L54.3 35.9M57.6 36.5L59.5 35.9M62.9 36.5L64.8 35.9M68.1 36.5L70 35.9M73.4 36.5L75.3 35.9M78.6 36.5L80.5 35.9M83.8 36.5L85.7 35.9M89.1 36.5L96.9 29.6M94.3 36.5L103.5 29.5M99.6 36.5L110 29.3M104.8 36.5L116.5 29.2M110 36.5L123 29M115.3 36.5L129.5 28.8M120.5 36.5L135.8 28.5M125.8 36.5L142.1 28.2M131 36.5L147.9 28M136.2 36.5L152.2 28.5M141.5 36.5L156.6 29.1M146.7 36.5L161 29.8M152 36.5L165.5 30.7M5.2 41.7L7.1 41.1M10.5 41.7L12.4 41.1M15.7 41.7L17.6 41.1M21 41.7L22.9 41.1M26.2 41.7L28.1 41.1M31.4 41.7L33.3 41.1M36.7 41.7L38.6 41.1M41.9 41.7L43.8 41.1M47.2 41.7L49.1 41.1M52.4 41.7L54.3 41.1M57.6 41.7L59.5 41.1M62.9 41.7L64.8 41.1M68.1 41.7L70 41.1M73.4 41.7L75.3 41.1M78.6 41.7L86.4 34.4M83.8 41.7L92.7 34.3M89.1 41.7L99.2 34.2M94.3 41.7L105.8 34.1M99.6 41.7L112.3 33.9M104.8 41.7L118.8 33.8M110 41.7L125.3 33.6M115.3 41.7L131.7 33.3M120.5 41.7L137.2 33.2M125.8 41.7L141.5 33.6M131 41.7L145.8 34.1M136.2 41.7L150.2 34.6M141.5 41.7L154.6 35.3M146.7 41.7L159.1 36.2M152 41.7L163.5 37.2M5.2 46.9L7.1 46.3M10.5 46.9L12.4 46.3M15.7 46.9L17.6 46.3M21 46.9L22.9 46.3M26.2 46.9L28.1 46.3M31.4 46.9L33.3 46.3M36.7 46.9L38.6 46.3M41.9 46.9L43.8 46.3M47.2 46.9L49.1 46.3M52.4 46.9L54.3 46.3M57.6 46.9L59.5 46.3M62.9 46.9L64.8 46.3M68.1 46.9L76.4 39.3M73.4 46.9L82.7 39.2M78.6 46.9L89 39.1M83.8 46.9L95.3 39.1M89.1 46.9L101.6 39M94.3 46.9L108.2 38.8M99.6 46.9L114.7 38.6M104.8 46.9L121.2 38.4M110 46.9L126.6 38.4M115.3 46.9L130.7 38.7M120.5 46.9L134.9 39M125.8 46.9L139.2 39.5M131 46.9L143.5 40M136.2 46.9L148 40.6M141.5 46.9L152.5 41.5M146.7 46.9L157.1 42.5M152 46.9L161.6 43.7M5.2 52.1L7.1 51.5M10.5 52.1L12.4 51.5M15.7 52.1L17.6 51.5M21 52.1L22.9 51.5M26.2 52.1L28.1 51.5M31.4 52.1L33.3 51.5M36.7 52.1L38.6 51.5M41.9 52.1L43.8 51.5M47.2 52.1L49.1 51.5M52.4 52.1L54.3 51.5M57.6 52.1L66.6 44.3M62.9 52.1L72.9 44.2M68.1 52.1L79.2 44.1M73.4 52.1L85.5 44M78.6 52.1L91.7 44M83.8 52.1L98 43.9M89.1 52.1L104.2 43.8M94.3 52.1L110.7 43.6M99.6 52.1L116 43.6M104.8 52.1L120.1 43.8M110 52.1L124.1 44.1M115.3 52.1L128.2 44.3M120.5 52.1L132.4 44.7M125.8 52.1L136.7 45.2M131 52.1L141.2 45.7M136.2 52.1L145.7 46.5M141.5 52.1L150.3 47.4M146.7 52.1L155 48.6M152 52.1L159.6 50.1M5.2 57.3L7.1 56.7M10.5 57.3L12.4 56.7M15.7 57.3L17.6 56.7M21 57.3L22.9 56.7M26.2 57.3L28.1 56.7M31.4 57.3L33.3 56.7M36.7 57.3L38.6 56.7M41.9 57.3L49.5 49.5M47.2 57.3L56.2 49.4M52.4 57.3L62.8 49.3M57.6 57.3L69.5 49.2M62.9 57.3L75.8 49.1M68.1 57.3L82.1 49M73.4 57.3L88.4 48.9M78.6 57.3L94.6 48.8M83.8 57.3L100.9 48.7M89.1 57.3L105.3 48.8M94.3 57.3L109.4 49M99.6 57.3L113.3 49.1M104.8 57.3L117.3 49.3M110 57.3L121.4 49.6M115.3 57.3L125.5 49.9M120.5 57.3L129.8 50.2M125.8 57.3L134.1 50.7M131 57.3L138.6 51.3M136.2 57.3L143.2 52.1M141.5 57.3L147.8 53.2M146.7 57.3L153 54.4M152 57.3L158.2 55.5M5.2 62.5L7.1 61.9M10.5 62.5L12.4 61.9M15.7 62.5L17.6 61.9M21 62.5L22.9 61.9M26.2 62.5L28.1 61.9M31.4 62.5L39.1 54.6M36.7 62.5L45.7 54.5M41.9 62.5L52.4 54.4M47.2 62.5L59.1 54.3M52.4 62.5L65.7 54.2M57.6 62.5L72.4 54.1M62.9 62.5L78.8 54M68.1 62.5L85.1 53.9M73.4 62.5L89.5 54M78.6 62.5L93.7 54.1M83.8 62.5L97.9 54.2M89.1 62.5L102.2 54.3M94.3 62.5L106.5 54.4M99.6 62.5L110.4 54.6M104.8 62.5L114.4 54.8M110 62.5L118.5 55M115.3 62.5L122.6 55.3M120.5 62.5L126.8 55.6M125.8 62.5L131.2 56M131 62.5L135.8 56.6M136.2 62.5L141.3 57.3M141.5 62.5L146.6 58.5M146.7 62.5L151.8 59.6M152 62.5L157.1 60.7M5.2 67.7L7.1 67.1M10.5 67.7L12.4 67.1M15.7 67.7L17.6 67.1M21 67.7L28.5 59.7M26.2 67.7L35.4 59.7M31.4 67.7L42.1 59.6M36.7 67.7L48.7 59.5M41.9 67.7L55.4 59.4M47.2 67.7L62.1 59.3M52.4 67.7L68.8 59.2M57.6 67.7L74 59.2M62.9 67.7L77.9 59.3M68.1 67.7L82.1 59.4M73.4 67.7L86.3 59.4M78.6 67.7L90.5 59.5M83.8 67.7L94.7 59.6M89.1 67.7L98.9 59.7M94.3 67.7L103.2 59.8M99.6 67.7L107.3 60M104.8 67.7L111.2 60.1M110 67.7L115.2 60.3M115.3 67.7L119.3 60.5M120.5 67.7L123.7 60.8M125.8 67.7L129.3 61M131 67.7L135 61.4M136.2 67.7L140.2 62.5M141.5 67.7L145.5 63.7M146.7 67.7L150.7 64.8M152 67.7L155.9 66M5.2 72.9L7.1 72.3M10.5 72.9L17.5 65M15.7 72.9L24.5 64.9M21 72.9L31.5 64.7M26.2 72.9L38.4 64.6M31.4 72.9L45.2 64.6M36.7 72.9L51.9 64.5M41.9 72.9L58.6 64.4M47.2 72.9L63.2 64.4M52.4 72.9L67 64.5M57.6 72.9L70.8 64.6M62.9 72.9L74.6 64.7M68.1 72.9L78.7 64.8M73.4 72.9L82.9 64.8M78.6 72.9L87 64.9M83.8 72.9L91.2 65M89.1 72.9L95.5 65.1M94.3 72.9L99.7 65.2M99.6 72.9L103.9 65.3M104.8 72.9L107.8 65.4M110 72.9L112 65.6M115.3 72.9L117.4 65.6M120.5 72.9L122.9 65.7M125.8 72.9L128.5 65.8M131 72.9L133.8 66.6M136.2 72.9L139.1 67.7M141.5 72.9L144.3 68.9M146.7 72.9L149.6 70M152 72.9L154.8 71.2M5.2 78.1L13.6 70.1M10.5 78.1L20.6 70M15.7 78.1L27.5 69.9M21 78.1L34.5 69.8M26.2 78.1L41.5 69.7M31.4 78.1L48.4 69.6M36.7 78.1L52.4 69.6M41.9 78.1L56.2 69.7M47.2 78.1L59.9 69.8M52.4 78.1L63.7 69.9M57.6 78.1L67.5 70M62.9 78.1L71.2 70.1M68.1 78.1L75.2 70.2M73.4 78.1L79.3 70.2M78.6 78.1L83.4 70.3M83.8 78.1L87.6 70.4M89.1 78.1L91.7 70.4M94.3 78.1L95.9 70.5M99.6 78.1L100.5 70.6M104.8 78.1L105.9 70.6M110 78.1L111.2 70.6M115.3 78.1L116.6 70.6M120.5 78.1L122 70.7M125.8 78.1L127.5 70.7M131 78.1L132.7 71.8M136.2 78.1L138 73M141.5 78.1L143.2 74.1M146.7 78.1L148.4 75.2M152 78.1L153.7 76.4M5.2 83.3L16.7 75.1M10.5 83.3L23.7 75M15.7 83.3L30.7 74.9M21 83.3L37.7 74.8M26.2 83.3L41.9 74.8M31.4 83.3L45.4 74.9M36.7 83.3L49.1 75M41.9 83.3L52.8 75.1M47.2 83.3L56.5 75.2M52.4 83.3L60.2 75.3M57.6 83.3L64 75.4M62.9 83.3L67.7 75.5M68.1 83.3L71.4 75.5M73.4 83.3L75.5 75.6M78.6 83.3L79.6 75.7M83.8 83.3L84.1 75.7M89.1 83.3L89.4 75.7M94.3 83.3L94.6 75.7M99.6 83.3L99.9 75.7M104.8 83.3L105.2 75.7M110 83.3L110.4 75.7M115.3 83.3L115.7 75.7M120.5 83.3L121 75.7M125.8 83.3L126.3 75.9M131 83.3L131.6 77M136.2 83.3L136.8 78.2M141.5 83.3L142.1 79.3M146.7 83.3L147.3 80.4M152 83.3L152.5 81.6M5.2 88.5L19.9 80.1M10.5 88.5L26.9 80M15.7 88.5L31.7 80M21 88.5L35.1 80.1M26.2 88.5L38.6 80.2M31.4 88.5L42 80.3M36.7 88.5L45.6 80.4M41.9 88.5L49.2 80.5M47.2 88.5L52.9 80.6M52.4 88.5L56.6 80.7M57.6 88.5L60.3 80.8M62.9 88.5L64 80.9M68.1 88.5L67.9 80.9M73.4 88.5L73.1 80.9M78.6 88.5L78.4 80.9M83.8 88.5L83.6 80.9M89.1 88.5L88.8 80.9M94.3 88.5L94 80.9M99.6 88.5L99.2 80.9M104.8 88.5L104.5 80.9M110 88.5L109.7 80.9M115.3 88.5L114.9 80.9M120.5 88.5L120 80.9M125.8 88.5L125.2 81.1M131 88.5L130.5 82.2M136.2 88.5L135.7 83.4M141.5 88.5L140.9 84.5M146.7 88.5L146.2 85.6M152 88.5L151.4 86.8M5.2 93.7L21.5 85.2M10.5 93.7L24.9 85.3M15.7 93.7L28.3 85.4M21 93.7L31.8 85.5M26.2 93.7L35.2 85.6M31.4 93.7L38.6 85.7M36.7 93.7L42 85.8M41.9 93.7L45.6 85.9M47.2 93.7L49.2 86M52.4 93.7L52.8 86.1M57.6 93.7L57.1 86.2M62.9 93.7L62.3 86.2M68.1 93.7L67.5 86.2M73.4 93.7L72.7 86.2M78.6 93.7L77.9 86.2M83.8 93.7L83.1 86.2M89.1 93.7L88.3 86.2M94.3 93.7L93.4 86.2M99.6 93.7L98.6 86.2M104.8 93.7L103.7 86.2M110 93.7L108.9 86.2M115.3 93.7L114 86.2M120.5 93.7L119.1 86.3M125.8 93.7L124.1 86.3M131 93.7L129.3 87.4M136.2 93.7L134.6 88.6M141.5 93.7L139.8 89.7M146.7 93.7L145 90.8M152 93.7L150.3 92M5.2 98.9L18.1 90.6M10.5 98.9L21.5 90.7M15.7 98.9L24.9 90.8M21 98.9L28.3 90.9M26.2 98.9L31.6 91M31.4 98.9L35 91.1M36.7 98.9L38.3 91.2M41.9 98.9L41.8 91.3M47.2 98.9L46.3 91.4M52.4 98.9L51.5 91.4M57.6 98.9L56.7 91.4M62.9 98.9L61.9 91.4M68.1 98.9L67.1 91.4M73.4 98.9L72.2 91.4M78.6 98.9L77.4 91.4M83.8 98.9L82.6 91.4M89.1 98.9L87.7 91.5M94.3 98.9L92.9 91.5M99.6 98.9L98 91.5M104.8 98.9L103.1 91.5M110 98.9L108.1 91.6M115.3 98.9L113.2 91.6M120.5 98.9L118.2 91.7M125.8 98.9L123.1 91.8M131 98.9L128.2 92.6M136.2 98.9L133.4 93.8M141.5 98.9L138.7 94.9M146.7 98.9L143.9 96.1M152 98.9L149.2 97.2M5.2 104.1L14.6 96M10.5 104.1L18 96.1M15.7 104.1L21.3 96.2M21 104.1L24.7 96.3M26.2 104.1L28 96.5M31.4 104.1L31.3 96.6M36.7 104.1L35.6 96.6M41.9 104.1L40.8 96.6M47.2 104.1L46 96.6M52.4 104.1L51.1 96.7M57.6 104.1L56.3 96.7M62.9 104.1L61.5 96.7M68.1 104.1L66.6 96.7M73.4 104.1L71.8 96.7M78.6 104.1L76.9 96.7M83.8 104.1L82.1 96.8M89.1 104.1L87.2 96.8M94.3 104.1L92.3 96.8M99.6 104.1L97.4 96.9M104.8 104.1L102.4 96.9M110 104.1L107.4 97M115.3 104.1L112.4 97.1M120.5 104.1L117.3 97.2M125.8 104.1L122.2 97.4M131 104.1L127.1 97.9M136.2 104.1L132.3 99M141.5 104.1L137.5 100.1M146.7 104.1L142.8 101.3M152 104.1L148 102.4M5.2 109.4L11 101.4M10.5 109.4L14.4 101.6M15.7 109.4L17.7 101.7M21 109.4L21 101.8M26.2 109.4L24.9 101.9M31.4 109.4L30.1 101.9M36.7 109.4L35.3 101.9M41.9 109.4L40.4 101.9M47.2 109.4L45.6 101.9M52.4 109.4L50.8 101.9M57.6 109.4L55.9 101.9M62.9 109.4L61.1 102M68.1 109.4L66.2 102M73.4 109.4L71.4 102M78.6 109.4L76.5 102.1M83.8 109.4L81.6 102.1M89.1 109.4L86.7 102.1M94.3 109.4L91.8 102.2M99.6 109.4L96.8 102.3M104.8 109.4L101.8 102.4M110 109.4L106.8 102.5M115.3 109.4L111.8 102.6M120.5 109.4L116.7 102.8M125.8 109.4L121.5 103.1M131 109.4L126.2 103.4M136.2 109.4L131.2 104.2M141.5 109.4L136.4 105.3M146.7 109.4L141.6 106.5M152 109.4L146.9 107.6M5.2 114.6L3.9 107.1M10.5 114.6L9.1 107.1M15.7 114.6L14.2 107.1M21 114.6L19.4 107.1M26.2 114.6L24.6 107.1M31.4 114.6L29.8 107.1M36.7 114.6L35 107.2M41.9 114.6L40.1 107.2M47.2 114.6L45.3 107.2M52.4 114.6L50.5 107.2M57.6 114.6L55.6 107.2M62.9 114.6L60.7 107.3M68.1 114.6L65.9 107.3M73.4 114.6L71 107.3M78.6 114.6L76.1 107.4M83.8 114.6L81.2 107.4M89.1 114.6L86.2 107.5M94.3 114.6L91.3 107.6M99.6 114.6L96.3 107.7M104.8 114.6L101.3 107.8M110 114.6L106.3 108M115.3 114.6L111.2 108.2M120.5 114.6L116.1 108.4M125.8 114.6L120.9 108.7M131 114.6L125.7 109.1M136.2 114.6L130.4 109.7M141.5 114.6L135.3 110.5M146.7 114.6L140.5 111.7M152 114.6L145.8 112.8M5.2 119.8L3.6 112.3M10.5 119.8L8.8 112.4M15.7 119.8L14 112.4M21 119.8L19.2 112.4M26.2 119.8L24.3 112.4M31.4 119.8L29.5 112.4M36.7 119.8L34.7 112.4M41.9 119.8L39.8 112.5M47.2 119.8L45 112.5M52.4 119.8L50.1 112.5M57.6 119.8L55.3 112.6M62.9 119.8L60.4 112.6M68.1 119.8L65.5 112.6M73.4 119.8L70.6 112.7M78.6 119.8L75.7 112.8M83.8 119.8L80.8 112.8M89.1 119.8L85.8 112.9M94.3 119.8L90.8 113M99.6 119.8L95.9 113.1M104.8 119.8L100.8 113.3M110 119.8L105.8 113.5M115.3 119.8L110.7 113.7M120.5 119.8L115.6 114M125.8 119.8L120.4 114.4M131 119.8L125.2 114.8M136.2 119.8L130 115.4M141.5 119.8L134.8 116.1M146.7 119.8L139.6 117M152 119.8L144.6 118M5.2 125L3.4 117.6M10.5 125L8.6 117.6M15.7 125L13.7 117.6M21 125L18.9 117.7M26.2 125L24.1 117.7M31.4 125L29.2 117.7M36.7 125L34.4 117.7M41.9 125L39.5 117.8M47.2 125L44.7 117.8M52.4 125L49.8 117.8M57.6 125L54.9 117.9M62.9 125L60 117.9M68.1 125L65.2 118M73.4 125L70.2 118M78.6 125L75.3 118.1M83.8 125L80.4 118.2M89.1 125L85.4 118.3M94.3 125L90.4 118.4M99.6 125L95.4 118.6M104.8 125L100.4 118.8M110 125L105.4 119M115.3 125L110.3 119.2M120.5 125L115.2 119.6M125.8 125L120.1 120M131 125L124.9 120.4M136.2 125L129.8 121M141.5 125L134.6 121.7M146.7 125L139.5 122.5M152 125L144.5 123.4M5.2 130.2L3.2 122.9M10.5 130.2L8.3 122.9M15.7 130.2L13.5 122.9M21 130.2L18.7 122.9M26.2 130.2L23.8 123M31.4 130.2L29 123M36.7 130.2L34.1 123M41.9 130.2L39.3 123.1M47.2 130.2L44.4 123.1M52.4 130.2L49.5 123.2M57.6 130.2L54.6 123.2M62.9 130.2L59.7 123.3M68.1 130.2L64.8 123.3M73.4 130.2L69.9 123.4M78.6 130.2L75 123.5M83.8 130.2L80 123.6M89.1 130.2L85.1 123.7M94.3 130.2L90.1 123.9M99.6 130.2L95.1 124M104.8 130.2L100.1 124.3M110 130.2L105 124.5M115.3 130.2L109.9 124.8M120.5 130.2L114.9 125.1M125.8 130.2L119.8 125.5M131 130.2L124.6 126M136.2 130.2L129.5 126.6M141.5 130.2L134.5 127.2M146.7 130.2L139.4 128M152 130.2L144.5 128.8M5.2 135.4L2.9 128.2M10.5 135.4L8.1 128.2M15.7 135.4L13.3 128.2M21 135.4L18.4 128.2M26.2 135.4L23.6 128.3M31.4 135.4L28.7 128.3M36.7 135.4L33.9 128.3M41.9 135.4L39 128.4M47.2 135.4L44.1 128.4M52.4 135.4L49.2 128.5M57.6 135.4L54.3 128.5M62.9 135.4L59.4 128.6M68.1 135.4L64.5 128.7M73.4 135.4L69.6 128.8M78.6 135.4L74.7 128.9M83.8 135.4L79.7 129M89.1 135.4L84.7 129.2M94.3 135.4L89.8 129.3M99.6 135.4L94.8 129.5M104.8 135.4L99.7 129.7M110 135.4L104.7 130M115.3 135.4L109.6 130.3M120.5 135.4L114.6 130.6M125.8 135.4L119.5 131.1M131 135.4L124.4 131.5M136.2 135.4L129.4 132.1M141.5 135.4L134.4 132.7M146.7 135.4L139.4 133.4M152 135.4L144.5 134.2" stroke="#7e4c46" stroke-width="0.5" stroke-opacity="0.55" fill="none" stroke-linecap="round"/>
<use href="#geo"/>
<path d="M0 95.7 L14.5 89.6 L29.6 82.9 L44.6 76 L59.7 69.3 L74.8 63.2 L89.9 56.5 L100 53 L106.5 51.2" fill="none" stroke="#b25824" stroke-width="1.3" stroke-dasharray="4.2 2.4"/>
<path d="M134 44.5 L145 41 L157.2 37.5" fill="none" stroke="#b25824" stroke-width="1.3" stroke-dasharray="4.2 2.4"/>
<path d="M157.2 47.5 L145 49.5 L134 52.3" fill="none" stroke="#b25824" stroke-width="1.3"/>
<path d="M108 64.8 L99 67.8 L89.7 71.5 L80 77 L70.5 84.5 L62.5 92 L57.5 99 L55.4 106 L57 111.5 L61.5 115 L68 117.5 L76.1 119.3 L84 121.3 L92.3 123.5 L105 125.3 L116.7 126.2 L124.6 126.5 L131.8 127.3 L140 129.5 L147 131 L157.2 133" fill="none" stroke="#b25824" stroke-width="1.3"/>
<text x="108.5" y="55.5" font-size="10.4" fill="#b25824" textLength="25.3" lengthAdjust="spacingAndGlyphs" transform="rotate(-21 108.5 55.5)">5860</text>
<text x="108.5" y="69.5" font-size="10.4" fill="#b25824" textLength="25.3" lengthAdjust="spacingAndGlyphs" transform="rotate(-21 108.5 69.5)">5880</text>
</g>
<rect x="0" y="0" width="157.2" height="140.6" fill="none" stroke="#222" stroke-width="1"/>
<path d="M0 5.2 h3.5 M157.2 5.2 h-3.5 M0 31.2 h3.5 M157.2 31.2 h-3.5 M0 57.3 h3.5 M157.2 57.3 h-3.5 M0 83.3 h3.5 M157.2 83.3 h-3.5 M0 109.4 h3.5 M157.2 109.4 h-3.5 M0 135.4 h3.5 M157.2 135.4 h-3.5 M26.2 0 v3.5 M26.2 140.6 v-3.5 M78.6 0 v3.5 M78.6 140.6 v-3.5 M131 0 v3.5 M131 140.6 v-3.5" stroke="#111" stroke-width="1" fill="none"/>
<text x="4.1" y="12.4" font-size="10.2" fill="#111" textLength="68.2" lengthAdjust="spacingAndGlyphs">(h) Lowest 10</text><text x="78.0" y="12.4" font-size="10.2" fill="#111">δ</text><text x="84.5" y="9.1" font-size="7.6" fill="#111">18</text><text x="94.0" y="12.4" font-size="10.2" fill="#111">O</text>
</g>
<text x="489" y="171.3" font-size="10.2" text-anchor="end" fill="#111" textLength="24.7" lengthAdjust="spacingAndGlyphs">40°N</text>
<text x="489" y="197.3" font-size="10.2" text-anchor="end" fill="#111" textLength="24.7" lengthAdjust="spacingAndGlyphs">35°N</text>
<text x="489" y="223.4" font-size="10.2" text-anchor="end" fill="#111" textLength="24.7" lengthAdjust="spacingAndGlyphs">30°N</text>
<text x="489" y="249.4" font-size="10.2" text-anchor="end" fill="#111" textLength="24.7" lengthAdjust="spacingAndGlyphs">25°N</text>
<text x="489" y="275.5" font-size="10.2" text-anchor="end" fill="#111" textLength="24.7" lengthAdjust="spacingAndGlyphs">20°N</text>
<text x="489" y="301.5" font-size="10.2" text-anchor="end" fill="#111" textLength="24.7" lengthAdjust="spacingAndGlyphs">15°N</text>
<g transform="translate(29.6,311.9)"><g clip-path="url(#cp)">
<rect x="-2" y="-2" width="161.2" height="144.6" fill="#0b024c"/>
<path fill="#0e025d" d="M-1 -1 158.2 -1 158.2 141.6 -1 141.6 -1 -1Z"/>
<path fill="#130382" d="M-1 -1 158.2 -1 158.2 141.6 -1 141.6 -1 -1Z"/>
<path fill="#1903a6" d="M-1 -1 158.2 -1 158.2 141.6 -1 141.6 -1 -1Z"/>
<path fill="#1e04c8" d="M-1 -1 158.2 -1 158.2 141.6 -1 141.6 -1 -1Z"/>
<path fill="#2305ec" d="M-1 -1 158.2 -1 158.2 141.6 -1 141.6 -1 -1Z"/>
<path fill="#3c1eff" d="M-1 -1 158.2 -1 158.2 141.6 -1 141.6 -1 -1Z"/>
<path fill="#6851ff" d="M-1 -1 158.2 -1 158.2 141.6 -1 141.6 -1 -1Z"/>
<path fill="#9484ff" d="M-1 -1 158.2 -1 158.2 141.6 -1 141.6 -1 -1Z"/>
<path fill="#bdb3ff" d="M-1 -1 158.2 -1 158.2 141.6 -1 141.6 -1 -1Z"/>
<path fill="#e9e6ff" d="M-1 -1 158.2 -1 158.2 124.8 154.5 123.5 150.1 122.7 138 121.4 123.9 121.5 115.9 122.8 111.9 124.7 109.8 126.6 105.7 133.6 99.6 141.6 -1 141.6 -1 -1ZM35.3 47 33.3 47.6 31.2 49.3 30.5 51.2 30 57.2 29.2 58.6 21.3 63.3 19.6 65.3 18.9 67.3 18.9 69.3 20.7 73.3 22.6 75.3 25.2 76.7 29.2 77 33.5 75.3 39.3 70.1 43.3 67.3 45.3 65.4 47.5 61.3 48 55.2 47.5 53.2 46.4 51.2 44.2 49.2 41.3 47.7 39.3 47.2 35.3 47Z"/>
<path fill="#fde8e7" d="M-1 -1 158.2 -1 158.2 113.5 150.1 112.3 140.1 111.7 113.9 112 101.8 111.2 97.7 111.9 94.9 113.5 89.7 118.8 83.6 123.1 81.3 125.5 79.2 129.5 75.3 141.6 -1 141.6 -1 107.8 3 105.6 15.1 97.2 29.2 89.7 34.6 85.4 50.9 73.3 54.2 69.3 57.6 63.3 60 57.2 60.9 51.2 60.6 47.2 59.5 42.7 57.4 39.4 55.4 38.2 53.4 37.7 39.3 36.9 31.2 37 27.2 37.9 25.2 38.6 23.2 40 18.7 47.2 16.9 49.2 13.1 52.1 9.1 54.3 1.6 57.2 -1 58.8 -1 -1Z"/>
<path fill="#fabbb6" d="M-1 -1 1 -1 55.4 -1 53.4 5 51.5 15.1 50.4 19.1 48.3 23.1 46.5 25.1 43.9 27.1 41.3 28.4 29.2 31.7 25.2 33.3 21.2 35.9 17.1 40.9 13.1 44.5 7.1 47.9 -1 51 -1 -1ZM85.7 -1 158.2 -1 158.2 105.6 150.1 104.9 142.1 104.6 111.9 105.6 89.7 103.9 85.7 103.9 83.6 104.3 81.6 105.3 73.6 110.9 64 115.5 61.5 117.1 53.4 126.3 51.1 129.5 45.8 141.6 16.9 141.6 17 137.6 18.1 131.6 19.7 125.5 21.5 121.5 23.2 119.4 27.4 115.5 33.3 108.4 42.4 99.4 46 91.4 48.4 87.4 59.5 74.9 69.4 59.3 71.5 53.2 73.3 43.2 75 37.2 78.6 29.1 83.6 21.8 84.9 19.1 86 1 85.7 -1Z"/>
<path fill="#f78e85" d="M-1 -1 44.3 -1 43.6 3 43.1 11.1 41.7 17.1 39.3 20.7 37.3 22.3 25.2 28.2 21.2 30.5 13.1 37.7 9.1 40.6 4.1 43.2 -1 45.1 -1 -1ZM90 -1 158.2 -1 158.2 98.8 140.1 98.3 109.8 100 83.6 95.3 79.6 96 77.1 97.4 71.5 102.5 65.5 105 59.5 105.8 57.1 105.4 55.4 104.1 54.9 101.4 55.3 97.4 57.4 91.7 60.2 87.4 66.5 79.3 70.6 71.3 75.6 63.4 77.6 59.2 79.9 47.2 83 35.2 88.5 21.1 90 7 90 -1ZM46.5 113.5 47.4 112.7 49.4 112.1 50 113.5 49.4 115.4 47.4 115.9 46.1 115.5 46.5 113.5Z"/>
<path fill="#f46458" d="M-1 -1 36.9 -1 36.4 7 35.6 11.1 33.9 15.1 32.3 17.1 29.2 19.8 17.7 27.1 7.1 35 3 37.3 -1 39 -1 -1ZM94 -1 158.2 -1 158.2 92.4 140.1 92.3 115.9 93.8 107.8 93.6 99.8 92.3 91.7 90.1 83.6 87.1 80.5 85.4 79.6 84.3 78.5 81.3 78.6 77.3 83.2 61.3 85.1 47.2 86.8 37.2 91.4 23.1 93.7 9 94 -1Z"/>
<path fill="#f13727" d="M-1 -1 1 -1 31.9 -1 31.2 3.1 29.2 8.4 27.2 11.7 24.2 15.1 19.3 19.1 7.1 27.1 -1 31.1 -1 -1ZM98 -1 158.2 -1 158.2 86.2 134 86.2 115.9 86.9 109.8 86.6 102.5 85.4 97.7 83.9 95.7 83 93.7 81.5 92 79.3 90.5 75.3 89.7 67.9 89.4 59.3 89.9 41.2 90.3 39.2 93.8 29.1 94.7 25.1 97.4 11.1 98 -1Z"/>
<path fill="#e31f0e" d="M-1 -1 1 -1 22.8 -1 21.3 3 20.1 5 15.1 10.4 5.6 17.1 -1 20.3 -1 -1ZM102.2 -1 158.2 -1 158.2 80.1 126 79.3 117.9 78.5 113.3 77.3 109 75.3 105.8 72.8 102.7 69.3 99.8 64.2 97.6 59.3 96.8 55.2 95.9 43.2 96.5 39.2 98.8 31.1 99.9 21.1 102.3 11.1 102.2 -1Z"/>
<path fill="#cb1c0d" d="M111.8 1 112 -1 158.2 -1 158.2 73.5 150.1 73.1 132 71 126 69.9 123.9 69.1 119.9 66.6 117.9 64.7 115.2 61.3 113 57.2 110.5 51.2 109.3 47.2 108.7 43.2 108.6 37.2 109.1 31.1 112 19.1 111.2 9 111.8 1Z"/>
<path fill="#b2190b" d="M122 -1 158.2 -1 158.2 63.5 154.2 63.6 148.1 62.9 142.1 61.5 136 59.4 132 57.4 130 55.8 128 53.8 126 51 123.5 45.2 122.2 37.2 123 19.1 122 7 122 -1Z"/>
<path fill="#9c160a" d="M131.9 1 132.2 -1 158.2 -1 158.2 48.3 154.2 48.8 150.1 48.8 144.1 47.4 140.1 45 138 43.1 136 40.1 134.2 35.2 133.2 29.1 131.9 1Z"/>
<rect width="157.2" height="140.6" fill="url(#grid)"/>
<use href="#geo"/>
<path d="M0 91.2 L10 87.5 L20 83.5 L30.4 79.6 L40 77.2 L50 75.2 L60.8 73 L70 71.5 L80.4 69.2 L87 68.2" fill="none" stroke="#000" stroke-width="1.3" stroke-dasharray="4.2 2.4"/>
<path d="M119.5 69.4 L130 69 L145 68.5 L157.2 68" fill="none" stroke="#000" stroke-width="1.3" stroke-dasharray="4.2 2.4"/>
<path d="M88.2 141 L88.8 132 L89.7 124 L90.6 111 L91.5 102.3 L94.2 96.1 L97.7 94.3 L104.8 91.7 L122.5 87.3 L140.1 83.7 L157.2 81.1" fill="none" stroke="#000" stroke-width="1.3"/>
<text x="92.1" y="76.6" font-size="10.4" fill="#111" textLength="25.3" lengthAdjust="spacingAndGlyphs" transform="rotate(-2 92.1 76.6)">5860</text>
<text x="98.8" y="103.2" font-size="10.4" fill="#111" textLength="25.3" lengthAdjust="spacingAndGlyphs" transform="rotate(-8.5 98.8 103.2)">5880</text>
<path d="M0 95.7 L14.5 89.6 L29.6 82.9 L44.6 76 L59.7 69.3 L74.8 63.2 L89.9 56.5 L100 53 L106.5 51.2" fill="none" stroke="#b25824" stroke-width="1.3" stroke-dasharray="4.2 2.4"/>
<path d="M134 44.5 L145 41 L157.2 37.5" fill="none" stroke="#b25824" stroke-width="1.3" stroke-dasharray="4.2 2.4"/>
<path d="M157.2 47.5 L145 49.5 L134 52.3" fill="none" stroke="#b25824" stroke-width="1.3"/>
<path d="M108 64.8 L99 67.8 L89.7 71.5 L80 77 L70.5 84.5 L62.5 92 L57.5 99 L55.4 106 L57 111.5 L61.5 115 L68 117.5 L76.1 119.3 L84 121.3 L92.3 123.5 L105 125.3 L116.7 126.2 L124.6 126.5 L131.8 127.3 L140 129.5 L147 131 L157.2 133" fill="none" stroke="#b25824" stroke-width="1.3"/>
<text x="108.5" y="55.5" font-size="10.4" fill="#b25824" textLength="25.3" lengthAdjust="spacingAndGlyphs" transform="rotate(-21 108.5 55.5)">5860</text>
<text x="108.5" y="69.5" font-size="10.4" fill="#b25824" textLength="25.3" lengthAdjust="spacingAndGlyphs" transform="rotate(-21 108.5 69.5)">5880</text>
</g>
<rect x="0" y="0" width="157.2" height="140.6" fill="none" stroke="#222" stroke-width="1"/>
<path d="M0 5.2 h3.5 M157.2 5.2 h-3.5 M0 31.2 h3.5 M157.2 31.2 h-3.5 M0 57.3 h3.5 M157.2 57.3 h-3.5 M0 83.3 h3.5 M157.2 83.3 h-3.5 M0 109.4 h3.5 M157.2 109.4 h-3.5 M0 135.4 h3.5 M157.2 135.4 h-3.5 M26.2 0 v3.5 M26.2 140.6 v-3.5 M78.6 0 v3.5 M78.6 140.6 v-3.5 M131 0 v3.5 M131 140.6 v-3.5" stroke="#111" stroke-width="1" fill="none"/>
<text x="4.1" y="12.4" font-size="10.2" fill="#111" textLength="70" lengthAdjust="spacingAndGlyphs">(c) Low - High</text>
</g>
<text x="26.9" y="320.8" font-size="10.2" text-anchor="end" fill="#111" textLength="24.7" lengthAdjust="spacingAndGlyphs">40°N</text>
<text x="26.9" y="346.8" font-size="10.2" text-anchor="end" fill="#111" textLength="24.7" lengthAdjust="spacingAndGlyphs">35°N</text>
<text x="26.9" y="372.9" font-size="10.2" text-anchor="end" fill="#111" textLength="24.7" lengthAdjust="spacingAndGlyphs">30°N</text>
<text x="26.9" y="398.9" font-size="10.2" text-anchor="end" fill="#111" textLength="24.7" lengthAdjust="spacingAndGlyphs">25°N</text>
<text x="26.9" y="425" font-size="10.2" text-anchor="end" fill="#111" textLength="24.7" lengthAdjust="spacingAndGlyphs">20°N</text>
<text x="26.9" y="451" font-size="10.2" text-anchor="end" fill="#111" textLength="24.7" lengthAdjust="spacingAndGlyphs">15°N</text>
<g transform="translate(262.9,311.9)"><g clip-path="url(#cp)">
<rect width="157.2" height="140.6" fill="#fff"/>
<g clip-path="url(#fall)"><rect x="-2" y="-2" width="161.2" height="144.6" fill="#0b024c"/>
<path fill="#0e025d" d="M-1 -1 158.2 -1 158.2 141.6 -1 141.6 -1 -1Z"/>
<path fill="#130382" d="M-1 -1 158.2 -1 158.2 141.6 -1 141.6 -1 -1Z"/>
<path fill="#1903a6" d="M-1 -1 158.2 -1 158.2 141.6 -1 141.6 -1 -1Z"/>
<path fill="#1e04c8" d="M-1 -1 158.2 -1 158.2 141.6 -1 141.6 -1 -1Z"/>
<path fill="#2305ec" d="M-1 -1 158.2 -1 158.2 141.6 -1 141.6 -1 -1Z"/>
<path fill="#3c1eff" d="M-1 -1 158.2 -1 158.2 141.6 -1 141.6 -1 -1Z"/>
<path fill="#6851ff" d="M-1 -1 158.2 -1 158.2 112.7 156.6 115.5 156 117.5 154.4 131.6 153.1 137.6 151.7 141.6 -1 141.6 -1 -1ZM79.6 109.2 72.7 113.5 67.7 117.5 66.7 119.5 66.7 121.5 68.5 125.5 75.6 136.3 77.6 139.1 79.6 140.8 81.6 140 83.6 135.7 85 129.5 85.4 121.5 84.5 111.5 83.1 109.5 81.6 108.9 79.6 109.2Z"/>
<path fill="#9484ff" d="M-1 -1 158.2 -1 158.2 93.6 148.1 94.4 142.1 95.7 137.9 97.4 135.7 99.4 134.6 101.4 134 103.4 134.1 105.4 138.3 117.5 139.2 121.5 139.4 125.5 139.1 129.5 138.2 133.6 136.5 137.6 133.8 141.6 102 141.6 98.3 135.6 96.1 129.5 94.7 123.5 93.4 113.5 92.3 109.5 91 107.5 87.7 104.7 84.5 103.4 81.6 103.3 79.6 103.8 76.2 105.4 62.2 113.5 59.5 115.8 58.6 117.5 57.7 121.5 58.3 125.5 60.3 133.6 60.4 137.6 59.9 141.6 -1 141.6 -1 -1Z"/>
<path fill="#bdb3ff" d="M-1 -1 158.2 -1 158.2 84.8 146.1 86.6 136.8 89.4 132.7 91.4 130 93.3 126.3 97.4 124.5 101.4 124.3 103.4 125.2 107.5 128.2 115.5 128.8 121.5 128 125.5 127.1 127.5 125.9 129.5 123.9 131.6 121.9 132.9 117.9 134.1 113.9 133.7 109.8 131.9 105.8 128.1 103.1 123.5 101.1 117.5 100.2 109.5 99.5 107.5 97.9 105.4 95.2 103.4 90.8 101.4 85.7 100.3 81.6 100.3 77.6 101.4 75.6 102.4 59.5 111.2 56.5 113.5 54.8 115.5 52.5 119.5 51.3 123.5 49.7 131.6 48.1 135.6 43.9 141.6 -1 141.6 -1 -1Z"/>
<path fill="#e9e6ff" d="M-1 -1 158.2 -1 158.2 77.8 146.1 80.3 136 83.9 129.3 87.4 115.9 96.7 111.9 98.4 107.8 99.2 103.8 99.5 85.7 97.4 79.6 98.1 75.6 99.5 57.4 109.2 54.1 111.5 51.8 113.5 48.4 117.5 43.3 124.9 39.3 130 35.3 133.4 29.2 136.7 23.2 138.2 17.1 138.4 11.1 137.3 5 135 -1 131 -1 -1Z"/>
<path fill="#fde8e7" d="M-1 -1 158.2 -1 158.2 71.4 146.1 74.6 138 77.6 130 81.8 115.9 90.2 109.8 92.6 101.8 94.2 83.6 95 79.6 95.6 75.6 96.8 51.8 109.5 46.5 113.5 37.3 121.5 33.3 124.2 29.2 126.1 25.2 127.3 19.2 127.7 15.1 127.1 11.1 125.8 7.1 123.7 4.2 121.5 1 118.4 -1 115.7 -1 -1Z"/>
<path fill="#fabbb6" d="M-1 -1 158.2 -1 158.2 65.3 146.1 69 138 72.4 132 75.6 117.9 84.2 109.8 87.8 99.8 90.3 79.6 93.1 73.6 94.8 63.5 100.8 49.3 107.5 37.3 114.7 31.2 117.5 27.2 118.6 23.2 119 19.2 118.6 15.1 117.4 11.5 115.5 9.1 113.6 5.4 109.5 2.3 103.4 0.8 97.4 0.4 89.4 2 75.3 1.5 69.3 -1 55.3 -1 -1Z"/>
<path fill="#f78e85" d="M-0.5 -1 158.2 -1 158.2 59.3 146.1 63.5 138 67 132 70.4 117.9 79.7 109.8 83.5 91.7 88.3 73.6 91.6 71.5 92.5 64.6 97.4 61.1 99.4 33.3 110.7 29.2 111.6 25.2 111.8 19.2 110.5 15.1 108.2 11.1 104.1 8.5 99.4 7.1 93.9 6.6 87.4 7.9 75.3 6.7 59.3 6 29.1 4 15.1 2 7 -0.5 -1Z"/>
<path fill="#f46458" d="M15.3 -1 158.2 -1 158.2 53.1 144.1 58.7 136 62.5 130 66.3 117.9 75.3 113.9 77.6 109.8 79.3 85.7 86.7 79.6 87.6 71.5 87.8 69.5 88.8 65.6 93.4 63.5 95.2 59.8 97.4 55.4 99 39.3 103.7 31.2 105.5 27.2 105.5 23.2 104.6 19.2 102.3 17.1 100.5 15.1 97.7 13.2 93.4 12.1 87.4 11.9 77.3 12.6 63.3 13.7 55.2 17.4 35.2 18.4 25.1 18 13.1 17.1 7 15.3 -1Z"/>
<path fill="#f13727" d="M33.1 -1 158.2 -1 158.2 46.4 152.9 49.2 140.1 54.7 132 59.2 126 63.5 116.8 71.3 111.9 74.2 107.8 75.7 95.7 78.7 86 83.4 83.6 84.1 79.6 84.6 75.6 83.4 73.6 81.3 71.5 76.9 69.5 74.1 67.5 73.1 65.5 73 63.5 73.7 61.5 75.5 60.5 77.3 60.2 79.3 60.5 81.3 61.4 83.4 63.8 87.4 64 89.4 63.3 91.4 61.5 93.4 59.5 94.6 55.4 96 37.3 99.2 31.2 99.7 27.2 99.1 23.2 96.9 21.2 94.9 19.2 91.6 17.3 85.4 16.1 75.3 17.1 68.8 19.2 61.9 29.3 39.2 32.2 31.1 34.4 23.1 35.2 17.1 35.2 11.1 34.5 5 33.1 -1Z"/>
<path fill="#e31f0e" d="M57 -1 158.2 -1 158.2 37.5 154.5 41.2 151.7 43.2 140.1 48.7 126 57.2 113.9 68.2 109.8 70.6 105.8 71.6 93.7 72.3 91.7 72.9 89.7 74.3 84.6 79.3 81.6 80.7 79.6 80.7 77.8 79.3 75.5 73.3 74.3 71.3 72.3 69.3 69.5 68 65.5 68.1 62.3 69.3 59.6 71.3 58 73.3 57.1 75.3 56.6 77.3 56.9 81.3 58.3 85.4 59.4 87.4 59.9 89.4 58.1 91.4 53.4 92.4 41.3 91.7 33.3 92.6 31.2 92.5 29.2 91.9 26.6 89.4 25.2 85.4 24 75.3 24.9 69.3 27.2 64.7 37.3 53.8 43.3 42.4 47.4 36.9 49.4 34.9 53.4 32 57.4 30.5 59.5 30.2 63.5 30.4 65.5 31 75.6 34.8 77.6 34.5 79.6 31.9 83.6 22.8 86.4 19.1 87.7 17.9 91.7 16.2 97.7 15.1 99.8 14.3 101.3 13.1 101.8 11.6 101.3 9 99.8 7.2 97.7 6.3 95.7 6.2 92.5 7 87.7 9.8 83.6 11.5 77.6 12 71.5 11.1 67.5 9.6 63.5 6.9 59.8 3 57 -1Z"/>
<path fill="#cb1c0d" d="M113.4 -1 158.2 -1 158.2 14.4 156.2 19.1 153.4 29.1 151.3 33.1 149.8 35.2 146.1 38.5 140.1 42 132 48.1 120.7 55.2 109.8 64.3 107.8 65.4 101.8 66.3 89.7 65.3 81.6 66.7 79.6 66.4 71.5 63.7 65.5 63.2 61.5 63.7 59.5 64.4 53.4 68.9 51.4 69.8 49.4 69.7 47.8 67.3 47.6 65.3 48.3 61.3 51.3 53.2 53.5 49.2 55.1 47.2 57.4 45.2 59.5 44 63.5 43 67.5 43 77.6 45.2 79.6 45 81.6 44.3 83.2 43.2 86.3 39.2 90.4 31.1 93.6 27.1 97.7 24.3 105.8 20.3 107.8 18.7 110.8 15.1 112.7 11.1 113.7 7 113.9 3 113.4 -1Z"/>
<path fill="#b2190b" d="M128.5 1 130.2 -1 143 -1 144.1 2.8 144.8 7 145.6 23.1 144.4 29.1 142 33.1 133.5 41.2 128.5 45.2 121.9 49.2 109.8 55.1 103.8 58.8 99.8 60 95.7 60.4 89.7 60.4 85.7 59.9 77.6 58 69.5 57.9 67.3 57.2 65.5 55.6 65.2 53.2 67.5 51 69.5 50.6 71.5 50.7 77.6 52 79.6 51.7 81.6 50.9 85.7 48.1 90.4 43.2 95.7 34 97.9 31.1 102.6 27.1 111.8 21.1 116.5 17.1 120 13.1 128.5 1Z"/>
<path fill="#9c160a" d="M129 17.1 132 16.7 134 17.3 136 19.7 136.9 23.1 136.8 27.1 136.2 29.1 133.9 33.1 130.5 37.2 126.1 41.2 123.9 42.6 115.9 46.7 111.9 48 105.8 49.3 101.8 49.7 99 49.2 98.2 47.2 100.2 39.2 102 35.2 105.1 31.1 110.1 27.1 126 18.2 129 17.1Z"/>
<path fill="#831208" d="M116.5 31.1 121.9 29.4 123.9 29.5 124.8 31.1 123.9 33.1 122 35.2 119.1 37.2 113.9 39.1 111.9 38.7 111.1 37.2 111.5 35.2 113.1 33.1 116.5 31.1Z"/></g>
<g clip-path="url(#fall)"><path d="M136.2 15.6L143.4 6.3M141.5 15.6L148.6 6.3M146.7 15.6L153.9 6.3M152 15.6L159.1 6.3M110 20.8L117.2 11.5M115.3 20.8L122.4 11.5M120.5 20.8L127.7 11.5M125.8 20.8L132.9 11.5M131 20.8L138.1 11.5M136.2 20.8L143.4 11.5M141.5 20.8L148.6 11.5M146.7 20.8L153.9 11.5M152 20.8L159.1 11.5M104.8 26L112 16.7M110 26L117.2 16.7M115.3 26L122.4 16.7M120.5 26L127.7 16.7M125.8 26L132.9 16.7M131 26L138.1 16.7M136.2 26L143.4 16.7M141.5 26L148.6 16.7M146.7 26L153.9 16.7M152 26L159.1 16.7M99.6 31.2L106.7 21.9M104.8 31.2L112 21.9M110 31.2L117.2 21.9M115.3 31.2L122.4 21.9M120.5 31.2L127.7 21.9M125.8 31.2L132.9 21.9M131 31.2L138.1 21.9M136.2 31.2L143.4 21.9M141.5 31.2L148.6 21.9M146.7 31.2L153.9 21.9M152 31.2L159.1 21.9M94.3 36.5L103.1 28.8M99.6 36.5L106.7 27.1M104.8 36.5L112 27.1M110 36.5L117.2 27.1M115.3 36.5L122.4 27.1M120.5 36.5L127.7 27.1M125.8 36.5L132.9 27.1M131 36.5L138.1 27.1M136.2 36.5L143.4 27.1M141.5 36.5L148.6 27.1M146.7 36.5L153.9 27.1M152 36.5L159.1 27.1M89.1 41.7L97.9 34M94.3 41.7L103.1 34M99.6 41.7L106.7 32.3M104.8 41.7L112 32.3M110 41.7L117.2 32.3M115.3 41.7L122.4 32.3M120.5 41.7L127.7 32.3M125.8 41.7L132.9 32.3M131 41.7L138.1 32.3M136.2 41.7L143.4 32.3M141.5 41.7L148.6 32.3M146.7 41.7L153.9 32.3M152 41.7L159.1 32.3M83.8 46.9L92.6 39.2M89.1 46.9L97.9 39.2M94.3 46.9L103.1 39.2M99.6 46.9L106.7 37.5M104.8 46.9L112 37.5M110 46.9L117.2 37.5M115.3 46.9L122.4 37.5M120.5 46.9L127.7 37.5M125.8 46.9L132.9 37.5M131 46.9L138.1 37.5M136.2 46.9L143.4 37.5M141.5 46.9L148.6 37.5M146.7 46.9L153.9 37.5M152 46.9L159.1 37.5M62.9 52.1L71.7 44.4M68.1 52.1L76.9 44.4M73.4 52.1L82.2 44.4M78.6 52.1L87.4 44.4M83.8 52.1L92.6 44.4M89.1 52.1L97.9 44.4M94.3 52.1L103.1 44.4M99.6 52.1L106.7 42.7M104.8 52.1L112 42.7M110 52.1L117.2 42.7M115.3 52.1L122.4 42.7M120.5 52.1L127.7 42.7M125.8 52.1L132.9 42.7M131 52.1L138.1 42.7M136.2 52.1L143.4 42.7M47.2 57.3L56 49.6M52.4 57.3L61.2 49.6M57.6 57.3L66.4 49.6M62.9 57.3L71.7 49.6M68.1 57.3L76.9 49.6M73.4 57.3L82.2 49.6M78.6 57.3L87.4 49.6M83.8 57.3L92.6 49.6M89.1 57.3L97.9 49.6M94.3 57.3L103.1 49.6M99.6 57.3L106.7 47.9M104.8 57.3L112 47.9M110 57.3L117.2 47.9M115.3 57.3L122.4 47.9M120.5 57.3L127.7 47.9M125.8 57.3L132.9 47.9M131 57.3L138.1 47.9M41.9 62.5L50.7 54.8M47.2 62.5L56 54.8M52.4 62.5L61.2 54.8M57.6 62.5L66.4 54.8M62.9 62.5L71.7 54.8M68.1 62.5L76.9 54.8M73.4 62.5L82.2 54.8M78.6 62.5L87.4 54.8M83.8 62.5L92.6 54.8M89.1 62.5L97.9 54.8M94.3 62.5L103.1 54.8M99.6 62.5L106.7 53.1M104.8 62.5L112 53.1M110 62.5L117.2 53.1M115.3 62.5L122.4 53.1M120.5 62.5L127.7 53.1M125.8 62.5L132.9 53.1M36.7 67.7L45.5 60M41.9 67.7L50.7 60M47.2 67.7L56 60M52.4 67.7L61.2 60M57.6 67.7L66.4 60M62.9 67.7L71.7 60M68.1 67.7L76.9 60M73.4 67.7L82.2 60M83.8 67.7L92.6 60M89.1 67.7L97.9 60M94.3 67.7L103.1 60M99.6 67.7L106.7 58.3M104.8 67.7L112 58.3M110 67.7L117.2 58.3M5.2 72.9L14 65.2M10.5 72.9L19.3 65.2M26.2 72.9L35 65.2M31.4 72.9L40.2 65.2M36.7 72.9L45.5 65.2M41.9 72.9L50.7 65.2M47.2 72.9L56 65.2M52.4 72.9L61.2 65.2M57.6 72.9L66.4 65.2M62.9 72.9L71.7 65.2M68.1 72.9L76.9 65.2M78.6 72.9L87.4 65.2M83.8 72.9L92.6 65.2M89.1 72.9L97.9 65.2M94.3 72.9L103.1 65.2M99.6 72.9L106.7 63.6M5.2 78.1L14 70.4M10.5 78.1L19.3 70.4M26.2 78.1L35 70.4M31.4 78.1L40.2 70.4M36.7 78.1L45.5 70.4M41.9 78.1L50.7 70.4M47.2 78.1L56 70.4M52.4 78.1L61.2 70.4M57.6 78.1L66.4 70.4M62.9 78.1L71.7 70.4M78.6 78.1L87.4 70.4M83.8 78.1L92.6 70.4M26.2 83.3L35 75.6M31.4 83.3L40.2 75.6M36.7 83.3L45.5 75.6M41.9 83.3L50.7 75.6M47.2 83.3L56 75.6M52.4 83.3L61.2 75.6M57.6 83.3L66.4 75.6M62.9 83.3L71.7 75.6M26.2 88.5L35 80.8M31.4 88.5L40.2 80.8M36.7 88.5L45.5 80.8M41.9 88.5L50.7 80.8M47.2 88.5L56 80.8M52.4 88.5L61.2 80.8M57.6 88.5L66.4 80.8M62.9 88.5L71.7 80.8M131 93.7L138.1 84.4M136.2 93.7L143.4 84.4M131 98.9L134.8 95.1M136.2 98.9L140.1 95.1M83.8 104.1L87.7 100.3M131 104.1L134.8 100.3M136.2 104.1L140.1 100.3M78.6 109.4L82.4 105.5M83.8 109.4L87.7 105.5M89.1 109.4L92.9 105.5M115.3 109.4L119.1 105.5M120.5 109.4L124.4 105.5M78.6 114.6L82.4 110.7M83.8 114.6L87.7 110.7M89.1 114.6L92.9 110.7M104.8 114.6L108.6 110.7M110 114.6L113.9 110.7M115.3 114.6L119.1 110.7M120.5 114.6L124.4 110.7M78.6 119.8L82.4 115.9M83.8 119.8L87.7 115.9M89.1 119.8L92.9 115.9M99.6 119.8L103.4 115.9M104.8 119.8L108.6 115.9M110 119.8L113.9 115.9M115.3 119.8L119.1 115.9M120.5 119.8L124.4 115.9M62.9 125L66.7 121.1M68.1 125L72 121.1M73.4 125L77.2 121.1M78.6 125L82.4 121.1M83.8 125L87.7 121.1M89.1 125L92.9 121.1M57.6 130.2L61.5 126.3M62.9 130.2L66.7 126.3M68.1 130.2L72 126.3M73.4 130.2L77.2 126.3M78.6 130.2L82.4 126.3M83.8 130.2L87.7 126.3M89.1 130.2L92.9 126.3M57.6 135.4L61.5 131.5M62.9 135.4L66.7 131.5M68.1 135.4L72 131.5M73.4 135.4L77.2 131.5M78.6 135.4L82.4 131.5M83.8 135.4L87.7 131.5M89.1 135.4L92.9 131.5" stroke="#e8d850" stroke-width="0.35" stroke-opacity="0.45" fill="none" stroke-linecap="round"/><path d="M142.5 7.4h0.01M147.8 7.4h0.01M153 7.4h0.01M158.3 7.4h0.01M116.3 12.6h0.01M121.6 12.6h0.01M126.8 12.6h0.01M132.1 12.6h0.01M137.3 12.6h0.01M142.5 12.6h0.01M147.8 12.6h0.01M153 12.6h0.01M158.3 12.6h0.01M111.1 17.8h0.01M116.3 17.8h0.01M121.6 17.8h0.01M126.8 17.8h0.01M132.1 17.8h0.01M137.3 17.8h0.01M142.5 17.8h0.01M147.8 17.8h0.01M153 17.8h0.01M158.3 17.8h0.01M105.9 23h0.01M111.1 23h0.01M116.3 23h0.01M121.6 23h0.01M126.8 23h0.01M132.1 23h0.01M137.3 23h0.01M142.5 23h0.01M147.8 23h0.01M153 23h0.01M158.3 23h0.01M102.1 29.7h0.01M105.9 28.2h0.01M111.1 28.2h0.01M116.3 28.2h0.01M121.6 28.2h0.01M126.8 28.2h0.01M132.1 28.2h0.01M137.3 28.2h0.01M142.5 28.2h0.01M147.8 28.2h0.01M153 28.2h0.01M158.3 28.2h0.01M96.8 34.9h0.01M102.1 34.9h0.01M105.9 33.4h0.01M111.1 33.4h0.01M116.3 33.4h0.01M121.6 33.4h0.01M126.8 33.4h0.01M132.1 33.4h0.01M137.3 33.4h0.01M142.5 33.4h0.01M147.8 33.4h0.01M153 33.4h0.01M158.3 33.4h0.01M91.6 40.1h0.01M96.8 40.1h0.01M102.1 40.1h0.01M105.9 38.6h0.01M111.1 38.6h0.01M116.3 38.6h0.01M121.6 38.6h0.01M126.8 38.6h0.01M132.1 38.6h0.01M137.3 38.6h0.01M142.5 38.6h0.01M147.8 38.6h0.01M153 38.6h0.01M158.3 38.6h0.01M70.6 45.3h0.01M75.9 45.3h0.01M81.1 45.3h0.01M86.3 45.3h0.01M91.6 45.3h0.01M96.8 45.3h0.01M102.1 45.3h0.01M105.9 43.8h0.01M111.1 43.8h0.01M116.3 43.8h0.01M121.6 43.8h0.01M126.8 43.8h0.01M132.1 43.8h0.01M137.3 43.8h0.01M142.5 43.8h0.01M54.9 50.5h0.01M60.1 50.5h0.01M65.4 50.5h0.01M70.6 50.5h0.01M75.9 50.5h0.01M81.1 50.5h0.01M86.3 50.5h0.01M91.6 50.5h0.01M96.8 50.5h0.01M102.1 50.5h0.01M105.9 49.1h0.01M111.1 49.1h0.01M116.3 49.1h0.01M121.6 49.1h0.01M126.8 49.1h0.01M132.1 49.1h0.01M137.3 49.1h0.01M49.7 55.7h0.01M54.9 55.7h0.01M60.1 55.7h0.01M65.4 55.7h0.01M70.6 55.7h0.01M75.9 55.7h0.01M81.1 55.7h0.01M86.3 55.7h0.01M91.6 55.7h0.01M96.8 55.7h0.01M102.1 55.7h0.01M105.9 54.3h0.01M111.1 54.3h0.01M116.3 54.3h0.01M121.6 54.3h0.01M126.8 54.3h0.01M132.1 54.3h0.01M44.4 60.9h0.01M49.7 60.9h0.01M54.9 60.9h0.01M60.1 60.9h0.01M65.4 60.9h0.01M70.6 60.9h0.01M75.9 60.9h0.01M81.1 60.9h0.01M91.6 60.9h0.01M96.8 60.9h0.01M102.1 60.9h0.01M105.9 59.5h0.01M111.1 59.5h0.01M116.3 59.5h0.01M13 66.1h0.01M18.2 66.1h0.01M33.9 66.1h0.01M39.2 66.1h0.01M44.4 66.1h0.01M49.7 66.1h0.01M54.9 66.1h0.01M60.1 66.1h0.01M65.4 66.1h0.01M70.6 66.1h0.01M75.9 66.1h0.01M86.3 66.1h0.01M91.6 66.1h0.01M96.8 66.1h0.01M102.1 66.1h0.01M105.9 64.7h0.01M13 71.3h0.01M18.2 71.3h0.01M33.9 71.3h0.01M39.2 71.3h0.01M44.4 71.3h0.01M49.7 71.3h0.01M54.9 71.3h0.01M60.1 71.3h0.01M65.4 71.3h0.01M70.6 71.3h0.01M86.3 71.3h0.01M91.6 71.3h0.01M33.9 76.5h0.01M39.2 76.5h0.01M44.4 76.5h0.01M49.7 76.5h0.01M54.9 76.5h0.01M60.1 76.5h0.01M65.4 76.5h0.01M70.6 76.5h0.01M33.9 81.7h0.01M39.2 81.7h0.01M44.4 81.7h0.01M49.7 81.7h0.01M54.9 81.7h0.01M60.1 81.7h0.01M65.4 81.7h0.01M70.6 81.7h0.01M137.3 85.5h0.01M142.5 85.5h0.01M134.4 95.6h0.01M139.6 95.6h0.01M87.2 100.8h0.01M134.4 100.8h0.01M139.6 100.8h0.01M82 106h0.01M87.2 106h0.01M92.5 106h0.01M118.7 106h0.01M123.9 106h0.01M82 111.2h0.01M87.2 111.2h0.01M92.5 111.2h0.01M108.2 111.2h0.01M113.4 111.2h0.01M118.7 111.2h0.01M123.9 111.2h0.01M82 116.4h0.01M87.2 116.4h0.01M92.5 116.4h0.01M102.9 116.4h0.01M108.2 116.4h0.01M113.4 116.4h0.01M118.7 116.4h0.01M123.9 116.4h0.01M66.3 121.6h0.01M71.5 121.6h0.01M76.7 121.6h0.01M82 121.6h0.01M87.2 121.6h0.01M92.5 121.6h0.01M61 126.8h0.01M66.3 126.8h0.01M71.5 126.8h0.01M76.7 126.8h0.01M82 126.8h0.01M87.2 126.8h0.01M92.5 126.8h0.01M61 132h0.01M66.3 132h0.01M71.5 132h0.01M76.7 132h0.01M82 132h0.01M87.2 132h0.01M92.5 132h0.01" stroke="#e8d040" stroke-width="1.3" stroke-opacity="0.75" fill="none" stroke-linecap="round"/></g>
<use href="#geo"/>
<path d="M0 91.2 L10 87.5 L20 83.5 L30.4 79.6 L40 77.2 L50 75.2 L60.8 73 L70 71.5 L80.4 69.2 L87 68.2" fill="none" stroke="#000" stroke-width="1.3" stroke-dasharray="4.2 2.4"/>
<path d="M119.5 69.4 L130 69 L145 68.5 L157.2 68" fill="none" stroke="#000" stroke-width="1.3" stroke-dasharray="4.2 2.4"/>
<path d="M88.2 141 L88.8 132 L89.7 124 L90.6 111 L91.5 102.3 L94.2 96.1 L97.7 94.3 L104.8 91.7 L122.5 87.3 L140.1 83.7 L157.2 81.1" fill="none" stroke="#000" stroke-width="1.3"/>
<text x="92.1" y="76.6" font-size="10.4" fill="#111" textLength="25.3" lengthAdjust="spacingAndGlyphs" transform="rotate(-2 92.1 76.6)">5860</text>
<text x="98.8" y="103.2" font-size="10.4" fill="#111" textLength="25.3" lengthAdjust="spacingAndGlyphs" transform="rotate(-8.5 98.8 103.2)">5880</text>
<path d="M0 95.7 L14.5 89.6 L29.6 82.9 L44.6 76 L59.7 69.3 L74.8 63.2 L89.9 56.5 L100 53 L106.5 51.2" fill="none" stroke="#b25824" stroke-width="1.3" stroke-dasharray="4.2 2.4"/>
<path d="M134 44.5 L145 41 L157.2 37.5" fill="none" stroke="#b25824" stroke-width="1.3" stroke-dasharray="4.2 2.4"/>
<path d="M157.2 47.5 L145 49.5 L134 52.3" fill="none" stroke="#b25824" stroke-width="1.3"/>
<path d="M108 64.8 L99 67.8 L89.7 71.5 L80 77 L70.5 84.5 L62.5 92 L57.5 99 L55.4 106 L57 111.5 L61.5 115 L68 117.5 L76.1 119.3 L84 121.3 L92.3 123.5 L105 125.3 L116.7 126.2 L124.6 126.5 L131.8 127.3 L140 129.5 L147 131 L157.2 133" fill="none" stroke="#b25824" stroke-width="1.3"/>
<text x="108.5" y="55.5" font-size="10.4" fill="#b25824" textLength="25.3" lengthAdjust="spacingAndGlyphs" transform="rotate(-21 108.5 55.5)">5860</text>
<text x="108.5" y="69.5" font-size="10.4" fill="#b25824" textLength="25.3" lengthAdjust="spacingAndGlyphs" transform="rotate(-21 108.5 69.5)">5880</text>
</g>
<rect x="0" y="0" width="157.2" height="140.6" fill="none" stroke="#222" stroke-width="1"/>
<path d="M0 5.2 h3.5 M157.2 5.2 h-3.5 M0 31.2 h3.5 M157.2 31.2 h-3.5 M0 57.3 h3.5 M157.2 57.3 h-3.5 M0 83.3 h3.5 M157.2 83.3 h-3.5 M0 109.4 h3.5 M157.2 109.4 h-3.5 M0 135.4 h3.5 M157.2 135.4 h-3.5 M26.2 0 v3.5 M26.2 140.6 v-3.5 M78.6 0 v3.5 M78.6 140.6 v-3.5 M131 0 v3.5 M131 140.6 v-3.5" stroke="#111" stroke-width="1" fill="none"/>
<text x="4.1" y="12.4" font-size="10.2" fill="#111" textLength="70" lengthAdjust="spacingAndGlyphs">(f) Low - High</text>
</g>
<text x="260.2" y="320.8" font-size="10.2" text-anchor="end" fill="#111" textLength="24.7" lengthAdjust="spacingAndGlyphs">40°N</text>
<text x="260.2" y="346.8" font-size="10.2" text-anchor="end" fill="#111" textLength="24.7" lengthAdjust="spacingAndGlyphs">35°N</text>
<text x="260.2" y="372.9" font-size="10.2" text-anchor="end" fill="#111" textLength="24.7" lengthAdjust="spacingAndGlyphs">30°N</text>
<text x="260.2" y="398.9" font-size="10.2" text-anchor="end" fill="#111" textLength="24.7" lengthAdjust="spacingAndGlyphs">25°N</text>
<text x="260.2" y="425" font-size="10.2" text-anchor="end" fill="#111" textLength="24.7" lengthAdjust="spacingAndGlyphs">20°N</text>
<text x="260.2" y="451" font-size="10.2" text-anchor="end" fill="#111" textLength="24.7" lengthAdjust="spacingAndGlyphs">15°N</text>
<g transform="translate(491.7,311.9)"><g clip-path="url(#cp)">
<rect x="-2" y="-2" width="161.2" height="144.6" fill="#0b024c"/>
<path fill="#100268" d="M-1 -1 158.2 -1 158.2 141.6 -1 141.6 -1 -1Z"/>
<path fill="#140387" d="M-1 -1 158.2 -1 158.2 141.6 -1 141.6 -1 -1Z"/>
<path fill="#1903a6" d="M-1 -1 158.2 -1 158.2 141.6 -1 141.6 -1 -1Z"/>
<path fill="#1d04c2" d="M-1 -1 158.2 -1 158.2 141.6 -1 141.6 -1 -1Z"/>
<path fill="#2204e1" d="M-1 -1 158.2 -1 158.2 141.6 -1 141.6 -1 -1ZM63.3 54.4 61.8 55.4 60.6 58.1 60.7 59.5 61.5 60.9 63.3 61.3 64.8 60.9 66.2 59.8 67.5 58.1 67.9 56.6 67.6 54.8 66.2 53.8 63.3 54.4Z"/>
<path fill="#2706ff" d="M-1 -1 158.2 -1 158.2 141.6 -1 141.6 -1 -1ZM64.7 52.2 61 53.7 59.6 55.2 57.4 60.6 54.5 59.4 51.6 59.5 46.2 63.8 46.6 65.3 48.7 65.3 53 64.6 57.4 65.3 60.3 62.9 64.7 62.3 67.3 60.9 69.4 58.1 70.1 53.7 69.1 52.1 64.7 52.2Z"/>
<path fill="#492dff" d="M-1 -1 158.2 -1 158.2 141.6 -1 141.6 -1 -1ZM70.6 47.7 67.6 50 60.3 52.5 58.7 53.7 56 57.2 51.6 57.5 49.6 58.1 44.3 62.9 43.1 66.7 43.3 68.1 44.3 68.3 48.7 66.9 54.5 67.1 57.4 66.8 58.9 66.2 61.8 64 67.9 62.4 69.6 60.9 72.8 55.2 73.5 54.4 75.1 53.7 76.4 52.3 72 47.1 70.6 47.7ZM117.3 20 116.2 20.6 115.4 22 115.3 23.5 115.8 24 117.3 24.1 119.2 23.5 119.6 22 119 20.6 117.3 20ZM118.8 28.8 117.8 29.2 117.3 30 117.3 30.9 119.1 30.7 119.9 29.2 118.8 28.8Z"/>
<path fill="#6e58ff" d="M-1 -1 158.2 -1 158.2 141.6 -1 141.6 -1 -1ZM19.4 80 19 81.1 19.4 81.4 20.9 81.7 21.8 81.1 20.9 80 19.4 80ZM31.1 73.7 29.7 74.4 29.3 75.3 29.7 76.1 31.1 76.6 32.8 75.3 31.9 73.9 31.1 73.7ZM72 44.8 70.6 45.4 67.6 48.4 58.9 52 54.5 55.8 50.1 55.9 48.7 56.4 44.1 60.9 41.4 65.8 38.9 68.1 38.4 69.6 38.6 71 39.9 72.1 42.8 71.7 44.3 71 47.2 68.7 48.7 68.1 50.1 68.2 53 69.3 54.5 69 58.9 67.4 63.3 64.7 69.1 63.8 70.9 62.4 73.5 58.6 74.9 57.3 79.3 56 80.1 55.2 81.3 49.4 81.5 48 81.1 46.5 80.8 46.3 77.9 47.9 76.4 48.2 73.5 45.5 72 44.8ZM115.8 19.2 112.9 22.7 110.9 23.5 110.1 24.9 110.7 26.4 114.6 29.2 114.8 30.7 114.4 32.5 112.9 34.2 111.5 35 112.9 35.3 118.8 33.3 123.1 30.7 124.8 29.2 125.9 26.4 125.4 24.9 121.7 22.3 120.7 20.6 119.1 19.2 117.3 18.7 115.8 19.2Z"/>
<path fill="#9484ff" d="M-1 -1 158.2 -1 158.2 141.6 -1 141.6 -1 -1ZM79.3 37.9 78.6 39.3 79.7 42.2 79.3 43.7 77.9 45.3 76.4 45.6 73.5 43.5 72 43.2 70.6 43.6 67.6 46.6 58.9 50.8 54.5 54.1 53 54.5 48.7 54.5 47.2 55.6 39.9 65 35 66.7 34.6 69.6 34.1 70.9 29.7 71.4 28.2 72 25.4 76.8 23.8 77.5 18 77.2 16.5 77.3 15.1 78 13.5 79.7 13.6 81.1 15.1 82.8 16.5 83.5 19.4 84.2 22.4 84.2 26.8 80.1 34.1 78.8 37.4 75.3 47 72.5 47 71 48.7 69.5 53 71 57.4 68.8 60.3 68 63.3 66.2 69.1 65.7 70.6 65.2 74.9 60.6 76.4 59.6 80.8 58.3 82.8 56.6 83.2 55.2 83.4 48 85.4 43.7 81.2 40.8 80.8 39.6 79.3 37.9ZM89.6 45.8 88.5 46.5 88.4 48 88.8 49.4 89.6 50.3 91 49.6 91.3 48 91 46.8 89.6 45.8ZM117.3 17.6 115.8 17.8 114.4 18.5 112.9 20.3 111.5 20.8 108.5 19.2 107.1 20 105.5 22 105.6 23.5 106.6 24.9 109.3 27.8 111.8 29.2 112.6 30.7 111.5 31.7 107.1 32.6 106.6 33.6 106.7 35 107.7 36.5 110 37.6 111.5 37.9 114.4 37.4 118.8 36.1 122.7 33.6 124.6 33.1 126.1 32.2 127.5 28.9 129.5 26.4 129.2 24.9 126.2 22 123.1 20.9 120.2 18.4 117.3 17.6ZM47.2 72.8 46.9 73.9 48.7 74.5 49 73.9 48.7 73.3 47.2 72.8Z"/>
<path fill="#b6abff" d="M-1 -1 158.2 -1 158.2 141.6 -1 141.6 -1 -1ZM76.4 34.7 75.7 35 75.3 36.5 75.7 40.8 74.9 41.6 70.6 42 69.1 42.6 66.2 45.6 63.3 46.8 54.5 52.5 53 53.1 48.7 53 46.5 53.7 44.9 56.6 42.3 59.5 39.9 63.1 38.4 63.8 34.1 64.2 32 65.3 28.8 68.1 23.8 70.6 22.4 71 20.9 70.8 18.3 69.6 16.5 69.8 14.8 71 14.7 73.9 13.9 75.3 10.7 77.2 5.5 78.2 4 79.7 4.7 81.1 9.2 83.1 10.3 84 12.1 88.6 13.6 89 15.1 88.4 16.5 86.8 18 86.1 22.4 86.5 25.3 88 26.8 86.9 26.6 84 28.2 82.5 32.6 81.9 35.5 80.8 38.4 77.4 39.9 76.4 42.8 75.2 44.3 75.1 47.2 76.4 48.7 76.5 50.1 75.8 51.6 73.5 57.4 70 58.9 69.4 63.3 69.5 65.1 68.1 70.6 67.1 72 66.3 76.4 62.1 83.7 59.2 85 58.1 86.6 54.2 88.1 53.4 91 53 92.5 51.7 93.6 42.2 92.8 37.9 91 35.6 89.6 35.9 88.1 40.2 86.6 41.1 85.2 41 83.1 39.3 80.8 35.5 79.3 34.8 76.4 34.7ZM99.8 17.2 99.2 17.7 99.8 18.1 100.1 17.7 99.8 17.2ZM111.5 13.9 107.1 17.7 102.7 22.3 98.3 24.9 97.8 26.4 98.3 28.2 101.9 32.1 104.2 37.7 105.6 39.2 111.5 40.1 117.3 39.2 120.2 40.7 121.7 40.9 123.1 40.5 124.5 39.3 126.1 37 128.7 35 128.9 30.7 130.4 28.9 132 29.2 132.5 30.7 132.8 33.6 133.4 34 134.8 34.4 136.3 34.3 137.8 33.4 138.7 32.1 138.8 30.7 138 29.2 133.4 24.4 130.4 23.2 127.5 20.6 123.1 18.5 121.7 17.4 120.2 16.7 115.8 16.2 114.4 15.4 112.9 13.8 111.5 13.9ZM142.1 120 143.6 120.7 145.1 120 143.6 118.8 142.1 120ZM148 126.9 148 127.6 149.4 128.3 150.2 127.2 149.4 126.3 148 126.9ZM110 133.6 109.5 134.4 109.7 135.8 111.2 137.3 112 137.3 112.9 136.4 112.9 135.4 111.5 133.9 110 133.6ZM121.7 119.5 121.2 120 121.6 121.4 123.3 121.4 124.1 120 123.1 119.3 121.7 119.5ZM20.1 72.5 20.9 71.6 22.4 71.1 24 73.9 23.1 75.3 22.4 75.6 19.8 75.3 18.6 73.9 20.1 72.5Z"/>
<path fill="#dbd6ff" d="M-1 -1 158.2 -1 158.2 32.6 153.8 32.9 152.4 32.2 151.5 30.7 150.6 26.4 151.1 24.9 152.3 23.5 153.8 19.7 153.8 18.7 152.8 17.7 152.4 17.6 149.4 19.8 145.1 21.9 143.6 21.7 142.1 17.4 140.7 17.3 133.4 21 131.9 21.2 130.7 20.6 130 19.2 129.9 17.7 130.4 16.7 130.4 15.7 129 15.4 128.7 16.3 127.5 17 126.1 16.9 122.7 14.8 117.3 14.5 114.6 12 112.9 11.2 111.5 11.3 108.5 12.4 107.1 12.4 105.6 10 104.2 8.6 102.7 8.5 102 9.1 102.7 11.5 103.8 13.4 105.8 14.8 105.7 16.3 104.2 18 102.7 17.1 102.4 16.3 101.2 15.1 99.8 14.9 98.3 15.4 97.4 16.3 96.9 17.7 96.8 20.6 95.4 22.4 95 23.5 95.5 27.8 96.4 30.7 99.8 34.9 100.3 36.5 100.5 37.9 100.2 43.7 101.3 46.5 102.7 48.1 104.2 48.2 105.6 47.3 106.8 43.7 108.5 42.7 112.9 44.4 117.3 42.2 121.7 43 124.6 42.7 126.1 43.1 127.5 44.7 128.7 45.1 130.4 45.2 131.9 44.7 133.4 43.7 133.2 42.2 131.2 39.3 131.4 37.9 133.8 36.5 136.3 36.1 138.6 36.5 140.1 39.3 142.1 40.4 143.6 40.3 145.1 39.4 148 35.7 149.4 35.3 153.8 37.3 158.2 36.1 158.2 118.2 157.3 118.6 156.6 120 158.2 120.3 158.2 141.6 145.4 141.6 146.7 140.2 149.1 138.7 149.2 137.3 144 134.4 143.4 133 143 128.6 139.2 126.5 136.3 126.6 131.9 125.9 130.4 126 128.5 127.2 128.1 130.1 128.7 131.5 130.4 132.6 135.1 131.5 136.3 132.1 138 134.4 140.3 135.8 141 137.3 138.5 140.2 138.2 141.6 131.5 141.6 131.4 140.2 130.4 139.6 129.6 141.6 -1 141.6 -1 84.2 0.8 85.4 3.4 88.6 4.6 88.3 5.1 86.9 5 85.4 6.3 84.7 8.3 85.4 9.2 86.5 10.5 89.7 12.1 91 15.1 90.9 18 89.5 19.3 89.7 18 93 15.3 95.5 15.6 96.9 16.5 97.1 19.4 94.3 22.4 93.4 24.8 91.2 29.1 88.3 29.7 87.5 31.1 86.8 34.8 89.7 37 90.3 38.6 89.7 40.4 86.9 44.3 85.9 45.2 84 44.3 81.4 42.8 81.1 39.9 83 38.4 82.8 38.6 81.1 39.2 79.7 40.6 78.2 42.8 77.4 47.2 77.8 50.1 77.4 51 76.8 53 74.1 56 72.8 58.7 71 61.8 71.6 64.7 71.4 67.6 69.5 72 68.4 76.4 64.5 77.9 64.3 80.8 65.1 83.7 62.4 89.6 60.7 90.9 59.5 91.5 58.1 92.8 56.6 97.9 53.7 98.8 52.3 98.3 51.5 95.4 50.3 94.9 49.4 94.8 48 95.1 46.5 97.8 43.7 98.1 42.2 95.9 37.9 95 35 94.2 33.6 92.5 32.3 87.1 30.7 88.4 27.8 88.3 26.4 86.9 24.9 85.2 24.5 84.1 24.9 83.4 26.4 83.7 28.4 85.2 30.5 86 30.7 86.4 32.1 86 33.6 86.4 36.5 86 37.9 85.2 38.4 84.8 37.9 83.7 34.3 83.3 33.6 82.3 32.9 79.3 32.6 73.5 32.8 72.1 33.6 72 35 73.6 37.9 73.5 39.5 72 40.3 70.6 40.1 67.6 38.3 66.8 39.3 65.9 42.2 63.3 43.8 59.4 48 53 51.6 47.2 51.8 45.6 52.3 44.3 53.7 42.9 56.6 41.3 58.1 39.3 60.9 38.4 61.6 35.5 61.8 32.6 62.7 23.8 68.3 20.9 68.5 18 67.7 16.5 68 15.1 68.7 13.7 69.6 12.5 71 11.6 73.9 10.7 74.9 9.2 75.8 3.4 77.3 2.2 78.2 1.5 81.1 -1 83.7 -1 -1ZM57.4 8.9 54.5 11.3 50.1 11.2 48.3 12 47.9 13.4 48.7 14.8 51.6 16.4 53.2 17.7 53.9 19.2 53.7 22 52.9 23.5 53 25.1 54.5 24.6 59.7 20.6 60 19.2 57.4 17.5 56.7 16.3 57 14.8 59.7 10.5 59.9 9.1 58.9 8.7 57.4 8.9ZM66.2 22.5 64.8 23.5 64.8 24.9 66.2 25.7 67.6 25.5 68 24.9 67.9 23.5 66.2 22.5ZM105.6 126.9 104.6 128.6 104.9 130.1 107.1 135.8 108.5 138.3 110 139.5 111.5 140 112.9 140 114.4 139.3 115.5 135.8 115.6 134.4 115.2 133 110.9 130.1 109.5 128.6 108.5 126.7 107.1 126.1 105.6 126.9ZM120.2 118.4 119.1 120 118.9 121.4 119.6 122.9 121.7 123.7 123.1 123.8 124.6 123.6 126.1 122.8 126.9 120 126.1 118 124.6 117.4 123.1 117.5 120.2 118.4ZM134.8 115.3 133.9 117.1 133.9 118.6 134.9 120 140.7 122.7 142.1 122.9 145.1 122.7 146.5 121.5 147.2 118.6 147.1 117.1 146.5 116.5 139.2 118.3 137.8 117.5 136.3 115.7 134.8 115.3ZM142.1 109.8 141.2 109.9 142.5 109.9 142.1 109.8ZM148 112.5 147.6 114.2 148 115.8 149.4 115.1 149.9 114.2 149.4 112.4 148 112.5ZM57.4 37.7 57.1 39.3 57.4 39.7 58.9 39.3 58.9 37.5 57.4 37.7ZM120.2 131 119.2 131.5 118.7 133 120.2 134.1 121.7 134.5 123.1 134.2 124.7 133 124 131.5 123.1 131.1 121.7 130.7 120.2 131ZM148 124 145.9 125.8 144.7 128.6 146.5 129.5 150.9 130.4 153.8 133.3 154.1 131.5 153.1 130.1 152.4 124.4 150.9 123.8 148 124ZM138.7 23.5 140.7 23.1 142.4 23.5 143.6 27.2 145.2 29.2 145.5 30.7 144.9 32.1 143.6 32.7 142.1 32.7 140.4 29.2 137.4 26.4 137.2 24.9 138.7 23.5Z"/>
<path fill="#fffdfd" d="M-1 -1 54.3 -1 53 0.4 52.3 1.9 53 4.3 54.8 1.9 56 1.2 58.9 1.2 60.3 1.8 61.5 3.3 60.6 4.8 57.4 5.5 54.5 4.9 52.7 7.6 50.1 8.8 47.2 9.6 46 10.5 45.1 13.4 44.3 14.4 42.8 14.5 39.9 13.9 37 11.2 35.5 10.7 34.1 11 33.4 12 33.5 13.4 34.1 14.3 37.9 17.7 41.4 19.5 42.5 20.6 43 22 42.9 23.5 39.9 24.4 39 24.9 38.4 26 38.8 27.8 39.9 28.8 41.4 29 42.7 27.8 43.4 24.9 44.3 24 47.2 23.1 48.7 19 50.1 19.6 50.5 20.6 50.2 22 48.7 23.5 48.3 24.9 49 26.4 50.1 27.2 52 27.8 54.5 27.8 58.9 25.3 60.3 25.5 64.7 27.9 69.1 29.4 69.9 30.7 69.1 33.1 67.6 34.6 66.2 34.5 63.3 32.8 60.3 32.8 56 36.3 55.1 37.9 54.9 40.8 56 42 59.6 42.2 60.3 43.7 59 46.5 57.4 47.6 53 49.9 45.7 50.9 43.6 52.3 41.4 55.1 39.9 55.6 37 54.8 35.5 55.1 33.7 59.5 26.8 64 23.8 66.6 22.4 67.2 20.9 67.1 18 66.1 16.5 66.5 11.6 69.6 10.4 72.5 9.2 74.1 6.3 75.3 3.3 75.3 0.5 71.6 -1 71.3 -1 -1ZM66.3 -1 158.2 -1 158.2 20.1 156.7 19.4 155 16.3 153.8 15.6 152.4 15.5 149.4 16.5 148 16.6 147.7 16.3 147.9 12 146.5 10.3 145.1 9.5 139.2 11.1 137.8 11.9 138 14.8 137.6 16.3 136.3 17.3 134.8 17.4 134 16.3 133.5 12 131.9 11 129 10.3 124.6 8.7 121.7 9.2 118.8 11.4 117.3 11.2 114.4 9.6 109.2 9.1 108.4 7.6 109.9 4.8 109.9 3.3 108.5 2.4 107.1 2.7 105.6 4.8 104.2 5.9 98.3 6.8 97.9 7.6 100.1 10.5 100.8 12 99.9 13.4 96.5 14.8 95.4 17.9 92.6 20.6 91 23.4 89.6 23.6 85.2 21.6 82.3 20.7 80.8 21.9 79.3 23.9 73.5 24.7 72 23.3 70.5 19.2 66.8 13.4 66.8 12 68.9 7.6 69.4 4.8 69.1 3.2 66.3 -1ZM77.9 6.1 76.4 6.2 74.8 7.6 74.9 9.6 76.4 11.8 77.9 11 79.3 9.1 79.8 7.6 79.3 6.9 77.9 6.1ZM93.9 2.8 93.2 3.3 93.2 4.8 93.9 5.4 95.4 5.7 96.7 4.8 96 3.3 95.4 2.9 93.9 2.8ZM117.3 4.2 116.3 4.8 117.3 5.5 117.7 4.8 117.3 4.2ZM126.1 2.7 125.6 3.3 125.4 4.8 126.1 6.6 127.5 6.4 129.4 4.8 129 3.2 127.5 2.6 126.1 2.7ZM145.1 2.9 144 3.3 143.5 4.8 144 6.2 145.1 7.3 146.5 6.4 147.2 4.8 146.7 3.3 145.1 2.9ZM76.4 14.1 75.3 16.3 76.2 17.7 80.8 19.6 80.9 17.7 79.8 16.3 77.9 14.7 76.4 14.1ZM73.5 29.2 74.9 28.2 76.4 28.2 77.9 28.3 78.8 29.2 76.4 30.1 73.5 29.2ZM62.1 37.9 63.3 37.5 63.7 37.9 64.2 39.3 63.3 41.1 61.8 41.5 61.1 40.8 61.2 39.3 62.1 37.9ZM134 39.3 134.8 38.3 136.3 38.3 139.2 41.9 143.6 43 145.9 42.2 148 40.1 149.4 39.1 150.9 39.9 152.4 42 153.8 42.7 154.6 42.2 156.3 39.3 158.2 38.6 158.2 92.3 156.8 92.6 158.2 93.1 158.2 100 156.7 99.7 155.9 98.4 155.5 94.1 153.8 93.9 150.9 95.1 148 99.1 145 101.3 144.1 102.7 145.6 104.1 149.4 104.9 150.2 105.6 150.2 107 149.4 108 148 108.1 145.1 106.6 139.2 106.7 137.9 105.6 138.3 102.7 137.8 102.1 131.9 99.5 130.4 99.5 129.5 101.3 130.4 102.6 132.9 104.1 134.3 105.6 136.3 108.5 136.1 109.9 134.8 110.3 133.4 108.9 131.9 108.4 123.1 108.5 123.1 109.9 124.9 112.8 125.2 114.2 124 115.7 119.7 117.1 117.7 118.6 116.5 121.4 115.9 124.3 117.3 127.2 115.8 128.4 114.4 128.5 112.9 127.7 111.4 124.3 110 122.6 108.5 122.2 107.1 122.6 104.2 124 102.7 123.6 101.2 120.5 99.8 119.9 98.3 121.1 95 124.3 94.4 125.8 95.4 127.1 99.8 126.5 101.2 127.4 105.5 137.3 106.9 141.6 102.3 141.6 102 140.2 101.1 138.7 99.8 137.4 98.3 137 96.9 137.5 95.4 138.6 94.2 140.2 93.9 141.6 -1 141.6 -1 87.5 1.9 90.4 6.3 91.5 10.7 95 12.1 98.1 13.6 99.1 18 98.8 18.9 98.4 20.9 96.3 22.4 95.8 25.3 96.4 26.8 95.7 26.4 94.1 26.5 92.6 29.7 90.2 31.1 89.8 35.5 91.8 38.4 92.4 39.9 91.9 41.4 89.7 42.8 88.5 46.4 86.9 46.9 85.4 46.4 81.1 46.8 79.7 52.1 78.2 54.5 75.4 57.4 76.3 58.9 76.3 61.1 73.9 66.2 73.2 69.1 71.1 73.5 69.7 76.4 67.1 82.3 67.1 83.4 66.7 86.2 63.8 92.5 61.5 96.9 57.2 101.2 55.2 102.3 52.3 104.2 50.9 108.5 50.5 111.5 49.2 114.4 48.7 115.8 48.8 118 50.9 120.2 51.4 123.1 50.3 127.5 47.7 133.4 45.8 134.8 45.1 135.9 43.7 135.7 42.2 134 39.3ZM145.1 83.2 144.3 84 144.7 85.4 146.5 85.6 147 84 145.1 83.2ZM91 129.9 89.6 131.3 89 133 88.8 134.4 89.6 135.7 93.9 135.2 95.7 134.4 96.3 133 95.4 130.1 93.9 128.8 91 129.9ZM101.2 64.4 99.8 65.3 101.2 66.3 102.7 66.3 104.8 65.3 104.2 64.4 102.7 64 101.2 64.4ZM112.9 111.5 111.6 112.8 112.9 114 113.2 112.8 112.9 111.5ZM117.3 103.8 116.8 105.6 117.3 106.6 118.8 107.3 120.2 107.4 121.3 107 121.2 105.6 120.3 104.1 118.8 103.6 117.3 103.8ZM101.2 109.8 102.7 111.7 104.2 112 104.8 111.4 104.9 109.9 104.2 109.1 102.7 109 101.2 109.8ZM-1 79.7 -1 78.5 -0.8 79.7 -1 79.9 -1 79.7ZM155.3 104.1 156.7 103.5 158.2 103.4 158.2 108.9 156.7 108.4 155.7 107 155.3 104.1ZM140.5 112.8 143.6 113.1 144.5 114.2 143.4 115.7 142.1 116.1 140.7 116.4 139.2 116 138.4 114.2 139.2 113.1 140.5 112.8ZM153.2 114.2 153.8 113.2 155.3 113.6 155.7 114.2 155.3 115.7 153.3 117.1 151.7 120 150.9 120.7 149.4 120.7 149.1 120 149.4 118.9 152.1 117.1 153.2 114.2ZM130 115.7 130.4 115.4 130.7 115.7 130.4 116.7 130 115.7ZM130.4 121.4 131.9 121.4 133.5 122.9 131.9 123.4 130.4 123.1 130.4 121.4ZM119.1 127.2 123.1 126.6 124.8 127.2 124.6 127.7 123.1 128.2 119.1 127.2ZM147.1 131.5 149.4 131.9 150.4 133 149.9 134.4 148 134.5 146.5 133.5 146 133 146.5 131.8 147.1 131.5ZM157.1 131.5 158.2 130.3 158.2 134 157 133 157.1 131.5ZM118.7 137.3 120.2 137.2 120.5 137.3 120.2 137.3 118.7 137.3Z"/>
<path fill="#fcdad8" d="M-1 -1 2.2 -1 2.6 0.4 3.4 0.9 5.3 0.4 6 -1 24.7 -1 25.3 0.6 26.8 1.3 27.6 0.4 27.6 -1 45 -1 45.1 0.4 47.3 3.3 47.7 4.8 47.2 5.7 45.7 6.1 44.3 5.6 41.4 3.7 39.9 3.4 38.4 4.1 38.2 4.8 39.9 8.6 42.2 10.5 42.2 12 41.4 12.2 40.7 12 38.4 9.9 34.1 8.9 33.1 7.6 32.6 4 32 3.3 31.1 3 29.7 3 28.2 4.1 26.5 10.5 26.8 11.6 28.2 10.7 29.7 10.7 31.1 11.3 31.7 13.4 31.9 16.3 31.5 17.7 31.8 19.2 32.5 20.6 34 22 36.6 23.5 37.2 29.2 40.4 32.1 42.8 36.8 44.3 37.8 45.7 37.4 49.5 35 50.3 33.6 49.7 30.7 50.1 30.5 51.6 30.3 54.2 30.7 55.2 32.1 53.7 35 53 39.7 50.9 43.7 51.6 46.5 51.5 48 44.3 50.3 41.4 52.9 39.9 53.6 35.5 51.9 34.1 53.4 32.6 57.4 31.1 59 29.7 59.7 23.3 60.9 23.1 63.8 22.4 65.1 20.9 65.2 19.4 64.2 18 64 16.5 64.5 13.6 66.8 12.1 67.2 11.1 66.7 10 63.8 9.2 62.9 7.8 63 6.3 64 5.3 65.3 4.8 66.7 5.7 68.1 9.2 69.4 9.4 71 8.6 72.5 6.3 73.8 4.8 73.7 3.7 72.5 2.7 69.6 1.9 69 -1 68.4 -1 5.7 0.5 5.5 1.1 4.8 1.3 3.3 0.5 2 -1 1.8 -1 -1ZM9.2 3.1 8.9 4.8 10.2 6.2 12.1 7.2 13.1 6.2 13.4 4.8 13.1 3.3 12.1 2.6 9.2 3.1ZM16.5 11.4 16.1 12 16.5 13.6 18 14.2 19.8 13.4 19.9 12 19.4 11.6 18 11 16.5 11.4ZM26.8 23.4 26.7 23.5 26.8 23.7 26.8 23.5 26.8 23.4ZM12.1 56.1 11.6 56.6 11.5 58.1 12.1 59.6 13.6 59.1 14 58.1 13.6 56.5 12.1 56.1ZM77.4 -1 103.8 -1 103.7 0.4 104.1 1.9 103.8 3.3 102.7 4.4 101.2 4.8 99.8 4.6 96.7 1.9 95.4 1.4 92.5 1.6 90.9 3.3 89.6 6.1 88.1 5.5 86.6 1.7 85.2 1 80.8 2.6 77.1 3.3 74.6 3.3 77.3 0.4 77.4 -1ZM105.7 -1 135.8 -1 136.3 -0.1 137.8 -1 158.2 -1 158.2 2.3 156.7 2.6 153.8 4.6 152.4 4.8 150.9 4.5 148 1.7 145.1 1.2 143.6 1.4 142.6 1.9 141.7 3.3 141.5 6.2 140.9 7.6 139.2 8 133.9 4.8 133 3.3 131.9 2.5 124.6 -0.8 123.1 -0.6 122.9 0.4 123 3.3 121.7 5 118.8 2.1 112.9 1.6 110 -0.1 105.7 -1ZM90.7 7.6 91 7.4 93.9 7.6 95.4 9.1 92.9 12 92.5 14.3 91 14.7 88.1 13.7 87.3 12 88.1 9.9 90.7 7.6ZM157.7 7.6 158.2 7 158.2 7.9 157.7 7.6ZM71.9 9.1 72.7 12 72 13.7 70.6 13 70.3 12 70.6 10.2 71.9 9.1ZM150.8 10.5 152.4 9.5 153.8 9.5 155.3 10.4 155.5 12 155 13.4 153.8 13.9 151.4 13.4 150.6 12 150.8 10.5ZM157.8 16.3 158.2 15.9 158.2 17.5 157.8 16.3ZM38 20.6 40 20.6 40.2 22 38.4 22.5 37.5 22 38 20.6ZM149.4 46.5 150.9 45.7 153.8 45.9 156.7 48.5 158.2 49 158.2 89.6 156.7 89.4 150.9 86.5 147.8 82.5 145.1 81.6 143.3 82.5 142.1 86 137.8 87.8 136.3 89 133.4 89.8 133 91.2 133.1 92.6 133.8 94.1 134.8 94.8 138.7 95.5 138.4 96.9 137.4 98.4 136.3 99.1 134.8 99 131.9 97.2 130.4 97.2 128.7 98.4 126.1 102.6 124.6 102.6 118.8 100.5 117.6 99.8 117.3 99.1 115.8 98.7 112.4 99.8 112 101.3 114.5 104.1 115.8 108.3 119.7 109.9 122.2 112.8 122.5 114.2 120.2 115.4 118.8 115.5 117.3 115.1 115.8 113 115 109.9 114.4 109.1 110 108.2 108.5 105.7 107.1 105 105.6 105 102.7 106.5 99.8 107.1 98.5 108.5 98.5 109.9 99.5 111.4 104.2 115.5 107.5 115.7 108.8 117.1 108.7 118.6 105.6 120.1 104.2 119.7 102.7 118.3 99.8 118.2 98.3 119.2 95.4 122.4 92.5 123.7 91 126.3 89.6 127.1 86.6 125.3 85.2 124.9 83.7 125.5 82.9 127.2 83.2 128.6 86.5 131.5 86.5 133 82.3 137.3 81.5 138.7 81.1 141.6 7.3 141.6 6.9 140.2 6.3 139.6 4.8 139.3 3.4 139.8 2.6 141.6 -1 141.6 -1 94.7 3.4 93.9 5 95.5 5.5 96.9 2.3 98.4 1.6 99.8 2 101.3 3.4 102.2 4.8 102.4 6.5 101.3 6.3 98.1 7.8 98.7 8.4 101.3 7.5 108.5 7.8 109.2 9.2 108.7 10.7 107.6 13.6 106.5 14.4 105.6 14.2 102.7 14.8 101.3 18 100.6 20.9 101.2 23.8 99 28.2 97.9 29.5 96.9 29.9 94.1 30.9 92.6 32.6 92.7 38.4 94.5 39.9 94.4 41.4 93.1 42.8 90.7 44.2 89.7 48.7 89.3 49.3 88.3 48.3 82.5 48.7 81 50.1 80.7 51.6 81.4 53 82.9 54.5 83.3 56 82.8 57.4 80.6 58.9 79.8 63.3 79.7 64.6 76.8 68.2 75.3 71 72.5 74.9 71.4 77.9 69.1 79.3 68.8 85.2 69.3 87.4 65.3 95.4 62.4 98.3 58.9 99.8 58.5 104.2 59.2 105.3 58.1 106.5 55.2 107.1 54.6 111.5 53.1 112.9 52.9 115.8 54.3 118.8 54.6 121.7 53.8 126.1 51.7 127.5 51.7 130.4 53.7 131.9 54.1 132.9 53.7 132.5 52.3 130.7 49.4 131.9 48 136.3 47.3 145.1 51.2 148 48.7 149.4 46.5ZM9.2 125.9 8.5 127.2 9.2 127.8 11.4 128.6 15.2 128.6 14 127.2 12.1 127 9.2 125.9ZM12.1 115 11.8 115.7 12.1 116.8 12.6 115.7 12.1 115ZM67.6 136.8 66.6 137.3 67.6 138.6 68.7 137.3 67.6 136.8ZM74.9 134.3 73.5 135.8 73.6 137.3 74.9 138.3 76.4 138.6 77.9 138.5 79.2 137.3 78.8 135.8 77.9 134.8 76.4 134.2 74.9 134.3ZM92.5 113.2 87.9 117.1 87.3 120 88.1 121.9 89.6 122.4 90.9 121.4 91.6 117.1 95 114.2 93.9 113.3 92.5 113.2ZM101.2 62.2 98.3 63 97.1 63.8 96.9 65.3 97.5 66.7 98.3 67.4 99.8 67.8 104.2 67.5 106.5 66.7 107.5 65.3 107.6 63.8 107.1 62.6 105.6 61.7 104.2 61.5 101.2 62.2ZM121.7 91.1 118.9 92.6 117.3 94.1 117 95.5 117.3 97.1 121.9 92.6 121.7 91.1ZM131.9 86.8 131 88.3 131.9 88.8 132.4 88.3 132.2 86.9 131.9 86.8ZM134.8 55.6 134.4 56.6 134.8 57 135.3 56.6 134.8 55.6ZM134.8 83.7 134.4 84 134.4 85.4 134.9 85.4 135.2 84 134.8 83.7ZM140.4 92.6 141.3 92.6 143.6 94 146.5 94.7 147.3 95.5 147.1 96.9 145.1 98.8 143.1 98.4 140.7 95.7 140 95.5 139.3 94.1 140.4 92.6ZM86.2 140.2 89.6 138.7 91 138.9 91.8 140.2 91.8 141.6 85 141.6 86.2 140.2Z"/>
<path fill="#fab4ae" d="M-1 -1 0.5 -1 0.9 -1 0.5 0.1 -1 0.7 -1 -1ZM7.7 -1 7.8 -1 11.1 -1 9.2 0.4 7.7 -1ZM19.2 -1 21 -1 21.3 0.4 23.4 3.3 23.3 4.8 22.4 5.4 19.4 8.8 16.5 9.2 15.2 7.6 15.4 6.2 16.5 3.8 18.4 1.9 19.2 0.4 19.2 -1ZM37 -1 38.4 -1 43.2 -1 42.8 0.6 41.4 1.8 39.9 1.8 38.4 1.4 37.5 0.4 37 -1ZM92.1 -1 92.5 -1 97.8 -1 96.9 -0.3 95.4 -0.1 93.9 -0.2 92.1 -1ZM114.4 -1 115.8 -1 119.3 -1 118.8 -0.4 117.3 0.2 115.8 -0.1 114.4 -1ZM129.4 -1 130.4 -1 131.6 -1 130.4 -0.6 129.4 -1ZM144.1 -1 145.1 -1 147.3 -1 145.1 -0.8 144.1 -1ZM2.9 3.3 3.4 2.7 4.8 2.4 6.2 3.3 5.6 4.8 4.8 5.1 3.4 4.9 2.9 3.3ZM-1 7.6 -1 7 0.5 7.4 1.9 9.2 3.4 9.8 6.3 9.1 7.8 8 9.2 8.2 13.5 10.5 15.2 14.8 16.5 15.7 19.4 16.7 22.7 19.2 23.4 20.6 23.1 26.4 23.8 27 26.8 27.5 29.7 27.2 31.1 23.9 32.6 24 34.1 24.7 34.8 26.4 34.2 27.8 31.1 28.2 30.5 29.2 31.1 33 32.6 33.6 35.5 32.6 37 32.8 38.4 33.8 39.9 36 41.1 39.3 40.1 40.8 38 42.2 37.1 43.7 38.4 44.8 39.9 44.7 41.4 44.2 47 39.3 48.7 38.2 50.1 37.9 50.8 39.3 47.9 43.7 48.1 46.5 46.7 48 44.3 48.9 39.9 51.8 38.4 51.4 35.5 48.6 34.1 49 31.1 55.7 29.7 55.8 27.4 52.3 26.8 51.9 25.3 51.8 23.8 53.1 22 56.6 19.4 58.9 18 59.8 16.6 58.1 15.8 55.2 15.1 54.3 9.2 50.9 7.8 51.4 3.8 55.2 4 56.6 4.8 57.1 6.3 55.9 7.8 55.8 8.8 58.1 8.6 59.5 7.6 60.9 3.4 64.4 1.9 64.2 0.5 62 -1 61.4 -1 53.6 0.5 53.4 1.7 52.3 1 49.4 -1 46.8 -1 39.1 0.5 39.2 6.3 40.8 11.5 35 11.2 33.6 10.7 33.2 7.8 33.5 4.8 36.7 3.4 37.2 1.9 36.8 0.6 35 -1 34.4 -1 25.8 0.3 24.9 -1 24.2 -1 18.8 3.4 18.9 6.3 19.7 8 20.6 8.8 22 7.7 23.5 4.8 25.6 1.4 26.4 1.9 26.8 3.4 30.3 4.8 30.2 6.6 27.8 8.8 26.4 10.7 23.9 12.1 22.8 14 26.4 15.1 27.5 20.1 29.2 20.9 33.6 22.4 33.8 22.8 32.1 22.4 29.2 19.4 23.5 18 22.3 13.6 21.3 12 17.7 11 16.3 9.2 14.7 7.8 14.3 3.4 15 1.9 14.5 0.5 12.9 -1 11.9 -1 7.6ZM16.5 41.3 15 43.7 14.8 46.5 15.8 48 16.5 48.4 18 48.3 20.8 46.5 21.4 45.1 20.9 43.6 18 41.5 16.5 41.3ZM157.8 50.9 158.2 50.8 158.2 73.6 152.4 76.1 151.9 76.8 151.8 79.7 154.9 82.5 155.1 84 153.8 85.3 152.4 85 151 84 149.4 82 148 81.2 143.6 80.4 142.4 81.1 141.5 84 140.7 85.1 139.2 85.5 137.8 84.4 136.3 80.7 134.8 81.2 130.4 84.6 128.8 85.4 127.5 86.9 127.2 88.3 128.2 89.7 130.4 91.6 131 92.6 130.9 94.1 126.1 98.4 124.6 99.1 123.1 99 122 98.4 121.6 96.9 124.1 94.1 125.3 91.2 125.3 89.7 124.6 88.3 123.1 87.4 121.7 87.6 118.8 90.6 115.4 92.6 114 95.5 112.9 96.7 111.5 96.6 108.5 95 107.1 95.3 105.6 98 104.2 98.8 102.7 98.8 101.2 98.3 99.8 96.2 96.9 94.1 95.9 92.6 95.4 92.2 93.9 92.3 92.5 94.1 91.9 95.5 92.5 96.8 93.9 96.2 95.5 96.9 95.8 98.4 95.4 99.1 93.9 99.6 93.5 101.3 93.9 104.1 95.6 107 96.1 109.9 95.4 110.9 93.9 110.9 89.6 109 87.3 108.5 86.6 108.1 85.2 103.6 80.8 105.2 76.4 104.8 75.6 105.6 77.7 107 85.2 108.7 85.9 109.9 85.7 111.4 85.2 112.4 83.7 113.6 76.4 114.6 74.9 115.2 73.5 117.7 72 118.4 69.1 117.2 67.6 116.9 66.2 117.2 65.1 118.6 65 120 65.6 121.4 69 124.3 71.9 128.6 72 130.1 70 133 66.1 134.4 63.8 135.8 61.8 138.4 59.6 140.2 58.7 141.6 49.6 141.6 51 137.3 48.7 133.5 47.2 133.1 45.7 133.9 45.3 135.8 45.9 137.3 48.1 140.2 48.2 141.6 31.2 141.6 29.7 140 22.4 139 20.9 138.4 14 133 15.1 131.5 19.9 130.1 21.6 128.6 21.4 127.2 20.2 125.8 15.5 124.3 13.1 122.9 12.9 121.4 14.6 118.6 14.4 114.2 13.6 112.9 10.8 111.4 11.1 109.9 12.1 109 13.6 108.8 15.1 109.8 16.3 111.4 20.9 113.2 22.4 113 23.1 111.4 23.2 109.9 21.2 108.5 18 107 16.8 105.6 16.5 104 17.6 102.7 20.9 103.3 22.4 103.2 25.3 100.4 26.5 99.8 31.1 99.3 31.8 99.8 34.1 103.5 38.4 106.8 39.9 105.8 42 99.8 43 98.4 43.6 96.9 43.3 94.1 44.3 91.9 45.7 91.5 48.7 92.3 50.1 92 51.6 91.1 53.1 86.9 57.4 84.9 60 82.5 61.8 82 64 82.5 66.2 86 67.6 86.3 69.1 85.2 70.6 82.1 73.5 80.6 74.5 79.7 75.2 76.8 76.4 75.6 77.9 75.2 79.9 73.9 79.9 72.5 80.7 71 83.7 72.1 86.6 71.6 87.7 71 88.9 69.6 89.2 66.7 91 65.6 92.5 65.3 93.9 65.9 95.5 68.1 96.9 69 99.8 69.1 107.1 68.4 108.5 67.9 109.4 66.7 110.4 63.8 111.5 62.6 112.9 62.4 114.4 63.2 117.3 66.1 118.8 66.6 120.2 66.2 123.1 63.5 124.6 63.1 127.5 63.2 129 64.1 130.4 69.6 131.9 68.9 133.5 65.3 132.3 63.8 129.9 62.4 127.1 59.5 126.1 58.9 122.7 58.1 123 56.6 126.1 55 130.4 56.6 133.4 60 134.9 60.9 137.8 63.5 139.2 63.8 140.7 63.6 142.1 62.5 142.5 60.9 142.3 59.5 139.2 57.5 137.8 53.7 139.2 52.8 140.7 53.5 143.6 57.4 145.1 57.1 148 54.7 149.4 54.3 151.5 55.2 153.2 56.6 153.7 58.1 153.4 60.9 151.5 66.7 146.9 68.1 145.6 69.6 145.7 71 146.9 72.5 149.4 73.7 150.9 73 152.5 68.1 155.3 65.3 155.8 60.9 156.5 58.1 155.4 55.2 155.4 52.3 156.7 51 157.8 50.9ZM23.8 118.2 23.4 118.6 23.6 120 25.3 120.5 26 120 25.9 118.6 25.3 118.2 23.8 118.2ZM31.1 111.6 30.6 112.8 31.1 113.9 31.7 112.8 31.1 111.6ZM37 127.1 36.3 128.6 37 129.4 38.4 129.3 40 128.6 39.5 127.2 37 127.1ZM53 127.1 52.2 128.6 53 129.5 54.5 129.1 54.5 128 53 127.1ZM57.4 132.9 58.9 134.6 60.6 133 58.9 132 57.4 132.9ZM67.6 108.3 67.4 109.9 67.6 110.3 69.1 110.1 69.1 109.6 67.6 108.3ZM91 96.6 91 97.2 92.2 96.9 91 96.6ZM134.8 73.9 134.7 75.3 137.8 79.5 139.2 79.5 140.7 78.9 141 76.8 140.2 73.9 139.2 73.2 137.8 73.2 134.8 73.9ZM95.9 99.8 96.9 99.2 98.3 99.2 99.8 99.3 100.4 99.8 100.7 102.7 99.8 104 98.3 104.2 96.9 103 95.9 99.8ZM106.7 101.3 107.1 100 108.5 100.3 109.1 101.3 108.5 102.4 106.7 101.3ZM-1 104.1 -1 103.6 0.5 104 3.4 105.7 4.6 107 5.4 109.9 6.3 111.3 9.6 112.8 9.7 115.7 9.1 117.1 7.8 118.1 1.9 120.1 0.5 119.7 -1 118.7 0.5 116.9 1 114.2 0.5 111.2 -1 109.6 -1 104.1ZM97.5 114.2 98.3 113.2 99.8 113.6 100.5 114.2 100.8 115.7 98.2 117.1 96.5 120 95.4 121.2 93.9 121.6 93.5 121.4 92.5 120 92.7 118.6 93.9 117.1 96.9 115.8 97.5 114.2ZM83 117.1 83.7 116.5 85.2 117.9 85.2 120.1 83.7 121.3 82.3 120.8 81.8 120 82.3 118 83 117.1ZM76.1 122.9 76.4 122.4 77.9 122 79.3 122.5 79.7 124.3 77.9 129.3 76.4 130.1 74.3 128.6 76.1 122.9ZM5.1 131.5 6.3 130.7 7.8 130.8 10.1 131.5 11.3 133 7.8 135.8 6.3 136.3 3.4 136.4 2.9 135.8 3.9 134.4 5.1 131.5ZM-1 137.3 -1 136.8 0.5 136.8 2.3 137.3 1.3 138.7 0.7 141.6 -1 141.6 -1 137.3ZM11.7 140.2 13.6 140.4 14.6 141.6 10.4 141.6 11.7 140.2ZM74.8 141.6 74.9 141.5 76.3 141.6 74.9 141.6 74.8 141.6Z"/>
<path fill="#f78e85" d="M38.6 -1 39.9 -1 41.6 -1 39.9 0.3 38.6 -1ZM2.7 12 4.8 11.4 6.6 12 4.8 13.4 3.4 13.3 2.7 12ZM3 20.6 4.8 21.3 5.4 22 4.8 22.7 3.4 23.4 1.6 22 3 20.6ZM-1 29.2 -1 28.5 0.5 29.2 0.9 30.7 0.5 31.6 -1 32.1 -1 29.2ZM14.6 30.7 16.5 30.1 17.9 30.7 19.7 35 20.9 35.7 22.4 35.8 24 35 24.8 30.7 25.3 29.9 26.8 29.5 28.2 30.5 28.8 32.1 28.8 35 27.5 37.9 27.2 39.3 30.5 48 30.4 49.4 29.7 50.2 23.8 49.1 23.2 48 23.5 45.1 23.2 43.7 16.5 38.4 15.1 38.5 12.1 42 11.2 40.8 11.3 39.3 13.6 36.7 14.1 32.1 14.6 30.7ZM2 43.7 3.4 43 4.8 43.6 6.6 46.5 6.6 48 4.8 49.7 3.4 49.3 2.7 48 1.7 45.1 2 43.7ZM39.4 48 41.4 47.4 42 48 39.9 49.5 39.4 48ZM-1 56.6 -1 55.3 0.5 55.8 1.1 56.6 1.1 58.1 0.5 58.9 -1 59.2 -1 56.6ZM148.8 58.1 149.6 58.1 149.9 59.5 149.4 61.9 148 63.9 146.5 63.8 145.4 62.4 145.7 60.9 148 58.3 148.8 58.1ZM124.6 68.1 126.1 67.4 126.6 68.1 126.8 69.6 126.1 71.1 124.6 70.9 124.6 68.1ZM135.8 68.1 137.8 67.4 138.9 68.1 138.3 69.6 136.3 70.9 134.7 69.6 135.8 68.1ZM98 71 102.7 69.8 105.6 70.1 106.9 71 106.9 72.5 105.8 75.3 107.1 75.6 110 72.8 111.5 72.2 112.9 72.1 114.4 72.8 115.8 75 117.3 76 118.8 75.4 121.7 72.9 123.1 72.7 126.1 77.3 127.5 77.1 130.4 75 131.9 75.5 134 78.2 133.9 79.7 130.4 82.5 126.1 82.8 123.1 84.2 121.7 84.1 115.8 80.2 114.4 79.8 112.9 80 110 84 107.1 85.7 106.2 86.9 105 91.2 102.7 93 100.9 92.6 100.4 91.2 101 88.3 100.6 86.9 95.4 80.7 93.9 80.5 92.8 82.5 92.8 84 95.4 86.9 95.5 88.3 89.6 92.5 88.1 92.8 86.6 90.6 85.2 89.9 82.3 91 80.8 91.2 77.9 90.3 76.9 89.7 74.7 86.9 72.1 85.4 72 83.8 74.9 82.4 76.4 81.1 78.2 78.2 85.7 73.9 89.6 72.3 91 72.2 93.9 73.8 95.4 73.2 98 71ZM144.8 75.3 146.5 75.6 148.4 76.8 148.9 78.2 148 79.2 146.5 79.2 144.1 78.2 143.7 76.8 144.8 75.3ZM114.1 86.9 115.8 86.3 117.3 86.3 118.6 86.9 118.8 88.3 117.3 89.9 114.4 90.4 113.4 89.7 113.2 88.3 114.1 86.9ZM56.5 88.3 57.4 87.9 58.9 87.9 59.2 88.3 57.4 90.2 56.3 89.7 56.5 88.3ZM69 89.7 72 89 73.5 89.3 74.9 90.1 75.6 91.2 76.4 94.1 78 96.9 79.3 98.6 81.8 99.8 82.2 101.3 80.8 102.5 79.3 102.7 74.9 101.7 74.1 101.3 72.8 96.9 70.6 96.1 69.1 96.2 67.4 98.4 63.1 101.3 62.9 102.7 64.4 105.6 64.6 107 63.8 111.4 63.3 112 61.8 112.4 57.4 112.3 55.4 112.8 55.7 122.9 55.1 124.3 54.5 124.7 53 124.6 51.6 123.1 50.7 121.4 46.9 118.6 45.6 115.7 42.1 114.2 41.7 112.8 42 108.5 42.8 105 44.3 102.9 47.2 102.6 48.7 101.9 48.9 101.3 47.6 96.9 48 95.5 50.1 94.1 54.5 92.6 56 92.8 58.9 94.2 61.8 93.7 66.2 94.3 67.6 93.8 68.2 91.2 69 89.7ZM84.7 95.5 85.2 94.7 86.6 94.2 87.1 95.5 86.7 98.4 85.2 99 84 98.4 84.1 96.9 84.7 95.5ZM27.4 101.3 28.7 101.3 29.7 101.8 32.2 105.6 32.7 107 31.1 107 26.8 104.1 26 102.7 26.8 101.6 27.4 101.3ZM89.3 102.7 89.6 102.4 89.9 102.7 90.6 104.1 89.6 105 89.2 104.1 89.3 102.7ZM35.2 109.9 35.5 109.7 36.3 111.4 38.4 113.7 39.5 114.2 38.6 115.7 36.8 115.7 35.5 114.8 35 111.4 35.2 109.9ZM73.5 109.9 74.9 109 76.4 109.1 78.8 109.9 78.9 111.4 76.4 112.2 74.9 112 73.8 111.4 73.5 109.9ZM26.5 111.4 26.9 111.4 27.6 112.8 27.9 114.2 27.6 115.7 26.8 115.9 25.3 115.3 24.6 114.2 25.3 112 26.5 111.4ZM5.4 114.2 6.3 113.9 7.1 114.2 7.1 115.7 5.9 115.7 5.4 114.2ZM16 114.2 16.5 113.5 18 113.5 19.5 114.2 20.4 115.7 20 117.1 19.4 117.7 18 118.1 16.5 117.3 15.9 115.7 16 114.2ZM28.8 117.1 29.7 116.6 31.1 116.6 33.7 117.1 34.4 118.6 34.2 120 33.3 121.4 31.1 122.4 29.7 122.6 28.7 121.4 28.8 117.1ZM38.7 122.9 39.9 122.2 41.4 122.7 41.5 124.3 39.9 124.3 38.7 122.9ZM23.6 124.3 25.3 123.2 28.2 123 30.2 125.8 31.8 127.2 32.4 128.6 31.8 130.1 31.1 130.8 29.7 131.2 26.8 129.9 24.6 127.2 23.6 124.3ZM43.3 127.2 44.3 125.9 45.7 126.1 48.5 127.2 49.2 128.6 48.6 130.1 44.3 130.6 43.4 130.1 43.3 127.2ZM39.4 131.5 41.4 131.2 42.5 131.5 42.7 133 41.9 135.8 41.4 136.7 38.6 138.7 37.8 141.6 34 141.6 33.7 140.2 32.6 138.7 31.1 137.9 28.2 137.3 26.3 135.8 29.7 134.4 31.1 134.6 34.1 136.2 35.5 136.2 37.4 133 39.4 131.5Z"/>
<path fill="#f56b5f" d="M20 37.9 20.9 37.5 23.8 37.5 24.3 37.9 24.8 39.3 24.5 40.8 23.8 41.3 21.7 40.8 20.1 39.3 20 37.9ZM100 72.5 102.7 71.9 103.3 72.5 99.8 78.8 98.3 78.9 97.6 76.8 97.8 75.3 98.4 73.9 100 72.5ZM87.1 75.3 89.6 74.7 90.8 75.3 91.3 76.8 89.6 85.4 88.1 86.1 83.7 86.5 80.8 87.7 80.3 86.9 81.5 84 80.6 81.1 80.9 79.7 87.1 75.3ZM111.2 75.3 112.9 74.7 113.4 75.3 112.9 76.8 111.3 76.8 111.2 75.3ZM120.1 76.8 121.7 76.2 123.1 77.4 123.8 79.7 123 81.1 121.7 81.5 118.6 79.7 118.4 78.2 120.1 76.8ZM71.4 92.6 72 92.2 72.5 92.6 72 93.2 71.4 92.6ZM50.9 95.5 53 94.6 54.5 94.7 58.9 97.3 60.3 97.5 61.8 96.8 63.4 96.9 61.8 98.4 59.5 102.7 57.4 104.6 55.8 107 54.5 108 48.7 108.2 47.2 110.8 45.7 111.7 44.3 111 44 109.9 44.3 107.6 45.7 106.2 48.7 105.6 51 102.7 51.2 101.3 50.1 98.4 49.9 96.9 50.9 95.5Z"/>
<path fill="#f24536" d="M52.2 96.9 53 96.4 54.5 96.6 56.6 98.4 57.6 99.8 57.4 101.5 54.5 104.8 53 105.8 52.7 105.6 52.8 104.1 53.4 102.7 53.3 101.3 52.1 98.4 52.2 96.9Z"/>
<rect width="157.2" height="140.6" fill="url(#dots)"/>
<path d="M136.2 5.2L143.8 0.3M141.5 5.2L149.1 0.3M146.7 5.2L154.3 0.3M152 5.2L159.6 0.3M131 10.4L138.6 5.5M136.2 10.4L143.8 5.5M141.5 10.4L149.1 5.5M146.7 10.4L154.3 5.5M152 10.4L159.6 5.5M125.8 15.6L133.4 10.7M131 15.6L138.6 10.7M136.2 15.6L143.8 10.7M141.5 15.6L149.1 10.7M146.7 15.6L154.3 10.7M152 15.6L159.6 10.7M120.5 20.8L128.1 15.9M125.8 20.8L133.4 15.9M131 20.8L138.6 15.9M136.2 20.8L143.8 15.9M141.5 20.8L149.1 15.9M146.7 20.8L154.3 15.9M152 20.8L159.6 15.9M110 26L117.6 21.1M115.3 26L122.9 21.1M120.5 26L128.1 21.1M125.8 26L133.4 21.1M131 26L138.6 21.1M136.2 26L143.8 21.1M141.5 26L149.1 21.1M146.7 26L154.3 21.1M152 26L159.6 21.1M104.8 31.2L112.4 26.3M110 31.2L117.6 26.3M115.3 31.2L122.9 26.3M120.5 31.2L128.1 26.3M125.8 31.2L133.4 26.3M131 31.2L138.6 26.3M136.2 31.2L143.8 26.3M141.5 31.2L149.1 26.3M146.7 31.2L154.3 26.3M152 31.2L159.6 26.3M99.6 36.5L107.2 31.5M104.8 36.5L112.4 31.5M110 36.5L117.6 31.5M115.3 36.5L122.9 31.5M120.5 36.5L128.1 31.5M125.8 36.5L133.4 31.5M131 36.5L138.6 31.5M136.2 36.5L143.8 31.5M141.5 36.5L149.1 31.5M146.7 36.5L154.3 31.5M152 36.5L159.6 31.5M94.3 41.7L101.9 36.7M99.6 41.7L107.2 36.7M104.8 41.7L112.4 36.7M110 41.7L117.6 36.7M115.3 41.7L122.9 36.7M120.5 41.7L128.1 36.7M125.8 41.7L133.4 36.7M131 41.7L138.6 36.7M136.2 41.7L143.8 36.7M141.5 41.7L149.1 36.7M146.7 41.7L154.3 36.7M152 41.7L159.6 36.7M89.1 46.9L96.7 41.9M94.3 46.9L101.9 41.9M99.6 46.9L107.2 41.9M104.8 46.9L112.4 41.9M110 46.9L117.6 41.9M115.3 46.9L122.9 41.9M120.5 46.9L128.1 41.9M125.8 46.9L133.4 41.9M131 46.9L138.6 41.9M136.2 46.9L143.8 41.9M141.5 46.9L149.1 41.9M146.7 46.9L154.3 41.9M152 46.9L159.6 41.9M89.1 52.1L96.7 47.1M94.3 52.1L101.9 47.1M99.6 52.1L107.2 47.1M104.8 52.1L112.4 47.1M110 52.1L117.6 47.1M115.3 52.1L122.9 47.1M120.5 52.1L128.1 47.1M125.8 52.1L133.4 47.1M131 52.1L138.6 47.1M136.2 52.1L143.8 47.1M141.5 52.1L149.1 47.1M89.1 57.3L96.7 52.3M94.3 57.3L101.9 52.3M99.6 57.3L107.2 52.3M104.8 57.3L112.4 52.3M110 57.3L117.6 52.3M115.3 57.3L122.9 52.3M120.5 57.3L128.1 52.3M125.8 57.3L133.4 52.3M131 57.3L138.6 52.3M89.1 62.5L96.7 57.5M94.3 62.5L101.9 57.5M99.6 62.5L107.2 57.5M104.8 62.5L112.4 57.5M110 62.5L117.6 57.5M115.3 62.5L122.9 57.5M120.5 62.5L128.1 57.5M89.1 67.7L96.7 62.8M94.3 67.7L101.9 62.8M99.6 67.7L107.2 62.8M104.8 67.7L112.4 62.8M110 67.7L117.6 62.8M89.1 72.9L96.7 68M94.3 72.9L101.9 68M99.6 72.9L107.2 68M89.1 78.1L96.7 73.2M104.8 88.5L104.5 80.9M110 88.5L109.7 80.9M115.3 88.5L114.9 80.9M120.5 88.5L120 80.9M125.8 88.5L125.2 81.1M131 88.5L130.5 82.2M136.2 88.5L135.7 83.4M141.5 88.5L140.9 84.5M146.7 88.5L146.2 85.6M152 88.5L151.4 86.8M104.8 93.7L103.7 86.2M110 93.7L108.9 86.2M115.3 93.7L114 86.2M120.5 93.7L119.1 86.3M125.8 93.7L124.1 86.3M131 93.7L129.3 87.4M136.2 93.7L134.6 88.6M141.5 93.7L139.8 89.7M146.7 93.7L145 90.8M152 93.7L150.3 92M104.8 98.9L103.1 91.5M110 98.9L108.1 91.6M115.3 98.9L113.2 91.6M120.5 98.9L118.2 91.7M125.8 98.9L123.1 91.8M131 98.9L128.2 92.6M136.2 98.9L133.4 93.8M141.5 98.9L138.7 94.9M146.7 98.9L143.9 96.1M152 98.9L149.2 97.2M104.8 104.1L102.4 96.9M110 104.1L107.4 97M115.3 104.1L112.4 97.1M120.5 104.1L117.3 97.2M125.8 104.1L122.2 97.4M131 104.1L127.1 97.9M136.2 104.1L132.3 99M141.5 104.1L137.5 100.1M146.7 104.1L142.8 101.3M152 104.1L148 102.4M104.8 109.4L101.8 102.4M110 109.4L106.8 102.5M115.3 109.4L111.8 102.6M120.5 109.4L116.7 102.8M125.8 109.4L121.5 103.1M131 109.4L126.2 103.4M136.2 109.4L131.2 104.2M141.5 109.4L136.4 105.3M146.7 109.4L141.6 106.5M152 109.4L146.9 107.6M104.8 114.6L101.3 107.8M110 114.6L106.3 108M115.3 114.6L111.2 108.2M120.5 114.6L116.1 108.4M125.8 114.6L120.9 108.7M131 114.6L125.7 109.1M136.2 114.6L130.4 109.7M141.5 114.6L135.3 110.5M146.7 114.6L140.5 111.7M152 114.6L145.8 112.8M104.8 119.8L100.8 113.3M110 119.8L105.8 113.5M115.3 119.8L110.7 113.7M120.5 119.8L115.6 114M125.8 119.8L120.4 114.4M131 119.8L125.2 114.8M136.2 119.8L130 115.4M141.5 119.8L134.8 116.1M146.7 119.8L139.6 117M152 119.8L144.6 118M104.8 125L100.4 118.8M110 125L105.4 119M115.3 125L110.3 119.2M120.5 125L115.2 119.6M125.8 125L120.1 120M131 125L124.9 120.4M136.2 125L129.8 121M141.5 125L134.6 121.7M146.7 125L139.5 122.5M152 125L144.5 123.4M104.8 130.2L100.1 124.3M110 130.2L105 124.5M115.3 130.2L109.9 124.8M120.5 130.2L114.9 125.1M125.8 130.2L119.8 125.5M131 130.2L124.6 126M136.2 130.2L129.5 126.6M141.5 130.2L134.5 127.2M146.7 130.2L139.4 128M152 130.2L144.5 128.8" stroke="#6e4a46" stroke-width="0.5" stroke-opacity="0.5" fill="none" stroke-linecap="round"/>
<use href="#geo"/>
<path d="M0 91.2 L10 87.5 L20 83.5 L30.4 79.6 L40 77.2 L50 75.2 L60.8 73 L70 71.5 L80.4 69.2 L87 68.2" fill="none" stroke="#000" stroke-width="1.3" stroke-dasharray="4.2 2.4"/>
<path d="M119.5 69.4 L130 69 L145 68.5 L157.2 68" fill="none" stroke="#000" stroke-width="1.3" stroke-dasharray="4.2 2.4"/>
<path d="M88.2 141 L88.8 132 L89.7 124 L90.6 111 L91.5 102.3 L94.2 96.1 L97.7 94.3 L104.8 91.7 L122.5 87.3 L140.1 83.7 L157.2 81.1" fill="none" stroke="#000" stroke-width="1.3"/>
<text x="92.1" y="76.6" font-size="10.4" fill="#111" textLength="25.3" lengthAdjust="spacingAndGlyphs" transform="rotate(-2 92.1 76.6)">5860</text>
<text x="98.8" y="103.2" font-size="10.4" fill="#111" textLength="25.3" lengthAdjust="spacingAndGlyphs" transform="rotate(-8.5 98.8 103.2)">5880</text>
<path d="M0 95.7 L14.5 89.6 L29.6 82.9 L44.6 76 L59.7 69.3 L74.8 63.2 L89.9 56.5 L100 53 L106.5 51.2" fill="none" stroke="#b25824" stroke-width="1.3" stroke-dasharray="4.2 2.4"/>
<path d="M134 44.5 L145 41 L157.2 37.5" fill="none" stroke="#b25824" stroke-width="1.3" stroke-dasharray="4.2 2.4"/>
<path d="M157.2 47.5 L145 49.5 L134 52.3" fill="none" stroke="#b25824" stroke-width="1.3"/>
<path d="M108 64.8 L99 67.8 L89.7 71.5 L80 77 L70.5 84.5 L62.5 92 L57.5 99 L55.4 106 L57 111.5 L61.5 115 L68 117.5 L76.1 119.3 L84 121.3 L92.3 123.5 L105 125.3 L116.7 126.2 L124.6 126.5 L131.8 127.3 L140 129.5 L147 131 L157.2 133" fill="none" stroke="#b25824" stroke-width="1.3"/>
<text x="108.5" y="55.5" font-size="10.4" fill="#b25824" textLength="25.3" lengthAdjust="spacingAndGlyphs" transform="rotate(-21 108.5 55.5)">5860</text>
<text x="108.5" y="69.5" font-size="10.4" fill="#b25824" textLength="25.3" lengthAdjust="spacingAndGlyphs" transform="rotate(-21 108.5 69.5)">5880</text>
</g>
<rect x="0" y="0" width="157.2" height="140.6" fill="none" stroke="#222" stroke-width="1"/>
<path d="M0 5.2 h3.5 M157.2 5.2 h-3.5 M0 31.2 h3.5 M157.2 31.2 h-3.5 M0 57.3 h3.5 M157.2 57.3 h-3.5 M0 83.3 h3.5 M157.2 83.3 h-3.5 M0 109.4 h3.5 M157.2 109.4 h-3.5 M0 135.4 h3.5 M157.2 135.4 h-3.5 M26.2 0 v3.5 M26.2 140.6 v-3.5 M78.6 0 v3.5 M78.6 140.6 v-3.5 M131 0 v3.5 M131 140.6 v-3.5" stroke="#111" stroke-width="1" fill="none"/>
<text x="4.1" y="12.4" font-size="10.2" fill="#111" textLength="70" lengthAdjust="spacingAndGlyphs">(i) Low - High</text>
</g>
<text x="489" y="320.8" font-size="10.2" text-anchor="end" fill="#111" textLength="24.7" lengthAdjust="spacingAndGlyphs">40°N</text>
<text x="489" y="346.8" font-size="10.2" text-anchor="end" fill="#111" textLength="24.7" lengthAdjust="spacingAndGlyphs">35°N</text>
<text x="489" y="372.9" font-size="10.2" text-anchor="end" fill="#111" textLength="24.7" lengthAdjust="spacingAndGlyphs">30°N</text>
<text x="489" y="398.9" font-size="10.2" text-anchor="end" fill="#111" textLength="24.7" lengthAdjust="spacingAndGlyphs">25°N</text>
<text x="489" y="425" font-size="10.2" text-anchor="end" fill="#111" textLength="24.7" lengthAdjust="spacingAndGlyphs">20°N</text>
<text x="489" y="451" font-size="10.2" text-anchor="end" fill="#111" textLength="24.7" lengthAdjust="spacingAndGlyphs">15°N</text>
<text x="56.4" y="462.6" font-size="10.2" text-anchor="middle" fill="#111" textLength="30.6" lengthAdjust="spacingAndGlyphs">110°E</text>
<text x="108.8" y="462.6" font-size="10.2" text-anchor="middle" fill="#111" textLength="30.6" lengthAdjust="spacingAndGlyphs">120°E</text>
<text x="161.2" y="462.6" font-size="10.2" text-anchor="middle" fill="#111" textLength="30.6" lengthAdjust="spacingAndGlyphs">130°E</text>
<text x="289.7" y="462.6" font-size="10.2" text-anchor="middle" fill="#111" textLength="30.6" lengthAdjust="spacingAndGlyphs">110°E</text>
<text x="342.1" y="462.6" font-size="10.2" text-anchor="middle" fill="#111" textLength="30.6" lengthAdjust="spacingAndGlyphs">120°E</text>
<text x="394.5" y="462.6" font-size="10.2" text-anchor="middle" fill="#111" textLength="30.6" lengthAdjust="spacingAndGlyphs">130°E</text>
<text x="518.5" y="462.6" font-size="10.2" text-anchor="middle" fill="#111" textLength="30.6" lengthAdjust="spacingAndGlyphs">110°E</text>
<text x="570.9" y="462.6" font-size="10.2" text-anchor="middle" fill="#111" textLength="30.6" lengthAdjust="spacingAndGlyphs">120°E</text>
<text x="623.3" y="462.6" font-size="10.2" text-anchor="middle" fill="#111" textLength="30.6" lengthAdjust="spacingAndGlyphs">130°E</text>
<text x="107.8" y="9.2" font-size="10.4" text-anchor="middle" fill="#111" textLength="161.6" lengthAdjust="spacingAndGlyphs">Geopotential height @ 500 hPa</text>
<text x="340.9" y="9.2" font-size="10.4" text-anchor="middle" fill="#111" textLength="84.2" lengthAdjust="spacingAndGlyphs">Wind @ 850 hPa</text>
<text x="569.9" y="9.2" font-size="10.4" text-anchor="middle" fill="#111" textLength="66.7" lengthAdjust="spacingAndGlyphs">Moisture flux</text>
<rect x="188.2" y="250.21" width="3.3" height="6.89" fill="#0d0258"/>
<rect x="188.2" y="243.62" width="3.3" height="6.89" fill="#11026e"/>
<rect x="188.2" y="237.03" width="3.3" height="6.89" fill="#140387"/>
<rect x="188.2" y="230.44" width="3.3" height="6.89" fill="#18039e"/>
<rect x="188.2" y="223.85" width="3.3" height="6.89" fill="#1b04b7"/>
<rect x="188.2" y="217.26" width="3.3" height="6.89" fill="#1f04cd"/>
<rect x="188.2" y="210.67" width="3.3" height="6.89" fill="#2305e6"/>
<rect x="188.2" y="204.08" width="3.3" height="6.89" fill="#2706ff"/>
<rect x="188.2" y="197.49" width="3.3" height="6.89" fill="#4225ff"/>
<rect x="188.2" y="190.90" width="3.3" height="6.89" fill="#6149ff"/>
<rect x="188.2" y="184.31" width="3.3" height="6.89" fill="#7c68ff"/>
<rect x="188.2" y="177.72" width="3.3" height="6.89" fill="#9b8bff"/>
<rect x="188.2" y="171.13" width="3.3" height="6.89" fill="#b6abff"/>
<rect x="188.2" y="164.54" width="3.3" height="6.89" fill="#d4ceff"/>
<rect x="188.2" y="157.95" width="3.3" height="6.89" fill="#f0edff"/>
<rect x="188.2" y="151.36" width="3.3" height="6.89" fill="#feefee"/>
<rect x="188.2" y="144.77" width="3.3" height="6.89" fill="#fcd4d0"/>
<rect x="188.2" y="138.18" width="3.3" height="6.89" fill="#fab4ae"/>
<rect x="188.2" y="131.59" width="3.3" height="6.89" fill="#f89890"/>
<rect x="188.2" y="125.00" width="3.3" height="6.89" fill="#f6796e"/>
<rect x="188.2" y="118.41" width="3.3" height="6.89" fill="#f45d50"/>
<rect x="188.2" y="111.82" width="3.3" height="6.89" fill="#f23e2e"/>
<rect x="188.2" y="105.23" width="3.3" height="6.89" fill="#ee210f"/>
<rect x="188.2" y="98.64" width="3.3" height="6.89" fill="#df1f0e"/>
<rect x="188.2" y="92.05" width="3.3" height="6.89" fill="#ce1d0d"/>
<rect x="188.2" y="85.46" width="3.3" height="6.89" fill="#bf1a0c"/>
<rect x="188.2" y="78.87" width="3.3" height="6.89" fill="#ae180b"/>
<rect x="188.2" y="72.28" width="3.3" height="6.89" fill="#9f160a"/>
<rect x="188.2" y="65.69" width="3.3" height="6.89" fill="#8e1409"/>
<rect x="188.2" y="59.10" width="3.3" height="6.89" fill="#7f1208"/>
<path d="M188.2 59.1 L189.8 49 L191.5 59.1 Z" fill="#781108"/>
<path d="M188.2 256.8 L189.8 267 L191.5 256.8 Z" fill="#0b024c"/>
<path d="M188.2 59.1 L189.8 49 L191.5 59.1 L191.5 256.8 L189.8 267 L188.2 256.8 Z" fill="none" stroke="#222" stroke-width="0.8"/>
<path d="M191.5 59.1h3.6" stroke="#222" stroke-width="0.9"/>
<text x="200.7" y="62.8" font-size="10.2" fill="#111" textLength="24.9" lengthAdjust="spacingAndGlyphs">5900</text>
<path d="M191.5 125.0h3.6" stroke="#222" stroke-width="0.9"/>
<text x="200.7" y="128.7" font-size="10.2" fill="#111" textLength="24.9" lengthAdjust="spacingAndGlyphs">5850</text>
<path d="M191.5 190.9h3.6" stroke="#222" stroke-width="0.9"/>
<text x="200.7" y="194.6" font-size="10.2" fill="#111" textLength="24.9" lengthAdjust="spacingAndGlyphs">5800</text>
<path d="M191.5 256.8h3.6" stroke="#222" stroke-width="0.9"/>
<text x="200.7" y="260.5" font-size="10.2" fill="#111" textLength="24.9" lengthAdjust="spacingAndGlyphs">5750</text>
<rect x="188" y="433.38" width="3.3" height="6.03" fill="#0e025d"/>
<rect x="188" y="427.65" width="3.3" height="6.02" fill="#130382"/>
<rect x="188" y="421.93" width="3.3" height="6.03" fill="#1903a6"/>
<rect x="188" y="416.20" width="3.3" height="6.02" fill="#1e04c8"/>
<rect x="188" y="410.48" width="3.3" height="6.03" fill="#2305ec"/>
<rect x="188" y="404.75" width="3.3" height="6.03" fill="#3c1eff"/>
<rect x="188" y="399.03" width="3.3" height="6.02" fill="#6851ff"/>
<rect x="188" y="393.30" width="3.3" height="6.03" fill="#9484ff"/>
<rect x="188" y="387.58" width="3.3" height="6.02" fill="#bdb3ff"/>
<rect x="188" y="381.85" width="3.3" height="6.03" fill="#e9e6ff"/>
<rect x="188" y="376.12" width="3.3" height="6.03" fill="#fde8e7"/>
<rect x="188" y="370.40" width="3.3" height="6.02" fill="#fabbb6"/>
<rect x="188" y="364.68" width="3.3" height="6.03" fill="#f78e85"/>
<rect x="188" y="358.95" width="3.3" height="6.02" fill="#f46458"/>
<rect x="188" y="353.23" width="3.3" height="6.03" fill="#f13727"/>
<rect x="188" y="347.50" width="3.3" height="6.03" fill="#e31f0e"/>
<rect x="188" y="341.78" width="3.3" height="6.02" fill="#cb1c0d"/>
<rect x="188" y="336.05" width="3.3" height="6.03" fill="#b2190b"/>
<rect x="188" y="330.33" width="3.3" height="6.02" fill="#9c160a"/>
<rect x="188" y="324.60" width="3.3" height="6.03" fill="#831208"/>
<path d="M188 324.6 L189.7 318.1 L191.3 324.6 Z" fill="#781108"/>
<path d="M188 439.1 L189.7 446.2 L191.3 439.1 Z" fill="#0b024c"/>
<path d="M188 324.6 L189.7 318.1 L191.3 324.6 L191.3 439.1 L189.7 446.2 L188 439.1 Z" fill="none" stroke="#222" stroke-width="0.8"/>
<path d="M191.3 324.6h3.6" stroke="#222" stroke-width="0.9"/>
<text x="201.6" y="328.3" font-size="10.2" fill="#111" textLength="12.2" lengthAdjust="spacingAndGlyphs">50</text>
<path d="M191.3 347.5h3.6" stroke="#222" stroke-width="0.9"/>
<text x="201.6" y="351.2" font-size="10.2" fill="#111" textLength="12.2" lengthAdjust="spacingAndGlyphs">30</text>
<path d="M191.3 370.4h3.6" stroke="#222" stroke-width="0.9"/>
<text x="201.6" y="374.1" font-size="10.2" fill="#111" textLength="12.2" lengthAdjust="spacingAndGlyphs">10</text>
<path d="M191.3 393.3h3.6" stroke="#222" stroke-width="0.9"/>
<text x="201.6" y="397.0" font-size="10.2" fill="#111" textLength="20.6" lengthAdjust="spacingAndGlyphs">−10</text>
<path d="M191.3 416.2h3.6" stroke="#222" stroke-width="0.9"/>
<text x="201.6" y="419.9" font-size="10.2" fill="#111" textLength="20.6" lengthAdjust="spacingAndGlyphs">−30</text>
<path d="M191.3 439.1h3.6" stroke="#222" stroke-width="0.9"/>
<text x="201.6" y="442.8" font-size="10.2" fill="#111" textLength="20.6" lengthAdjust="spacingAndGlyphs">−50</text>
<rect x="421.3" y="252.53" width="3.5" height="14.07" fill="#f2f7fd"/>
<rect x="421.3" y="238.75" width="3.5" height="14.07" fill="#e5eff9"/>
<rect x="421.3" y="224.98" width="3.5" height="14.07" fill="#d9e6f4"/>
<rect x="421.3" y="211.21" width="3.5" height="14.07" fill="#ccdef0"/>
<rect x="421.3" y="197.43" width="3.5" height="14.07" fill="#bad5ea"/>
<rect x="421.3" y="183.66" width="3.5" height="14.07" fill="#a5cce2"/>
<rect x="421.3" y="169.89" width="3.5" height="14.07" fill="#8cbedc"/>
<rect x="421.3" y="156.11" width="3.5" height="14.07" fill="#70aed6"/>
<rect x="421.3" y="142.34" width="3.5" height="14.07" fill="#5ba0cd"/>
<rect x="421.3" y="128.57" width="3.5" height="14.07" fill="#4790c5"/>
<rect x="421.3" y="114.79" width="3.5" height="14.07" fill="#377fbc"/>
<rect x="421.3" y="101.02" width="3.5" height="14.07" fill="#286eb1"/>
<rect x="421.3" y="87.25" width="3.5" height="14.07" fill="#1b5da4"/>
<rect x="421.3" y="73.47" width="3.5" height="14.07" fill="#134b91"/>
<rect x="421.3" y="59.70" width="3.5" height="14.07" fill="#113a77"/>
<path d="M421.3 59.7 L423.1 47.8 L424.8 59.7 Z" fill="#11316b"/>
<path d="M421.3 59.7 L423.1 47.8 L424.8 59.7 L424.8 266.3 L421.3 266.3 L421.3 266.3 Z" fill="none" stroke="#222" stroke-width="0.8"/>
<path d="M424.8 59.7h3.6" stroke="#222" stroke-width="0.9"/>
<text x="433.7" y="63.4" font-size="10.2" fill="#111" textLength="12.2" lengthAdjust="spacingAndGlyphs">15</text>
<path d="M424.8 128.6h3.6" stroke="#222" stroke-width="0.9"/>
<text x="433.7" y="132.3" font-size="10.2" fill="#111" textLength="12.2" lengthAdjust="spacingAndGlyphs">10</text>
<path d="M424.8 197.4h3.6" stroke="#222" stroke-width="0.9"/>
<text x="433.7" y="201.1" font-size="10.2" fill="#111" textLength="5.9" lengthAdjust="spacingAndGlyphs">5</text>
<path d="M424.8 266.3h3.6" stroke="#222" stroke-width="0.9"/>
<text x="433.7" y="270.0" font-size="10.2" fill="#111" textLength="5.9" lengthAdjust="spacingAndGlyphs">0</text>
<rect x="421.3" y="433.77" width="3.5" height="6.03" fill="#0e025d"/>
<rect x="421.3" y="428.05" width="3.5" height="6.02" fill="#130382"/>
<rect x="421.3" y="422.32" width="3.5" height="6.03" fill="#1903a6"/>
<rect x="421.3" y="416.60" width="3.5" height="6.02" fill="#1e04c8"/>
<rect x="421.3" y="410.88" width="3.5" height="6.03" fill="#2305ec"/>
<rect x="421.3" y="405.15" width="3.5" height="6.03" fill="#3c1eff"/>
<rect x="421.3" y="399.43" width="3.5" height="6.02" fill="#6851ff"/>
<rect x="421.3" y="393.70" width="3.5" height="6.03" fill="#9484ff"/>
<rect x="421.3" y="387.98" width="3.5" height="6.02" fill="#bdb3ff"/>
<rect x="421.3" y="382.25" width="3.5" height="6.03" fill="#e9e6ff"/>
<rect x="421.3" y="376.52" width="3.5" height="6.03" fill="#fde8e7"/>
<rect x="421.3" y="370.80" width="3.5" height="6.02" fill="#fabbb6"/>
<rect x="421.3" y="365.07" width="3.5" height="6.03" fill="#f78e85"/>
<rect x="421.3" y="359.35" width="3.5" height="6.02" fill="#f46458"/>
<rect x="421.3" y="353.62" width="3.5" height="6.03" fill="#f13727"/>
<rect x="421.3" y="347.90" width="3.5" height="6.03" fill="#e31f0e"/>
<rect x="421.3" y="342.18" width="3.5" height="6.02" fill="#cb1c0d"/>
<rect x="421.3" y="336.45" width="3.5" height="6.03" fill="#b2190b"/>
<rect x="421.3" y="330.73" width="3.5" height="6.02" fill="#9c160a"/>
<rect x="421.3" y="325.00" width="3.5" height="6.03" fill="#831208"/>
<path d="M421.3 325 L423.1 318.5 L424.8 325 Z" fill="#781108"/>
<path d="M421.3 439.5 L423.1 447 L424.8 439.5 Z" fill="#0b024c"/>
<path d="M421.3 325 L423.1 318.5 L424.8 325 L424.8 439.5 L423.1 447 L421.3 439.5 Z" fill="none" stroke="#222" stroke-width="0.8"/>
<path d="M424.8 325.0h3.6" stroke="#222" stroke-width="0.9"/>
<text x="433.3" y="328.7" font-size="10.2" fill="#111" textLength="12.2" lengthAdjust="spacingAndGlyphs">10</text>
<path d="M424.8 353.6h3.6" stroke="#222" stroke-width="0.9"/>
<text x="433.3" y="357.3" font-size="10.2" fill="#111" textLength="5.9" lengthAdjust="spacingAndGlyphs">5</text>
<path d="M424.8 382.2h3.6" stroke="#222" stroke-width="0.9"/>
<text x="433.3" y="385.9" font-size="10.2" fill="#111" textLength="5.9" lengthAdjust="spacingAndGlyphs">0</text>
<path d="M424.8 410.9h3.6" stroke="#222" stroke-width="0.9"/>
<text x="433.3" y="414.6" font-size="10.2" fill="#111" textLength="14.2" lengthAdjust="spacingAndGlyphs">−5</text>
<path d="M424.8 439.5h3.6" stroke="#222" stroke-width="0.9"/>
<text x="433.3" y="443.2" font-size="10.2" fill="#111" textLength="20.6" lengthAdjust="spacingAndGlyphs">−10</text>
<rect x="650" y="386.23" width="3.2" height="6.97" fill="#0c0252"/>
<rect x="650" y="372.89" width="3.2" height="13.64" fill="#100268"/>
<rect x="650" y="359.56" width="3.2" height="13.64" fill="#140387"/>
<rect x="650" y="346.22" width="3.2" height="13.64" fill="#1903a6"/>
<rect x="650" y="332.88" width="3.2" height="13.64" fill="#1d04c2"/>
<rect x="650" y="319.54" width="3.2" height="13.64" fill="#2204e1"/>
<rect x="650" y="306.21" width="3.2" height="13.64" fill="#2706ff"/>
<rect x="650" y="292.87" width="3.2" height="13.64" fill="#492dff"/>
<rect x="650" y="279.53" width="3.2" height="13.64" fill="#6e58ff"/>
<rect x="650" y="266.19" width="3.2" height="13.64" fill="#9484ff"/>
<rect x="650" y="252.86" width="3.2" height="13.64" fill="#b6abff"/>
<rect x="650" y="239.52" width="3.2" height="13.64" fill="#dbd6ff"/>
<rect x="650" y="226.18" width="3.2" height="13.64" fill="#fffdfd"/>
<rect x="650" y="212.84" width="3.2" height="13.64" fill="#fcdad8"/>
<rect x="650" y="199.51" width="3.2" height="13.64" fill="#fab4ae"/>
<rect x="650" y="186.17" width="3.2" height="13.64" fill="#f78e85"/>
<rect x="650" y="172.83" width="3.2" height="13.64" fill="#f56b5f"/>
<rect x="650" y="159.49" width="3.2" height="13.64" fill="#f24536"/>
<rect x="650" y="146.16" width="3.2" height="13.64" fill="#ee210f"/>
<rect x="650" y="132.82" width="3.2" height="13.64" fill="#db1e0e"/>
<rect x="650" y="119.48" width="3.2" height="13.64" fill="#c71b0d"/>
<rect x="650" y="106.14" width="3.2" height="13.64" fill="#b2190b"/>
<rect x="650" y="92.81" width="3.2" height="13.64" fill="#9f160a"/>
<rect x="650" y="79.47" width="3.2" height="13.64" fill="#8b1309"/>
<rect x="650" y="72.80" width="3.2" height="6.97" fill="#7c1108"/>
<path d="M650 72.8 L651.6 56.7 L653.2 72.8 Z" fill="#781108"/>
<path d="M650 392.9 L651.6 408.4 L653.2 392.9 Z" fill="#0b024c"/>
<path d="M650 72.8 L651.6 56.7 L653.2 72.8 L653.2 392.9 L651.6 408.4 L650 392.9 Z" fill="none" stroke="#222" stroke-width="0.8"/>
<path d="M653.2 72.8h3.6" stroke="#222" stroke-width="0.9"/>
<text x="662.6" y="76.5" font-size="10.2" fill="#111" textLength="12.2" lengthAdjust="spacingAndGlyphs">60</text>
<path d="M653.2 126.1h3.6" stroke="#222" stroke-width="0.9"/>
<text x="662.6" y="129.8" font-size="10.2" fill="#111" textLength="12.2" lengthAdjust="spacingAndGlyphs">40</text>
<path d="M653.2 179.5h3.6" stroke="#222" stroke-width="0.9"/>
<text x="662.6" y="183.2" font-size="10.2" fill="#111" textLength="12.2" lengthAdjust="spacingAndGlyphs">20</text>
<path d="M653.2 232.8h3.6" stroke="#222" stroke-width="0.9"/>
<text x="662.6" y="236.5" font-size="10.2" fill="#111" textLength="5.9" lengthAdjust="spacingAndGlyphs">0</text>
<path d="M653.2 286.2h3.6" stroke="#222" stroke-width="0.9"/>
<text x="662.6" y="289.9" font-size="10.2" fill="#111" textLength="20.6" lengthAdjust="spacingAndGlyphs">−20</text>
<path d="M653.2 339.6h3.6" stroke="#222" stroke-width="0.9"/>
<text x="662.6" y="343.2" font-size="10.2" fill="#111" textLength="20.6" lengthAdjust="spacingAndGlyphs">−40</text>
<path d="M653.2 392.9h3.6" stroke="#222" stroke-width="0.9"/>
<text x="662.6" y="396.6" font-size="10.2" fill="#111" textLength="20.6" lengthAdjust="spacingAndGlyphs">−60</text>
<text x="421.3" y="22.8" font-size="10.2" fill="#111" textLength="12.2" lengthAdjust="spacingAndGlyphs">10</text>
<path d="M423 26.9H431" stroke="#c8a8a0" stroke-width="1.2"/>
<text x="650.9" y="22.8" font-size="10.2" fill="#111" textLength="18.6" lengthAdjust="spacingAndGlyphs">300</text>
<path d="M657 26.9H664.4" stroke="#c8a8a0" stroke-width="1.2"/>
</svg></body></html>
